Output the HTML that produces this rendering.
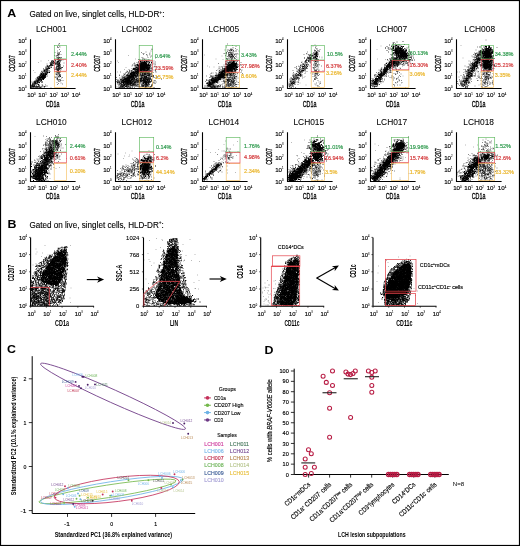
<!DOCTYPE html><html><head><meta charset="utf-8"><style>html,body{margin:0;padding:0;background:#fff;overflow:hidden;width:520px;height:546px;}svg{display:block;will-change:transform;}</style></head><body><svg width="520" height="546" viewBox="0 0 520 546" font-family="Liberation Sans, sans-serif">
<rect x="0" y="0" width="520" height="546" fill="#fff"/>
<text transform="translate(7.2 16.9) scale(1.15 1)" x="0" y="0" font-size="10.8" font-weight="bold">A</text>
<text x="29.40" y="16.80" font-size="8.6" fill="#000" textLength="135.0" lengthAdjust="spacingAndGlyphs" stroke="#000" stroke-width="0.12">Gated on live, singlet cells, HLD-DR<tspan font-size="5" dy="-3.2">+</tspan><tspan dy="3.2">:</tspan></text>
<path transform="scale(0.5)" d="M97 121h0m-15 1h0m33 0h0m-38 3h0m-10 16h0m26 2h0m-23 2h0m39 9h0m-30 5h0m0 7h0m5 3h0m7 0h0m3 3h0m8 3h0" stroke="#000" stroke-width="1.20" stroke-linecap="square" fill="none" stroke-opacity="0.45"/>
<path transform="scale(0.5)" d="M119 87h0m-1 1h0m-1 2h0m2 2h0m-4 1h0m5 1h0m-5 1h0m2 0h0m2 4h0m-4 3h0m6 1h0m-11 2h0m6 0h0m3 0h0m-3 1h0m-1 1h0m3 0h0m0 0h0m1 1h0m-3 1h0m1 0h0m1 0h0m4 0h0m-7 1h0m2 0h0m1 0h0m-9 1h0m5 0h0m1 0h0m-3 1h0m1 0h0m4 0h0m-1 2h0m-2 1h0m3 0h0m2 0h0m0 0h0m1 0h0m3 0h0m-9 1h0m1 0h0m1 0h0m1 0h0m4 0h0m1 0h0m-5 1h0m0 0h0m0 1h0m1 0h0m2 0h0m-5 1h0m0 0h0m1 0h0m1 0h0m1 0h0m0 0h0m-4 1h0m4 0h0m1 0h0m3 0h0m0 0h0m4 0h0m-22 1h0m2 0h0m5 0h0m0 0h0m6 0h0m1 0h0m0 0h0m1 0h0m2 0h0m1 0h0m-19 1h0m2 0h0m0 0h0m2 0h0m13 0h0m-17 1h0m3 0h0m1 0h0m0 0h0m0 0h0m0 0h0m5 0h0m3 0h0m0 0h0m1 0h0m0 0h0m1 0h0m0 0h0m0 0h0m2 0h0m2 0h0m-18 1h0m0 0h0m0 0h0m2 0h0m2 0h0m4 0h0m3 0h0m1 0h0m1 0h0m0 0h0m0 0h0m0 0h0m0 0h0m1 0h0m-12 1h0m0 0h0m4 0h0m0 0h0m0 0h0m3 0h0m2 0h0m1 0h0m4 0h0m1 0h0m-20 1h0m1 0h0m1 0h0m0 0h0m0 0h0m0 0h0m2 0h0m3 0h0m0 0h0m0 0h0m1 0h0m1 0h0m3 0h0m2 0h0m2 0h0m0 0h0m3 0h0m0 0h0m0 0h0m9 0h0m-25 1h0m2 0h0m1 0h0m2 0h0m3 0h0m0 0h0m1 0h0m1 0h0m1 0h0m2 0h0m0 0h0m1 0h0m1 0h0m1 0h0m0 0h0m0 0h0m0 0h0m-25 1h0m7 0h0m1 0h0m0 0h0m2 0h0m11 0h0m1 0h0m3 0h0m1 0h0m-19 1h0m0 0h0m1 0h0m1 0h0m0 0h0m1 0h0m0 0h0m0 0h0m7 0h0m1 0h0m2 0h0m1 0h0m1 0h0m1 0h0m2 0h0m1 0h0m-19 1h0m1 0h0m1 0h0m0 0h0m4 0h0m7 0h0m0 0h0m2 0h0m1 0h0m0 0h0m0 0h0m0 0h0m1 0h0m1 0h0m1 0h0m1 0h0m-26 1h0m0 0h0m4 0h0m1 0h0m1 0h0m0 0h0m2 0h0m1 0h0m0 0h0m1 0h0m0 0h0m1 0h0m10 0h0m1 0h0m2 0h0m0 0h0m1 0h0m-27 1h0m5 0h0m0 0h0m1 0h0m1 0h0m0 0h0m14 0h0m2 0h0m2 0h0m1 0h0m0 0h0m8 0h0m-35 1h0m3 0h0m0 0h0m0 0h0m1 0h0m1 0h0m1 0h0m16 0h0m0 0h0m1 0h0m1 0h0m1 0h0m1 0h0m0 0h0m0 0h0m3 0h0m-23 1h0m4 0h0m1 0h0m10 0h0m0 0h0m3 0h0m0 0h0m2 0h0m3 0h0m-30 1h0m2 0h0m3 0h0m0 0h0m1 0h0m1 0h0m4 0h0m1 0h0m10 0h0m5 0h0m1 0h0m3 0h0m1 0h0m1 0h0m1 0h0m0 0h0m-31 1h0m3 0h0m1 0h0m0 0h0m2 0h0m8 0h0m3 0h0m2 0h0m3 0h0m0 0h0m1 0h0m1 0h0m0 0h0m1 0h0m1 0h0m0 0h0m-33 1h0m5 0h0m2 0h0m1 0h0m0 0h0m1 0h0m1 0h0m0 0h0m1 0h0m1 0h0m15 0h0m3 0h0m0 0h0m1 0h0m2 0h0m0 0h0m1 0h0m1 0h0m-31 1h0m1 0h0m1 0h0m0 0h0m3 0h0m1 0h0m15 0h0m1 0h0m1 0h0m0 0h0m0 0h0m1 0h0m3 0h0m2 0h0m1 0h0m2 0h0m-31 1h0m0 0h0m1 0h0m0 0h0m2 0h0m0 0h0m0 0h0m14 0h0m2 0h0m3 0h0m2 0h0m0 0h0m0 0h0m2 0h0m0 0h0m1 0h0m-32 1h0m1 0h0m0 0h0m1 0h0m0 0h0m3 0h0m0 0h0m21 0h0m2 0h0m1 0h0m0 0h0m1 0h0m-25 1h0m1 0h0m1 0h0m1 0h0m0 0h0m3 0h0m18 0h0m0 0h0m0 0h0m1 0h0m-33 1h0m4 0h0m1 0h0m2 0h0m0 0h0m0 0h0m25 0h0m0 0h0m1 0h0m3 0h0m1 0h0m-38 1h0m6 0h0m5 0h0m6 0h0m13 0h0m4 0h0m-33 1h0m1 0h0m7 0h0m1 0h0m17 0h0m5 0h0m0 0h0m2 0h0m0 0h0m2 0h0m1 0h0m-38 1h0m3 0h0m7 0h0m0 0h0m4 0h0m18 0h0m0 0h0m4 0h0m2 0h0m-35 1h0m3 0h0m27 0h0m2 0h0m0 0h0m2 0h0m-37 1h0m1 0h0m0 0h0m2 0h0m2 0h0m0 0h0m1 0h0m24 0h0m2 0h0m3 0h0m2 0h0m-38 1h0m3 0h0m3 0h0m-4 1h0m1 0h0m0 0h0m0 0h0m2 0h0m1 0h0m3 0h0m22 0h0m1 0h0m1 0h0m2 0h0m2 0h0m3 0h0m-42 1h0m2 0h0m0 0h0m0 0h0m1 0h0m1 0h0m1 0h0m0 0h0m2 0h0m1 0h0m2 0h0m25 0h0m5 0h0m0 0h0m0 0h0m1 0h0m-40 1h0m1 0h0m0 0h0m1 0h0m2 0h0m1 0h0m1 0h0m0 0h0m0 0h0m2 0h0m32 0h0m0 0h0m-40 1h0m1 0h0m1 0h0m1 0h0m1 0h0m1 0h0m2 0h0m1 0h0m27 0h0m3 0h0m0 0h0m1 0h0m2 0h0m-44 1h0m1 0h0m1 0h0m0 0h0m4 0h0m0 0h0m6 0h0m23 0h0m5 0h0m4 0h0m0 0h0m0 0h0m-46 1h0m3 0h0m2 0h0m2 0h0m2 0h0m7 0h0m18 0h0m8 0h0m2 0h0m-45 1h0m1 0h0m1 0h0m2 0h0m0 0h0m1 0h0m1 0h0m0 0h0m1 0h0m0 0h0m2 0h0m2 0h0m26 0h0m3 0h0m11 0h0m-50 1h0m1 0h0m2 0h0m1 0h0m0 0h0m1 0h0m1 0h0m3 0h0m1 0h0m2 0h0m27 0h0m1 0h0m8 0h0m-51 1h0m4 0h0m1 0h0m0 0h0m1 0h0m1 0h0m2 0h0m34 0h0m0 0h0m-41 1h0m2 0h0m2 0h0m1 0h0m0 0h0m0 0h0m1 0h0m0 0h0m33 0h0m-37 1h0m0 0h0m1 0h0m0 0h0m3 0h0m2 0h0m33 0h0m1 0h0m3 0h0m-47 1h0m0 0h0m1 0h0m0 0h0m2 0h0m1 0h0m2 0h0m0 0h0m38 0h0m0 0h0m2 0h0m2 0h0m1 0h0m0 0h0m-47 1h0m2 0h0m0 0h0m0 0h0m1 0h0m3 0h0m42 0h0m4 0h0m-57 1h0m2 0h0m1 0h0m0 0h0m2 0h0m0 0h0m1 0h0m1 0h0m1 0h0m1 0h0m39 0h0m-49 1h0m1 0h0m2 0h0m1 0h0m1 0h0m2 0h0m1 0h0m0 0h0m1 0h0m41 0h0m2 0h0m-56 1h0m4 0h0m1 0h0m0 0h0m1 0h0m1 0h0m0 0h0m2 0h0m2 0h0m4 0h0m-12 1h0m2 0h0m1 0h0m0 0h0m1 0h0m0 0h0m1 0h0m2 0h0m1 0h0m39 0h0m-49 1h0m4 0h0m1 0h0m0 0h0m1 0h0m1 0h0m3 0h0m0 0h0m0 0h0m0 0h0m1 0h0m46 0h0m-56 1h0m2 0h0m1 0h0m1 0h0m1 0h0m0 0h0m1 0h0m0 0h0m1 0h0m44 0h0m-52 1h0m0 0h0m2 0h0m0 0h0m1 0h0m1 0h0m2 0h0m1 0h0m1 0h0m52 0h0m-61 1h0m1 0h0m1 0h0m2 0h0m2 0h0m5 0h0m40 0h0m-49 1h0m0 0h0m3 0h0m0 0h0m1 0h0m9 0h0m6 0h0m-22 1h0m1 0h0m1 0h0m0 0h0m1 0h0m1 0h0m2 0h0m4 0h0m4 0h0m2 0h0m-16 1h0m1 0h0m1 0h0m1 0h0m2 0h0m1 0h0m0 0h0m1 0h0m7 0h0m7 0h0m1 0h0m1 0h0m5 0h0m3 0h0m-30 1h0m0 0h0m0 0h0m1 0h0m1 0h0m1 0h0m0 0h0m0 0h0m1 0h0m2 0h0m0 0h0m3 0h0m1 0h0m0 0h0m0 0h0m1 0h0m2 0h0m1 0h0m0 0h0m10 0h0m1 0h0m0 0h0m1 0h0m-27 1h0m2 0h0m2 0h0m1 0h0m0 0h0m1 0h0m1 0h0m1 0h0m1 0h0m1 0h0m2 0h0m2 0h0m2 0h0m0 0h0m1 0h0m1 0h0m2 0h0m0 0h0m-20 1h0m1 0h0m2 0h0m6 0h0m0 0h0m2 0h0m1 0h0m3 0h0m2 0h0m1 0h0m0 0h0m8 0h0m-25 1h0m3 0h0m9 0h0m6 0h0m4 0h0" stroke="#000" stroke-width="1.40" stroke-linecap="square" fill="none" stroke-opacity="0.65"/>
<path transform="scale(0.5)" d="M99 137h0m-10 4h0m9 1h0m-10 1h0m6 0h0m-4 1h0m4 0h0m1 1h0m3 0h0m1 0h0m-13 1h0m4 0h0m2 0h0m3 0h0m-5 1h0m2 0h0m-10 1h0m1 0h0m0 0h0m4 0h0m0 0h0m4 0h0m0 0h0m2 0h0m1 0h0m-10 1h0m6 0h0m1 0h0m2 0h0m-6 1h0m1 0h0m2 0h0m1 0h0m-6 1h0m2 0h0m0 0h0m0 0h0m1 0h0m1 0h0m1 0h0m0 0h0m0 0h0m-5 1h0m3 0h0m2 0h0m0 0h0m4 0h0m-14 1h0m3 0h0m1 0h0m1 0h0m1 0h0m0 0h0m0 0h0m0 0h0m2 0h0m0 0h0m-6 1h0m1 0h0m1 0h0m0 0h0m1 0h0m1 0h0m2 0h0m1 0h0m1 0h0m1 0h0m0 0h0m-12 1h0m2 0h0m2 0h0m1 0h0m0 0h0m0 0h0m1 0h0m0 0h0m0 0h0m1 0h0m0 0h0m1 0h0m1 0h0m0 0h0m0 0h0m0 0h0m1 0h0m-8 1h0m0 0h0m3 0h0m1 0h0m1 0h0m1 0h0m0 0h0m2 0h0m-13 1h0m8 0h0m1 0h0m2 0h0m1 0h0m-4 1h0m2 0h0m1 0h0m-10 1h0m3 0h0m0 0h0m2 0h0m2 0h0m3 0h0m-4 1h0m-5 1h0m5 0h0m-8 1h0m5 0h0m1 0h0m-6 1h0m9 0h0m-8 2h0m2 0h0m1 0h0m5 0h0m-7 4h0" stroke="#000" stroke-width="2.00" stroke-linecap="square" fill="none" stroke-opacity="1.0"/>
<text x="51.30" y="32.00" font-size="8.4" fill="#000" text-anchor="middle" stroke="#000" stroke-width="0.05">LCH001</text>
<path d="M30.50 39.20V88.50H75.60" stroke="#000" stroke-width="1.1" fill="none"/>
<text x="22.40" y="90.70" font-size="6.2" text-anchor="middle" fill="#000" stroke="#000" stroke-width="0.15">10<tspan font-size="2.79" dy="-2.23" stroke-width="0.05">0</tspan></text>
<text x="22.40" y="78.65" font-size="6.2" text-anchor="middle" fill="#000" stroke="#000" stroke-width="0.15">10<tspan font-size="2.79" dy="-2.23" stroke-width="0.05">1</tspan></text>
<text x="22.40" y="66.60" font-size="6.2" text-anchor="middle" fill="#000" stroke="#000" stroke-width="0.15">10<tspan font-size="2.79" dy="-2.23" stroke-width="0.05">2</tspan></text>
<text x="22.40" y="54.55" font-size="6.2" text-anchor="middle" fill="#000" stroke="#000" stroke-width="0.15">10<tspan font-size="2.79" dy="-2.23" stroke-width="0.05">3</tspan></text>
<text x="22.40" y="42.50" font-size="6.2" text-anchor="middle" fill="#000" stroke="#000" stroke-width="0.15">10<tspan font-size="2.79" dy="-2.23" stroke-width="0.05">4</tspan></text>
<text x="31.40" y="96.80" font-size="6.2" text-anchor="middle" fill="#000" stroke="#000" stroke-width="0.15">10<tspan font-size="2.79" dy="-2.23" stroke-width="0.05">0</tspan></text>
<text x="42.55" y="96.80" font-size="6.2" text-anchor="middle" fill="#000" stroke="#000" stroke-width="0.15">10<tspan font-size="2.79" dy="-2.23" stroke-width="0.05">1</tspan></text>
<text x="53.70" y="96.80" font-size="6.2" text-anchor="middle" fill="#000" stroke="#000" stroke-width="0.15">10<tspan font-size="2.79" dy="-2.23" stroke-width="0.05">2</tspan></text>
<text x="64.85" y="96.80" font-size="6.2" text-anchor="middle" fill="#000" stroke="#000" stroke-width="0.15">10<tspan font-size="2.79" dy="-2.23" stroke-width="0.05">3</tspan></text>
<text x="76.00" y="96.80" font-size="6.2" text-anchor="middle" fill="#000" stroke="#000" stroke-width="0.15">10<tspan font-size="2.79" dy="-2.23" stroke-width="0.05">4</tspan></text>
<text x="14.80" y="63.50" font-size="8.6" fill="#000" text-anchor="middle" textLength="16.5" lengthAdjust="spacingAndGlyphs" transform="rotate(-90 14.80 63.50)" stroke="#000" stroke-width="0.3">CD207</text>
<text x="52.60" y="107.00" font-size="8.6" fill="#000" text-anchor="middle" textLength="13.7" lengthAdjust="spacingAndGlyphs" stroke="#000" stroke-width="0.3">CD1a</text>
<rect x="54.30" y="45.50" width="12.30" height="13.40" fill="none" stroke="#5fb95f" stroke-width="0.65"/>
<rect x="54.30" y="71.80" width="12.30" height="15.70" fill="none" stroke="#f6c160" stroke-width="0.65"/>
<rect x="54.30" y="59.40" width="12.30" height="11.80" fill="none" stroke="#e4444c" stroke-width="0.65"/>
<text x="71.00" y="55.90" font-size="5.5" fill="#2f9a4e" stroke="#2f9a4e" stroke-width="0.18">2.44%</text>
<text x="71.00" y="67.30" font-size="5.5" fill="#d3383a" stroke="#d3383a" stroke-width="0.18">2.40%</text>
<text x="71.00" y="76.80" font-size="5.5" fill="#eab52a" stroke="#eab52a" stroke-width="0.18">2.44%</text>
<path transform="scale(0.5)" d="M257 111h0m14 7h0m-36 4h0m2 3h0m15 10h0m16 0h0m-19 4h0m-14 5h0m16 1h0m-5 8h0m9 0h0m0 1h0m13 4h0m2 5h0m-35 2h0m3 0h0m19 0h0m11 0h0m-30 6h0m42 4h0" stroke="#000" stroke-width="1.20" stroke-linecap="square" fill="none" stroke-opacity="0.45"/>
<path transform="scale(0.5)" d="M304 98h0m0 1h0m-2 3h0m-10 2h0m-9 1h0m17 1h0m-14 1h0m2 0h0m11 1h0m-12 1h0m6 0h0m1 1h0m6 0h0m-5 2h0m8 0h0m-2 2h0m-17 1h0m12 0h0m-10 1h0m25 0h0m-26 2h0m7 0h0m-15 1h0m2 0h0m10 0h0m7 0h0m2 0h0m-17 1h0m4 0h0m7 0h0m-11 1h0m3 0h0m4 0h0m6 0h0m4 0h0m-15 1h0m8 0h0m2 0h0m11 0h0m4 0h0m-27 1h0m7 0h0m7 0h0m2 0h0m2 0h0m3 0h0m-24 1h0m7 0h0m3 0h0m0 0h0m5 0h0m18 0h0m-37 1h0m7 0h0m1 0h0m0 0h0m2 0h0m0 0h0m1 0h0m3 0h0m0 0h0m4 0h0m3 0h0m2 0h0m-28 1h0m15 0h0m4 0h0m0 0h0m1 0h0m0 0h0m1 0h0m9 0h0m9 0h0m-40 1h0m11 0h0m0 0h0m3 0h0m0 0h0m1 0h0m5 0h0m1 0h0m1 0h0m0 0h0m1 0h0m1 0h0m2 0h0m3 0h0m0 0h0m6 0h0m-33 1h0m5 0h0m2 0h0m3 0h0m5 0h0m2 0h0m1 0h0m1 0h0m3 0h0m1 0h0m5 0h0m2 0h0m8 0h0m3 0h0m-41 1h0m3 0h0m1 0h0m10 0h0m0 0h0m0 0h0m2 0h0m3 0h0m1 0h0m0 0h0m1 0h0m0 0h0m1 0h0m3 0h0m6 0h0m0 0h0m3 0h0m-39 1h0m1 0h0m11 0h0m2 0h0m0 0h0m1 0h0m1 0h0m0 0h0m1 0h0m2 0h0m2 0h0m1 0h0m0 0h0m0 0h0m1 0h0m1 0h0m1 0h0m1 0h0m2 0h0m0 0h0m6 0h0m11 0h0m-38 1h0m2 0h0m1 0h0m2 0h0m0 0h0m7 0h0m0 0h0m0 0h0m3 0h0m1 0h0m1 0h0m1 0h0m1 0h0m2 0h0m0 0h0m1 0h0m1 0h0m1 0h0m3 0h0m1 0h0m2 0h0m-38 1h0m7 0h0m3 0h0m0 0h0m1 0h0m5 0h0m1 0h0m1 0h0m1 0h0m4 0h0m0 0h0m0 0h0m0 0h0m1 0h0m0 0h0m1 0h0m0 0h0m0 0h0m2 0h0m0 0h0m0 0h0m2 0h0m0 0h0m1 0h0m2 0h0m3 0h0m1 0h0m1 0h0m1 0h0m-32 1h0m2 0h0m5 0h0m0 0h0m1 0h0m4 0h0m0 0h0m0 0h0m2 0h0m1 0h0m0 0h0m0 0h0m2 0h0m1 0h0m2 0h0m0 0h0m1 0h0m0 0h0m1 0h0m0 0h0m0 0h0m1 0h0m0 0h0m4 0h0m3 0h0m0 0h0m9 0h0m-30 1h0m2 0h0m1 0h0m0 0h0m7 0h0m0 0h0m1 0h0m0 0h0m3 0h0m1 0h0m1 0h0m1 0h0m12 0h0m4 0h0m1 0h0m-38 1h0m3 0h0m1 0h0m0 0h0m5 0h0m2 0h0m1 0h0m0 0h0m1 0h0m0 0h0m2 0h0m2 0h0m1 0h0m0 0h0m1 0h0m1 0h0m0 0h0m1 0h0m1 0h0m0 0h0m3 0h0m4 0h0m-34 1h0m1 0h0m4 0h0m1 0h0m1 0h0m2 0h0m0 0h0m2 0h0m0 0h0m1 0h0m0 0h0m1 0h0m2 0h0m0 0h0m1 0h0m0 0h0m0 0h0m1 0h0m1 0h0m0 0h0m1 0h0m0 0h0m2 0h0m0 0h0m0 0h0m0 0h0m0 0h0m1 0h0m2 0h0m0 0h0m1 0h0m2 0h0m1 0h0m0 0h0m5 0h0m-39 1h0m3 0h0m2 0h0m0 0h0m0 0h0m4 0h0m2 0h0m2 0h0m0 0h0m3 0h0m6 0h0m0 0h0m3 0h0m3 0h0m1 0h0m2 0h0m1 0h0m2 0h0m1 0h0m1 0h0m2 0h0m-35 1h0m0 0h0m0 0h0m0 0h0m1 0h0m0 0h0m2 0h0m4 0h0m0 0h0m5 0h0m3 0h0m3 0h0m0 0h0m0 0h0m2 0h0m0 0h0m1 0h0m1 0h0m0 0h0m3 0h0m1 0h0m3 0h0m2 0h0m1 0h0m4 0h0m1 0h0m1 0h0m14 0h0m-61 1h0m7 0h0m5 0h0m0 0h0m4 0h0m1 0h0m2 0h0m0 0h0m1 0h0m1 0h0m1 0h0m2 0h0m2 0h0m4 0h0m1 0h0m1 0h0m1 0h0m0 0h0m3 0h0m0 0h0m3 0h0m1 0h0m0 0h0m-30 1h0m4 0h0m3 0h0m2 0h0m2 0h0m1 0h0m0 0h0m1 0h0m0 0h0m1 0h0m5 0h0m0 0h0m1 0h0m1 0h0m1 0h0m2 0h0m0 0h0m1 0h0m0 0h0m1 0h0m1 0h0m2 0h0m2 0h0m0 0h0m2 0h0m7 0h0m-44 1h0m0 0h0m13 0h0m1 0h0m4 0h0m2 0h0m2 0h0m3 0h0m3 0h0m1 0h0m2 0h0m0 0h0m3 0h0m2 0h0m3 0h0m8 0h0m-57 1h0m5 0h0m2 0h0m11 0h0m0 0h0m3 0h0m4 0h0m3 0h0m1 0h0m1 0h0m0 0h0m3 0h0m3 0h0m3 0h0m0 0h0m0 0h0m1 0h0m3 0h0m1 0h0m2 0h0m1 0h0m1 0h0m9 0h0m-56 1h0m10 0h0m9 0h0m2 0h0m2 0h0m2 0h0m2 0h0m3 0h0m2 0h0m2 0h0m5 0h0m7 0h0m-60 1h0m13 0h0m2 0h0m7 0h0m1 0h0m2 0h0m1 0h0m2 0h0m1 0h0m1 0h0m1 0h0m3 0h0m7 0h0m5 0h0m1 0h0m2 0h0m0 0h0m3 0h0m10 0h0m-50 1h0m9 0h0m0 0h0m1 0h0m1 0h0m6 0h0m1 0h0m7 0h0m3 0h0m2 0h0m1 0h0m4 0h0m0 0h0m3 0h0m4 0h0m0 0h0m3 0h0m1 0h0m-35 1h0m2 0h0m1 0h0m1 0h0m4 0h0m0 0h0m2 0h0m1 0h0m9 0h0m2 0h0m2 0h0m8 0h0m7 0h0m-52 1h0m6 0h0m1 0h0m3 0h0m2 0h0m4 0h0m0 0h0m1 0h0m1 0h0m0 0h0m8 0h0m1 0h0m12 0h0m1 0h0m7 0h0m-50 1h0m0 0h0m7 0h0m3 0h0m0 0h0m5 0h0m0 0h0m1 0h0m3 0h0m5 0h0m2 0h0m6 0h0m8 0h0m2 0h0m-41 1h0m1 0h0m6 0h0m0 0h0m5 0h0m5 0h0m0 0h0m1 0h0m6 0h0m9 0h0m4 0h0m3 0h0m2 0h0m4 0h0m-56 1h0m14 0h0m1 0h0m9 0h0m1 0h0m2 0h0m3 0h0m1 0h0m1 0h0m1 0h0m4 0h0m1 0h0m1 0h0m4 0h0m1 0h0m2 0h0m4 0h0m1 0h0m2 0h0m-53 1h0m8 0h0m7 0h0m0 0h0m0 0h0m2 0h0m1 0h0m4 0h0m1 0h0m2 0h0m0 0h0m2 0h0m3 0h0m1 0h0m0 0h0m2 0h0m6 0h0m2 0h0m1 0h0m-37 1h0m5 0h0m2 0h0m2 0h0m0 0h0m0 0h0m4 0h0m0 0h0m1 0h0m0 0h0m4 0h0m3 0h0m1 0h0m4 0h0m0 0h0m1 0h0m1 0h0m0 0h0m2 0h0m0 0h0m8 0h0m2 0h0m0 0h0m3 0h0m-38 1h0m2 0h0m5 0h0m2 0h0m0 0h0m0 0h0m1 0h0m1 0h0m4 0h0m0 0h0m2 0h0m0 0h0m1 0h0m7 0h0m6 0h0m0 0h0m4 0h0m5 0h0m2 0h0m-47 1h0m1 0h0m2 0h0m7 0h0m3 0h0m2 0h0m3 0h0m0 0h0m0 0h0m2 0h0m1 0h0m0 0h0m2 0h0m0 0h0m5 0h0m4 0h0m1 0h0m9 0h0m2 0h0m1 0h0m-56 1h0m12 0h0m2 0h0m1 0h0m1 0h0m7 0h0m0 0h0m0 0h0m1 0h0m2 0h0m3 0h0m1 0h0m4 0h0m3 0h0m24 0h0m-55 1h0m3 0h0m5 0h0m6 0h0m1 0h0m1 0h0m2 0h0m1 0h0m2 0h0m0 0h0m4 0h0m1 0h0m0 0h0m1 0h0m0 0h0m0 0h0m3 0h0m1 0h0m1 0h0m2 0h0m1 0h0m6 0h0m2 0h0m1 0h0m16 0h0m-55 1h0m1 0h0m4 0h0m1 0h0m0 0h0m3 0h0m1 0h0m0 0h0m1 0h0m4 0h0m1 0h0m2 0h0m2 0h0m1 0h0m3 0h0m0 0h0m5 0h0m2 0h0m1 0h0m3 0h0m3 0h0m0 0h0m-40 1h0m3 0h0m4 0h0m2 0h0m0 0h0m0 0h0m0 0h0m1 0h0m1 0h0m2 0h0m2 0h0m1 0h0m4 0h0m3 0h0m1 0h0m1 0h0m0 0h0m2 0h0m9 0h0m0 0h0m1 0h0m2 0h0m3 0h0m6 0h0m-57 1h0m8 0h0m2 0h0m3 0h0m0 0h0m1 0h0m0 0h0m6 0h0m2 0h0m0 0h0m1 0h0m0 0h0m3 0h0m0 0h0m4 0h0m2 0h0m0 0h0m0 0h0m1 0h0m2 0h0m2 0h0m0 0h0m3 0h0m0 0h0m3 0h0m5 0h0m1 0h0m5 0h0m1 0h0m-53 1h0m1 0h0m2 0h0m3 0h0m1 0h0m4 0h0m4 0h0m1 0h0m5 0h0m0 0h0m1 0h0m2 0h0m1 0h0m2 0h0m0 0h0m2 0h0m1 0h0m2 0h0m2 0h0m0 0h0m1 0h0m1 0h0m0 0h0m1 0h0m0 0h0m2 0h0m10 0h0m7 0h0m-55 1h0m0 0h0m4 0h0m5 0h0m0 0h0m0 0h0m0 0h0m1 0h0m3 0h0m2 0h0m6 0h0m4 0h0m1 0h0m1 0h0m0 0h0m1 0h0m2 0h0m1 0h0m1 0h0m4 0h0m1 0h0m1 0h0m1 0h0m6 0h0m4 0h0m1 0h0m-45 1h0m2 0h0m2 0h0m1 0h0m1 0h0m2 0h0m2 0h0m1 0h0m2 0h0m1 0h0m1 0h0m1 0h0m0 0h0m1 0h0m1 0h0m1 0h0m3 0h0m2 0h0m2 0h0m2 0h0m5 0h0m1 0h0m2 0h0m1 0h0m4 0h0m17 0h0m-66 1h0m5 0h0m0 0h0m2 0h0m2 0h0m9 0h0m5 0h0m2 0h0m1 0h0m1 0h0m0 0h0m1 0h0m0 0h0m1 0h0m0 0h0m2 0h0m1 0h0m0 0h0m1 0h0m1 0h0m1 0h0m1 0h0m2 0h0m1 0h0m0 0h0m0 0h0m2 0h0m2 0h0m2 0h0m9 0h0m-53 1h0m1 0h0m0 0h0m0 0h0m1 0h0m1 0h0m1 0h0m1 0h0m4 0h0m0 0h0m1 0h0m1 0h0m0 0h0m1 0h0m0 0h0m0 0h0m1 0h0m2 0h0m7 0h0m0 0h0m1 0h0m0 0h0m1 0h0m0 0h0m0 0h0m2 0h0m1 0h0m0 0h0m0 0h0m0 0h0m1 0h0m0 0h0m0 0h0m2 0h0m1 0h0m1 0h0m0 0h0m2 0h0m2 0h0m1 0h0m1 0h0m2 0h0m6 0h0m12 0h0m-57 1h0m3 0h0m1 0h0m3 0h0m0 0h0m1 0h0m1 0h0m3 0h0m0 0h0m2 0h0m1 0h0m1 0h0m1 0h0m0 0h0m2 0h0m0 0h0m1 0h0m0 0h0m1 0h0m0 0h0m0 0h0m1 0h0m1 0h0m1 0h0m1 0h0m3 0h0m0 0h0m1 0h0m0 0h0m1 0h0m4 0h0m0 0h0m2 0h0m0 0h0m0 0h0m5 0h0m3 0h0m7 0h0m4 0h0m-55 1h0m2 0h0m2 0h0m1 0h0m12 0h0m0 0h0m3 0h0m0 0h0m0 0h0m1 0h0m0 0h0m1 0h0m1 0h0m1 0h0m1 0h0m2 0h0m4 0h0m1 0h0m1 0h0m1 0h0m0 0h0m4 0h0m2 0h0m1 0h0m3 0h0m2 0h0m-41 1h0m1 0h0m1 0h0m0 0h0m2 0h0m3 0h0m1 0h0m5 0h0m1 0h0m1 0h0m1 0h0m2 0h0m2 0h0m0 0h0m1 0h0m0 0h0m1 0h0m0 0h0m0 0h0m1 0h0m0 0h0m1 0h0m1 0h0m1 0h0m0 0h0m1 0h0m1 0h0m2 0h0m0 0h0m2 0h0m15 0h0m-52 1h0m3 0h0m1 0h0m3 0h0m0 0h0m1 0h0m1 0h0m4 0h0m3 0h0m1 0h0m1 0h0m1 0h0m0 0h0m0 0h0m1 0h0m2 0h0m1 0h0m2 0h0m0 0h0m0 0h0m1 0h0m0 0h0m0 0h0m1 0h0m0 0h0m0 0h0m1 0h0m1 0h0m2 0h0m1 0h0m3 0h0m0 0h0m6 0h0m4 0h0m5 0h0m2 0h0m-49 1h0m2 0h0m2 0h0m1 0h0m1 0h0m0 0h0m0 0h0m1 0h0m2 0h0m1 0h0m0 0h0m1 0h0m1 0h0m0 0h0m3 0h0m0 0h0m1 0h0m1 0h0m0 0h0m2 0h0m0 0h0m0 0h0m1 0h0m1 0h0m2 0h0m4 0h0m1 0h0m0 0h0m1 0h0m1 0h0m0 0h0m0 0h0m2 0h0m1 0h0m1 0h0m2 0h0m1 0h0m1 0h0m-38 1h0m8 0h0m2 0h0m4 0h0m3 0h0m1 0h0m1 0h0m3 0h0m0 0h0m1 0h0m3 0h0m1 0h0m0 0h0m2 0h0m1 0h0m1 0h0m1 0h0m2 0h0m5 0h0m2 0h0m-38 1h0m0 0h0m2 0h0m0 0h0m1 0h0m1 0h0m2 0h0m0 0h0m0 0h0m1 0h0m1 0h0m0 0h0m0 0h0m4 0h0m1 0h0m0 0h0m2 0h0m2 0h0m3 0h0m1 0h0m1 0h0m0 0h0m1 0h0m1 0h0m1 0h0m1 0h0m2 0h0m3 0h0m1 0h0m3 0h0m3 0h0m6 0h0m-47 1h0m6 0h0m0 0h0m1 0h0m2 0h0m1 0h0m2 0h0m2 0h0m0 0h0m0 0h0m1 0h0m0 0h0m2 0h0m1 0h0m4 0h0m10 0h0m3 0h0m-32 1h0m1 0h0m0 0h0m1 0h0m2 0h0m0 0h0m0 0h0m0 0h0m2 0h0m1 0h0m3 0h0m3 0h0m3 0h0m0 0h0m3 0h0m8 0h0m6 0h0m3 0h0m-43 1h0m4 0h0m2 0h0m1 0h0m1 0h0m1 0h0m3 0h0m1 0h0m3 0h0m3 0h0m2 0h0m1 0h0m0 0h0m3 0h0m2 0h0m3 0h0m0 0h0m1 0h0m0 0h0m-27 1h0m1 0h0m3 0h0m0 0h0m0 0h0m3 0h0m3 0h0m0 0h0m1 0h0m6 0h0m3 0h0m3 0h0m8 0h0m-31 1h0m7 0h0m0 0h0m3 0h0m5 0h0m6 0h0m2 0h0" stroke="#000" stroke-width="1.40" stroke-linecap="square" fill="none" stroke-opacity="0.65"/>
<path transform="scale(0.5)" d="M286 128h0m2 9h0m1 0h0m-6 1h0m14 1h0m-20 1h0m18 0h0m-9 1h0m6 0h0m-9 1h0m4 0h0m2 0h0m2 0h0m6 0h0m-13 1h0m3 0h0m5 0h0m0 0h0m7 0h0m-18 1h0m3 0h0m2 0h0m5 0h0m13 0h0m8 0h0m-31 1h0m3 0h0m0 0h0m7 0h0m2 0h0m5 0h0m8 0h0m-21 1h0m1 0h0m1 0h0m2 0h0m1 0h0m7 0h0m-13 1h0m1 0h0m4 0h0m3 0h0m2 0h0m0 0h0m1 0h0m2 0h0m2 0h0m-18 1h0m7 0h0m2 0h0m1 0h0m9 0h0m1 0h0m1 0h0m1 0h0m-27 1h0m9 0h0m1 0h0m3 0h0m3 0h0m0 0h0m4 0h0m2 0h0m1 0h0m-21 1h0m4 0h0m4 0h0m6 0h0m5 0h0m1 0h0m0 0h0m2 0h0m5 0h0m-30 1h0m4 0h0m5 0h0m0 0h0m1 0h0m1 0h0m1 0h0m7 0h0m1 0h0m1 0h0m1 0h0m2 0h0m8 0h0m-24 1h0m3 0h0m3 0h0m0 0h0m1 0h0m2 0h0m2 0h0m3 0h0m2 0h0m1 0h0m2 0h0m2 0h0m0 0h0m1 0h0m-15 1h0m2 0h0m0 0h0m1 0h0m0 0h0m10 0h0m2 0h0m2 0h0m-30 1h0m6 0h0m1 0h0m4 0h0m2 0h0m3 0h0m0 0h0m0 0h0m1 0h0m3 0h0m2 0h0m2 0h0m12 0h0m2 0h0m-30 1h0m4 0h0m1 0h0m0 0h0m2 0h0m1 0h0m2 0h0m2 0h0m11 0h0m-28 1h0m2 0h0m1 0h0m0 0h0m2 0h0m2 0h0m0 0h0m2 0h0m2 0h0m0 0h0m1 0h0m7 0h0m2 0h0m11 0h0m-36 1h0m3 0h0m3 0h0m0 0h0m2 0h0m3 0h0m1 0h0m2 0h0m0 0h0m2 0h0m0 0h0m1 0h0m2 0h0m1 0h0m2 0h0m3 0h0m-27 1h0m7 0h0m1 0h0m1 0h0m1 0h0m3 0h0m2 0h0m2 0h0m6 0h0m0 0h0m1 0h0m0 0h0m0 0h0m1 0h0m3 0h0m21 0h0m-50 1h0m3 0h0m8 0h0m3 0h0m1 0h0m1 0h0m2 0h0m2 0h0m0 0h0m2 0h0m0 0h0m0 0h0m0 0h0m0 0h0m1 0h0m2 0h0m2 0h0m2 0h0m-36 1h0m11 0h0m2 0h0m0 0h0m2 0h0m2 0h0m5 0h0m2 0h0m2 0h0m1 0h0m5 0h0m2 0h0m3 0h0m-29 1h0m4 0h0m0 0h0m1 0h0m2 0h0m2 0h0m2 0h0m1 0h0m1 0h0m0 0h0m1 0h0m0 0h0m2 0h0m0 0h0m1 0h0m4 0h0m0 0h0m1 0h0m0 0h0m0 0h0m3 0h0m4 0h0m7 0h0m-35 1h0m2 0h0m4 0h0m0 0h0m1 0h0m0 0h0m0 0h0m2 0h0m1 0h0m2 0h0m2 0h0m0 0h0m0 0h0m3 0h0m1 0h0m1 0h0m4 0h0m1 0h0m9 0h0m-30 1h0m2 0h0m3 0h0m4 0h0m2 0h0m1 0h0m1 0h0m1 0h0m2 0h0m0 0h0m3 0h0m0 0h0m2 0h0m2 0h0m2 0h0m-29 1h0m2 0h0m1 0h0m8 0h0m3 0h0m1 0h0m0 0h0m1 0h0m1 0h0m1 0h0m0 0h0m0 0h0m1 0h0m0 0h0m0 0h0m1 0h0m1 0h0m0 0h0m3 0h0m1 0h0m2 0h0m0 0h0m11 0h0m-43 1h0m5 0h0m8 0h0m7 0h0m2 0h0m0 0h0m1 0h0m3 0h0m2 0h0m0 0h0m2 0h0m9 0h0m-30 1h0m1 0h0m7 0h0m1 0h0m0 0h0m0 0h0m0 0h0m0 0h0m2 0h0m1 0h0m0 0h0m2 0h0m0 0h0m1 0h0m1 0h0m2 0h0m1 0h0m9 0h0m-22 1h0m8 0h0m0 0h0m0 0h0m0 0h0m2 0h0m3 0h0m1 0h0m12 0h0m-24 1h0m5 0h0m0 0h0m1 0h0m1 0h0m1 0h0m3 0h0m8 0h0m-27 1h0m6 0h0m4 0h0m3 0h0m2 0h0m0 0h0m0 0h0m3 0h0m0 0h0m3 0h0m5 0h0m-21 1h0m1 0h0m5 0h0m0 0h0m1 0h0m4 0h0m1 0h0m1 0h0m8 0h0m1 0h0m0 0h0m0 0h0m-20 1h0m2 0h0m0 0h0m4 0h0m1 0h0m2 0h0m0 0h0m9 0h0m-32 1h0m4 0h0m8 0h0m11 0h0m0 0h0m3 0h0m1 0h0m-19 1h0m0 0h0m3 0h0m3 0h0m1 0h0m1 0h0m5 0h0m0 0h0m9 0h0m2 0h0m-25 1h0m1 0h0m10 0h0m1 0h0m1 0h0m0 0h0m0 0h0m3 0h0m0 0h0m4 0h0m-7 1h0m1 0h0m9 0h0m7 0h0m-9 1h0" stroke="#000" stroke-width="1.60" stroke-linecap="square" fill="none" stroke-opacity="0.85"/>
<path transform="scale(0.5)" d="M288 118h0m-3 4h0m7 0h0m-11 1h0m1 0h0m7 0h0m4 0h0m3 0h0m-19 1h0m11 0h0m4 0h0m-8 1h0m2 0h0m2 0h0m0 0h0m1 0h0m2 0h0m1 0h0m7 0h0m4 0h0m-21 1h0m2 0h0m3 0h0m0 0h0m0 0h0m2 0h0m-7 1h0m1 0h0m3 0h0m2 0h0m0 0h0m0 0h0m2 0h0m0 0h0m1 0h0m0 0h0m0 0h0m2 0h0m-14 1h0m2 0h0m1 0h0m2 0h0m1 0h0m1 0h0m0 0h0m0 0h0m2 0h0m1 0h0m1 0h0m1 0h0m-16 1h0m7 0h0m1 0h0m3 0h0m0 0h0m0 0h0m1 0h0m0 0h0m1 0h0m2 0h0m1 0h0m1 0h0m0 0h0m0 0h0m0 0h0m5 0h0m0 0h0m-19 1h0m1 0h0m0 0h0m1 0h0m2 0h0m1 0h0m1 0h0m1 0h0m1 0h0m0 0h0m1 0h0m1 0h0m1 0h0m0 0h0m0 0h0m1 0h0m0 0h0m2 0h0m1 0h0m0 0h0m0 0h0m1 0h0m1 0h0m1 0h0m2 0h0m-28 1h0m6 0h0m0 0h0m3 0h0m1 0h0m1 0h0m1 0h0m1 0h0m1 0h0m0 0h0m0 0h0m1 0h0m0 0h0m1 0h0m0 0h0m1 0h0m1 0h0m0 0h0m2 0h0m1 0h0m0 0h0m0 0h0m0 0h0m1 0h0m0 0h0m1 0h0m2 0h0m2 0h0m2 0h0m-22 1h0m3 0h0m2 0h0m1 0h0m1 0h0m0 0h0m1 0h0m0 0h0m1 0h0m0 0h0m0 0h0m1 0h0m0 0h0m0 0h0m1 0h0m0 0h0m0 0h0m1 0h0m1 0h0m1 0h0m1 0h0m0 0h0m1 0h0m2 0h0m3 0h0m-19 1h0m1 0h0m2 0h0m0 0h0m1 0h0m0 0h0m0 0h0m1 0h0m1 0h0m1 0h0m0 0h0m1 0h0m0 0h0m1 0h0m0 0h0m0 0h0m1 0h0m1 0h0m0 0h0m0 0h0m1 0h0m0 0h0m1 0h0m1 0h0m1 0h0m2 0h0m-22 1h0m5 0h0m0 0h0m0 0h0m1 0h0m1 0h0m1 0h0m1 0h0m0 0h0m0 0h0m2 0h0m0 0h0m2 0h0m0 0h0m0 0h0m0 0h0m1 0h0m0 0h0m3 0h0m1 0h0m0 0h0m0 0h0m2 0h0m2 0h0m3 0h0m-26 1h0m5 0h0m0 0h0m1 0h0m1 0h0m2 0h0m2 0h0m0 0h0m1 0h0m0 0h0m0 0h0m0 0h0m2 0h0m2 0h0m1 0h0m1 0h0m0 0h0m2 0h0m1 0h0m1 0h0m4 0h0m-28 1h0m4 0h0m5 0h0m0 0h0m1 0h0m0 0h0m0 0h0m1 0h0m0 0h0m2 0h0m0 0h0m0 0h0m0 0h0m0 0h0m1 0h0m2 0h0m0 0h0m0 0h0m3 0h0m1 0h0m3 0h0m1 0h0m1 0h0m0 0h0m4 0h0m-30 1h0m7 0h0m2 0h0m1 0h0m0 0h0m0 0h0m2 0h0m2 0h0m0 0h0m1 0h0m0 0h0m1 0h0m1 0h0m0 0h0m1 0h0m0 0h0m1 0h0m4 0h0m0 0h0m0 0h0m3 0h0m1 0h0m-30 1h0m0 0h0m5 0h0m3 0h0m3 0h0m1 0h0m0 0h0m3 0h0m1 0h0m2 0h0m1 0h0m0 0h0m1 0h0m0 0h0m1 0h0m1 0h0m0 0h0m1 0h0m6 0h0m1 0h0m-27 1h0m2 0h0m1 0h0m1 0h0m1 0h0m0 0h0m2 0h0m3 0h0m0 0h0m1 0h0m1 0h0m2 0h0m0 0h0m2 0h0m0 0h0m1 0h0m1 0h0m7 0h0m1 0h0m-27 1h0m6 0h0m2 0h0m0 0h0m0 0h0m2 0h0m0 0h0m4 0h0m0 0h0m0 0h0m6 0h0m6 0h0m-23 1h0m3 0h0m0 0h0m1 0h0m1 0h0m1 0h0m3 0h0m0 0h0m7 0h0m4 0h0m-33 1h0m4 0h0m8 0h0m1 0h0m2 0h0m2 0h0m0 0h0m1 0h0m5 0h0m3 0h0m5 0h0m-22 1h0m5 0h0m1 0h0m0 0h0m1 0h0m2 0h0m2 0h0m0 0h0m4 0h0m3 0h0m-19 1h0m4 0h0m0 0h0m3 0h0m2 0h0m1 0h0m2 0h0m2 0h0m2 0h0m9 0h0m3 0h0m2 0h0m-39 1h0m7 0h0m2 0h0m0 0h0m2 0h0m5 0h0m1 0h0m1 0h0m0 0h0m2 0h0m0 0h0m2 0h0m1 0h0m1 0h0m-19 1h0m1 0h0m5 0h0m3 0h0m1 0h0m3 0h0m2 0h0m-17 1h0m5 0h0m2 0h0m0 0h0m2 0h0m3 0h0m1 0h0m2 0h0m4 0h0m-19 1h0m2 0h0m0 0h0m1 0h0m0 0h0m1 0h0m2 0h0m0 0h0m1 0h0m1 0h0m0 0h0m2 0h0m3 0h0m-14 1h0m1 0h0m1 0h0m4 0h0m1 0h0m0 0h0m1 0h0m7 0h0m5 0h0m-25 1h0m7 0h0m1 0h0m0 0h0m3 0h0m1 0h0m1 0h0m2 0h0m0 0h0m-14 1h0m3 0h0m4 0h0m1 0h0m2 0h0m1 0h0m0 0h0m2 0h0m2 0h0m3 0h0m-16 1h0m1 0h0m2 0h0m1 0h0m2 0h0m0 0h0m1 0h0m0 0h0m0 0h0m3 0h0m6 0h0m2 0h0m-17 1h0m2 0h0m0 0h0m0 0h0m0 0h0m1 0h0m0 0h0m1 0h0m0 0h0m1 0h0m1 0h0m0 0h0m2 0h0m5 0h0m-17 1h0m2 0h0m3 0h0m1 0h0m0 0h0m1 0h0m7 0h0m2 0h0m2 0h0m-23 1h0m6 0h0m0 0h0m1 0h0m0 0h0m0 0h0m1 0h0m1 0h0m0 0h0m1 0h0m1 0h0m3 0h0m0 0h0m3 0h0m-17 1h0m3 0h0m1 0h0m2 0h0m2 0h0m1 0h0m0 0h0m3 0h0m0 0h0m-14 1h0m3 0h0m2 0h0m0 0h0m0 0h0m2 0h0m1 0h0m1 0h0m1 0h0m0 0h0m0 0h0m6 0h0m4 0h0m1 0h0m-17 1h0m0 0h0m1 0h0m1 0h0m4 0h0m1 0h0m2 0h0m-19 1h0m7 0h0m0 0h0m1 0h0m1 0h0m1 0h0m0 0h0m3 0h0m1 0h0m1 0h0m2 0h0m4 0h0m1 0h0m1 0h0m0 0h0m-21 1h0m3 0h0m4 0h0m2 0h0m1 0h0m1 0h0m0 0h0m0 0h0m1 0h0m2 0h0m0 0h0m10 0h0m-21 1h0m7 0h0m2 0h0m0 0h0m0 0h0m3 0h0m1 0h0m0 0h0m-17 1h0m4 0h0m2 0h0m2 0h0m0 0h0m2 0h0m0 0h0m0 0h0m1 0h0m1 0h0m3 0h0m1 0h0m3 0h0m-14 1h0m1 0h0m2 0h0m1 0h0m0 0h0m2 0h0m1 0h0m0 0h0m0 0h0m1 0h0m4 0h0m1 0h0m-17 1h0m2 0h0m2 0h0m1 0h0m4 0h0m2 0h0m0 0h0m2 0h0m-11 1h0m1 0h0m0 0h0m7 0h0m6 0h0m2 0h0m-15 1h0m3 0h0m1 0h0m1 0h0m1 0h0m2 0h0m0 0h0m1 0h0m2 0h0m-11 1h0m11 0h0m-8 1h0m0 0h0m-1 1h0m1 1h0m2 3h0m0 0h0" stroke="#000" stroke-width="2.00" stroke-linecap="square" fill="none" stroke-opacity="1.0"/>
<text x="136.80" y="32.00" font-size="8.4" fill="#000" text-anchor="middle" stroke="#000" stroke-width="0.05">LCH002</text>
<path d="M115.50 39.20V88.50H160.60" stroke="#000" stroke-width="1.1" fill="none"/>
<text x="107.40" y="90.70" font-size="6.2" text-anchor="middle" fill="#000" stroke="#000" stroke-width="0.15">10<tspan font-size="2.79" dy="-2.23" stroke-width="0.05">0</tspan></text>
<text x="107.40" y="78.65" font-size="6.2" text-anchor="middle" fill="#000" stroke="#000" stroke-width="0.15">10<tspan font-size="2.79" dy="-2.23" stroke-width="0.05">1</tspan></text>
<text x="107.40" y="66.60" font-size="6.2" text-anchor="middle" fill="#000" stroke="#000" stroke-width="0.15">10<tspan font-size="2.79" dy="-2.23" stroke-width="0.05">2</tspan></text>
<text x="107.40" y="54.55" font-size="6.2" text-anchor="middle" fill="#000" stroke="#000" stroke-width="0.15">10<tspan font-size="2.79" dy="-2.23" stroke-width="0.05">3</tspan></text>
<text x="107.40" y="42.50" font-size="6.2" text-anchor="middle" fill="#000" stroke="#000" stroke-width="0.15">10<tspan font-size="2.79" dy="-2.23" stroke-width="0.05">4</tspan></text>
<text x="116.40" y="96.80" font-size="6.2" text-anchor="middle" fill="#000" stroke="#000" stroke-width="0.15">10<tspan font-size="2.79" dy="-2.23" stroke-width="0.05">0</tspan></text>
<text x="127.55" y="96.80" font-size="6.2" text-anchor="middle" fill="#000" stroke="#000" stroke-width="0.15">10<tspan font-size="2.79" dy="-2.23" stroke-width="0.05">1</tspan></text>
<text x="138.70" y="96.80" font-size="6.2" text-anchor="middle" fill="#000" stroke="#000" stroke-width="0.15">10<tspan font-size="2.79" dy="-2.23" stroke-width="0.05">2</tspan></text>
<text x="149.85" y="96.80" font-size="6.2" text-anchor="middle" fill="#000" stroke="#000" stroke-width="0.15">10<tspan font-size="2.79" dy="-2.23" stroke-width="0.05">3</tspan></text>
<text x="161.00" y="96.80" font-size="6.2" text-anchor="middle" fill="#000" stroke="#000" stroke-width="0.15">10<tspan font-size="2.79" dy="-2.23" stroke-width="0.05">4</tspan></text>
<text x="99.80" y="63.50" font-size="8.6" fill="#000" text-anchor="middle" textLength="16.5" lengthAdjust="spacingAndGlyphs" transform="rotate(-90 99.80 63.50)" stroke="#000" stroke-width="0.3">CD207</text>
<text x="137.60" y="107.00" font-size="8.6" fill="#000" text-anchor="middle" textLength="13.7" lengthAdjust="spacingAndGlyphs" stroke="#000" stroke-width="0.3">CD1a</text>
<rect x="139.20" y="45.40" width="13.30" height="14.60" fill="none" stroke="#5fb95f" stroke-width="0.65"/>
<rect x="139.20" y="72.10" width="13.30" height="15.40" fill="none" stroke="#f6c160" stroke-width="0.65"/>
<rect x="139.20" y="60.50" width="13.30" height="11.00" fill="none" stroke="#e4444c" stroke-width="0.65"/>
<text x="154.70" y="58.20" font-size="5.5" fill="#2f9a4e" stroke="#2f9a4e" stroke-width="0.18">0.64%</text>
<text x="154.70" y="69.75" font-size="5.5" fill="#d3383a" stroke="#d3383a" stroke-width="0.18">23.59%</text>
<text x="154.70" y="78.80" font-size="5.5" fill="#eab52a" stroke="#eab52a" stroke-width="0.18">15.75%</text>
<path transform="scale(0.5)" d="M409 110h0m35 2h0m32 4h0m-44 2h0m14 1h0m30 2h0m-6 4h0m-16 6h0m-39 1h0m4 2h0m9 0h0m27 9h0m-35 6h0m20 4h0m33 6h0m-14 4h0m12 6h0m-9 2h0m-7 3h0m14 1h0" stroke="#000" stroke-width="1.20" stroke-linecap="square" fill="none" stroke-opacity="0.45"/>
<path transform="scale(0.5)" d="M455 88h0m10 3h0m7 2h0m-19 1h0m13 1h0m-4 2h0m9 0h0m-5 1h0m-10 1h0m5 0h0m1 0h0m1 0h0m2 0h0m9 0h0m-24 1h0m10 0h0m3 0h0m-7 1h0m3 0h0m1 0h0m2 0h0m1 0h0m0 0h0m3 0h0m1 0h0m0 1h0m4 0h0m2 0h0m5 0h0m-23 1h0m5 0h0m8 0h0m-6 1h0m3 0h0m-12 1h0m4 0h0m2 0h0m1 0h0m1 0h0m3 0h0m-11 1h0m0 0h0m4 0h0m1 0h0m4 0h0m1 0h0m4 0h0m-19 1h0m2 0h0m12 0h0m12 0h0m-21 1h0m4 0h0m1 0h0m3 0h0m1 0h0m2 0h0m0 0h0m1 0h0m3 0h0m3 0h0m1 0h0m4 0h0m-18 1h0m1 0h0m4 0h0m0 0h0m0 0h0m1 0h0m1 0h0m4 0h0m-11 1h0m0 0h0m1 0h0m1 0h0m1 0h0m1 0h0m0 0h0m6 0h0m1 0h0m4 0h0m-22 1h0m6 0h0m1 0h0m6 0h0m1 0h0m0 0h0m1 0h0m-14 1h0m7 0h0m4 0h0m2 0h0m-10 1h0m3 0h0m2 0h0m0 0h0m2 0h0m0 0h0m1 0h0m3 0h0m0 0h0m0 0h0m1 0h0m0 0h0m4 0h0m-14 1h0m4 0h0m2 0h0m0 0h0m2 0h0m2 0h0m6 0h0m-13 1h0m1 0h0m4 0h0m4 0h0m-4 1h0m3 0h0m1 0h0m-16 1h0m0 0h0m2 0h0m3 0h0m5 0h0m2 0h0m4 0h0m2 0h0m-13 1h0m-4 1h0m1 0h0m8 0h0m10 0h0m-13 1h0m2 0h0m1 0h0m1 0h0m0 0h0m2 0h0m-8 1h0m5 0h0m1 0h0m3 0h0m1 0h0m-13 1h0m5 0h0m3 0h0m3 0h0m1 0h0m0 0h0m1 0h0m2 0h0m1 0h0m3 0h0m-23 1h0m2 0h0m11 0h0m2 0h0m1 0h0m1 0h0m0 0h0m1 0h0m6 0h0m-19 1h0m4 0h0m2 0h0m1 0h0m3 0h0m2 0h0m0 0h0m5 0h0m-17 1h0m2 0h0m1 0h0m6 0h0m1 0h0m1 0h0m0 0h0m1 0h0m14 0h0m-27 1h0m3 0h0m1 0h0m5 0h0m1 0h0m1 0h0m1 0h0m0 0h0m1 0h0m1 0h0m3 0h0m1 0h0m-36 1h0m20 0h0m2 0h0m5 0h0m1 0h0m3 0h0m2 0h0m1 0h0m2 0h0m-22 1h0m1 0h0m0 0h0m0 0h0m1 0h0m3 0h0m5 0h0m3 0h0m1 0h0m1 0h0m2 0h0m2 0h0m1 0h0m1 0h0m0 0h0m1 0h0m-21 1h0m1 0h0m6 0h0m0 0h0m0 0h0m0 0h0m2 0h0m1 0h0m0 0h0m2 0h0m4 0h0m2 0h0m1 0h0m3 0h0m2 0h0m5 0h0m-33 1h0m7 0h0m0 0h0m5 0h0m2 0h0m0 0h0m1 0h0m0 0h0m2 0h0m4 0h0m7 0h0m-19 1h0m4 0h0m1 0h0m2 0h0m2 0h0m2 0h0m0 0h0m0 0h0m1 0h0m1 0h0m1 0h0m0 0h0m3 0h0m5 0h0m3 0h0m-29 1h0m3 0h0m1 0h0m2 0h0m2 0h0m0 0h0m1 0h0m0 0h0m1 0h0m2 0h0m1 0h0m0 0h0m1 0h0m0 0h0m5 0h0m0 0h0m1 0h0m0 0h0m1 0h0m0 0h0m-30 1h0m4 0h0m4 0h0m1 0h0m0 0h0m0 0h0m2 0h0m0 0h0m7 0h0m0 0h0m1 0h0m0 0h0m2 0h0m1 0h0m0 0h0m1 0h0m1 0h0m1 0h0m1 0h0m0 0h0m1 0h0m1 0h0m0 0h0m5 0h0m-39 1h0m2 0h0m4 0h0m7 0h0m2 0h0m4 0h0m4 0h0m1 0h0m1 0h0m0 0h0m0 0h0m6 0h0m0 0h0m3 0h0m2 0h0m1 0h0m0 0h0m-30 1h0m8 0h0m1 0h0m0 0h0m3 0h0m2 0h0m0 0h0m2 0h0m1 0h0m0 0h0m1 0h0m0 0h0m0 0h0m1 0h0m0 0h0m2 0h0m0 0h0m1 0h0m2 0h0m2 0h0m0 0h0m1 0h0m1 0h0m-21 1h0m1 0h0m0 0h0m2 0h0m1 0h0m1 0h0m0 0h0m1 0h0m0 0h0m1 0h0m0 0h0m1 0h0m2 0h0m0 0h0m1 0h0m0 0h0m1 0h0m1 0h0m1 0h0m0 0h0m2 0h0m2 0h0m3 0h0m-35 1h0m7 0h0m1 0h0m1 0h0m2 0h0m0 0h0m0 0h0m7 0h0m2 0h0m1 0h0m0 0h0m1 0h0m0 0h0m1 0h0m0 0h0m1 0h0m0 0h0m2 0h0m0 0h0m1 0h0m0 0h0m-25 1h0m5 0h0m4 0h0m1 0h0m3 0h0m2 0h0m2 0h0m1 0h0m0 0h0m1 0h0m3 0h0m0 0h0m2 0h0m0 0h0m3 0h0m1 0h0m1 0h0m2 0h0m1 0h0m0 0h0m0 0h0m8 0h0m-31 1h0m0 0h0m0 0h0m2 0h0m0 0h0m2 0h0m0 0h0m1 0h0m2 0h0m1 0h0m1 0h0m2 0h0m0 0h0m1 0h0m3 0h0m0 0h0m10 0h0m1 0h0m5 0h0m0 0h0m-44 1h0m5 0h0m2 0h0m1 0h0m1 0h0m0 0h0m2 0h0m3 0h0m1 0h0m4 0h0m0 0h0m7 0h0m2 0h0m1 0h0m0 0h0m4 0h0m1 0h0m2 0h0m1 0h0m11 0h0m-51 1h0m6 0h0m0 0h0m5 0h0m1 0h0m1 0h0m1 0h0m4 0h0m0 0h0m0 0h0m4 0h0m4 0h0m3 0h0m2 0h0m1 0h0m1 0h0m3 0h0m1 0h0m0 0h0m9 0h0m-33 1h0m1 0h0m1 0h0m2 0h0m4 0h0m3 0h0m1 0h0m0 0h0m1 0h0m2 0h0m2 0h0m3 0h0m2 0h0m15 0h0m-42 1h0m4 0h0m2 0h0m2 0h0m0 0h0m5 0h0m1 0h0m0 0h0m1 0h0m5 0h0m2 0h0m2 0h0m1 0h0m3 0h0m1 0h0m0 0h0m-32 1h0m0 0h0m1 0h0m1 0h0m0 0h0m1 0h0m2 0h0m1 0h0m3 0h0m0 0h0m0 0h0m4 0h0m0 0h0m1 0h0m1 0h0m0 0h0m1 0h0m1 0h0m2 0h0m1 0h0m3 0h0m5 0h0m1 0h0m4 0h0m0 0h0m1 0h0m-40 1h0m9 0h0m2 0h0m0 0h0m1 0h0m1 0h0m0 0h0m3 0h0m2 0h0m3 0h0m5 0h0m0 0h0m24 0h0m-59 1h0m3 0h0m12 0h0m4 0h0m1 0h0m3 0h0m6 0h0m5 0h0m1 0h0m0 0h0m1 0h0m1 0h0m3 0h0m1 0h0m2 0h0m1 0h0m3 0h0m1 0h0m-49 1h0m15 0h0m3 0h0m6 0h0m2 0h0m0 0h0m3 0h0m4 0h0m3 0h0m0 0h0m1 0h0m1 0h0m2 0h0m0 0h0m0 0h0m1 0h0m12 0h0m10 0h0m-53 1h0m1 0h0m1 0h0m4 0h0m4 0h0m0 0h0m1 0h0m0 0h0m1 0h0m3 0h0m0 0h0m4 0h0m1 0h0m2 0h0m0 0h0m1 0h0m3 0h0m1 0h0m1 0h0m1 0h0m4 0h0m2 0h0m1 0h0m0 0h0m6 0h0m-34 1h0m2 0h0m0 0h0m1 0h0m4 0h0m0 0h0m7 0h0m1 0h0m1 0h0m4 0h0m1 0h0m0 0h0m0 0h0m1 0h0m9 0h0m-39 1h0m4 0h0m0 0h0m0 0h0m1 0h0m1 0h0m1 0h0m3 0h0m3 0h0m1 0h0m0 0h0m4 0h0m1 0h0m2 0h0m0 0h0m1 0h0m0 0h0m1 0h0m1 0h0m1 0h0m2 0h0m2 0h0m1 0h0m1 0h0m1 0h0m0 0h0m3 0h0m3 0h0m-48 1h0m2 0h0m4 0h0m14 0h0m3 0h0m0 0h0m2 0h0m5 0h0m1 0h0m1 0h0m1 0h0m4 0h0m3 0h0m0 0h0m2 0h0m0 0h0m4 0h0m1 0h0m-56 1h0m8 0h0m13 0h0m0 0h0m2 0h0m1 0h0m3 0h0m2 0h0m3 0h0m5 0h0m0 0h0m3 0h0m5 0h0m2 0h0m1 0h0m0 0h0m4 0h0m3 0h0m0 0h0m6 0h0m-51 1h0m2 0h0m1 0h0m7 0h0m1 0h0m9 0h0m1 0h0m0 0h0m1 0h0m2 0h0m8 0h0m9 0h0m4 0h0m0 0h0m4 0h0m0 0h0m0 0h0m1 0h0m-52 1h0m1 0h0m1 0h0m14 0h0m0 0h0m3 0h0m3 0h0m0 0h0m5 0h0m1 0h0m5 0h0m0 0h0m6 0h0m2 0h0m8 0h0m-51 1h0m6 0h0m5 0h0m3 0h0m1 0h0m0 0h0m5 0h0m2 0h0m4 0h0m0 0h0m1 0h0m1 0h0m1 0h0m0 0h0m2 0h0m2 0h0m3 0h0m1 0h0m3 0h0m1 0h0m0 0h0m2 0h0m4 0h0m0 0h0m3 0h0m0 0h0m0 0h0m3 0h0m-47 1h0m13 0h0m4 0h0m1 0h0m2 0h0m1 0h0m2 0h0m0 0h0m1 0h0m8 0h0m0 0h0m0 0h0m3 0h0m3 0h0m1 0h0m1 0h0m0 0h0m4 0h0m7 0h0m-48 1h0m6 0h0m1 0h0m1 0h0m1 0h0m0 0h0m1 0h0m1 0h0m0 0h0m1 0h0m7 0h0m1 0h0m14 0h0m3 0h0m2 0h0m2 0h0m0 0h0m1 0h0m2 0h0m-49 1h0m3 0h0m6 0h0m8 0h0m5 0h0m6 0h0m2 0h0m1 0h0m2 0h0m3 0h0m0 0h0m7 0h0m2 0h0m3 0h0m-58 1h0m9 0h0m6 0h0m1 0h0m2 0h0m5 0h0m3 0h0m1 0h0m12 0h0m2 0h0m0 0h0m1 0h0m1 0h0m1 0h0m1 0h0m2 0h0m1 0h0m0 0h0m1 0h0m2 0h0m2 0h0m-50 1h0m4 0h0m7 0h0m3 0h0m1 0h0m0 0h0m9 0h0m7 0h0m2 0h0m5 0h0m1 0h0m0 0h0m1 0h0m1 0h0m1 0h0m0 0h0m0 0h0m2 0h0m5 0h0m2 0h0m0 0h0m0 0h0m1 0h0m-55 1h0m1 0h0m3 0h0m3 0h0m6 0h0m2 0h0m1 0h0m0 0h0m1 0h0m1 0h0m0 0h0m0 0h0m1 0h0m2 0h0m2 0h0m1 0h0m0 0h0m11 0h0m4 0h0m3 0h0m0 0h0m0 0h0m1 0h0m1 0h0m1 0h0m2 0h0m3 0h0m1 0h0m5 0h0m1 0h0m-46 1h0m2 0h0m2 0h0m5 0h0m1 0h0m13 0h0m8 0h0m4 0h0m1 0h0m3 0h0m0 0h0m0 0h0m0 0h0m2 0h0m2 0h0m2 0h0m4 0h0m-62 1h0m8 0h0m4 0h0m7 0h0m2 0h0m0 0h0m4 0h0m8 0h0m4 0h0m0 0h0m1 0h0m2 0h0m0 0h0m1 0h0m2 0h0m0 0h0m3 0h0m1 0h0m0 0h0m0 0h0m3 0h0m1 0h0m2 0h0m1 0h0m2 0h0m1 0h0m0 0h0m-47 1h0m3 0h0m1 0h0m5 0h0m8 0h0m10 0h0m6 0h0m3 0h0m7 0h0m2 0h0m1 0h0m0 0h0m7 0h0m-59 1h0m7 0h0m5 0h0m8 0h0m15 0h0m0 0h0m6 0h0m1 0h0m4 0h0m2 0h0m2 0h0m1 0h0m1 0h0m1 0h0m3 0h0m6 0h0m-64 1h0m2 0h0m1 0h0m1 0h0m1 0h0m3 0h0m0 0h0m5 0h0m2 0h0m0 0h0m7 0h0m1 0h0m13 0h0m1 0h0m4 0h0m0 0h0m2 0h0m0 0h0m0 0h0m1 0h0m0 0h0m4 0h0m2 0h0m1 0h0m1 0h0m0 0h0m1 0h0m3 0h0m-56 1h0m1 0h0m1 0h0m0 0h0m0 0h0m3 0h0m3 0h0m1 0h0m0 0h0m0 0h0m3 0h0m1 0h0m2 0h0m18 0h0m12 0h0m1 0h0m2 0h0m1 0h0m5 0h0m1 0h0m-54 1h0m2 0h0m0 0h0m1 0h0m0 0h0m2 0h0m1 0h0m1 0h0m3 0h0m3 0h0m2 0h0m2 0h0m19 0h0m4 0h0m1 0h0m6 0h0m3 0h0m3 0h0m2 0h0m1 0h0m1 0h0m-54 1h0m0 0h0m1 0h0m0 0h0m4 0h0m0 0h0m3 0h0m0 0h0m2 0h0m13 0h0m4 0h0m8 0h0m2 0h0m0 0h0m3 0h0m1 0h0m0 0h0m2 0h0m0 0h0m1 0h0m2 0h0m1 0h0m3 0h0m4 0h0m2 0h0m0 0h0m3 0h0m-61 1h0m2 0h0m1 0h0m1 0h0m3 0h0m6 0h0m5 0h0m20 0h0m0 0h0m4 0h0m5 0h0m4 0h0m-51 1h0m1 0h0m1 0h0m0 0h0m2 0h0m1 0h0m0 0h0m5 0h0m2 0h0m1 0h0m2 0h0m7 0h0m0 0h0m4 0h0m9 0h0m4 0h0m1 0h0m2 0h0m2 0h0m2 0h0m0 0h0m3 0h0m5 0h0m-60 1h0m2 0h0m2 0h0m2 0h0m1 0h0m0 0h0m1 0h0m0 0h0m2 0h0m0 0h0m0 0h0m1 0h0m0 0h0m6 0h0m1 0h0m0 0h0m1 0h0m2 0h0m2 0h0m0 0h0m3 0h0m0 0h0m1 0h0m3 0h0m2 0h0m0 0h0m4 0h0m5 0h0m2 0h0m1 0h0m4 0h0m0 0h0m1 0h0m1 0h0m3 0h0m2 0h0m2 0h0m0 0h0m2 0h0m3 0h0m-54 1h0m3 0h0m1 0h0m0 0h0m1 0h0m1 0h0m2 0h0m1 0h0m1 0h0m2 0h0m1 0h0m2 0h0m2 0h0m1 0h0m1 0h0m1 0h0m2 0h0m13 0h0m0 0h0m4 0h0m3 0h0m5 0h0m2 0h0m7 0h0m-58 1h0m3 0h0m0 0h0m3 0h0m3 0h0m0 0h0m1 0h0m0 0h0m2 0h0m2 0h0m0 0h0m0 0h0m1 0h0m1 0h0m10 0h0m4 0h0m1 0h0m0 0h0m4 0h0m0 0h0m0 0h0m17 0h0m5 0h0m-64 1h0m2 0h0m4 0h0m9 0h0m1 0h0m0 0h0m2 0h0m1 0h0m2 0h0m2 0h0m1 0h0m2 0h0m2 0h0m13 0h0m2 0h0m7 0h0m0 0h0m3 0h0m1 0h0m1 0h0m1 0h0m2 0h0m-54 1h0m8 0h0m1 0h0m2 0h0m0 0h0m2 0h0m1 0h0m6 0h0m3 0h0m1 0h0m3 0h0m7 0h0m15 0h0m18 0h0" stroke="#000" stroke-width="1.40" stroke-linecap="square" fill="none" stroke-opacity="0.65"/>
<path transform="scale(0.5)" d="M462 116h0m5 7h0m-7 1h0m0 0h0m2 1h0m3 0h0m0 0h0m2 0h0m1 0h0m-16 1h0m5 0h0m16 0h0m-10 1h0m2 0h0m3 0h0m0 0h0m0 0h0m0 0h0m4 0h0m-15 1h0m4 0h0m1 0h0m1 0h0m1 0h0m1 0h0m0 0h0m1 0h0m0 0h0m0 0h0m2 0h0m0 0h0m1 0h0m0 0h0m1 0h0m1 0h0m1 0h0m1 0h0m1 0h0m-18 1h0m3 0h0m1 0h0m0 0h0m2 0h0m2 0h0m1 0h0m1 0h0m1 0h0m1 0h0m0 0h0m1 0h0m1 0h0m-14 1h0m3 0h0m2 0h0m1 0h0m4 0h0m0 0h0m1 0h0m1 0h0m0 0h0m0 0h0m0 0h0m1 0h0m1 0h0m0 0h0m0 0h0m1 0h0m0 0h0m0 0h0m-14 1h0m2 0h0m4 0h0m1 0h0m0 0h0m1 0h0m3 0h0m0 0h0m1 0h0m1 0h0m-14 1h0m0 0h0m1 0h0m2 0h0m2 0h0m0 0h0m1 0h0m1 0h0m0 0h0m4 0h0m2 0h0m0 0h0m0 0h0m3 0h0m-17 1h0m4 0h0m2 0h0m1 0h0m2 0h0m0 0h0m1 0h0m1 0h0m1 0h0m0 0h0m1 0h0m4 0h0m1 0h0m-23 1h0m2 0h0m1 0h0m1 0h0m1 0h0m1 0h0m0 0h0m1 0h0m2 0h0m0 0h0m0 0h0m1 0h0m2 0h0m0 0h0m0 0h0m1 0h0m0 0h0m1 0h0m0 0h0m1 0h0m2 0h0m1 0h0m6 0h0m-21 1h0m2 0h0m3 0h0m0 0h0m1 0h0m1 0h0m0 0h0m1 0h0m1 0h0m0 0h0m1 0h0m0 0h0m1 0h0m1 0h0m8 0h0m2 0h0m-15 1h0m1 0h0m1 0h0m0 0h0m0 0h0m1 0h0m0 0h0m1 0h0m0 0h0m3 0h0m3 0h0m1 0h0m2 0h0m-22 1h0m0 0h0m0 0h0m1 0h0m1 0h0m0 0h0m1 0h0m1 0h0m4 0h0m1 0h0m0 0h0m1 0h0m2 0h0m4 0h0m2 0h0m-18 1h0m0 0h0m2 0h0m2 0h0m1 0h0m0 0h0m0 0h0m0 0h0m1 0h0m0 0h0m0 0h0m1 0h0m0 0h0m0 0h0m0 0h0m1 0h0m1 0h0m2 0h0m5 0h0m-15 1h0m2 0h0m0 0h0m2 0h0m1 0h0m0 0h0m0 0h0m2 0h0m0 0h0m1 0h0m1 0h0m3 0h0m2 0h0m3 0h0m3 0h0m2 0h0m-26 1h0m0 0h0m3 0h0m1 0h0m3 0h0m1 0h0m2 0h0m5 0h0m1 0h0m-16 1h0m1 0h0m1 0h0m3 0h0m5 0h0m2 0h0m0 0h0m2 0h0m0 0h0m1 0h0m8 0h0m-23 1h0m2 0h0m1 0h0m1 0h0m0 0h0m2 0h0m1 0h0m1 0h0m0 0h0m1 0h0m1 0h0m1 0h0m5 0h0m0 0h0m-19 1h0m0 0h0m0 0h0m2 0h0m3 0h0m0 0h0m1 0h0m1 0h0m1 0h0m0 0h0m1 0h0m1 0h0m0 0h0m2 0h0m5 0h0m2 0h0m-21 1h0m0 0h0m6 0h0m0 0h0m2 0h0m0 0h0m0 0h0m2 0h0m4 0h0m-18 1h0m3 0h0m2 0h0m1 0h0m5 0h0m1 0h0m7 0h0m0 0h0m6 0h0m-20 1h0m1 0h0m0 0h0m1 0h0m4 0h0m2 0h0m3 0h0m-15 1h0m3 0h0m0 0h0m2 0h0m0 0h0m1 0h0m0 0h0m1 0h0m1 0h0m19 0h0m1 0h0m-27 1h0m1 0h0m1 0h0m0 0h0m2 0h0m0 0h0m4 0h0m1 0h0m1 0h0m11 0h0m4 0h0m-27 1h0m1 0h0m1 0h0m2 0h0m0 0h0m2 0h0m3 0h0m0 0h0m1 0h0m0 0h0m0 0h0m0 0h0m1 0h0m1 0h0m2 0h0m-16 1h0m0 0h0m1 0h0m2 0h0m2 0h0m0 0h0m0 0h0m0 0h0m3 0h0m2 0h0m3 0h0m1 0h0m3 0h0m-22 1h0m0 0h0m4 0h0m2 0h0m1 0h0m2 0h0m2 0h0m2 0h0m0 0h0m3 0h0m2 0h0m-19 1h0m3 0h0m2 0h0m2 0h0m1 0h0m0 0h0m2 0h0m1 0h0m1 0h0m3 0h0m0 0h0m1 0h0m0 0h0m1 0h0m2 0h0m-14 1h0m2 0h0m1 0h0m0 0h0m0 0h0m0 0h0m1 0h0m1 0h0m5 0h0m0 0h0m-18 1h0m9 0h0m0 0h0m0 0h0m1 0h0m0 0h0m1 0h0m1 0h0m1 0h0m1 0h0m1 0h0m0 0h0m1 0h0m1 0h0m1 0h0m0 0h0m-16 1h0m1 0h0m1 0h0m3 0h0m2 0h0m1 0h0m0 0h0m1 0h0m1 0h0m0 0h0m1 0h0m1 0h0m0 0h0m7 0h0m2 0h0m-26 1h0m2 0h0m5 0h0m2 0h0m3 0h0m1 0h0m2 0h0m1 0h0m-16 1h0m3 0h0m2 0h0m2 0h0m6 0h0m0 0h0m-15 1h0m4 0h0m0 0h0m3 0h0m1 0h0m2 0h0m1 0h0m0 0h0m1 0h0m0 0h0m4 0h0m2 0h0m1 0h0m-19 1h0m3 0h0m5 0h0m0 0h0m1 0h0m0 0h0m5 0h0m0 0h0m2 0h0m1 0h0m-21 1h0m2 0h0m2 0h0m2 0h0m0 0h0m4 0h0m0 0h0m0 0h0m0 0h0m1 0h0m1 0h0m1 0h0m1 0h0m1 0h0m0 0h0m-11 1h0m1 0h0m2 0h0m1 0h0m1 0h0m2 0h0m1 0h0m3 0h0m1 0h0m-12 1h0m2 0h0m1 0h0m0 0h0m0 0h0m1 0h0m0 0h0m2 0h0m0 0h0m2 0h0m3 0h0m0 0h0m1 0h0m-16 1h0m7 0h0m1 0h0m0 0h0m2 0h0m1 0h0m1 0h0m0 0h0m1 0h0m0 0h0m-15 1h0m4 0h0m4 0h0m1 0h0m1 0h0m0 0h0m2 0h0m0 0h0m0 0h0m3 0h0m1 0h0m0 0h0m-14 1h0m3 0h0m3 0h0m1 0h0m2 0h0m2 0h0m4 0h0m-15 1h0m1 0h0m1 0h0m1 0h0m1 0h0m2 0h0m0 0h0m1 0h0m0 0h0m-7 1h0m0 0h0m0 0h0m1 0h0m-1 1h0m0 0h0m0 0h0m0 0h0m1 0h0m1 0h0m1 0h0m0 0h0m0 0h0m-3 1h0m2 0h0m2 0h0m0 0h0m-4 1h0m3 0h0m2 0h0m2 0h0m-7 1h0m0 0h0m0 0h0m1 0h0m2 1h0m0 2h0m7 0h0" stroke="#000" stroke-width="2.00" stroke-linecap="square" fill="none" stroke-opacity="1.0"/>
<text x="223.80" y="32.00" font-size="8.4" fill="#000" text-anchor="middle" stroke="#000" stroke-width="0.05">LCH005</text>
<path d="M202.50 39.20V88.50H247.60" stroke="#000" stroke-width="1.1" fill="none"/>
<text x="194.40" y="90.70" font-size="6.2" text-anchor="middle" fill="#000" stroke="#000" stroke-width="0.15">10<tspan font-size="2.79" dy="-2.23" stroke-width="0.05">0</tspan></text>
<text x="194.40" y="78.65" font-size="6.2" text-anchor="middle" fill="#000" stroke="#000" stroke-width="0.15">10<tspan font-size="2.79" dy="-2.23" stroke-width="0.05">1</tspan></text>
<text x="194.40" y="66.60" font-size="6.2" text-anchor="middle" fill="#000" stroke="#000" stroke-width="0.15">10<tspan font-size="2.79" dy="-2.23" stroke-width="0.05">2</tspan></text>
<text x="194.40" y="54.55" font-size="6.2" text-anchor="middle" fill="#000" stroke="#000" stroke-width="0.15">10<tspan font-size="2.79" dy="-2.23" stroke-width="0.05">3</tspan></text>
<text x="194.40" y="42.50" font-size="6.2" text-anchor="middle" fill="#000" stroke="#000" stroke-width="0.15">10<tspan font-size="2.79" dy="-2.23" stroke-width="0.05">4</tspan></text>
<text x="203.40" y="96.80" font-size="6.2" text-anchor="middle" fill="#000" stroke="#000" stroke-width="0.15">10<tspan font-size="2.79" dy="-2.23" stroke-width="0.05">0</tspan></text>
<text x="214.55" y="96.80" font-size="6.2" text-anchor="middle" fill="#000" stroke="#000" stroke-width="0.15">10<tspan font-size="2.79" dy="-2.23" stroke-width="0.05">1</tspan></text>
<text x="225.70" y="96.80" font-size="6.2" text-anchor="middle" fill="#000" stroke="#000" stroke-width="0.15">10<tspan font-size="2.79" dy="-2.23" stroke-width="0.05">2</tspan></text>
<text x="236.85" y="96.80" font-size="6.2" text-anchor="middle" fill="#000" stroke="#000" stroke-width="0.15">10<tspan font-size="2.79" dy="-2.23" stroke-width="0.05">3</tspan></text>
<text x="248.00" y="96.80" font-size="6.2" text-anchor="middle" fill="#000" stroke="#000" stroke-width="0.15">10<tspan font-size="2.79" dy="-2.23" stroke-width="0.05">4</tspan></text>
<text x="186.80" y="63.50" font-size="8.6" fill="#000" text-anchor="middle" textLength="16.5" lengthAdjust="spacingAndGlyphs" transform="rotate(-90 186.80 63.50)" stroke="#000" stroke-width="0.3">CD207</text>
<text x="224.60" y="107.00" font-size="8.6" fill="#000" text-anchor="middle" textLength="13.7" lengthAdjust="spacingAndGlyphs" stroke="#000" stroke-width="0.3">CD1a</text>
<rect x="225.90" y="45.40" width="13.60" height="14.60" fill="none" stroke="#5fb95f" stroke-width="0.65"/>
<rect x="225.90" y="72.80" width="13.60" height="14.70" fill="none" stroke="#f6c160" stroke-width="0.65"/>
<rect x="225.90" y="60.50" width="13.60" height="11.70" fill="none" stroke="#e4444c" stroke-width="0.65"/>
<text x="241.00" y="56.60" font-size="5.5" fill="#2f9a4e" stroke="#2f9a4e" stroke-width="0.18">3.43%</text>
<text x="241.00" y="67.90" font-size="5.5" fill="#d3383a" stroke="#d3383a" stroke-width="0.18">27.98%</text>
<text x="241.00" y="77.60" font-size="5.5" fill="#eab52a" stroke="#eab52a" stroke-width="0.18">8.60%</text>
<path transform="scale(0.5)" d="M644 114h0m0 2h0m-31 5h0m2 7h0m8 1h0m-26 3h0m-8 3h0m16 5h0m41 1h0m-15 2h0m-10 3h0m-30 3h0m-4 4h0m23 0h0m-2 2h0m-22 7h0m14 4h0m-22 2h0m0 1h0m34 1h0" stroke="#000" stroke-width="1.20" stroke-linecap="square" fill="none" stroke-opacity="0.45"/>
<path transform="scale(0.5)" d="M630 90h0m-4 2h0m6 1h0m-1 2h0m1 2h0m2 0h0m0 2h0m6 0h0m-11 1h0m1 1h0m1 0h0m4 0h0m3 0h0m-9 1h0m1 0h0m7 0h0m-5 1h0m1 0h0m1 0h0m5 0h0m-24 1h0m18 0h0m3 0h0m-9 1h0m3 1h0m4 0h0m0 0h0m0 0h0m-21 1h0m15 0h0m3 0h0m1 0h0m0 0h0m1 0h0m0 0h0m0 0h0m1 0h0m-20 1h0m9 0h0m2 0h0m2 0h0m3 0h0m0 0h0m1 0h0m0 0h0m2 0h0m-25 1h0m9 0h0m3 0h0m1 0h0m7 0h0m2 0h0m2 0h0m1 0h0m1 0h0m1 0h0m-17 1h0m4 0h0m9 0h0m2 0h0m0 0h0m3 0h0m-17 1h0m1 0h0m2 0h0m0 0h0m2 0h0m0 0h0m1 0h0m1 0h0m2 0h0m5 0h0m0 0h0m0 0h0m1 0h0m0 0h0m-16 1h0m3 0h0m2 0h0m1 0h0m1 0h0m1 0h0m2 0h0m4 0h0m-13 1h0m4 0h0m8 0h0m1 0h0m2 0h0m-19 1h0m5 0h0m4 0h0m3 0h0m1 0h0m4 0h0m7 0h0m-30 1h0m7 0h0m1 0h0m2 0h0m2 0h0m1 0h0m0 0h0m0 0h0m5 0h0m2 0h0m0 0h0m2 0h0m3 0h0m-19 1h0m0 0h0m1 0h0m1 0h0m1 0h0m1 0h0m1 0h0m0 0h0m1 0h0m0 0h0m1 0h0m5 0h0m0 0h0m1 0h0m0 0h0m3 0h0m1 0h0m-23 1h0m7 0h0m1 0h0m1 0h0m0 0h0m2 0h0m1 0h0m1 0h0m1 0h0m1 0h0m2 0h0m2 0h0m4 0h0m2 0h0m0 0h0m-21 1h0m7 0h0m1 0h0m0 0h0m2 0h0m0 0h0m3 0h0m3 0h0m1 0h0m2 0h0m-19 1h0m1 0h0m4 0h0m3 0h0m1 0h0m9 0h0m1 0h0m1 0h0m1 0h0m0 0h0m2 0h0m1 0h0m-24 1h0m1 0h0m4 0h0m0 0h0m1 0h0m1 0h0m2 0h0m11 0h0m2 0h0m-24 1h0m1 0h0m1 0h0m3 0h0m0 0h0m1 0h0m5 0h0m3 0h0m4 0h0m-18 1h0m1 0h0m5 0h0m0 0h0m2 0h0m2 0h0m10 0h0m3 0h0m3 0h0m-26 1h0m0 0h0m6 0h0m0 0h0m11 0h0m5 0h0m3 0h0m-32 1h0m5 0h0m1 0h0m2 0h0m0 0h0m1 0h0m7 0h0m0 0h0m0 0h0m9 0h0m5 0h0m1 0h0m-32 1h0m9 0h0m2 0h0m-3 1h0m2 0h0m2 0h0m6 0h0m8 0h0m2 0h0m2 0h0m4 0h0m-6 1h0m2 0h0m-27 1h0m1 0h0m2 0h0m2 0h0m17 0h0m2 0h0m3 0h0m-31 1h0m4 0h0m1 0h0m6 0h0m0 0h0m3 0h0m0 0h0m15 0h0m4 0h0m3 0h0m-29 1h0m0 0h0m2 0h0m2 0h0m0 0h0m4 0h0m10 0h0m1 0h0m4 0h0m4 0h0m2 0h0m-37 1h0m0 0h0m3 0h0m5 0h0m0 0h0m4 0h0m17 0h0m1 0h0m4 0h0m-33 1h0m3 0h0m3 0h0m1 0h0m1 0h0m3 0h0m1 0h0m1 0h0m5 0h0m12 0h0m2 0h0m9 0h0m-50 1h0m5 0h0m6 0h0m1 0h0m1 0h0m1 0h0m0 0h0m0 0h0m3 0h0m0 0h0m5 0h0m0 0h0m19 0h0m0 0h0m-34 1h0m1 0h0m4 0h0m0 0h0m3 0h0m3 0h0m1 0h0m2 0h0m15 0h0m1 0h0m7 0h0m-45 1h0m9 0h0m4 0h0m3 0h0m1 0h0m4 0h0m13 0h0m1 0h0m4 0h0m-32 1h0m10 0h0m2 0h0m1 0h0m16 0h0m6 0h0m-41 1h0m6 0h0m5 0h0m1 0h0m0 0h0m2 0h0m1 0h0m2 0h0m2 0h0m3 0h0m13 0h0m-34 1h0m5 0h0m2 0h0m1 0h0m2 0h0m3 0h0m3 0h0m0 0h0m18 0h0m8 0h0m-36 1h0m4 0h0m4 0h0m2 0h0m0 0h0m20 0h0m4 0h0m-38 1h0m1 0h0m0 0h0m2 0h0m1 0h0m6 0h0m23 0h0m4 0h0m5 0h0m-52 1h0m13 0h0m3 0h0m2 0h0m1 0h0m0 0h0m5 0h0m0 0h0m20 0h0m0 0h0m1 0h0m1 0h0m1 0h0m-39 1h0m4 0h0m1 0h0m0 0h0m0 0h0m4 0h0m1 0h0m1 0h0m2 0h0m1 0h0m29 0h0m1 0h0m-44 1h0m2 0h0m4 0h0m0 0h0m3 0h0m11 0h0m16 0h0m3 0h0m0 0h0m2 0h0m-40 1h0m6 0h0m10 0h0m17 0h0m3 0h0m5 0h0m1 0h0m-50 1h0m10 0h0m1 0h0m0 0h0m2 0h0m3 0h0m2 0h0m21 0h0m8 0h0m1 0h0m-35 1h0m1 0h0m31 0h0m3 0h0m-42 1h0m0 0h0m5 0h0m4 0h0m8 0h0m20 0h0m1 0h0m1 0h0m1 0h0m3 0h0m-50 1h0m2 0h0m3 0h0m2 0h0m3 0h0m5 0h0m24 0h0m3 0h0m3 0h0m2 0h0m2 0h0m0 0h0m-47 1h0m3 0h0m5 0h0m1 0h0m7 0h0m26 0h0m4 0h0m5 0h0m-46 1h0m2 0h0m5 0h0m0 0h0m0 0h0m2 0h0m1 0h0m-18 1h0m2 0h0m3 0h0m2 0h0m0 0h0m0 0h0m2 0h0m0 0h0m2 0h0m1 0h0m1 0h0m0 0h0m2 0h0m1 0h0m1 0h0m28 0h0m1 0h0m5 0h0m1 0h0m-50 1h0m0 0h0m3 0h0m0 0h0m4 0h0m4 0h0m3 0h0m0 0h0m28 0h0m5 0h0m-48 1h0m3 0h0m2 0h0m2 0h0m8 0h0m25 0h0m4 0h0m-34 1h0m36 0h0m-45 1h0m1 0h0m0 0h0m3 0h0m4 0h0m0 0h0m1 0h0m35 0h0m2 0h0m-51 1h0m0 0h0m1 0h0m4 0h0m1 0h0m1 0h0m2 0h0m1 0h0m7 0h0m6 0h0m-19 1h0m8 0h0m0 0h0m0 0h0m2 0h0m3 0h0m30 0h0m5 0h0m0 0h0m-54 1h0m3 0h0m2 0h0m0 0h0m0 0h0m3 0h0m1 0h0m1 0h0m0 0h0m3 0h0m1 0h0m36 0h0m0 0h0m1 0h0m-46 1h0m1 0h0m1 0h0m0 0h0m1 0h0m5 0h0m4 0h0m32 0h0m1 0h0m-50 1h0m2 0h0m4 0h0m3 0h0m1 0h0m1 0h0m7 0h0m-16 1h0m54 0h0m-54 1h0m2 0h0m4 0h0m1 0h0m2 0h0m6 0h0m30 0h0m-47 1h0m1 0h0m3 0h0m3 0h0m0 0h0m0 0h0m-6 1h0m1 0h0m3 0h0m1 0h0m2 0h0m1 0h0m5 0h0m2 0h0m42 0h0m3 0h0m-58 1h0m2 0h0m1 0h0m3 0h0m1 0h0m7 0h0m-19 1h0m6 0h0m0 0h0m1 0h0m3 0h0m1 0h0m44 0h0m-52 1h0m2 0h0m0 0h0m1 0h0m0 0h0m3 0h0m0 0h0m2 0h0m52 0h0m-62 1h0m1 0h0m8 0h0m2 0h0m40 0h0m9 0h0m-58 1h0m3 0h0m6 0h0m6 0h0m-18 1h0m2 0h0m2 0h0m0 0h0m1 0h0m2 0h0m1 0h0m46 0h0m-51 1h0m55 0h0m-58 1h0m1 0h0m0 0h0m2 0h0m3 0h0m1 0h0m2 0h0m48 0h0m-56 1h0m7 0h0m52 0h0m-58 1h0m3 0h0m-3 1h0m3 0h0m8 0h0m-4 1h0m41 0h0" stroke="#000" stroke-width="1.40" stroke-linecap="square" fill="none" stroke-opacity="0.65"/>
<path transform="scale(0.5)" d="M633 105h0m0 0h0m1 0h0m-4 1h0m2 0h0m1 1h0m0 0h0m3 1h0m-7 1h0m3 0h0m0 1h0m1 1h0m-2 1h0m2 0h0m-3 1h0m5 0h0m-4 2h0m0 0h0m2 2h0m-2 6h0m-25 5h0m1 5h0m6 3h0m-6 1h0m-3 4h0m3 0h0m-3 2h0m-3 1h0m-2 3h0m0 0h0m-3 2h0m5 0h0m-3 1h0m6 2h0m-10 2h0m0 1h0m3 1h0m-7 1h0m-4 3h0m-4 4h0m8 0h0m-4 1h0m-3 2h0m4 0h0m-2 1h0" stroke="#000" stroke-width="2.00" stroke-linecap="square" fill="none" stroke-opacity="1.0"/>
<text x="308.80" y="32.00" font-size="8.4" fill="#000" text-anchor="middle" stroke="#000" stroke-width="0.05">LCH006</text>
<path d="M287.50 39.20V88.50H332.60" stroke="#000" stroke-width="1.1" fill="none"/>
<text x="279.40" y="90.70" font-size="6.2" text-anchor="middle" fill="#000" stroke="#000" stroke-width="0.15">10<tspan font-size="2.79" dy="-2.23" stroke-width="0.05">0</tspan></text>
<text x="279.40" y="78.65" font-size="6.2" text-anchor="middle" fill="#000" stroke="#000" stroke-width="0.15">10<tspan font-size="2.79" dy="-2.23" stroke-width="0.05">1</tspan></text>
<text x="279.40" y="66.60" font-size="6.2" text-anchor="middle" fill="#000" stroke="#000" stroke-width="0.15">10<tspan font-size="2.79" dy="-2.23" stroke-width="0.05">2</tspan></text>
<text x="279.40" y="54.55" font-size="6.2" text-anchor="middle" fill="#000" stroke="#000" stroke-width="0.15">10<tspan font-size="2.79" dy="-2.23" stroke-width="0.05">3</tspan></text>
<text x="279.40" y="42.50" font-size="6.2" text-anchor="middle" fill="#000" stroke="#000" stroke-width="0.15">10<tspan font-size="2.79" dy="-2.23" stroke-width="0.05">4</tspan></text>
<text x="288.40" y="96.80" font-size="6.2" text-anchor="middle" fill="#000" stroke="#000" stroke-width="0.15">10<tspan font-size="2.79" dy="-2.23" stroke-width="0.05">0</tspan></text>
<text x="299.55" y="96.80" font-size="6.2" text-anchor="middle" fill="#000" stroke="#000" stroke-width="0.15">10<tspan font-size="2.79" dy="-2.23" stroke-width="0.05">1</tspan></text>
<text x="310.70" y="96.80" font-size="6.2" text-anchor="middle" fill="#000" stroke="#000" stroke-width="0.15">10<tspan font-size="2.79" dy="-2.23" stroke-width="0.05">2</tspan></text>
<text x="321.85" y="96.80" font-size="6.2" text-anchor="middle" fill="#000" stroke="#000" stroke-width="0.15">10<tspan font-size="2.79" dy="-2.23" stroke-width="0.05">3</tspan></text>
<text x="333.00" y="96.80" font-size="6.2" text-anchor="middle" fill="#000" stroke="#000" stroke-width="0.15">10<tspan font-size="2.79" dy="-2.23" stroke-width="0.05">4</tspan></text>
<text x="271.80" y="63.50" font-size="8.6" fill="#000" text-anchor="middle" textLength="16.5" lengthAdjust="spacingAndGlyphs" transform="rotate(-90 271.80 63.50)" stroke="#000" stroke-width="0.3">CD207</text>
<text x="309.60" y="107.00" font-size="8.6" fill="#000" text-anchor="middle" textLength="13.7" lengthAdjust="spacingAndGlyphs" stroke="#000" stroke-width="0.3">CD1a</text>
<rect x="311.20" y="45.40" width="13.30" height="14.60" fill="none" stroke="#5fb95f" stroke-width="0.65"/>
<rect x="311.20" y="72.30" width="13.30" height="15.20" fill="none" stroke="#f6c160" stroke-width="0.65"/>
<rect x="311.20" y="60.50" width="13.30" height="11.20" fill="none" stroke="#e4444c" stroke-width="0.65"/>
<text x="327.00" y="55.90" font-size="5.5" fill="#2f9a4e" stroke="#2f9a4e" stroke-width="0.18">10.5%</text>
<text x="326.00" y="67.90" font-size="5.5" fill="#d3383a" stroke="#d3383a" stroke-width="0.18">6.37%</text>
<text x="326.00" y="75.10" font-size="5.5" fill="#eab52a" stroke="#eab52a" stroke-width="0.18">3.26%</text>
<path transform="scale(0.5)" d="M762 92h0m-8 7h0m49 3h0m3 9h0m-19 4h0m6 1h0m-38 2h0m16 1h0m39 7h0m-37 1h0m33 0h0m-49 25h0m49 0h0m-54 1h0m-5 5h0m8 1h0m48 7h0m-57 3h0m-3 2h0m68 4h0" stroke="#000" stroke-width="1.20" stroke-linecap="square" fill="none" stroke-opacity="0.45"/>
<path transform="scale(0.5)" d="M784 111h0m2 2h0m-1 1h0m-1 1h0m11 0h0m-11 1h0m0 0h0m1 0h0m1 0h0m1 0h0m1 0h0m5 0h0m-13 1h0m2 0h0m2 0h0m1 0h0m1 0h0m4 0h0m1 0h0m1 0h0m-13 1h0m7 0h0m2 0h0m0 0h0m0 0h0m1 0h0m1 0h0m3 0h0m0 0h0m0 0h0m-12 1h0m1 0h0m2 0h0m3 0h0m1 0h0m1 0h0m1 0h0m1 0h0m0 0h0m2 0h0m0 0h0m-11 1h0m3 0h0m1 0h0m1 0h0m0 0h0m1 0h0m1 0h0m1 0h0m0 0h0m1 0h0m1 0h0m1 0h0m2 0h0m1 0h0m0 0h0m-20 1h0m5 0h0m0 0h0m3 0h0m1 0h0m0 0h0m2 0h0m1 0h0m0 0h0m0 0h0m2 0h0m0 0h0m2 0h0m1 0h0m0 0h0m1 0h0m2 0h0m1 0h0m1 0h0m1 0h0m1 0h0m-20 1h0m2 0h0m0 0h0m0 0h0m2 0h0m0 0h0m1 0h0m3 0h0m0 0h0m1 0h0m0 0h0m1 0h0m0 0h0m0 0h0m2 0h0m1 0h0m0 0h0m0 0h0m0 0h0m1 0h0m0 0h0m1 0h0m2 0h0m4 0h0m-19 1h0m1 0h0m0 0h0m0 0h0m1 0h0m2 0h0m1 0h0m0 0h0m0 0h0m1 0h0m1 0h0m0 0h0m3 0h0m3 0h0m1 0h0m0 0h0m1 0h0m0 0h0m8 0h0m-27 1h0m3 0h0m3 0h0m1 0h0m1 0h0m0 0h0m1 0h0m1 0h0m0 0h0m0 0h0m0 0h0m0 0h0m1 0h0m2 0h0m1 0h0m2 0h0m1 0h0m7 0h0m0 0h0m1 0h0m0 0h0m-29 1h0m7 0h0m1 0h0m1 0h0m3 0h0m0 0h0m1 0h0m0 0h0m2 0h0m1 0h0m2 0h0m0 0h0m0 0h0m2 0h0m1 0h0m2 0h0m0 0h0m0 0h0m1 0h0m0 0h0m0 0h0m1 0h0m4 0h0m-26 1h0m2 0h0m1 0h0m3 0h0m0 0h0m1 0h0m1 0h0m1 0h0m1 0h0m1 0h0m0 0h0m0 0h0m0 0h0m1 0h0m1 0h0m0 0h0m1 0h0m0 0h0m1 0h0m1 0h0m0 0h0m0 0h0m1 0h0m1 0h0m1 0h0m1 0h0m1 0h0m2 0h0m-28 1h0m6 0h0m0 0h0m1 0h0m0 0h0m3 0h0m2 0h0m1 0h0m0 0h0m0 0h0m0 0h0m1 0h0m1 0h0m0 0h0m2 0h0m0 0h0m1 0h0m2 0h0m1 0h0m0 0h0m1 0h0m1 0h0m3 0h0m0 0h0m3 0h0m-25 1h0m1 0h0m2 0h0m4 0h0m0 0h0m0 0h0m0 0h0m1 0h0m3 0h0m2 0h0m1 0h0m1 0h0m0 0h0m2 0h0m1 0h0m1 0h0m2 0h0m1 0h0m12 0h0m-41 1h0m2 0h0m5 0h0m0 0h0m1 0h0m1 0h0m1 0h0m0 0h0m1 0h0m2 0h0m0 0h0m2 0h0m0 0h0m3 0h0m0 0h0m2 0h0m4 0h0m1 0h0m1 0h0m0 0h0m3 0h0m-24 1h0m1 0h0m1 0h0m1 0h0m3 0h0m0 0h0m0 0h0m4 0h0m0 0h0m1 0h0m1 0h0m3 0h0m2 0h0m1 0h0m0 0h0m1 0h0m1 0h0m2 0h0m0 0h0m0 0h0m0 0h0m0 0h0m2 0h0m11 0h0m-35 1h0m0 0h0m4 0h0m1 0h0m0 0h0m2 0h0m1 0h0m0 0h0m2 0h0m2 0h0m0 0h0m2 0h0m1 0h0m0 0h0m2 0h0m2 0h0m2 0h0m0 0h0m-26 1h0m0 0h0m10 0h0m1 0h0m1 0h0m1 0h0m1 0h0m3 0h0m2 0h0m0 0h0m1 0h0m1 0h0m1 0h0m14 0h0m-31 1h0m0 0h0m2 0h0m0 0h0m2 0h0m2 0h0m0 0h0m3 0h0m5 0h0m4 0h0m3 0h0m0 0h0m0 0h0m-24 1h0m3 0h0m1 0h0m2 0h0m1 0h0m1 0h0m1 0h0m0 0h0m1 0h0m0 0h0m3 0h0m1 0h0m1 0h0m1 0h0m5 0h0m-23 1h0m0 0h0m3 0h0m0 0h0m8 0h0m7 0h0m3 0h0m-27 1h0m1 0h0m6 0h0m1 0h0m0 0h0m1 0h0m1 0h0m2 0h0m0 0h0m6 0h0m0 0h0m1 0h0m8 0h0m10 0h0m-31 1h0m6 0h0m1 0h0m0 0h0m3 0h0m0 0h0m5 0h0m8 0h0m9 0h0m-39 1h0m1 0h0m8 0h0m1 0h0m1 0h0m2 0h0m0 0h0m4 0h0m1 0h0m1 0h0m5 0h0m6 0h0m-30 1h0m1 0h0m1 0h0m4 0h0m4 0h0m1 0h0m0 0h0m1 0h0m2 0h0m0 0h0m4 0h0m13 0h0m5 0h0m-40 1h0m9 0h0m1 0h0m1 0h0m2 0h0m0 0h0m5 0h0m-15 1h0m8 0h0m1 0h0m0 0h0m1 0h0m2 0h0m7 0h0m2 0h0m-22 1h0m2 0h0m0 0h0m0 0h0m0 0h0m3 0h0m3 0h0m1 0h0m5 0h0m6 0h0m0 0h0m1 0h0m12 0h0m4 0h0m-35 1h0m1 0h0m3 0h0m5 0h0m2 0h0m0 0h0m0 0h0m0 0h0m0 0h0m3 0h0m17 0h0m2 0h0m-34 1h0m2 0h0m5 0h0m0 0h0m0 0h0m0 0h0m2 0h0m1 0h0m2 0h0m2 0h0m7 0h0m13 0h0m0 0h0m-42 1h0m4 0h0m1 0h0m9 0h0m2 0h0m1 0h0m5 0h0m4 0h0m2 0h0m1 0h0m17 0h0m-41 1h0m3 0h0m2 0h0m2 0h0m0 0h0m1 0h0m0 0h0m0 0h0m2 0h0m0 0h0m2 0h0m0 0h0m1 0h0m6 0h0m-21 1h0m7 0h0m0 0h0m2 0h0m3 0h0m2 0h0m1 0h0m1 0h0m16 0h0m7 0h0m-37 1h0m0 0h0m2 0h0m1 0h0m1 0h0m0 0h0m1 0h0m0 0h0m2 0h0m2 0h0m1 0h0m4 0h0m1 0h0m0 0h0m18 0h0m1 0h0m10 0h0m-50 1h0m11 0h0m2 0h0m2 0h0m0 0h0m24 0h0m-42 1h0m1 0h0m1 0h0m5 0h0m5 0h0m1 0h0m5 0h0m-18 1h0m5 0h0m5 0h0m2 0h0m2 0h0m1 0h0m0 0h0m0 0h0m2 0h0m6 0h0m12 0h0m15 0h0m-44 1h0m1 0h0m1 0h0m5 0h0m1 0h0m0 0h0m6 0h0m1 0h0m2 0h0m5 0h0m-25 1h0m1 0h0m2 0h0m6 0h0m0 0h0m1 0h0m0 0h0m3 0h0m1 0h0m7 0h0m13 0h0m15 0h0m-52 1h0m8 0h0m0 0h0m4 0h0m1 0h0m21 0h0m14 0h0m-45 1h0m5 0h0m3 0h0m3 0h0m17 0h0m-27 1h0m0 0h0m5 0h0m1 0h0m1 0h0m1 0h0m0 0h0m3 0h0m20 0h0m3 0h0m2 0h0m7 0h0m-52 1h0m7 0h0m3 0h0m1 0h0m1 0h0m2 0h0m1 0h0m4 0h0m2 0h0m28 0h0m1 0h0m-48 1h0m5 0h0m1 0h0m0 0h0m5 0h0m4 0h0m0 0h0m1 0h0m2 0h0m5 0h0m-19 1h0m0 0h0m4 0h0m5 0h0m1 0h0m1 0h0m1 0h0m0 0h0m31 0h0m5 0h0m-53 1h0m1 0h0m2 0h0m2 0h0m1 0h0m0 0h0m1 0h0m1 0h0m2 0h0m0 0h0m1 0h0m0 0h0m1 0h0m1 0h0m3 0h0m0 0h0m4 0h0m4 0h0m18 0h0m-44 1h0m3 0h0m4 0h0m1 0h0m1 0h0m5 0h0m1 0h0m41 0h0m4 0h0m-60 1h0m10 0h0m2 0h0m1 0h0m2 0h0m40 0h0m-53 1h0m1 0h0m7 0h0m0 0h0m1 0h0m0 0h0m1 0h0m0 0h0m1 0h0m3 0h0m2 0h0m0 0h0m1 0h0m1 0h0m3 0h0m-22 1h0m4 0h0m4 0h0m1 0h0m4 0h0m1 0h0m3 0h0m5 0h0m29 0h0m0 0h0m-53 1h0m4 0h0m1 0h0m2 0h0m2 0h0m1 0h0m2 0h0m0 0h0m2 0h0m35 0h0m13 0h0m-60 1h0m1 0h0m2 0h0m1 0h0m3 0h0m0 0h0m0 0h0m0 0h0m1 0h0m1 0h0m0 0h0m1 0h0m8 0h0m30 0h0m-48 1h0m0 0h0m4 0h0m1 0h0m2 0h0m1 0h0m1 0h0m2 0h0m-12 1h0m0 0h0m2 0h0m0 0h0m1 0h0m0 0h0m3 0h0m3 0h0m3 0h0m2 0h0m-9 1h0m1 0h0m2 0h0m0 0h0m1 0h0m1 0h0m1 0h0m1 0h0m4 0h0m0 0h0m28 0h0m-40 1h0m3 0h0m39 0h0m6 0h0m5 0h0m-57 1h0m3 0h0m9 0h0m-10 1h0m0 0h0m2 0h0m6 0h0m1 0h0m1 0h0m34 0h0m-43 1h0m3 0h0m0 0h0m1 0h0m0 0h0m0 0h0m2 0h0m1 0h0m-7 1h0m3 1h0" stroke="#000" stroke-width="1.40" stroke-linecap="square" fill="none" stroke-opacity="0.65"/>
<path transform="scale(0.5)" d="M806 83h0m-12 1h0m-6 1h0m-2 1h0m5 2h0m7 1h0m11 0h0m-30 1h0m19 0h0m-7 1h0m-7 1h0m0 0h0m8 0h0m8 0h0m2 0h0m-28 1h0m9 0h0m4 0h0m0 0h0m1 0h0m7 0h0m-4 1h0m14 0h0m12 0h0m-32 1h0m10 0h0m2 0h0m4 0h0m4 0h0m-29 1h0m1 0h0m3 0h0m14 0h0m3 0h0m2 0h0m15 0h0m-23 1h0m0 0h0m1 0h0m2 0h0m1 0h0m3 0h0m1 0h0m10 0h0m-25 1h0m2 0h0m7 0h0m1 0h0m0 0h0m1 0h0m6 0h0m1 0h0m2 0h0m7 0h0m-33 1h0m8 0h0m5 0h0m2 0h0m1 0h0m0 0h0m0 0h0m4 0h0m-12 1h0m4 0h0m0 0h0m1 0h0m6 0h0m5 0h0m1 0h0m3 0h0m7 0h0m6 0h0m-45 1h0m11 0h0m2 0h0m0 0h0m3 0h0m2 0h0m3 0h0m5 0h0m2 0h0m2 0h0m2 0h0m5 0h0m-27 1h0m5 0h0m3 0h0m0 0h0m1 0h0m7 0h0m3 0h0m3 0h0m1 0h0m1 0h0m1 0h0m-14 1h0m0 0h0m10 0h0m7 0h0m0 0h0m6 0h0m-41 1h0m13 0h0m1 0h0m1 0h0m2 0h0m1 0h0m0 0h0m1 0h0m1 0h0m2 0h0m2 0h0m0 0h0m1 0h0m2 0h0m0 0h0m5 0h0m2 0h0m0 0h0m8 0h0m-32 1h0m2 0h0m3 0h0m1 0h0m1 0h0m3 0h0m2 0h0m2 0h0m0 0h0m13 0h0m-29 1h0m3 0h0m2 0h0m1 0h0m0 0h0m1 0h0m4 0h0m0 0h0m1 0h0m0 0h0m5 0h0m2 0h0m1 0h0m1 0h0m1 0h0m3 0h0m0 0h0m1 0h0m-25 1h0m1 0h0m4 0h0m3 0h0m0 0h0m1 0h0m0 0h0m0 0h0m0 0h0m2 0h0m0 0h0m0 0h0m3 0h0m1 0h0m1 0h0m2 0h0m0 0h0m1 0h0m0 0h0m1 0h0m2 0h0m0 0h0m1 0h0m1 0h0m0 0h0m1 0h0m0 0h0m1 0h0m5 0h0m-32 1h0m3 0h0m3 0h0m2 0h0m3 0h0m0 0h0m3 0h0m1 0h0m2 0h0m2 0h0m0 0h0m1 0h0m1 0h0m1 0h0m5 0h0m1 0h0m1 0h0m3 0h0m3 0h0m-38 1h0m3 0h0m7 0h0m5 0h0m6 0h0m3 0h0m6 0h0m1 0h0m0 0h0m3 0h0m-32 1h0m4 0h0m1 0h0m4 0h0m1 0h0m0 0h0m1 0h0m1 0h0m3 0h0m3 0h0m2 0h0m0 0h0m2 0h0m0 0h0m0 0h0m1 0h0m0 0h0m1 0h0m1 0h0m1 0h0m1 0h0m0 0h0m2 0h0m5 0h0m-26 1h0m0 0h0m7 0h0m1 0h0m10 0h0m0 0h0m3 0h0m4 0h0m-24 1h0m3 0h0m2 0h0m4 0h0m0 0h0m0 0h0m3 0h0m0 0h0m2 0h0m1 0h0m4 0h0m4 0h0m4 0h0m3 0h0m3 0h0m-32 1h0m4 0h0m3 0h0m1 0h0m0 0h0m3 0h0m2 0h0m1 0h0m1 0h0m-23 1h0m7 0h0m6 0h0m0 0h0m1 0h0m2 0h0m2 0h0m2 0h0m2 0h0m0 0h0m0 0h0m1 0h0m0 0h0m4 0h0m1 0h0m8 0h0m-38 1h0m6 0h0m5 0h0m1 0h0m2 0h0m0 0h0m6 0h0m2 0h0m5 0h0m0 0h0m1 0h0m6 0h0m4 0h0m-32 1h0m0 0h0m3 0h0m1 0h0m2 0h0m4 0h0m1 0h0m3 0h0m3 0h0m2 0h0m4 0h0m1 0h0m9 0h0m4 0h0m-37 1h0m2 0h0m6 0h0m1 0h0m0 0h0m0 0h0m1 0h0m4 0h0m0 0h0m1 0h0m1 0h0m2 0h0m1 0h0m3 0h0m2 0h0m2 0h0m-25 1h0m2 0h0m0 0h0m2 0h0m1 0h0m4 0h0m0 0h0m4 0h0m0 0h0m4 0h0m2 0h0m13 0h0m-48 1h0m18 0h0m4 0h0m2 0h0m0 0h0m10 0h0m0 0h0m7 0h0m2 0h0m0 0h0m0 0h0m1 0h0m2 0h0m-31 1h0m1 0h0m4 0h0m1 0h0m3 0h0m1 0h0m1 0h0m2 0h0m18 0h0m4 0h0m4 0h0m-39 1h0m9 0h0m2 0h0m1 0h0m6 0h0m1 0h0m2 0h0m3 0h0m2 0h0m2 0h0m6 0h0m-14 1h0m9 0h0m-21 1h0m2 0h0m5 0h0m1 0h0m1 0h0m1 0h0m5 0h0m-7 1h0m2 0h0m3 0h0m9 0h0m-4 1h0m-14 1h0m11 0h0m2 0h0m-19 1h0m11 0h0m5 0h0m13 0h0m-33 1h0m6 0h0m17 0h0m-13 1h0m3 0h0m-9 1h0m11 0h0m10 0h0m-28 1h0m27 0h0" stroke="#000" stroke-width="1.60" stroke-linecap="square" fill="none" stroke-opacity="0.85"/>
<path transform="scale(0.5)" d="M787 88h0m7 2h0m-1 1h0m-6 1h0m3 0h0m6 0h0m1 1h0m6 0h0m1 0h0m3 0h0m-15 1h0m-5 1h0m5 0h0m4 0h0m1 0h0m3 0h0m-29 1h0m19 0h0m8 0h0m6 0h0m-19 1h0m2 0h0m7 0h0m4 0h0m2 0h0m1 0h0m2 0h0m-21 1h0m11 0h0m4 0h0m0 0h0m3 0h0m3 0h0m1 0h0m1 0h0m-21 1h0m10 0h0m4 0h0m2 0h0m1 0h0m6 0h0m-17 1h0m0 0h0m1 0h0m1 0h0m2 0h0m0 0h0m6 0h0m3 0h0m4 0h0m3 0h0m3 0h0m-25 1h0m4 0h0m2 0h0m2 0h0m2 0h0m1 0h0m2 0h0m1 0h0m2 0h0m1 0h0m8 0h0m-20 1h0m1 0h0m2 0h0m1 0h0m2 0h0m0 0h0m0 0h0m1 0h0m2 0h0m0 0h0m2 0h0m1 0h0m2 0h0m4 0h0m-20 1h0m2 0h0m1 0h0m1 0h0m1 0h0m3 0h0m1 0h0m3 0h0m3 0h0m2 0h0m-15 1h0m4 0h0m1 0h0m1 0h0m1 0h0m4 0h0m1 0h0m3 0h0m2 0h0m0 0h0m1 0h0m-20 1h0m3 0h0m0 0h0m3 0h0m0 0h0m5 0h0m2 0h0m1 0h0m0 0h0m2 0h0m0 0h0m1 0h0m0 0h0m1 0h0m0 0h0m0 0h0m-16 1h0m6 0h0m1 0h0m2 0h0m1 0h0m1 0h0m2 0h0m0 0h0m3 0h0m6 0h0m6 0h0m-27 1h0m2 0h0m1 0h0m5 0h0m0 0h0m2 0h0m1 0h0m0 0h0m2 0h0m2 0h0m4 0h0m-20 1h0m0 0h0m1 0h0m4 0h0m3 0h0m1 0h0m0 0h0m1 0h0m2 0h0m2 0h0m1 0h0m1 0h0m2 0h0m0 0h0m1 0h0m-15 1h0m4 0h0m2 0h0m0 0h0m1 0h0m0 0h0m0 0h0m1 0h0m1 0h0m0 0h0m2 0h0m1 0h0m0 0h0m-13 1h0m1 0h0m4 0h0m0 0h0m0 0h0m3 0h0m1 0h0m5 0h0m0 0h0m3 0h0m-16 1h0m1 0h0m5 0h0m0 0h0m1 0h0m0 0h0m2 0h0m2 0h0m2 0h0m1 0h0m4 0h0m3 0h0m-25 1h0m3 0h0m5 0h0m5 0h0m2 0h0m3 0h0m2 0h0m1 0h0m-17 1h0m0 0h0m0 0h0m3 0h0m2 0h0m2 0h0m0 0h0m0 0h0m1 0h0m2 0h0m2 0h0m2 0h0m1 0h0m1 0h0m-19 1h0m6 0h0m10 0h0m3 0h0m0 0h0m0 0h0m3 0h0m-16 1h0m3 0h0m4 0h0m13 0h0m-26 1h0m7 0h0m5 0h0m4 1h0m0 0h0m-23 2h0m14 0h0m1 0h0m4 0h0m4 0h0m-24 1h0m1 0h0m21 0h0m10 0h0m-34 1h0m1 0h0m-3 1h0m5 0h0m1 0h0m2 0h0m-5 1h0m4 0h0m0 0h0m1 0h0m-11 1h0m4 0h0m2 0h0m0 0h0m4 0h0m-10 1h0m2 0h0m4 0h0m0 0h0m0 0h0m-5 1h0m2 0h0m1 0h0m1 0h0m1 0h0m1 0h0m0 0h0m1 0h0m-14 1h0m5 0h0m6 0h0m3 0h0m2 0h0m-10 1h0m-2 1h0m0 0h0m1 0h0m5 0h0m4 0h0m-11 1h0m0 0h0m3 0h0m1 0h0m0 0h0m0 0h0m-8 1h0m4 0h0m0 0h0m5 0h0m-6 1h0m0 0h0m2 0h0m2 0h0m5 0h0m0 0h0m-11 1h0m2 0h0m1 0h0m1 0h0m1 0h0m-3 1h0m0 0h0m1 0h0m1 0h0m2 0h0m1 0h0m-4 1h0m5 0h0m-12 1h0m4 0h0m0 0h0m0 0h0m6 0h0m-9 1h0m4 0h0m1 0h0m-7 1h0m2 0h0m2 0h0m1 0h0m1 0h0m-6 1h0m2 0h0m1 0h0m2 0h0m2 0h0m1 0h0m-8 1h0m1 0h0m5 0h0m-6 1h0m2 0h0m1 0h0m1 0h0m2 0h0m-6 1h0m1 0h0m0 0h0m0 0h0m4 0h0m-5 1h0m2 0h0m0 0h0m1 0h0m-4 1h0m6 0h0m-10 1h0m6 0h0m1 0h0m0 0h0m-6 1h0m-1 1h0m5 0h0m0 0h0m-7 1h0m1 0h0m0 0h0m5 0h0m-10 1h0m2 0h0m1 0h0m2 0h0m1 0h0m4 0h0m2 0h0m-8 1h0m2 0h0m1 0h0m1 0h0m1 0h0m-7 1h0m2 0h0m2 0h0m2 0h0m1 0h0m-6 1h0m3 0h0m-8 1h0m3 0h0m-1 1h0m1 0h0m3 0h0m2 0h0m-6 1h0m1 0h0m0 0h0m1 0h0m1 0h0m2 0h0m-3 1h0m1 0h0m-9 1h0m2 0h0m0 0h0m2 0h0m3 0h0m-7 1h0m1 0h0m2 0h0m1 0h0m0 0h0m1 0h0m2 0h0m3 0h0m-10 1h0m4 0h0m-3 1h0m0 0h0m1 0h0m0 0h0m2 0h0m5 0h0m-13 1h0m4 0h0m2 0h0m1 0h0m-8 1h0m0 0h0m5 0h0m1 0h0m8 0h0m-11 1h0m2 0h0m-2 2h0m3 0h0m-4 1h0m1 0h0m3 0h0m1 0h0m0 0h0m-5 1h0m0 1h0m3 0h0m1 0h0m1 0h0m2 0h0m-5 2h0" stroke="#000" stroke-width="2.00" stroke-linecap="square" fill="none" stroke-opacity="1.0"/>
<text x="391.80" y="32.00" font-size="8.4" fill="#000" text-anchor="middle" stroke="#000" stroke-width="0.05">LCH007</text>
<path d="M370.50 39.20V88.50H415.60" stroke="#000" stroke-width="1.1" fill="none"/>
<text x="362.40" y="90.70" font-size="6.2" text-anchor="middle" fill="#000" stroke="#000" stroke-width="0.15">10<tspan font-size="2.79" dy="-2.23" stroke-width="0.05">0</tspan></text>
<text x="362.40" y="78.65" font-size="6.2" text-anchor="middle" fill="#000" stroke="#000" stroke-width="0.15">10<tspan font-size="2.79" dy="-2.23" stroke-width="0.05">1</tspan></text>
<text x="362.40" y="66.60" font-size="6.2" text-anchor="middle" fill="#000" stroke="#000" stroke-width="0.15">10<tspan font-size="2.79" dy="-2.23" stroke-width="0.05">2</tspan></text>
<text x="362.40" y="54.55" font-size="6.2" text-anchor="middle" fill="#000" stroke="#000" stroke-width="0.15">10<tspan font-size="2.79" dy="-2.23" stroke-width="0.05">3</tspan></text>
<text x="362.40" y="42.50" font-size="6.2" text-anchor="middle" fill="#000" stroke="#000" stroke-width="0.15">10<tspan font-size="2.79" dy="-2.23" stroke-width="0.05">4</tspan></text>
<text x="371.40" y="96.80" font-size="6.2" text-anchor="middle" fill="#000" stroke="#000" stroke-width="0.15">10<tspan font-size="2.79" dy="-2.23" stroke-width="0.05">0</tspan></text>
<text x="382.55" y="96.80" font-size="6.2" text-anchor="middle" fill="#000" stroke="#000" stroke-width="0.15">10<tspan font-size="2.79" dy="-2.23" stroke-width="0.05">1</tspan></text>
<text x="393.70" y="96.80" font-size="6.2" text-anchor="middle" fill="#000" stroke="#000" stroke-width="0.15">10<tspan font-size="2.79" dy="-2.23" stroke-width="0.05">2</tspan></text>
<text x="404.85" y="96.80" font-size="6.2" text-anchor="middle" fill="#000" stroke="#000" stroke-width="0.15">10<tspan font-size="2.79" dy="-2.23" stroke-width="0.05">3</tspan></text>
<text x="416.00" y="96.80" font-size="6.2" text-anchor="middle" fill="#000" stroke="#000" stroke-width="0.15">10<tspan font-size="2.79" dy="-2.23" stroke-width="0.05">4</tspan></text>
<text x="354.80" y="63.50" font-size="8.6" fill="#000" text-anchor="middle" textLength="16.5" lengthAdjust="spacingAndGlyphs" transform="rotate(-90 354.80 63.50)" stroke="#000" stroke-width="0.3">CD207</text>
<text x="392.60" y="107.00" font-size="8.6" fill="#000" text-anchor="middle" textLength="13.7" lengthAdjust="spacingAndGlyphs" stroke="#000" stroke-width="0.3">CD1a</text>
<rect x="392.20" y="44.40" width="16.70" height="15.60" fill="none" stroke="#5fb95f" stroke-width="0.65"/>
<rect x="392.20" y="70.40" width="16.70" height="17.10" fill="none" stroke="#f6c160" stroke-width="0.65"/>
<rect x="392.20" y="60.50" width="16.70" height="9.30" fill="none" stroke="#e4444c" stroke-width="0.65"/>
<text x="409.60" y="55.10" font-size="5.5" fill="#2f9a4e" stroke="#2f9a4e" stroke-width="0.18">30.13%</text>
<text x="409.60" y="66.60" font-size="5.5" fill="#d3383a" stroke="#d3383a" stroke-width="0.18">16.30%</text>
<text x="409.60" y="75.70" font-size="5.5" fill="#eab52a" stroke="#eab52a" stroke-width="0.18">3.06%</text>
<path transform="scale(0.5)" d="M922 91h0m58 4h0m-10 15h0m-12 1h0m25 3h0m-57 2h0m30 6h0m-25 17h0m-16 5h0m4 0h0m14 0h0m-6 1h0m17 4h0m12 2h0m-31 2h0m4 1h0m-6 10h0m35 6h0m-30 4h0m37 1h0" stroke="#000" stroke-width="1.20" stroke-linecap="square" fill="none" stroke-opacity="0.45"/>
<path transform="scale(0.5)" d="M972 80h0m-1 12h0m-16 2h0m16 0h0m2 0h0m21 1h0m-25 1h0m10 0h0m-9 1h0m9 2h0m2 0h0m-29 1h0m31 0h0m-9 1h0m7 0h0m-23 1h0m2 0h0m1 0h0m6 0h0m2 0h0m5 0h0m-16 1h0m2 0h0m0 0h0m2 0h0m0 0h0m7 0h0m9 0h0m1 0h0m-20 1h0m3 0h0m3 0h0m7 0h0m2 0h0m0 0h0m8 0h0m-26 1h0m3 0h0m2 0h0m0 0h0m1 0h0m0 0h0m16 0h0m4 0h0m2 0h0m2 0h0m-37 1h0m4 0h0m4 0h0m2 0h0m1 0h0m2 0h0m3 0h0m6 0h0m0 0h0m1 0h0m0 0h0m3 0h0m3 0h0m0 0h0m-27 1h0m1 0h0m2 0h0m5 0h0m2 0h0m2 0h0m6 0h0m4 0h0m3 0h0m0 0h0m-25 1h0m1 0h0m3 0h0m2 0h0m0 0h0m2 0h0m1 0h0m0 0h0m2 0h0m0 0h0m1 0h0m2 0h0m1 0h0m2 0h0m0 0h0m3 0h0m3 0h0m8 0h0m-35 1h0m3 0h0m5 0h0m1 0h0m2 0h0m0 0h0m1 0h0m2 0h0m0 0h0m1 0h0m10 0h0m4 0h0m1 0h0m0 0h0m0 0h0m1 0h0m1 0h0m-28 1h0m0 0h0m4 0h0m0 0h0m1 0h0m0 0h0m1 0h0m1 0h0m4 0h0m2 0h0m1 0h0m0 0h0m3 0h0m0 0h0m2 0h0m6 0h0m0 0h0m0 0h0m0 0h0m4 0h0m-26 1h0m3 0h0m0 0h0m2 0h0m2 0h0m0 0h0m6 0h0m1 0h0m5 0h0m14 0h0m-43 1h0m5 0h0m3 0h0m0 0h0m2 0h0m0 0h0m0 0h0m1 0h0m1 0h0m1 0h0m5 0h0m2 0h0m0 0h0m1 0h0m2 0h0m0 0h0m2 0h0m4 0h0m2 0h0m1 0h0m2 0h0m0 0h0m7 0h0m2 0h0m-34 1h0m1 0h0m2 0h0m7 0h0m10 0h0m6 0h0m-33 1h0m2 0h0m5 0h0m3 0h0m2 0h0m1 0h0m2 0h0m0 0h0m4 0h0m1 0h0m1 0h0m3 0h0m2 0h0m1 0h0m9 0h0m-33 1h0m2 0h0m1 0h0m1 0h0m3 0h0m1 0h0m0 0h0m5 0h0m1 0h0m1 0h0m0 0h0m2 0h0m5 0h0m-19 1h0m2 0h0m2 0h0m0 0h0m3 0h0m8 0h0m1 0h0m1 0h0m4 0h0m0 0h0m0 0h0m1 0h0m3 0h0m0 0h0m0 0h0m1 0h0m0 0h0m1 0h0m0 0h0m5 0h0m-31 1h0m0 0h0m2 0h0m1 0h0m2 0h0m0 0h0m0 0h0m2 0h0m1 0h0m8 0h0m2 0h0m5 0h0m1 0h0m1 0h0m0 0h0m-29 1h0m4 0h0m1 0h0m1 0h0m2 0h0m0 0h0m0 0h0m1 0h0m3 0h0m4 0h0m2 0h0m5 0h0m2 0h0m1 0h0m1 0h0m1 0h0m1 0h0m1 0h0m2 0h0m-34 1h0m1 0h0m2 0h0m1 0h0m0 0h0m1 0h0m0 0h0m5 0h0m1 0h0m2 0h0m5 0h0m7 0h0m1 0h0m1 0h0m-28 1h0m6 0h0m1 0h0m2 0h0m1 0h0m6 0h0m14 0h0m2 0h0m4 0h0m-33 1h0m1 0h0m4 0h0m1 0h0m3 0h0m6 0h0m5 0h0m1 0h0m0 0h0m2 0h0m1 0h0m9 0h0m4 0h0m-48 1h0m10 0h0m3 0h0m1 0h0m2 0h0m1 0h0m3 0h0m2 0h0m3 0h0m1 0h0m0 0h0m4 0h0m0 0h0m0 0h0m4 0h0m0 0h0m-19 1h0m0 0h0m0 0h0m1 0h0m2 0h0m0 0h0m1 0h0m9 0h0m1 0h0m3 0h0m1 0h0m1 0h0m3 0h0m2 0h0m0 0h0m0 0h0m0 0h0m6 0h0m2 0h0m-44 1h0m5 0h0m3 0h0m1 0h0m1 0h0m1 0h0m0 0h0m7 0h0m2 0h0m6 0h0m3 0h0m-25 1h0m1 0h0m3 0h0m1 0h0m6 0h0m3 0h0m3 0h0m0 0h0m5 0h0m1 0h0m5 0h0m2 0h0m0 0h0m1 0h0m0 0h0m0 0h0m1 0h0m1 0h0m0 0h0m9 0h0m-38 1h0m0 0h0m1 0h0m0 0h0m1 0h0m0 0h0m1 0h0m0 0h0m1 0h0m0 0h0m5 0h0m7 0h0m4 0h0m4 0h0m2 0h0m0 0h0m6 0h0m-39 1h0m1 0h0m2 0h0m0 0h0m2 0h0m0 0h0m1 0h0m1 0h0m0 0h0m5 0h0m3 0h0m10 0h0m4 0h0m0 0h0m1 0h0m2 0h0m4 0h0m5 0h0m-45 1h0m4 0h0m2 0h0m3 0h0m0 0h0m1 0h0m5 0h0m17 0h0m2 0h0m1 0h0m1 0h0m0 0h0m0 0h0m3 0h0m5 0h0m6 0h0m-44 1h0m3 0h0m2 0h0m0 0h0m0 0h0m0 0h0m3 0h0m8 0h0m2 0h0m8 0h0m1 0h0m-32 1h0m1 0h0m1 0h0m6 0h0m2 0h0m4 0h0m2 0h0m2 0h0m2 0h0m2 0h0m5 0h0m2 0h0m10 0h0m2 0h0m3 0h0m1 0h0m3 0h0m2 0h0m-48 1h0m2 0h0m2 0h0m0 0h0m1 0h0m0 0h0m1 0h0m0 0h0m0 0h0m2 0h0m2 0h0m2 0h0m2 0h0m9 0h0m0 0h0m0 0h0m4 0h0m0 0h0m1 0h0m4 0h0m5 0h0m0 0h0m-48 1h0m12 0h0m4 0h0m3 0h0m0 0h0m1 0h0m1 0h0m3 0h0m30 0h0m-41 1h0m1 0h0m3 0h0m2 0h0m2 0h0m0 0h0m3 0h0m0 0h0m0 0h0m7 0h0m8 0h0m10 0h0m-45 1h0m2 0h0m1 0h0m1 0h0m0 0h0m3 0h0m3 0h0m1 0h0m30 0h0m5 0h0m6 0h0m-44 1h0m2 0h0m1 0h0m0 0h0m1 0h0m0 0h0m1 0h0m4 0h0m3 0h0m1 0h0m1 0h0m19 0h0m0 0h0m1 0h0m1 0h0m-36 1h0m2 0h0m5 0h0m0 0h0m1 0h0m7 0h0m17 0h0m1 0h0m6 0h0m4 0h0m-43 1h0m0 0h0m0 0h0m1 0h0m1 0h0m1 0h0m1 0h0m1 0h0m2 0h0m2 0h0m3 0h0m0 0h0m3 0h0m21 0h0m4 0h0m5 0h0m2 0h0m-51 1h0m1 0h0m1 0h0m0 0h0m5 0h0m4 0h0m2 0h0m3 0h0m0 0h0m10 0h0m9 0h0m2 0h0m4 0h0m0 0h0m1 0h0m2 0h0m4 0h0m-57 1h0m8 0h0m0 0h0m2 0h0m4 0h0m3 0h0m1 0h0m0 0h0m3 0h0m18 0h0m9 0h0m-45 1h0m4 0h0m1 0h0m3 0h0m2 0h0m6 0h0m1 0h0m1 0h0m2 0h0m18 0h0m3 0h0m-35 1h0m0 0h0m1 0h0m0 0h0m0 0h0m4 0h0m1 0h0m0 0h0m2 0h0m21 0h0m1 0h0m3 0h0m6 0h0m-44 1h0m0 0h0m3 0h0m1 0h0m0 0h0m1 0h0m5 0h0m2 0h0m1 0h0m4 0h0m1 0h0m4 0h0m13 0h0m1 0h0m0 0h0m5 0h0m3 0h0m2 0h0m-46 1h0m1 0h0m6 0h0m3 0h0m1 0h0m5 0h0m9 0h0m13 0h0m5 0h0m1 0h0m-46 1h0m5 0h0m1 0h0m1 0h0m1 0h0m2 0h0m1 0h0m1 0h0m1 0h0m2 0h0m1 0h0m10 0h0m6 0h0m15 0h0m1 0h0m-41 1h0m3 0h0m26 0h0m3 0h0m3 0h0m2 0h0m7 0h0m-49 1h0m4 0h0m0 0h0m1 0h0m0 0h0m2 0h0m1 0h0m0 0h0m2 0h0m4 0h0m5 0h0m17 0h0m4 0h0m0 0h0m2 0h0m7 0h0m-49 1h0m2 0h0m2 0h0m2 0h0m3 0h0m1 0h0m3 0h0m5 0h0m16 0h0m3 0h0m4 0h0m1 0h0m0 0h0m12 0h0m6 0h0m-57 1h0m4 0h0m2 0h0m2 0h0m2 0h0m13 0h0m9 0h0m0 0h0m1 0h0m5 0h0m0 0h0m0 0h0m1 0h0m-47 1h0m6 0h0m12 0h0m19 0h0m3 0h0m5 0h0m3 0h0m1 0h0m1 0h0m0 0h0m1 0h0m2 0h0m-52 1h0m8 0h0m1 0h0m4 0h0m2 0h0m0 0h0m8 0h0m0 0h0m14 0h0m4 0h0m1 0h0m7 0h0m2 0h0m0 0h0m8 0h0m-65 1h0m11 0h0m0 0h0m1 0h0m3 0h0m1 0h0m1 0h0m2 0h0m1 0h0m3 0h0m1 0h0m3 0h0m21 0h0m4 0h0m-46 1h0m0 0h0m5 0h0m3 0h0m1 0h0m3 0h0m1 0h0m2 0h0m1 0h0m4 0h0m10 0h0m16 0h0m3 0h0m1 0h0m1 0h0m3 0h0m-52 1h0m4 0h0m4 0h0m0 0h0m1 0h0m1 0h0m10 0h0m6 0h0m7 0h0m5 0h0m0 0h0m3 0h0m1 0h0m1 0h0m0 0h0m1 0h0m1 0h0m1 0h0m-58 1h0m11 0h0m4 0h0m0 0h0m5 0h0m3 0h0m0 0h0m18 0h0m4 0h0m8 0h0m6 0h0m7 0h0m1 0h0m-55 1h0m7 0h0m1 0h0m1 0h0m1 0h0m17 0h0m6 0h0m8 0h0m1 0h0m2 0h0m0 0h0m2 0h0m5 0h0m0 0h0m-55 1h0m0 0h0m0 0h0m6 0h0m1 0h0m1 0h0m4 0h0m2 0h0m0 0h0m19 0h0m11 0h0m0 0h0m0 0h0m2 0h0m2 0h0m2 0h0m2 0h0m1 0h0m3 0h0m0 0h0m-53 1h0m1 0h0m1 0h0m1 0h0m0 0h0m0 0h0m0 0h0m1 0h0m0 0h0m2 0h0m0 0h0m0 0h0m2 0h0m0 0h0m1 0h0m2 0h0m14 0h0m7 0h0m12 0h0m1 0h0m3 0h0m0 0h0m5 0h0m-55 1h0m1 0h0m1 0h0m4 0h0m3 0h0m6 0h0m1 0h0m26 0h0m3 0h0m3 0h0m2 0h0m0 0h0m-58 1h0m12 0h0m2 0h0m0 0h0m1 0h0m2 0h0m4 0h0m28 0h0m3 0h0m1 0h0m1 0h0m4 0h0m-53 1h0m4 0h0m4 0h0m1 0h0m0 0h0m0 0h0m3 0h0m1 0h0m0 0h0m30 0h0m3 0h0m1 0h0m2 0h0m-51 1h0m5 0h0m1 0h0m1 0h0m3 0h0m2 0h0m0 0h0m2 0h0m4 0h0m15 0h0m1 0h0m6 0h0m4 0h0m8 0h0m-55 1h0m6 0h0m2 0h0m3 0h0m3 0h0m1 0h0m34 0h0m3 0h0m6 0h0m8 0h0m1 0h0m-71 1h0m7 0h0m3 0h0m1 0h0m5 0h0m5 0h0m2 0h0m5 0h0m22 0h0m6 0h0m-50 1h0m2 0h0m3 0h0m3 0h0m0 0h0m3 0h0m4 0h0m2 0h0m0 0h0m30 0h0m3 0h0m4 0h0m0 0h0m4 0h0m-57 1h0m9 0h0m4 0h0m2 0h0m1 0h0m1 0h0m27 0h0m2 0h0m2 0h0m0 0h0m3 0h0m12 0h0m-63 1h0m3 0h0m1 0h0m5 0h0m2 0h0m0 0h0m0 0h0m4 0h0m1 0h0m2 0h0m28 0h0m0 0h0m2 0h0m6 0h0m5 0h0m1 0h0m3 0h0m-70 1h0m6 0h0m1 0h0m2 0h0m0 0h0m4 0h0m1 0h0m2 0h0m6 0h0m32 0h0m6 0h0m-58 1h0m5 0h0m1 0h0m5 0h0m5 0h0m1 0h0m28 0h0m3 0h0m5 0h0m0 0h0m1 0h0m3 0h0m1 0h0m4 0h0m6 0h0m-63 1h0m2 0h0m0 0h0m2 0h0m0 0h0m2 0h0m0 0h0m2 0h0m0 0h0m2 0h0m2 0h0m32 0h0m14 0h0m7 0h0m-65 1h0m3 0h0m2 0h0m1 0h0m1 0h0m5 0h0m-15 1h0m5 0h0m0 0h0m1 0h0m3 0h0m1 0h0m0 0h0m2 0h0m6 0h0m29 0h0m2 0h0m8 0h0m-53 1h0m3 0h0m8 0h0m1 0h0m15 0h0m25 0h0m-50 1h0m2 0h0m0 0h0m5 0h0m3 0h0m28 0h0m8 0h0m2 0h0m-42 1h0m0 0h0m1 0h0m0 0h0m32 0h0m1 0h0m4 0h0m-38 1h0m4 0h0m-1 1h0m37 0h0" stroke="#000" stroke-width="1.40" stroke-linecap="square" fill="none" stroke-opacity="0.65"/>
<path transform="scale(0.5)" d="M978 91h0m0 0h0m0 1h0m-7 1h0m2 0h0m0 0h0m0 0h0m6 0h0m-19 1h0m8 0h0m9 0h0m1 1h0m1 0h0m-7 1h0m1 0h0m0 0h0m4 0h0m4 0h0m2 0h0m-11 1h0m3 0h0m0 0h0m2 0h0m4 0h0m0 0h0m-16 1h0m5 0h0m2 0h0m1 0h0m2 0h0m4 0h0m2 0h0m-9 1h0m1 0h0m1 0h0m3 0h0m1 0h0m4 0h0m2 0h0m-18 1h0m1 0h0m0 0h0m3 0h0m0 0h0m1 0h0m1 0h0m1 0h0m2 0h0m2 0h0m2 0h0m0 0h0m0 0h0m1 0h0m1 0h0m0 0h0m3 0h0m-22 1h0m11 0h0m2 0h0m1 0h0m0 0h0m8 0h0m-23 1h0m5 0h0m5 0h0m1 0h0m1 0h0m2 0h0m1 0h0m1 0h0m1 0h0m0 0h0m2 0h0m0 0h0m6 0h0m-22 1h0m2 0h0m2 0h0m1 0h0m1 0h0m0 0h0m2 0h0m1 0h0m2 0h0m0 0h0m0 0h0m2 0h0m3 0h0m4 0h0m2 0h0m-24 1h0m4 0h0m5 0h0m0 0h0m0 0h0m3 0h0m1 0h0m0 0h0m0 0h0m1 0h0m1 0h0m0 0h0m1 0h0m0 0h0m1 0h0m3 0h0m2 0h0m1 0h0m-21 1h0m1 0h0m3 0h0m0 0h0m1 0h0m0 0h0m2 0h0m0 0h0m1 0h0m1 0h0m1 0h0m0 0h0m1 0h0m1 0h0m0 0h0m1 0h0m0 0h0m0 0h0m1 0h0m0 0h0m1 0h0m0 0h0m3 0h0m1 0h0m0 0h0m1 0h0m1 0h0m-16 1h0m1 0h0m1 0h0m1 0h0m1 0h0m1 0h0m0 0h0m0 0h0m0 0h0m1 0h0m0 0h0m1 0h0m0 0h0m1 0h0m0 0h0m1 0h0m0 0h0m0 0h0m1 0h0m1 0h0m2 0h0m2 0h0m1 0h0m-20 1h0m1 0h0m1 0h0m0 0h0m2 0h0m0 0h0m1 0h0m0 0h0m3 0h0m2 0h0m1 0h0m1 0h0m1 0h0m1 0h0m0 0h0m1 0h0m1 0h0m1 0h0m2 0h0m-18 1h0m3 0h0m1 0h0m0 0h0m1 0h0m1 0h0m0 0h0m3 0h0m2 0h0m1 0h0m0 0h0m1 0h0m0 0h0m1 0h0m0 0h0m0 0h0m1 0h0m0 0h0m0 0h0m1 0h0m-14 1h0m0 0h0m3 0h0m2 0h0m0 0h0m2 0h0m0 0h0m3 0h0m0 0h0m0 0h0m2 0h0m0 0h0m0 0h0m1 0h0m1 0h0m-24 1h0m12 0h0m2 0h0m0 0h0m0 0h0m1 0h0m1 0h0m0 0h0m0 0h0m1 0h0m1 0h0m0 0h0m2 0h0m0 0h0m2 0h0m0 0h0m2 0h0m-15 1h0m2 0h0m3 0h0m1 0h0m0 0h0m0 0h0m1 0h0m0 0h0m0 0h0m0 0h0m1 0h0m1 0h0m0 0h0m1 0h0m2 0h0m0 0h0m1 0h0m0 0h0m0 0h0m7 0h0m-24 1h0m7 0h0m1 0h0m0 0h0m0 0h0m0 0h0m1 0h0m0 0h0m0 0h0m3 0h0m1 0h0m1 0h0m0 0h0m1 0h0m0 0h0m1 0h0m3 0h0m1 0h0m1 0h0m3 0h0m-20 1h0m3 0h0m1 0h0m1 0h0m0 0h0m1 0h0m0 0h0m0 0h0m1 0h0m0 0h0m2 0h0m0 0h0m1 0h0m0 0h0m2 0h0m1 0h0m2 0h0m0 0h0m0 0h0m1 0h0m-17 1h0m6 0h0m1 0h0m0 0h0m1 0h0m1 0h0m0 0h0m2 0h0m3 0h0m0 0h0m0 0h0m1 0h0m0 0h0m3 0h0m-15 1h0m1 0h0m1 0h0m2 0h0m1 0h0m0 0h0m0 0h0m2 0h0m0 0h0m1 0h0m4 0h0m1 0h0m-22 1h0m4 0h0m2 0h0m4 0h0m1 0h0m1 0h0m1 0h0m1 0h0m1 0h0m1 0h0m0 0h0m0 0h0m2 0h0m2 0h0m1 0h0m1 0h0m3 0h0m-27 1h0m8 0h0m3 0h0m0 0h0m0 0h0m1 0h0m2 0h0m0 0h0m1 0h0m1 0h0m0 0h0m2 0h0m0 0h0m0 0h0m1 0h0m1 0h0m2 0h0m6 0h0m2 0h0m-34 1h0m2 0h0m3 0h0m11 0h0m3 0h0m2 0h0m1 0h0m0 0h0m1 0h0m1 0h0m0 0h0m5 0h0m-27 1h0m1 0h0m1 0h0m2 0h0m3 0h0m11 0h0m1 0h0m0 0h0m0 0h0m1 0h0m1 0h0m0 0h0m-22 1h0m1 0h0m2 0h0m3 0h0m2 0h0m2 0h0m2 0h0m0 0h0m1 0h0m3 0h0m3 0h0m3 0h0m1 0h0m0 0h0m0 0h0m4 0h0m-26 1h0m3 0h0m8 0h0m2 0h0m1 0h0m0 0h0m1 0h0m1 0h0m2 0h0m0 0h0m0 0h0m0 0h0m0 0h0m1 0h0m0 0h0m2 0h0m4 0h0m0 0h0m0 0h0m1 0h0m2 0h0m0 0h0m-19 1h0m3 0h0m1 0h0m0 0h0m2 0h0m1 0h0m1 0h0m0 0h0m2 0h0m0 0h0m0 0h0m2 0h0m5 0h0m-30 1h0m3 0h0m11 0h0m6 0h0m0 0h0m2 0h0m1 0h0m1 0h0m2 0h0m1 0h0m2 0h0m-23 1h0m8 0h0m2 0h0m0 0h0m3 0h0m0 0h0m1 0h0m4 0h0m0 0h0m1 0h0m2 0h0m0 0h0m3 0h0m1 0h0m3 0h0m-35 1h0m2 0h0m1 0h0m0 0h0m1 0h0m3 0h0m1 0h0m9 0h0m1 0h0m1 0h0m4 0h0m0 0h0m1 0h0m1 0h0m1 0h0m0 0h0m0 0h0m1 0h0m0 0h0m1 0h0m-25 1h0m0 0h0m5 0h0m11 0h0m1 0h0m0 0h0m0 0h0m0 0h0m2 0h0m0 0h0m3 0h0m0 0h0m0 0h0m3 0h0m1 0h0m1 0h0m2 0h0m1 0h0m0 0h0m-35 1h0m5 0h0m0 0h0m1 0h0m13 0h0m1 0h0m2 0h0m0 0h0m2 0h0m1 0h0m1 0h0m3 0h0m-28 1h0m13 0h0m1 0h0m1 0h0m2 0h0m2 0h0m2 0h0m0 0h0m1 0h0m0 0h0m0 0h0m0 0h0m4 0h0m2 0h0m2 0h0m1 0h0m-36 1h0m7 0h0m2 0h0m13 0h0m2 0h0m3 0h0m0 0h0m1 0h0m0 0h0m0 0h0m1 0h0m1 0h0m0 0h0m1 0h0m1 0h0m2 0h0m0 0h0m2 0h0m3 0h0m-33 1h0m2 0h0m0 0h0m9 0h0m6 0h0m0 0h0m0 0h0m2 0h0m0 0h0m1 0h0m1 0h0m1 0h0m1 0h0m1 0h0m0 0h0m2 0h0m1 0h0m1 0h0m1 0h0m1 0h0m0 0h0m0 0h0m1 0h0m4 0h0m2 0h0m-40 1h0m1 0h0m0 0h0m4 0h0m0 0h0m9 0h0m1 0h0m5 0h0m1 0h0m1 0h0m0 0h0m1 0h0m0 0h0m1 0h0m1 0h0m1 0h0m0 0h0m0 0h0m0 0h0m0 0h0m1 0h0m1 0h0m3 0h0m4 0h0m-35 1h0m2 0h0m1 0h0m4 0h0m11 0h0m1 0h0m5 0h0m0 0h0m0 0h0m3 0h0m2 0h0m1 0h0m1 0h0m4 0h0m6 0h0m-43 1h0m2 0h0m0 0h0m2 0h0m3 0h0m15 0h0m1 0h0m1 0h0m1 0h0m1 0h0m0 0h0m0 0h0m1 0h0m0 0h0m0 0h0m1 0h0m0 0h0m0 0h0m2 0h0m1 0h0m0 0h0m1 0h0m0 0h0m2 0h0m1 0h0m0 0h0m1 0h0m-18 1h0m2 0h0m1 0h0m1 0h0m2 0h0m1 0h0m0 0h0m0 0h0m0 0h0m1 0h0m0 0h0m2 0h0m0 0h0m0 0h0m0 0h0m2 0h0m4 0h0m0 0h0m1 0h0m-33 1h0m1 0h0m20 0h0m1 0h0m1 0h0m1 0h0m0 0h0m1 0h0m1 0h0m1 0h0m0 0h0m0 0h0m1 0h0m0 0h0m1 0h0m1 0h0m2 0h0m1 0h0m1 0h0m-40 1h0m3 0h0m0 0h0m21 0h0m3 0h0m0 0h0m0 0h0m2 0h0m2 0h0m0 0h0m1 0h0m0 0h0m0 0h0m5 0h0m1 0h0m1 0h0m2 0h0m-39 1h0m4 0h0m0 0h0m23 0h0m0 0h0m1 0h0m2 0h0m-25 1h0m19 0h0m2 0h0m6 0h0m1 0h0m2 0h0m0 0h0m2 0h0m-37 1h0m1 0h0m0 0h0m27 0h0m8 0h0m2 0h0m-4 1h0m2 0h0m3 0h0m-40 1h0m4 0h0m1 0h0m26 0h0m-36 1h0m3 0h0m2 0h0m1 0h0m1 0h0m33 0h0m-34 1h0m31 0h0m1 0h0m-30 1h0m28 0h0m4 0h0m-40 1h0m1 0h0m1 0h0m-4 1h0m6 1h0m1 0h0m0 0h0m-5 1h0m2 0h0m-4 1h0m2 0h0m0 0h0m4 1h0m1 0h0m-8 1h0m1 0h0m6 0h0m1 0h0m0 0h0m-1 1h0m0 0h0m-5 1h0m1 0h0m1 0h0m0 0h0m5 0h0m-9 1h0m2 0h0m-3 2h0m0 1h0m1 0h0m29 0h0m-30 2h0m-2 1h0m1 1h0m2 0h0m-8 1h0m3 0h0m1 0h0m0 0h0m3 0h0m-6 1h0m5 1h0m-4 1h0m1 0h0m3 1h0" stroke="#000" stroke-width="2.00" stroke-linecap="square" fill="none" stroke-opacity="1.0"/>
<text x="479.70" y="32.00" font-size="8.4" fill="#000" text-anchor="middle" stroke="#000" stroke-width="0.05">LCH008</text>
<path d="M456.50 39.20V88.50H501.60" stroke="#000" stroke-width="1.1" fill="none"/>
<text x="448.40" y="90.70" font-size="6.2" text-anchor="middle" fill="#000" stroke="#000" stroke-width="0.15">10<tspan font-size="2.79" dy="-2.23" stroke-width="0.05">0</tspan></text>
<text x="448.40" y="78.65" font-size="6.2" text-anchor="middle" fill="#000" stroke="#000" stroke-width="0.15">10<tspan font-size="2.79" dy="-2.23" stroke-width="0.05">1</tspan></text>
<text x="448.40" y="66.60" font-size="6.2" text-anchor="middle" fill="#000" stroke="#000" stroke-width="0.15">10<tspan font-size="2.79" dy="-2.23" stroke-width="0.05">2</tspan></text>
<text x="448.40" y="54.55" font-size="6.2" text-anchor="middle" fill="#000" stroke="#000" stroke-width="0.15">10<tspan font-size="2.79" dy="-2.23" stroke-width="0.05">3</tspan></text>
<text x="448.40" y="42.50" font-size="6.2" text-anchor="middle" fill="#000" stroke="#000" stroke-width="0.15">10<tspan font-size="2.79" dy="-2.23" stroke-width="0.05">4</tspan></text>
<text x="457.40" y="96.80" font-size="6.2" text-anchor="middle" fill="#000" stroke="#000" stroke-width="0.15">10<tspan font-size="2.79" dy="-2.23" stroke-width="0.05">0</tspan></text>
<text x="468.55" y="96.80" font-size="6.2" text-anchor="middle" fill="#000" stroke="#000" stroke-width="0.15">10<tspan font-size="2.79" dy="-2.23" stroke-width="0.05">1</tspan></text>
<text x="479.70" y="96.80" font-size="6.2" text-anchor="middle" fill="#000" stroke="#000" stroke-width="0.15">10<tspan font-size="2.79" dy="-2.23" stroke-width="0.05">2</tspan></text>
<text x="490.85" y="96.80" font-size="6.2" text-anchor="middle" fill="#000" stroke="#000" stroke-width="0.15">10<tspan font-size="2.79" dy="-2.23" stroke-width="0.05">3</tspan></text>
<text x="502.00" y="96.80" font-size="6.2" text-anchor="middle" fill="#000" stroke="#000" stroke-width="0.15">10<tspan font-size="2.79" dy="-2.23" stroke-width="0.05">4</tspan></text>
<text x="440.80" y="63.50" font-size="8.6" fill="#000" text-anchor="middle" textLength="16.5" lengthAdjust="spacingAndGlyphs" transform="rotate(-90 440.80 63.50)" stroke="#000" stroke-width="0.3">CD207</text>
<text x="478.60" y="107.00" font-size="8.6" fill="#000" text-anchor="middle" textLength="13.7" lengthAdjust="spacingAndGlyphs" stroke="#000" stroke-width="0.3">CD1a</text>
<rect x="481.20" y="45.40" width="12.30" height="13.50" fill="none" stroke="#5fb95f" stroke-width="0.65"/>
<rect x="481.20" y="71.40" width="12.30" height="16.10" fill="none" stroke="#f6c160" stroke-width="0.65"/>
<rect x="481.20" y="59.40" width="12.30" height="11.40" fill="none" stroke="#e4444c" stroke-width="0.65"/>
<text x="494.80" y="55.70" font-size="5.5" fill="#2f9a4e" stroke="#2f9a4e" stroke-width="0.18">34.38%</text>
<text x="494.80" y="66.90" font-size="5.5" fill="#d3383a" stroke="#d3383a" stroke-width="0.18">25.21%</text>
<text x="494.80" y="76.60" font-size="5.5" fill="#eab52a" stroke="#eab52a" stroke-width="0.18">3.35%</text>
<path transform="scale(0.5)" d="M70 273h0m28 4h0m23 1h0m-30 1h0m0 14h0m20 2h0m-2 1h0m8 0h0m-12 8h0m-17 6h0m31 2h0m14 5h0m-24 4h0m-30 5h0m20 6h0m-29 2h0m49 1h0m-7 2h0m-49 8h0m20 1h0m-19 2h0m33 0h0m-12 3h0m-4 1h0m19 5h0" stroke="#000" stroke-width="1.20" stroke-linecap="square" fill="none" stroke-opacity="0.45"/>
<path transform="scale(0.5)" d="M117 269h0m-6 2h0m-24 1h0m24 0h0m5 0h0m-23 1h0m19 0h0m2 0h0m2 1h0m1 0h0m-18 1h0m4 0h0m8 0h0m2 0h0m1 0h0m1 0h0m1 0h0m-17 1h0m17 0h0m1 0h0m-17 1h0m9 0h0m6 0h0m6 0h0m-27 1h0m2 0h0m1 0h0m16 0h0m6 0h0m-19 1h0m14 0h0m-14 1h0m0 0h0m1 0h0m0 0h0m7 0h0m0 0h0m6 0h0m-20 1h0m1 0h0m7 0h0m3 0h0m1 0h0m0 0h0m0 0h0m4 0h0m0 0h0m1 0h0m1 0h0m1 0h0m1 0h0m0 0h0m5 0h0m1 0h0m0 0h0m3 0h0m-24 1h0m1 0h0m3 0h0m1 0h0m4 0h0m0 0h0m0 0h0m3 0h0m1 0h0m3 0h0m-18 1h0m5 0h0m3 0h0m1 0h0m1 0h0m1 0h0m2 0h0m0 0h0m1 0h0m2 0h0m1 0h0m0 0h0m2 0h0m4 0h0m1 0h0m0 0h0m-30 1h0m2 0h0m2 0h0m4 0h0m0 0h0m1 0h0m1 0h0m2 0h0m1 0h0m2 0h0m1 0h0m1 0h0m0 0h0m1 0h0m1 0h0m0 0h0m2 0h0m0 0h0m1 0h0m0 0h0m0 0h0m0 0h0m1 0h0m0 0h0m0 0h0m-22 1h0m13 0h0m5 0h0m1 0h0m0 0h0m0 0h0m1 0h0m3 0h0m1 0h0m2 0h0m0 0h0m-27 1h0m8 0h0m0 0h0m2 0h0m0 0h0m4 0h0m2 0h0m1 0h0m0 0h0m1 0h0m1 0h0m0 0h0m1 0h0m1 0h0m1 0h0m1 0h0m6 0h0m-29 1h0m5 0h0m3 0h0m1 0h0m4 0h0m1 0h0m3 0h0m0 0h0m0 0h0m3 0h0m1 0h0m1 0h0m1 0h0m0 0h0m0 0h0m1 0h0m0 0h0m0 0h0m2 0h0m0 0h0m-25 1h0m1 0h0m2 0h0m5 0h0m1 0h0m3 0h0m4 0h0m0 0h0m2 0h0m3 0h0m1 0h0m1 0h0m1 0h0m0 0h0m0 0h0m3 0h0m4 0h0m-35 1h0m3 0h0m1 0h0m5 0h0m1 0h0m2 0h0m2 0h0m0 0h0m2 0h0m0 0h0m3 0h0m2 0h0m2 0h0m1 0h0m1 0h0m0 0h0m4 0h0m0 0h0m1 0h0m1 0h0m12 0h0m-40 1h0m5 0h0m4 0h0m0 0h0m1 0h0m2 0h0m3 0h0m2 0h0m2 0h0m0 0h0m1 0h0m2 0h0m0 0h0m0 0h0m1 0h0m1 0h0m1 0h0m0 0h0m1 0h0m0 0h0m5 0h0m-35 1h0m4 0h0m2 0h0m1 0h0m2 0h0m2 0h0m0 0h0m5 0h0m0 0h0m1 0h0m2 0h0m1 0h0m1 0h0m4 0h0m3 0h0m0 0h0m1 0h0m1 0h0m0 0h0m-18 1h0m2 0h0m0 0h0m6 0h0m1 0h0m2 0h0m0 0h0m1 0h0m4 0h0m2 0h0m1 0h0m1 0h0m3 0h0m-24 1h0m2 0h0m4 0h0m4 0h0m3 0h0m3 0h0m1 0h0m0 0h0m3 0h0m0 0h0m-24 1h0m3 0h0m2 0h0m2 0h0m0 0h0m0 0h0m0 0h0m1 0h0m0 0h0m1 0h0m0 0h0m1 0h0m1 0h0m2 0h0m2 0h0m1 0h0m1 0h0m5 0h0m-24 1h0m2 0h0m4 0h0m2 0h0m0 0h0m2 0h0m0 0h0m1 0h0m0 0h0m0 0h0m3 0h0m1 0h0m0 0h0m3 0h0m4 0h0m0 0h0m2 0h0m1 0h0m1 0h0m-21 1h0m0 0h0m2 0h0m2 0h0m0 0h0m1 0h0m1 0h0m3 0h0m0 0h0m1 0h0m3 0h0m0 0h0m3 0h0m1 0h0m0 0h0m8 0h0m4 0h0m-40 1h0m7 0h0m0 0h0m3 0h0m2 0h0m1 0h0m1 0h0m1 0h0m2 0h0m1 0h0m1 0h0m11 0h0m0 0h0m-31 1h0m4 0h0m2 0h0m0 0h0m1 0h0m7 0h0m1 0h0m0 0h0m3 0h0m1 0h0m1 0h0m2 0h0m0 0h0m1 0h0m1 0h0m0 0h0m1 0h0m3 0h0m1 0h0m-21 1h0m2 0h0m1 0h0m4 0h0m0 0h0m2 0h0m1 0h0m1 0h0m2 0h0m1 0h0m0 0h0m1 0h0m4 0h0m2 0h0m1 0h0m0 0h0m-21 1h0m0 0h0m8 0h0m1 0h0m4 0h0m0 0h0m1 0h0m4 0h0m4 0h0m5 0h0m-27 1h0m6 0h0m2 0h0m1 0h0m8 0h0m4 0h0m0 0h0m6 0h0m-34 1h0m3 0h0m2 0h0m2 0h0m0 0h0m5 0h0m1 0h0m1 0h0m3 0h0m2 0h0m1 0h0m2 0h0m4 0h0m-32 1h0m14 0h0m1 0h0m5 0h0m-13 1h0m4 0h0m2 0h0m3 0h0m0 0h0m1 0h0m0 0h0m2 0h0m2 0h0m3 0h0m-17 1h0m3 0h0m0 0h0m1 0h0m2 0h0m1 0h0m1 0h0m0 0h0m1 0h0m2 0h0m0 0h0m6 0h0m1 0h0m14 0h0m-29 1h0m10 0h0m4 0h0m3 0h0m0 0h0m5 0h0m4 0h0m-29 1h0m1 0h0m0 0h0m2 0h0m3 0h0m2 0h0m1 0h0m0 0h0m4 0h0m1 0h0m0 0h0m1 0h0m1 0h0m2 0h0m-19 1h0m7 0h0m3 0h0m1 0h0m3 0h0m3 0h0m2 0h0m2 0h0m4 0h0m0 0h0m4 0h0m7 0h0m-38 1h0m1 0h0m9 0h0m0 0h0m5 0h0m1 0h0m2 0h0m3 0h0m4 0h0m4 0h0m-26 1h0m7 0h0m1 0h0m0 0h0m2 0h0m0 0h0m3 0h0m4 0h0m1 0h0m1 0h0m2 0h0m5 0h0m2 0h0m-33 1h0m4 0h0m0 0h0m2 0h0m1 0h0m2 0h0m2 0h0m4 0h0m15 0h0m0 0h0m-34 1h0m3 0h0m4 0h0m3 0h0m0 0h0m3 0h0m7 0h0m1 0h0m7 0h0m1 0h0m2 0h0m3 0h0m7 0h0m-43 1h0m4 0h0m6 0h0m6 0h0m3 0h0m4 0h0m0 0h0m1 0h0m2 0h0m1 0h0m2 0h0m0 0h0m1 0h0m1 0h0m0 0h0m3 0h0m3 0h0m1 0h0m-32 1h0m4 0h0m2 0h0m6 0h0m5 0h0m12 0h0m5 0h0m2 0h0m-38 1h0m2 0h0m1 0h0m1 0h0m1 0h0m3 0h0m0 0h0m2 0h0m1 0h0m0 0h0m1 0h0m0 0h0m3 0h0m0 0h0m1 0h0m4 0h0m1 0h0m1 0h0m1 0h0m0 0h0m3 0h0m7 0h0m1 0h0m-35 1h0m0 0h0m3 0h0m0 0h0m2 0h0m5 0h0m2 0h0m0 0h0m1 0h0m0 0h0m1 0h0m0 0h0m3 0h0m3 0h0m1 0h0m5 0h0m2 0h0m-24 1h0m1 0h0m0 0h0m0 0h0m5 0h0m3 0h0m2 0h0m1 0h0m2 0h0m3 0h0m0 0h0m1 0h0m0 0h0m0 0h0m8 0h0m5 0h0m-41 1h0m4 0h0m3 0h0m9 0h0m1 0h0m1 0h0m3 0h0m5 0h0m3 0h0m3 0h0m7 0h0m5 0h0m-31 1h0m2 0h0m0 0h0m2 0h0m1 0h0m2 0h0m2 0h0m0 0h0m1 0h0m1 0h0m4 0h0m4 0h0m5 0h0m9 0h0m-51 1h0m6 0h0m3 0h0m11 0h0m0 0h0m2 0h0m0 0h0m0 0h0m2 0h0m1 0h0m5 0h0m0 0h0m1 0h0m9 0h0m-39 1h0m13 0h0m3 0h0m1 0h0m3 0h0m0 0h0m1 0h0m1 0h0m10 0h0m-25 1h0m9 0h0m2 0h0m4 0h0m0 0h0m1 0h0m1 0h0m3 0h0m1 0h0m3 0h0m3 0h0m-27 1h0m7 0h0m5 0h0m5 0h0m1 0h0m0 0h0m1 0h0m4 0h0m2 0h0m2 0h0m2 0h0m11 0h0m-45 1h0m6 0h0m4 0h0m3 0h0m2 0h0m2 0h0m6 0h0m1 0h0m2 0h0m4 0h0m-27 1h0m9 0h0m0 0h0m1 0h0m7 0h0m4 0h0m1 0h0m3 0h0m0 0h0m1 0h0m2 0h0m2 0h0m-31 1h0m7 0h0m1 0h0m2 0h0m4 0h0m1 0h0m0 0h0m0 0h0m5 0h0m1 0h0m0 0h0m0 0h0m4 0h0m6 0h0m9 0h0m-40 1h0m1 0h0m0 0h0m5 0h0m2 0h0m0 0h0m2 0h0m3 0h0m0 0h0m1 0h0m2 0h0m1 0h0m0 0h0m4 0h0m3 0h0m0 0h0m6 0h0m-26 1h0m5 0h0m5 0h0m1 0h0m0 0h0m1 0h0m4 0h0m0 0h0m9 0h0m-29 1h0m5 0h0m0 0h0m1 0h0m2 0h0m6 0h0m1 0h0m7 0h0m5 0h0m-30 1h0m6 0h0m6 0h0m0 0h0m1 0h0m0 0h0m1 0h0m1 0h0m2 0h0m1 0h0m3 0h0m1 0h0m1 0h0m6 0h0m-29 1h0m1 0h0m1 0h0m4 0h0m1 0h0m1 0h0m5 0h0m3 0h0m1 0h0m1 0h0m1 0h0m1 0h0m1 0h0m2 0h0m3 0h0m2 0h0m-27 1h0m2 0h0m6 0h0m3 0h0m0 0h0m1 0h0m1 0h0m0 0h0m1 0h0m0 0h0m3 0h0m0 0h0m0 0h0m3 0h0m-22 1h0m9 0h0m6 0h0m4 0h0m1 0h0m8 0h0m2 0h0m-26 1h0m3 0h0m1 0h0m3 0h0m5 0h0m1 0h0m0 0h0m2 0h0m10 0h0m4 0h0m-34 1h0m3 0h0m1 0h0m1 0h0m2 0h0m1 0h0m2 0h0m1 0h0m1 0h0m9 0h0m1 0h0m4 0h0m13 0h0m-36 1h0m2 0h0m2 0h0m1 0h0m2 0h0m1 0h0m0 0h0m1 0h0m0 0h0m1 0h0m2 0h0m3 0h0m3 0h0m3 0h0m2 0h0m2 0h0m-25 1h0m5 0h0m1 0h0m3 0h0m2 0h0m2 0h0m3 0h0m9 0h0m0 0h0m-25 1h0m1 0h0m2 0h0m2 0h0m2 0h0m1 0h0m1 0h0m3 0h0m2 0h0m0 0h0m0 0h0m1 0h0m2 0h0m3 0h0m0 0h0m-24 1h0m5 0h0m2 0h0m6 0h0m2 0h0m3 0h0m3 0h0m-18 1h0m0 0h0m4 0h0m3 0h0m1 0h0m2 0h0m4 0h0m12 0h0m-35 1h0m17 0h0m4 0h0m0 0h0m2 0h0m1 0h0m0 0h0m0 0h0m1 0h0m2 0h0m1 0h0m1 0h0m-24 1h0m2 0h0m2 0h0m1 0h0m6 0h0m12 0h0m1 0h0m1 0h0m6 0h0m-26 1h0m11 0h0m0 0h0m-18 1h0m6 0h0m3 0h0m3 0h0m0 0h0m2 0h0m3 0h0m1 0h0m6 0h0m2 0h0m0 0h0m-21 1h0m5 0h0m0 0h0m2 0h0m1 0h0m1 0h0m5 0h0m2 0h0m-19 1h0m5 0h0m2 0h0m0 0h0m2 0h0m2 0h0m1 0h0m0 0h0m4 0h0m1 0h0m0 0h0m2 0h0m4 0h0m-24 1h0m6 0h0m0 0h0m4 0h0m1 0h0m1 0h0m0 0h0m3 0h0m1 0h0m6 0h0m8 0h0m-28 1h0m0 0h0m2 0h0m1 0h0m0 0h0m4 0h0m1 0h0m2 0h0m2 0h0m1 0h0m5 0h0m14 0h0m-33 1h0m5 0h0m0 0h0m2 0h0m5 0h0m2 0h0m3 0h0m5 0h0m2 0h0m-22 1h0m0 0h0m1 0h0m3 0h0m5 0h0m2 0h0m1 0h0m1 0h0m8 0h0m-26 1h0m3 0h0m2 0h0m2 0h0m2 0h0m1 0h0m2 0h0m1 0h0m4 0h0m1 0h0m2 0h0m2 0h0m0 0h0m4 0h0m0 0h0m1 0h0m-27 1h0m4 0h0m2 0h0m2 0h0m4 0h0m3 0h0m1 0h0m2 0h0m2 0h0m2 0h0m5 0h0m-25 1h0m1 0h0m0 0h0m1 0h0m3 0h0m0 0h0m3 0h0m0 0h0m2 0h0m1 0h0m1 0h0m3 0h0m10 0h0m-26 1h0m4 0h0m1 0h0m2 0h0m1 0h0m5 0h0m0 0h0m3 0h0m2 0h0m2 0h0m0 0h0m-21 1h0m6 0h0m2 0h0m1 0h0m1 0h0m10 0h0m0 0h0m9 0h0m-29 1h0m3 0h0m1 0h0m2 0h0m3 0h0m4 0h0m3 0h0m4 0h0m3 0h0m-20 1h0m0 0h0m3 0h0m1 0h0m0 0h0m2 0h0m1 0h0m4 0h0m8 0h0m-17 1h0m5 0h0m0 0h0m4 0h0m2 0h0m0 0h0m10 0h0m-19 1h0m3 0h0m6 0h0m2 0h0m-1 1h0m5 0h0m2 0h0m-12 1h0m0 0h0m0 0h0m7 0h0m1 1h0" stroke="#000" stroke-width="1.40" stroke-linecap="square" fill="none" stroke-opacity="0.65"/>
<path transform="scale(0.5)" d="M92 299h0m6 0h0m1 0h0m4 0h0m-4 1h0m4 0h0m1 0h0m-11 1h0m7 0h0m0 0h0m1 0h0m0 0h0m2 0h0m1 0h0m-7 1h0m1 0h0m3 0h0m2 0h0m1 0h0m2 0h0m-9 1h0m0 0h0m2 0h0m0 0h0m3 0h0m2 0h0m1 0h0m1 0h0m0 0h0m2 0h0m1 0h0m-17 1h0m1 0h0m3 0h0m3 0h0m1 0h0m9 0h0m-19 1h0m4 0h0m5 0h0m0 0h0m2 0h0m3 0h0m4 0h0m5 0h0m-19 1h0m2 0h0m1 0h0m1 0h0m2 0h0m3 0h0m0 0h0m2 0h0m3 0h0m3 0h0m-14 1h0m7 0h0m2 0h0m-13 1h0m0 0h0m2 0h0m2 0h0m2 0h0m0 0h0m1 0h0m1 0h0m1 0h0m7 0h0m-17 1h0m5 0h0m1 0h0m8 0h0m-18 1h0m7 0h0m3 0h0m3 0h0m3 0h0m-16 1h0m4 0h0m1 0h0m0 0h0m3 0h0m1 0h0m1 0h0m1 0h0m1 0h0m0 0h0m2 0h0m5 0h0m8 0h0m-31 1h0m5 0h0m6 0h0m1 0h0m3 0h0m4 0h0m1 0h0m2 0h0m-22 1h0m5 0h0m5 0h0m0 0h0m2 0h0m4 0h0m0 0h0m4 0h0m1 0h0m1 0h0m-15 1h0m2 0h0m6 0h0m1 0h0m3 0h0m1 0h0m2 0h0m-10 1h0m5 0h0m-12 1h0m1 0h0m0 0h0m0 0h0m1 0h0m0 0h0m2 0h0m0 0h0m2 0h0m1 0h0m0 0h0m1 0h0m4 0h0m-18 1h0m7 0h0m4 0h0m1 0h0m8 0h0m1 0h0m-15 1h0m3 0h0m0 0h0m0 0h0m1 0h0m1 0h0m1 0h0m8 0h0m-17 1h0m2 0h0m2 0h0m1 0h0m1 0h0m2 0h0m1 0h0m4 0h0m1 0h0m0 0h0m-12 1h0m4 0h0m4 0h0m1 0h0m-13 1h0m6 0h0m3 0h0m1 0h0m0 0h0m8 0h0m-11 1h0m1 0h0m0 0h0m2 0h0m3 0h0m1 0h0m1 0h0m-18 1h0m5 0h0m0 0h0m8 0h0m2 0h0m7 0h0m-39 1h0m25 0h0m2 0h0m2 0h0m1 0h0m0 0h0m4 0h0m6 0h0m-34 1h0m16 0h0m2 0h0m2 0h0m0 0h0m1 0h0m-9 1h0m4 0h0m4 0h0m0 0h0m3 0h0m7 0h0m-22 1h0m10 0h0m6 0h0m-31 1h0m10 0h0m3 0h0m10 0h0m0 0h0m8 0h0m3 0h0m10 0h0m-17 1h0m2 0h0m0 0h0m1 0h0m1 0h0m1 0h0m-27 1h0m6 0h0m3 0h0m9 0h0m1 0h0m3 0h0m0 0h0m2 0h0m1 0h0m0 0h0m3 0h0m-21 1h0m4 0h0m3 0h0m1 0h0m1 0h0m0 0h0m2 0h0m0 0h0m14 0h0m2 0h0m-30 1h0m1 0h0m10 0h0m0 0h0m2 0h0m1 0h0m1 0h0m4 0h0m-28 1h0m15 0h0m4 0h0m0 0h0m2 0h0m1 0h0m4 0h0m1 0h0m1 0h0m0 0h0m1 0h0m0 0h0m-23 1h0m1 0h0m3 0h0m9 0h0m0 0h0m1 0h0m1 0h0m2 0h0m3 0h0m1 0h0m0 0h0m3 0h0m5 0h0m-28 1h0m4 0h0m3 0h0m1 0h0m2 0h0m4 0h0m0 0h0m1 0h0m3 0h0m5 0h0m-22 1h0m3 0h0m3 0h0m1 0h0m2 0h0m3 0h0m1 0h0m2 0h0m1 0h0m3 0h0m0 0h0m1 0h0m0 0h0m-21 1h0m7 0h0m2 0h0m1 0h0m1 0h0m1 0h0m2 0h0m1 0h0m0 0h0m3 0h0m2 0h0m1 0h0m2 0h0m1 0h0m-25 1h0m3 0h0m5 0h0m2 0h0m3 0h0m1 0h0m1 0h0m5 0h0m0 0h0m1 0h0m1 0h0m2 0h0m1 0h0m1 0h0m0 0h0m7 0h0m-35 1h0m6 0h0m3 0h0m0 0h0m2 0h0m4 0h0m0 0h0m1 0h0m0 0h0m3 0h0m0 0h0m-21 1h0m2 0h0m3 0h0m2 0h0m1 0h0m3 0h0m1 0h0m0 0h0m3 0h0m1 0h0m0 0h0m2 0h0m1 0h0m0 0h0m1 0h0m2 0h0m3 0h0m-19 1h0m2 0h0m1 0h0m4 0h0m1 0h0m2 0h0m2 0h0m1 0h0m0 0h0m0 0h0m1 0h0m2 0h0m2 0h0m4 0h0m-22 1h0m4 0h0m0 0h0m3 0h0m0 0h0m5 0h0m2 0h0m0 0h0m5 0h0m3 0h0m-23 1h0m3 0h0m0 0h0m3 0h0m3 0h0m1 0h0m0 0h0m4 0h0m5 0h0m3 0h0m1 0h0m-30 1h0m4 0h0m2 0h0m3 0h0m3 0h0m2 0h0m0 0h0m4 0h0m1 0h0m0 0h0m1 0h0m1 0h0m0 0h0m0 0h0m1 0h0m2 0h0m1 0h0m6 0h0m-23 1h0m0 0h0m3 0h0m1 0h0m0 0h0m1 0h0m0 0h0m4 0h0m1 0h0m1 0h0m0 0h0m0 0h0m1 0h0m1 0h0m1 0h0m2 0h0m2 0h0m2 0h0m2 0h0m1 0h0m-26 1h0m3 0h0m1 0h0m2 0h0m4 0h0m0 0h0m1 0h0m2 0h0m0 0h0m2 0h0m0 0h0m0 0h0m0 0h0m1 0h0m7 0h0m7 0h0m-33 1h0m8 0h0m0 0h0m2 0h0m1 0h0m1 0h0m0 0h0m0 0h0m1 0h0m1 0h0m0 0h0m1 0h0m1 0h0m2 0h0m2 0h0m4 0h0m3 0h0m3 0h0m-25 1h0m1 0h0m1 0h0m5 0h0m0 0h0m1 0h0m0 0h0m0 0h0m1 0h0m1 0h0m0 0h0m0 0h0m0 0h0m2 0h0m0 0h0m2 0h0m0 0h0m1 0h0m4 0h0m-23 1h0m4 0h0m1 0h0m4 0h0m1 0h0m0 0h0m1 0h0m0 0h0m1 0h0m0 0h0m1 0h0m0 0h0m1 0h0m0 0h0m1 0h0m1 0h0m2 0h0m3 0h0m1 0h0m0 0h0m-17 1h0m2 0h0m1 0h0m1 0h0m1 0h0m3 0h0m0 0h0m0 0h0m1 0h0m0 0h0m1 0h0m0 0h0m1 0h0m-15 1h0m8 0h0m1 0h0m1 0h0m1 0h0m2 0h0m0 0h0m0 0h0m0 0h0m0 0h0m1 0h0m4 0h0m-16 1h0m0 0h0m1 0h0m1 0h0m2 0h0m1 0h0m0 0h0m0 0h0m1 0h0m1 0h0m0 0h0m1 0h0m0 0h0m1 0h0m0 0h0m1 0h0m3 0h0m2 0h0m3 0h0m4 0h0m1 0h0m-29 1h0m3 0h0m1 0h0m0 0h0m1 0h0m4 0h0m1 0h0m5 0h0m2 0h0m2 0h0m0 0h0m13 0h0m-31 1h0m7 0h0m1 0h0m1 0h0m0 0h0m1 0h0m1 0h0m4 0h0m1 0h0m5 0h0m0 0h0m-13 1h0m1 0h0m1 0h0m4 0h0m0 0h0m1 0h0m3 0h0m4 0h0m-20 1h0m0 0h0m2 0h0m0 0h0m4 0h0m4 0h0m1 0h0m1 0h0m0 0h0m3 0h0m1 0h0m1 0h0m4 0h0m5 0h0m3 0h0m-26 1h0m1 0h0m1 0h0m3 0h0m1 0h0m0 0h0m1 0h0m0 0h0m1 0h0m0 0h0m1 0h0m0 0h0m2 0h0m2 0h0m1 0h0m0 0h0m1 0h0m1 0h0m2 0h0m-16 1h0m0 0h0m1 0h0m1 0h0m1 0h0m2 0h0m2 0h0m1 0h0m0 0h0m12 0h0m-19 1h0m2 0h0m1 0h0m1 0h0m0 0h0m3 0h0m0 0h0m2 0h0m0 0h0m1 0h0m4 0h0m1 0h0m-14 1h0m1 0h0m3 0h0m2 0h0m0 0h0m3 0h0m2 0h0m4 0h0m4 0h0m-25 1h0m11 0h0m2 0h0m3 0h0m3 0h0m3 0h0m-7 1h0m3 0h0m11 0h0" stroke="#000" stroke-width="2.00" stroke-linecap="square" fill="none" stroke-opacity="1.0"/>
<text x="51.35" y="125.00" font-size="8.4" fill="#000" text-anchor="middle" stroke="#000" stroke-width="0.05">LCH010</text>
<path d="M30.50 132.20V181.50H75.60" stroke="#000" stroke-width="1.1" fill="none"/>
<text x="22.40" y="183.70" font-size="6.2" text-anchor="middle" fill="#000" stroke="#000" stroke-width="0.15">10<tspan font-size="2.79" dy="-2.23" stroke-width="0.05">0</tspan></text>
<text x="22.40" y="171.65" font-size="6.2" text-anchor="middle" fill="#000" stroke="#000" stroke-width="0.15">10<tspan font-size="2.79" dy="-2.23" stroke-width="0.05">1</tspan></text>
<text x="22.40" y="159.60" font-size="6.2" text-anchor="middle" fill="#000" stroke="#000" stroke-width="0.15">10<tspan font-size="2.79" dy="-2.23" stroke-width="0.05">2</tspan></text>
<text x="22.40" y="147.55" font-size="6.2" text-anchor="middle" fill="#000" stroke="#000" stroke-width="0.15">10<tspan font-size="2.79" dy="-2.23" stroke-width="0.05">3</tspan></text>
<text x="22.40" y="135.50" font-size="6.2" text-anchor="middle" fill="#000" stroke="#000" stroke-width="0.15">10<tspan font-size="2.79" dy="-2.23" stroke-width="0.05">4</tspan></text>
<text x="31.40" y="189.80" font-size="6.2" text-anchor="middle" fill="#000" stroke="#000" stroke-width="0.15">10<tspan font-size="2.79" dy="-2.23" stroke-width="0.05">0</tspan></text>
<text x="42.55" y="189.80" font-size="6.2" text-anchor="middle" fill="#000" stroke="#000" stroke-width="0.15">10<tspan font-size="2.79" dy="-2.23" stroke-width="0.05">1</tspan></text>
<text x="53.70" y="189.80" font-size="6.2" text-anchor="middle" fill="#000" stroke="#000" stroke-width="0.15">10<tspan font-size="2.79" dy="-2.23" stroke-width="0.05">2</tspan></text>
<text x="64.85" y="189.80" font-size="6.2" text-anchor="middle" fill="#000" stroke="#000" stroke-width="0.15">10<tspan font-size="2.79" dy="-2.23" stroke-width="0.05">3</tspan></text>
<text x="76.00" y="189.80" font-size="6.2" text-anchor="middle" fill="#000" stroke="#000" stroke-width="0.15">10<tspan font-size="2.79" dy="-2.23" stroke-width="0.05">4</tspan></text>
<text x="14.80" y="156.50" font-size="8.6" fill="#000" text-anchor="middle" textLength="16.5" lengthAdjust="spacingAndGlyphs" transform="rotate(-90 14.80 156.50)" stroke="#000" stroke-width="0.3">CD207</text>
<text x="52.60" y="199.20" font-size="8.6" fill="#000" text-anchor="middle" textLength="13.7" lengthAdjust="spacingAndGlyphs" stroke="#000" stroke-width="0.3">CD1a</text>
<rect x="54.20" y="137.50" width="12.40" height="14.50" fill="none" stroke="#5fb95f" stroke-width="0.65"/>
<rect x="54.20" y="163.40" width="12.40" height="17.10" fill="none" stroke="#f6c160" stroke-width="0.65"/>
<rect x="54.20" y="152.50" width="12.40" height="10.30" fill="none" stroke="#e4444c" stroke-width="0.65"/>
<text x="69.80" y="148.00" font-size="5.5" fill="#2f9a4e" stroke="#2f9a4e" stroke-width="0.18">2.44%</text>
<text x="69.80" y="159.60" font-size="5.5" fill="#d3383a" stroke="#d3383a" stroke-width="0.18">0.61%</text>
<text x="69.80" y="173.00" font-size="5.5" fill="#eab52a" stroke="#eab52a" stroke-width="0.18">0.20%</text>
<path transform="scale(0.5)" d="M298 301h0m-34 1h0m-13 4h0m-15 2h0m23 2h0m-10 2h0m9 1h0m-11 4h0m22 4h0m17 2h0m3 18h0m-25 2h0m13 0h0m-16 3h0m35 1h0m-29 1h0m-21 2h0m1 1h0m55 1h0m-65 8h0" stroke="#000" stroke-width="1.20" stroke-linecap="square" fill="none" stroke-opacity="0.45"/>
<path transform="scale(0.5)" d="M294 308h0m0 1h0m5 0h0m10 0h0m-19 1h0m7 0h0m-9 1h0m12 0h0m-12 1h0m11 0h0m-12 1h0m0 0h0m10 0h0m0 0h0m3 0h0m0 0h0m3 0h0m-13 1h0m4 0h0m1 0h0m1 0h0m4 0h0m0 0h0m1 0h0m13 0h0m-44 1h0m16 0h0m3 0h0m1 0h0m7 0h0m0 0h0m1 0h0m0 0h0m0 0h0m3 0h0m1 0h0m2 0h0m-9 1h0m2 0h0m2 0h0m0 0h0m2 0h0m0 0h0m2 0h0m1 0h0m4 0h0m0 0h0m-35 1h0m1 0h0m12 0h0m3 0h0m1 0h0m2 0h0m1 0h0m1 0h0m0 0h0m3 0h0m1 0h0m3 0h0m0 0h0m1 0h0m-37 1h0m26 0h0m1 0h0m2 0h0m0 0h0m2 0h0m1 0h0m0 0h0m3 0h0m3 0h0m-28 1h0m10 0h0m1 0h0m5 0h0m1 0h0m4 0h0m0 0h0m0 0h0m1 0h0m5 0h0m2 0h0m2 0h0m0 0h0m2 0h0m-41 1h0m4 0h0m2 0h0m2 0h0m2 0h0m5 0h0m0 0h0m5 0h0m2 0h0m4 0h0m4 0h0m2 0h0m1 0h0m2 0h0m3 0h0m2 0h0m-26 1h0m5 0h0m0 0h0m5 0h0m1 0h0m1 0h0m0 0h0m1 0h0m1 0h0m4 0h0m0 0h0m2 0h0m2 0h0m5 0h0m-33 1h0m2 0h0m1 0h0m0 0h0m8 0h0m1 0h0m1 0h0m5 0h0m1 0h0m0 0h0m1 0h0m2 0h0m2 0h0m3 0h0m4 0h0m-36 1h0m1 0h0m6 0h0m10 0h0m1 0h0m2 0h0m2 0h0m3 0h0m3 0h0m2 0h0m-26 1h0m1 0h0m10 0h0m5 0h0m1 0h0m2 0h0m6 0h0m0 0h0m2 0h0m2 0h0m-36 1h0m0 0h0m6 0h0m3 0h0m2 0h0m2 0h0m1 0h0m0 0h0m8 0h0m2 0h0m3 0h0m1 0h0m0 0h0m2 0h0m4 0h0m0 0h0m-30 1h0m3 0h0m1 0h0m2 0h0m1 0h0m2 0h0m1 0h0m4 0h0m1 0h0m4 0h0m3 0h0m0 0h0m1 0h0m-32 1h0m4 0h0m12 0h0m3 0h0m8 0h0m7 0h0m3 0h0m-35 1h0m6 0h0m6 0h0m7 0h0m4 0h0m1 0h0m5 0h0m3 0h0m8 0h0m-37 1h0m2 0h0m6 0h0m1 0h0m6 0h0m2 0h0m0 0h0m4 0h0m2 0h0m0 0h0m1 0h0m1 0h0m1 0h0m2 0h0m-43 1h0m16 0h0m3 0h0m4 0h0m7 0h0m1 0h0m1 0h0m1 0h0m6 0h0m4 0h0m0 0h0m-39 1h0m7 0h0m4 0h0m0 0h0m1 0h0m1 0h0m13 0h0m4 0h0m1 0h0m3 0h0m1 0h0m1 0h0m5 0h0m5 0h0m-56 1h0m0 0h0m19 0h0m1 0h0m3 0h0m6 0h0m0 0h0m1 0h0m6 0h0m0 0h0m2 0h0m3 0h0m1 0h0m1 0h0m3 0h0m0 0h0m1 0h0m-45 1h0m5 0h0m5 0h0m5 0h0m7 0h0m2 0h0m3 0h0m4 0h0m3 0h0m5 0h0m3 0h0m0 0h0m1 0h0m5 0h0m0 0h0m3 0h0m3 0h0m-57 1h0m5 0h0m12 0h0m4 0h0m2 0h0m8 0h0m0 0h0m1 0h0m3 0h0m1 0h0m2 0h0m5 0h0m5 0h0m1 0h0m0 0h0m0 0h0m1 0h0m1 0h0m7 0h0m-52 1h0m4 0h0m9 0h0m5 0h0m0 0h0m12 0h0m7 0h0m0 0h0m1 0h0m5 0h0m0 0h0m1 0h0m4 0h0m0 0h0m-55 1h0m1 0h0m1 0h0m9 0h0m1 0h0m1 0h0m8 0h0m1 0h0m9 0h0m11 0h0m2 0h0m2 0h0m3 0h0m7 0h0m2 0h0m-61 1h0m5 0h0m1 0h0m13 0h0m6 0h0m2 0h0m12 0h0m0 0h0m1 0h0m1 0h0m5 0h0m1 0h0m2 0h0m1 0h0m0 0h0m1 0h0m1 0h0m1 0h0m2 0h0m0 0h0m2 0h0m4 0h0m3 0h0m1 0h0m-53 1h0m5 0h0m2 0h0m0 0h0m4 0h0m5 0h0m4 0h0m2 0h0m2 0h0m1 0h0m6 0h0m0 0h0m1 0h0m0 0h0m1 0h0m1 0h0m0 0h0m7 0h0m3 0h0m6 0h0m-59 1h0m3 0h0m2 0h0m2 0h0m5 0h0m4 0h0m2 0h0m3 0h0m1 0h0m3 0h0m1 0h0m6 0h0m9 0h0m1 0h0m2 0h0m1 0h0m0 0h0m3 0h0m2 0h0m0 0h0m4 0h0m-46 1h0m2 0h0m1 0h0m1 0h0m2 0h0m1 0h0m2 0h0m3 0h0m1 0h0m3 0h0m2 0h0m4 0h0m6 0h0m4 0h0m0 0h0m2 0h0m7 0h0m3 0h0m3 0h0m7 0h0m-71 1h0m9 0h0m5 0h0m4 0h0m4 0h0m0 0h0m5 0h0m1 0h0m5 0h0m1 0h0m13 0h0m6 0h0m2 0h0m2 0h0m2 0h0m1 0h0m1 0h0m7 0h0m-49 1h0m2 0h0m1 0h0m1 0h0m1 0h0m1 0h0m2 0h0m3 0h0m17 0h0m4 0h0m1 0h0m0 0h0m2 0h0m1 0h0m2 0h0m2 0h0m2 0h0m2 0h0m-49 1h0m1 0h0m0 0h0m6 0h0m0 0h0m0 0h0m1 0h0m2 0h0m3 0h0m1 0h0m6 0h0m5 0h0m3 0h0m1 0h0m0 0h0m6 0h0m4 0h0m14 0h0m0 0h0m2 0h0m-64 1h0m2 0h0m7 0h0m15 0h0m1 0h0m12 0h0m1 0h0m6 0h0m5 0h0m6 0h0m2 0h0m-53 1h0m16 0h0m3 0h0m6 0h0m0 0h0m8 0h0m3 0h0m1 0h0m1 0h0m2 0h0m2 0h0m0 0h0m4 0h0m2 0h0m0 0h0m0 0h0m0 0h0m2 0h0m8 0h0m-56 1h0m0 0h0m7 0h0m3 0h0m2 0h0m5 0h0m4 0h0m12 0h0m2 0h0m3 0h0m1 0h0m1 0h0m3 0h0m0 0h0m1 0h0m1 0h0m6 0h0m2 0h0m-64 1h0m3 0h0m0 0h0m3 0h0m2 0h0m4 0h0m1 0h0m1 0h0m18 0h0m2 0h0m11 0h0m1 0h0m3 0h0m4 0h0m5 0h0m0 0h0m-58 1h0m5 0h0m2 0h0m1 0h0m7 0h0m1 0h0m2 0h0m3 0h0m3 0h0m6 0h0m1 0h0m1 0h0m8 0h0m1 0h0m10 0h0m1 0h0m3 0h0m6 0h0m1 0h0m5 0h0m-66 1h0m1 0h0m2 0h0m2 0h0m5 0h0m1 0h0m0 0h0m7 0h0m1 0h0m3 0h0m1 0h0m8 0h0m1 0h0m9 0h0m6 0h0m4 0h0m2 0h0m3 0h0m1 0h0m4 0h0m0 0h0m2 0h0m2 0h0m-65 1h0m5 0h0m0 0h0m10 0h0m19 0h0m6 0h0m0 0h0m9 0h0m9 0h0m4 0h0m-63 1h0m1 0h0m6 0h0m1 0h0m2 0h0m4 0h0m3 0h0m2 0h0m1 0h0m0 0h0m7 0h0m1 0h0m0 0h0m1 0h0m3 0h0m2 0h0m12 0h0m1 0h0m5 0h0m4 0h0m1 0h0m8 0h0m-67 1h0m1 0h0m1 0h0m12 0h0m7 0h0m0 0h0m12 0h0m16 0h0m1 0h0m8 0h0m0 0h0m6 0h0m-58 1h0m0 0h0m2 0h0m4 0h0m6 0h0m2 0h0m5 0h0m8 0h0m5 0h0m11 0h0m2 0h0m3 0h0m1 0h0m2 0h0m6 0h0m2 0h0m1 0h0m0 0h0m-64 1h0m8 0h0m20 0h0m19 0h0m1 0h0m5 0h0m2 0h0m3 0h0m10 0h0m-67 1h0m1 0h0m10 0h0m3 0h0m0 0h0m2 0h0m33 0h0m1 0h0m0 0h0m3 0h0m0 0h0m-56 1h0m2 0h0m1 0h0m4 0h0m0 0h0m8 0h0m1 0h0m6 0h0m6 0h0m1 0h0m20 0h0m1 0h0m2 0h0m4 0h0m5 0h0m14 0h0m-66 1h0m0 0h0m16 0h0m21 0h0m1 0h0m5 0h0m1 0h0m1 0h0m3 0h0m2 0h0m5 0h0m1 0h0m-61 1h0m2 0h0m8 0h0m1 0h0m36 0h0m1 0h0m-48 1h0m0 0h0m6 0h0m1 0h0m3 0h0m1 0h0m55 0h0m-23 1h0m14 0h0m-48 1h0m7 0h0m37 0h0m7 0h0m-57 1h0m1 0h0" stroke="#000" stroke-width="1.40" stroke-linecap="square" fill="none" stroke-opacity="0.65"/>
<path transform="scale(0.5)" d="M289 315h0m1 2h0m1 0h0m4 0h0m2 0h0m-14 2h0m12 0h0m-5 1h0m10 0h0m-17 1h0m2 0h0m2 0h0m2 0h0m3 0h0m1 0h0m7 0h0m-14 1h0m0 0h0m2 0h0m5 0h0m1 0h0m0 0h0m2 0h0m-3 1h0m7 0h0m1 0h0m-19 1h0m5 0h0m1 0h0m0 0h0m1 0h0m5 0h0m1 0h0m0 0h0m8 0h0m0 0h0m-20 1h0m3 0h0m3 0h0m3 0h0m2 0h0m1 0h0m1 0h0m-9 1h0m0 0h0m3 0h0m2 0h0m3 0h0m0 0h0m2 0h0m-12 1h0m4 0h0m1 0h0m1 0h0m6 0h0m-10 1h0m1 0h0m3 0h0m0 0h0m2 0h0m1 0h0m2 0h0m3 0h0m2 0h0m-16 1h0m0 0h0m4 0h0m0 0h0m1 0h0m0 0h0m2 0h0m0 0h0m1 0h0m2 0h0m0 0h0m1 0h0m2 0h0m1 0h0m-11 1h0m2 0h0m1 0h0m0 0h0m0 0h0m1 0h0m0 0h0m1 0h0m2 0h0m2 0h0m1 0h0m1 0h0m-18 1h0m3 0h0m4 0h0m0 0h0m4 0h0m2 0h0m0 0h0m1 0h0m3 0h0m-17 1h0m0 0h0m2 0h0m0 0h0m1 0h0m1 0h0m3 0h0m1 0h0m3 0h0m0 0h0m2 0h0m2 0h0m0 0h0m0 0h0m4 0h0m11 0h0m-29 1h0m4 0h0m2 0h0m0 0h0m2 0h0m1 0h0m1 0h0m2 0h0m0 0h0m1 0h0m0 0h0m1 0h0m0 0h0m2 0h0m5 0h0m-20 1h0m3 0h0m0 0h0m1 0h0m3 0h0m1 0h0m1 0h0m1 0h0m2 0h0m1 0h0m1 0h0m5 0h0m-18 1h0m2 0h0m1 0h0m1 0h0m1 0h0m3 0h0m0 0h0m1 0h0m1 0h0m2 0h0m5 0h0m1 0h0m-22 1h0m1 0h0m0 0h0m6 0h0m0 0h0m1 0h0m1 0h0m2 0h0m1 0h0m0 0h0m0 0h0m0 0h0m0 0h0m0 0h0m1 0h0m1 0h0m0 0h0m1 0h0m1 0h0m0 0h0m1 0h0m0 0h0m2 0h0m0 0h0m5 0h0m-32 1h0m9 0h0m3 0h0m1 0h0m1 0h0m0 0h0m1 0h0m1 0h0m2 0h0m2 0h0m0 0h0m1 0h0m0 0h0m3 0h0m-18 1h0m3 0h0m1 0h0m4 0h0m1 0h0m0 0h0m1 0h0m1 0h0m1 0h0m0 0h0m0 0h0m1 0h0m0 0h0m2 0h0m0 0h0m2 0h0m2 0h0m5 0h0m0 0h0m-21 1h0m4 0h0m2 0h0m0 0h0m1 0h0m1 0h0m0 0h0m1 0h0m0 0h0m1 0h0m2 0h0m0 0h0m1 0h0m1 0h0m3 0h0m4 0h0m-17 1h0m1 0h0m2 0h0m0 0h0m2 0h0m5 0h0m-9 1h0m2 0h0m1 0h0m1 0h0m1 0h0m0 0h0m3 0h0m0 0h0m2 0h0m-10 1h0m0 0h0m3 0h0m0 0h0m1 0h0m1 0h0m2 0h0m1 0h0m2 0h0m1 0h0m8 0h0m-21 1h0m2 0h0m4 0h0m1 0h0m0 0h0m0 0h0m4 0h0m3 0h0m2 0h0m-20 1h0m5 0h0m0 0h0m10 0h0m2 0h0m2 0h0m1 0h0m-18 1h0m0 0h0m6 0h0m1 0h0m2 0h0m4 0h0m4 0h0m-14 1h0m3 0h0m0 0h0m0 0h0m4 0h0m2 0h0m0 0h0m4 0h0m1 0h0m-11 1h0m-3 1h0m3 0h0m2 0h0m7 0h0m-9 1h0m1 0h0m6 0h0m-8 1h0m2 0h0m1 0h0m7 1h0m-6 2h0m7 2h0" stroke="#000" stroke-width="2.00" stroke-linecap="square" fill="none" stroke-opacity="1.0"/>
<text x="136.80" y="125.00" font-size="8.4" fill="#000" text-anchor="middle" stroke="#000" stroke-width="0.05">LCH012</text>
<path d="M115.50 132.20V181.50H160.60" stroke="#000" stroke-width="1.1" fill="none"/>
<text x="107.40" y="183.70" font-size="6.2" text-anchor="middle" fill="#000" stroke="#000" stroke-width="0.15">10<tspan font-size="2.79" dy="-2.23" stroke-width="0.05">0</tspan></text>
<text x="107.40" y="171.65" font-size="6.2" text-anchor="middle" fill="#000" stroke="#000" stroke-width="0.15">10<tspan font-size="2.79" dy="-2.23" stroke-width="0.05">1</tspan></text>
<text x="107.40" y="159.60" font-size="6.2" text-anchor="middle" fill="#000" stroke="#000" stroke-width="0.15">10<tspan font-size="2.79" dy="-2.23" stroke-width="0.05">2</tspan></text>
<text x="107.40" y="147.55" font-size="6.2" text-anchor="middle" fill="#000" stroke="#000" stroke-width="0.15">10<tspan font-size="2.79" dy="-2.23" stroke-width="0.05">3</tspan></text>
<text x="107.40" y="135.50" font-size="6.2" text-anchor="middle" fill="#000" stroke="#000" stroke-width="0.15">10<tspan font-size="2.79" dy="-2.23" stroke-width="0.05">4</tspan></text>
<text x="116.40" y="189.80" font-size="6.2" text-anchor="middle" fill="#000" stroke="#000" stroke-width="0.15">10<tspan font-size="2.79" dy="-2.23" stroke-width="0.05">0</tspan></text>
<text x="127.55" y="189.80" font-size="6.2" text-anchor="middle" fill="#000" stroke="#000" stroke-width="0.15">10<tspan font-size="2.79" dy="-2.23" stroke-width="0.05">1</tspan></text>
<text x="138.70" y="189.80" font-size="6.2" text-anchor="middle" fill="#000" stroke="#000" stroke-width="0.15">10<tspan font-size="2.79" dy="-2.23" stroke-width="0.05">2</tspan></text>
<text x="149.85" y="189.80" font-size="6.2" text-anchor="middle" fill="#000" stroke="#000" stroke-width="0.15">10<tspan font-size="2.79" dy="-2.23" stroke-width="0.05">3</tspan></text>
<text x="161.00" y="189.80" font-size="6.2" text-anchor="middle" fill="#000" stroke="#000" stroke-width="0.15">10<tspan font-size="2.79" dy="-2.23" stroke-width="0.05">4</tspan></text>
<text x="99.80" y="156.50" font-size="8.6" fill="#000" text-anchor="middle" textLength="16.5" lengthAdjust="spacingAndGlyphs" transform="rotate(-90 99.80 156.50)" stroke="#000" stroke-width="0.3">CD207</text>
<text x="137.60" y="199.20" font-size="8.6" fill="#000" text-anchor="middle" textLength="13.7" lengthAdjust="spacingAndGlyphs" stroke="#000" stroke-width="0.3">CD1a</text>
<rect x="139.50" y="137.50" width="14.20" height="14.20" fill="none" stroke="#5fb95f" stroke-width="0.65"/>
<rect x="139.50" y="162.80" width="14.20" height="17.70" fill="none" stroke="#f6c160" stroke-width="0.65"/>
<rect x="139.50" y="152.20" width="14.20" height="10.00" fill="none" stroke="#e4444c" stroke-width="0.65"/>
<text x="155.90" y="148.80" font-size="5.5" fill="#2f9a4e" stroke="#2f9a4e" stroke-width="0.18">0.14%</text>
<text x="155.90" y="159.80" font-size="5.5" fill="#d3383a" stroke="#d3383a" stroke-width="0.18">6.2%</text>
<text x="155.90" y="173.75" font-size="5.5" fill="#eab52a" stroke="#eab52a" stroke-width="0.18">44.14%</text>
<path transform="scale(0.5)" d="M451 282h0m24 1h0m-27 6h0m19 1h0m-55 9h0m25 0h0m7 3h0m32 1h0m-55 2h0m10 0h0m39 0h0m3 6h0m-17 6h0m1 0h0m-10 3h0m-14 6h0m5 3h0m-15 4h0m48 12h0m-16 1h0" stroke="#000" stroke-width="1.20" stroke-linecap="square" fill="none" stroke-opacity="0.45"/>
<path transform="scale(0.5)" d="M454 296h0m-1 2h0m2 0h0m3 0h0m3 0h0m-8 3h0m-5 1h0m10 0h0m-7 2h0m1 0h0m7 0h0m1 0h0m-6 1h0m1 0h0m5 0h0m-2 1h0m6 0h0m-3 1h0m-10 1h0m4 0h0m8 0h0m-28 1h0m15 0h0m11 0h0m-13 1h0m6 0h0m-6 1h0m4 0h0m6 0h0m1 0h0m1 0h0m2 0h0m-11 1h0m1 0h0m3 0h0m0 0h0m5 0h0m-10 1h0m16 0h0m-20 1h0m2 0h0m4 0h0m3 0h0m4 0h0m3 0h0m-5 1h0m0 0h0m1 0h0m2 0h0m3 0h0m-21 1h0m9 0h0m3 0h0m3 0h0m8 0h0m1 0h0m-22 1h0m14 0h0m0 0h0m-13 1h0m5 0h0m8 0h0m-17 1h0m17 0h0m-4 1h0m6 0h0m-22 1h0m-10 2h0m16 1h0m7 0h0m1 0h0m4 0h0m-18 1h0m2 0h0m7 0h0m8 0h0m-24 1h0m2 0h0m3 0h0m2 0h0m9 0h0m-17 1h0m7 0h0m3 0h0m2 0h0m0 0h0m17 0h0m-24 1h0m1 0h0m5 0h0m1 0h0m1 0h0m-13 1h0m3 0h0m1 0h0m1 0h0m1 0h0m1 0h0m0 0h0m1 0h0m4 0h0m0 0h0m1 0h0m-16 1h0m5 0h0m2 0h0m0 0h0m2 0h0m0 0h0m0 0h0m3 0h0m1 0h0m3 0h0m-20 1h0m10 0h0m0 0h0m0 0h0m2 0h0m1 0h0m1 0h0m0 0h0m2 0h0m1 0h0m-12 1h0m0 0h0m2 0h0m2 0h0m0 0h0m2 0h0m1 0h0m1 0h0m0 0h0m1 0h0m1 0h0m4 0h0m12 0h0m-25 1h0m0 0h0m3 0h0m1 0h0m1 0h0m1 0h0m2 0h0m8 0h0m-18 1h0m1 0h0m2 0h0m2 0h0m2 0h0m0 0h0m1 0h0m4 0h0m2 0h0m4 0h0m-25 1h0m5 0h0m1 0h0m5 0h0m1 0h0m0 0h0m1 0h0m0 0h0m1 0h0m1 0h0m3 0h0m-7 1h0m1 0h0m1 0h0m0 0h0m3 0h0m2 0h0m-15 1h0m8 0h0m0 0h0m0 0h0m2 0h0m0 0h0m-9 1h0m5 0h0m1 0h0m1 0h0m0 0h0m1 0h0m0 0h0m1 0h0m0 0h0m0 0h0m1 0h0m1 0h0m7 0h0m-19 1h0m2 0h0m1 0h0m0 0h0m1 0h0m0 0h0m1 0h0m0 0h0m0 0h0m1 0h0m0 0h0m1 0h0m1 0h0m-7 1h0m2 0h0m1 0h0m1 0h0m1 0h0m1 0h0m0 0h0m3 0h0m0 0h0m21 0h0m-30 1h0m1 0h0m5 0h0m2 0h0m0 0h0m9 0h0m0 0h0m-30 1h0m9 0h0m1 0h0m0 0h0m2 0h0m1 0h0m1 0h0m0 0h0m1 0h0m2 0h0m2 0h0m9 0h0m1 0h0m-20 1h0m2 0h0m1 0h0m0 0h0m1 0h0m3 0h0m1 0h0m0 0h0m1 0h0m7 0h0m-25 1h0m10 0h0m3 0h0m1 0h0m0 0h0m1 0h0m18 0h0m-20 1h0m2 0h0m0 0h0m1 0h0m10 0h0m-20 1h0m1 0h0m1 0h0m1 0h0m1 0h0m1 0h0m0 0h0m0 0h0m2 0h0m-12 1h0m2 0h0m3 0h0m1 0h0m1 0h0m1 0h0m0 0h0m0 0h0m1 0h0m2 0h0m-8 1h0m1 0h0m3 0h0m2 0h0m1 0h0m0 0h0m5 0h0m-15 1h0m2 0h0m3 0h0m1 0h0m0 0h0m6 0h0m0 0h0m-12 1h0m1 0h0m5 0h0m1 0h0m8 0h0m-12 1h0m4 0h0m8 0h0m-15 1h0m0 0h0m0 0h0m2 0h0m1 0h0m0 0h0m0 0h0m2 0h0m-11 1h0m4 0h0m2 0h0m0 0h0m1 0h0m1 0h0m0 0h0m1 0h0m1 0h0m5 0h0m-12 2h0m0 0h0m2 0h0m0 0h0m10 0h0m3 0h0m-16 1h0m1 0h0m3 0h0m4 0h0m6 0h0m2 1h0m-17 1h0m5 0h0m-5 1h0m4 0h0m3 0h0m10 0h0m-16 1h0m1 0h0m0 0h0m5 0h0m-6 1h0" stroke="#000" stroke-width="1.40" stroke-linecap="square" fill="none" stroke-opacity="0.65"/>
<path transform="scale(0.5)" d="M435 330h0m3 0h0m0 1h0m-6 1h0m2 1h0m2 0h0m-5 2h0m2 0h0m-5 2h0m-2 1h0m3 0h0m2 1h0m-5 1h0m-2 2h0m0 0h0m0 0h0m0 0h0m0 0h0m-2 1h0m-2 1h0m2 0h0m-2 1h0m1 1h0m4 0h0m-6 1h0m0 0h0m1 0h0m0 0h0m-5 1h0m2 0h0m2 1h0m-4 1h0m0 1h0m0 0h0m4 0h0m-5 1h0m0 0h0m-3 1h0m1 0h0m3 0h0m-2 2h0m-4 1h0m2 0h0m-4 1h0m2 0h0m0 0h0m3 0h0m-3 1h0m0 0h0m1 0h0" stroke="#000" stroke-width="2.00" stroke-linecap="square" fill="none" stroke-opacity="1.0"/>
<text x="223.80" y="125.00" font-size="8.4" fill="#000" text-anchor="middle" stroke="#000" stroke-width="0.05">LCH014</text>
<path d="M202.50 132.20V181.50H247.60" stroke="#000" stroke-width="1.1" fill="none"/>
<text x="194.40" y="183.70" font-size="6.2" text-anchor="middle" fill="#000" stroke="#000" stroke-width="0.15">10<tspan font-size="2.79" dy="-2.23" stroke-width="0.05">0</tspan></text>
<text x="194.40" y="171.65" font-size="6.2" text-anchor="middle" fill="#000" stroke="#000" stroke-width="0.15">10<tspan font-size="2.79" dy="-2.23" stroke-width="0.05">1</tspan></text>
<text x="194.40" y="159.60" font-size="6.2" text-anchor="middle" fill="#000" stroke="#000" stroke-width="0.15">10<tspan font-size="2.79" dy="-2.23" stroke-width="0.05">2</tspan></text>
<text x="194.40" y="147.55" font-size="6.2" text-anchor="middle" fill="#000" stroke="#000" stroke-width="0.15">10<tspan font-size="2.79" dy="-2.23" stroke-width="0.05">3</tspan></text>
<text x="194.40" y="135.50" font-size="6.2" text-anchor="middle" fill="#000" stroke="#000" stroke-width="0.15">10<tspan font-size="2.79" dy="-2.23" stroke-width="0.05">4</tspan></text>
<text x="203.40" y="189.80" font-size="6.2" text-anchor="middle" fill="#000" stroke="#000" stroke-width="0.15">10<tspan font-size="2.79" dy="-2.23" stroke-width="0.05">0</tspan></text>
<text x="214.55" y="189.80" font-size="6.2" text-anchor="middle" fill="#000" stroke="#000" stroke-width="0.15">10<tspan font-size="2.79" dy="-2.23" stroke-width="0.05">1</tspan></text>
<text x="225.70" y="189.80" font-size="6.2" text-anchor="middle" fill="#000" stroke="#000" stroke-width="0.15">10<tspan font-size="2.79" dy="-2.23" stroke-width="0.05">2</tspan></text>
<text x="236.85" y="189.80" font-size="6.2" text-anchor="middle" fill="#000" stroke="#000" stroke-width="0.15">10<tspan font-size="2.79" dy="-2.23" stroke-width="0.05">3</tspan></text>
<text x="248.00" y="189.80" font-size="6.2" text-anchor="middle" fill="#000" stroke="#000" stroke-width="0.15">10<tspan font-size="2.79" dy="-2.23" stroke-width="0.05">4</tspan></text>
<text x="186.80" y="156.50" font-size="8.6" fill="#000" text-anchor="middle" textLength="16.5" lengthAdjust="spacingAndGlyphs" transform="rotate(-90 186.80 156.50)" stroke="#000" stroke-width="0.3">CD207</text>
<text x="224.60" y="199.20" font-size="8.6" fill="#000" text-anchor="middle" textLength="13.7" lengthAdjust="spacingAndGlyphs" stroke="#000" stroke-width="0.3">CD1a</text>
<rect x="226.20" y="137.50" width="13.80" height="14.50" fill="none" stroke="#5fb95f" stroke-width="0.65"/>
<rect x="226.20" y="163.60" width="13.80" height="16.90" fill="none" stroke="#f6c160" stroke-width="0.65"/>
<rect x="226.20" y="152.50" width="13.80" height="10.50" fill="none" stroke="#e4444c" stroke-width="0.65"/>
<text x="244.10" y="147.90" font-size="5.5" fill="#2f9a4e" stroke="#2f9a4e" stroke-width="0.18">1.76%</text>
<text x="244.10" y="159.20" font-size="5.5" fill="#d3383a" stroke="#d3383a" stroke-width="0.18">4.98%</text>
<text x="244.10" y="173.00" font-size="5.5" fill="#eab52a" stroke="#eab52a" stroke-width="0.18">2.34%</text>
<path transform="scale(0.5)" d="M609 280h0m-26 5h0m46 13h0m16 5h0m-42 2h0m-8 7h0m26 6h0m23 0h0m-62 13h0m24 4h0m31 0h0m1 2h0m-49 1h0m53 1h0m-27 2h0m20 5h0m10 1h0m-38 10h0m18 1h0m7 2h0" stroke="#000" stroke-width="1.20" stroke-linecap="square" fill="none" stroke-opacity="0.45"/>
<path transform="scale(0.5)" d="M608 307h0m-14 4h0m18 0h0m4 1h0m-9 1h0m6 1h0m0 0h0m0 0h0m-4 1h0m7 0h0m1 0h0m-8 1h0m-11 1h0m14 0h0m1 0h0m4 0h0m-1 1h0m8 0h0m7 1h0m-36 1h0m18 0h0m4 0h0m1 0h0m2 0h0m16 0h0m-18 1h0m0 0h0m0 0h0m1 0h0m2 0h0m4 0h0m15 0h0m-34 1h0m8 0h0m3 0h0m8 0h0m-28 1h0m11 0h0m1 0h0m2 0h0m2 0h0m0 0h0m2 0h0m1 0h0m4 0h0m0 0h0m1 0h0m3 0h0m-15 1h0m14 0h0m8 0h0m7 0h0m-35 1h0m1 0h0m10 0h0m1 0h0m0 0h0m1 0h0m0 0h0m3 0h0m1 0h0m7 0h0m0 0h0m-29 1h0m6 0h0m2 0h0m9 0h0m4 0h0m5 0h0m1 0h0m3 0h0m2 0h0m4 0h0m-30 1h0m5 0h0m4 0h0m2 0h0m2 0h0m3 0h0m0 0h0m0 0h0m2 0h0m2 0h0m0 0h0m0 0h0m2 0h0m5 0h0m2 0h0m2 0h0m-34 1h0m5 0h0m4 0h0m0 0h0m0 0h0m2 0h0m4 0h0m1 0h0m7 0h0m2 0h0m0 0h0m-22 1h0m4 0h0m8 0h0m0 0h0m2 0h0m12 0h0m6 0h0m4 0h0m-49 1h0m4 0h0m3 0h0m7 0h0m1 0h0m6 0h0m6 0h0m0 0h0m7 0h0m3 0h0m6 0h0m2 0h0m2 0h0m-53 1h0m20 0h0m10 0h0m0 0h0m7 0h0m4 0h0m0 0h0m2 0h0m9 0h0m3 0h0m-54 1h0m5 0h0m11 0h0m1 0h0m2 0h0m4 0h0m0 0h0m2 0h0m2 0h0m4 0h0m7 0h0m1 0h0m1 0h0m5 0h0m0 0h0m-34 1h0m0 0h0m5 0h0m1 0h0m1 0h0m7 0h0m3 0h0m1 0h0m2 0h0m4 0h0m10 0h0m3 0h0m2 0h0m3 0h0m-53 1h0m12 0h0m16 0h0m7 0h0m3 0h0m6 0h0m3 0h0m1 0h0m7 0h0m0 0h0m2 0h0m-62 1h0m10 0h0m0 0h0m0 0h0m5 0h0m9 0h0m1 0h0m8 0h0m6 0h0m4 0h0m7 0h0m1 0h0m1 0h0m1 0h0m0 0h0m5 0h0m-53 1h0m9 0h0m2 0h0m12 0h0m2 0h0m0 0h0m4 0h0m0 0h0m5 0h0m3 0h0m7 0h0m2 0h0m1 0h0m4 0h0m8 0h0m-62 1h0m3 0h0m4 0h0m19 0h0m2 0h0m9 0h0m1 0h0m2 0h0m3 0h0m1 0h0m1 0h0m2 0h0m4 0h0m3 0h0m1 0h0m2 0h0m-54 1h0m3 0h0m5 0h0m0 0h0m1 0h0m5 0h0m2 0h0m0 0h0m3 0h0m1 0h0m1 0h0m2 0h0m14 0h0m2 0h0m1 0h0m7 0h0m4 0h0m-59 1h0m11 0h0m3 0h0m1 0h0m9 0h0m0 0h0m13 0h0m14 0h0m4 0h0m3 0h0m3 0h0m-58 1h0m3 0h0m1 0h0m0 0h0m13 0h0m0 0h0m2 0h0m7 0h0m5 0h0m5 0h0m4 0h0m4 0h0m3 0h0m3 0h0m4 0h0m5 0h0m7 0h0m-56 1h0m9 0h0m12 0h0m2 0h0m13 0h0m3 0h0m6 0h0m2 0h0m3 0h0m-58 1h0m8 0h0m1 0h0m9 0h0m3 0h0m1 0h0m2 0h0m0 0h0m17 0h0m2 0h0m5 0h0m1 0h0m1 0h0m4 0h0m1 0h0m1 0h0m1 0h0m-57 1h0m2 0h0m4 0h0m0 0h0m0 0h0m5 0h0m2 0h0m20 0h0m6 0h0m8 0h0m2 0h0m0 0h0m2 0h0m2 0h0m5 0h0m-64 1h0m2 0h0m19 0h0m0 0h0m0 0h0m1 0h0m8 0h0m1 0h0m16 0h0m3 0h0m2 0h0m4 0h0m1 0h0m1 0h0m2 0h0m3 0h0m1 0h0m-60 1h0m10 0h0m11 0h0m0 0h0m7 0h0m5 0h0m9 0h0m7 0h0m1 0h0m2 0h0m5 0h0m-52 1h0m8 0h0m9 0h0m4 0h0m2 0h0m4 0h0m0 0h0m11 0h0m4 0h0m0 0h0m2 0h0m1 0h0m1 0h0m2 0h0m-43 1h0m3 0h0m3 0h0m0 0h0m2 0h0m0 0h0m4 0h0m3 0h0m4 0h0m13 0h0m4 0h0m3 0h0m0 0h0m5 0h0m-56 1h0m3 0h0m2 0h0m2 0h0m21 0h0m26 0h0m0 0h0m4 0h0m3 0h0m1 0h0m8 0h0m-54 1h0m2 0h0m5 0h0m0 0h0m4 0h0m4 0h0m4 0h0m3 0h0m0 0h0m9 0h0m4 0h0m4 0h0m0 0h0m4 0h0m-50 1h0m10 0h0m3 0h0m18 0h0m7 0h0m2 0h0m2 0h0m2 0h0m1 0h0m1 0h0m0 0h0m2 0h0m1 0h0m-58 1h0m0 0h0m4 0h0m0 0h0m0 0h0m2 0h0m8 0h0m6 0h0m29 0h0m2 0h0m4 0h0m1 0h0m-55 1h0m5 0h0m10 0h0m3 0h0m1 0h0m2 0h0m3 0h0m23 0h0m2 0h0m2 0h0m4 0h0m14 0h0m0 0h0m-71 1h0m4 0h0m0 0h0m1 0h0m0 0h0m3 0h0m0 0h0m9 0h0m3 0h0m0 0h0m0 0h0m1 0h0m9 0h0m29 0h0m-58 1h0m0 0h0m10 0h0m0 0h0m2 0h0m1 0h0m8 0h0m14 0h0m6 0h0m10 0h0m5 0h0m-56 1h0m15 0h0m2 0h0m5 0h0m1 0h0m25 0h0m-50 1h0m3 0h0m1 0h0m12 0h0m3 0h0m4 0h0m21 0h0m3 0h0m5 0h0m2 0h0m-49 1h0m43 0h0m0 0h0m-44 1h0m2 0h0m2 0h0m0 0h0m3 0h0m2 0h0m2 0h0m0 0h0m0 0h0m1 0h0m-14 1h0m2 0h0m4 0h0m8 0h0m41 0h0m-52 1h0m3 0h0m5 0h0m2 0h0m3 0h0m6 0h0m35 0h0m8 0h0m-59 1h0m16 0h0m29 0h0m5 0h0m0 0h0m-50 1h0" stroke="#000" stroke-width="1.40" stroke-linecap="square" fill="none" stroke-opacity="0.65"/>
<path transform="scale(0.5)" d="M635 272h0m-1 3h0m-6 3h0m13 0h0m-7 1h0m-14 1h0m12 0h0m1 0h0m1 0h0m1 0h0m1 0h0m10 0h0m-1 1h0m-19 1h0m2 0h0m1 0h0m0 0h0m0 0h0m0 0h0m13 0h0m2 0h0m4 0h0m-21 1h0m2 0h0m4 0h0m8 0h0m2 0h0m-22 1h0m7 0h0m15 0h0m-25 1h0m8 0h0m15 0h0m-15 1h0m3 0h0m1 0h0m6 0h0m1 0h0m-10 1h0m5 0h0m1 0h0m4 0h0m-14 1h0m9 0h0m2 0h0m1 0h0m0 0h0m1 0h0m1 0h0m-15 1h0m2 0h0m1 0h0m1 0h0m1 0h0m3 0h0m2 0h0m5 0h0m5 0h0m-17 1h0m1 0h0m2 0h0m2 0h0m0 0h0m4 0h0m2 0h0m3 0h0m-23 1h0m2 0h0m13 0h0m0 0h0m3 0h0m1 0h0m3 0h0m2 0h0m5 0h0m-21 1h0m0 0h0m1 0h0m1 0h0m1 0h0m2 0h0m1 0h0m0 0h0m3 0h0m4 0h0m0 0h0m1 0h0m3 0h0m-14 1h0m1 0h0m1 0h0m4 0h0m4 0h0m2 0h0m2 0h0m-26 1h0m3 0h0m7 0h0m4 0h0m3 0h0m2 0h0m-15 1h0m7 0h0m4 0h0m1 0h0m0 0h0m2 0h0m1 0h0m1 0h0m0 0h0m3 0h0m3 0h0m3 0h0m3 0h0m-26 1h0m2 0h0m12 0h0m1 0h0m4 0h0m3 0h0m10 0h0m-39 1h0m2 0h0m3 0h0m9 0h0m1 0h0m1 0h0m0 0h0m2 0h0m1 0h0m3 0h0m1 0h0m2 0h0m1 0h0m1 0h0m2 0h0m3 0h0m-22 1h0m8 0h0m0 0h0m2 0h0m3 0h0m0 0h0m1 0h0m5 0h0m-22 1h0m2 0h0m3 0h0m3 0h0m1 0h0m2 0h0m1 0h0m7 0h0m1 0h0m1 0h0m14 0h0m-29 1h0m1 0h0m0 0h0m2 0h0m6 0h0m0 0h0m1 0h0m5 0h0m-18 1h0m3 0h0m0 0h0m7 0h0m2 0h0m3 0h0m1 0h0m0 0h0m2 0h0m0 0h0m1 0h0m5 0h0m3 0h0m3 0h0m-23 1h0m2 0h0m4 0h0m1 0h0m6 0h0m-23 1h0m6 0h0m2 0h0m0 0h0m5 0h0m3 0h0m3 0h0m3 0h0m4 0h0m1 0h0m-25 1h0m5 0h0m7 0h0m2 0h0m5 0h0m4 0h0m-24 1h0m0 0h0m6 0h0m1 0h0m4 0h0m0 0h0m7 0h0m-17 1h0m2 0h0m4 0h0m7 0h0m0 0h0m4 0h0m0 0h0m0 0h0m5 0h0m-25 1h0m2 0h0m1 0h0m0 0h0m8 0h0m3 0h0m4 0h0m0 0h0m1 0h0m0 0h0m1 0h0m-18 1h0m4 0h0m4 0h0m0 0h0m4 0h0m6 0h0m1 0h0m15 0h0m-30 1h0m9 0h0m2 0h0m1 0h0m1 0h0m4 0h0m-9 1h0m2 0h0m10 0h0m-25 1h0m9 0h0m1 0h0m5 0h0m0 0h0m3 0h0m2 0h0m6 0h0m-20 1h0m1 0h0m0 0h0m3 0h0m0 0h0m1 0h0m2 0h0m1 0h0m3 0h0m0 0h0m7 0h0m10 0h0m-31 1h0m7 0h0m0 0h0m2 0h0m9 0h0m-22 1h0m12 0h0m1 0h0m1 0h0m9 0h0m-29 1h0m14 1h0m3 0h0m8 0h0m2 0h0m2 0h0m-2 2h0m9 0h0m-15 1h0m0 0h0m10 0h0m-4 1h0m2 0h0m2 1h0m8 1h0m-14 1h0m3 0h0m-5 1h0m-12 1h0m14 0h0m-4 1h0m-7 1h0m7 2h0m0 0h0m11 0h0m-20 1h0m6 1h0" stroke="#000" stroke-width="1.60" stroke-linecap="square" fill="none" stroke-opacity="0.85"/>
<path transform="scale(0.5)" d="M631 283h0m-8 1h0m5 0h0m1 0h0m-3 1h0m1 0h0m11 0h0m2 0h0m1 0h0m6 1h0m-17 1h0m1 0h0m3 0h0m3 0h0m1 0h0m1 0h0m-14 1h0m6 0h0m5 0h0m1 0h0m2 0h0m-11 1h0m3 0h0m0 0h0m1 0h0m1 0h0m2 0h0m0 0h0m3 0h0m5 0h0m-17 1h0m3 0h0m10 0h0m-13 1h0m1 0h0m0 0h0m2 0h0m2 0h0m4 0h0m0 0h0m1 0h0m1 0h0m2 0h0m3 0h0m-16 1h0m5 0h0m1 0h0m3 0h0m0 0h0m0 0h0m-7 1h0m3 0h0m1 0h0m7 0h0m2 0h0m0 0h0m11 0h0m-34 1h0m14 0h0m5 0h0m1 0h0m1 0h0m1 0h0m1 0h0m4 0h0m0 0h0m2 0h0m-15 1h0m7 0h0m1 0h0m2 0h0m0 0h0m6 0h0m-22 1h0m1 0h0m2 0h0m5 0h0m3 0h0m5 0h0m2 0h0m1 0h0m-23 1h0m13 0h0m0 0h0m2 0h0m1 0h0m0 0h0m2 0h0m4 0h0m0 0h0m-14 1h0m5 0h0m0 0h0m4 0h0m1 0h0m1 0h0m-11 1h0m1 0h0m5 0h0m0 0h0m1 0h0m2 0h0m3 0h0m4 0h0m0 0h0m2 0h0m-17 1h0m5 0h0m6 0h0m-7 1h0m4 0h0m1 0h0m2 0h0m-16 1h0m8 0h0m1 0h0m1 0h0m2 0h0m7 0h0m1 0h0m4 0h0m-23 1h0m9 0h0m1 0h0m2 0h0m-6 1h0m5 0h0m13 0h0m-21 1h0m4 0h0m-5 1h0m5 0h0m4 0h0m1 0h0m2 0h0m1 0h0m11 0h0m-31 1h0m3 0h0m5 0h0m1 0h0m2 0h0m2 0h0m2 0h0m2 0h0m0 0h0m1 0h0m0 0h0m-14 1h0m1 0h0m1 0h0m4 0h0m1 0h0m6 0h0m4 0h0m1 0h0m7 0h0m-27 1h0m3 0h0m2 0h0m2 0h0m1 0h0m3 0h0m0 0h0m1 0h0m0 0h0m2 0h0m1 0h0m0 0h0m2 0h0m-14 1h0m3 0h0m1 0h0m0 0h0m2 0h0m1 0h0m1 0h0m0 0h0m0 0h0m1 0h0m-11 1h0m0 0h0m0 0h0m2 0h0m3 0h0m1 0h0m1 0h0m3 0h0m2 0h0m0 0h0m4 0h0m0 0h0m2 0h0m-16 1h0m1 0h0m2 0h0m0 0h0m1 0h0m3 0h0m0 0h0m3 0h0m2 0h0m1 0h0m1 0h0m1 0h0m1 0h0m-23 1h0m0 0h0m1 0h0m2 0h0m4 0h0m1 0h0m1 0h0m1 0h0m2 0h0m3 0h0m2 0h0m5 0h0m2 0h0m-17 1h0m1 0h0m2 0h0m1 0h0m1 0h0m0 0h0m0 0h0m2 0h0m5 0h0m0 0h0m0 0h0m1 0h0m2 0h0m1 0h0m6 0h0m-21 1h0m1 0h0m0 0h0m1 0h0m0 0h0m1 0h0m1 0h0m0 0h0m0 0h0m1 0h0m0 0h0m1 0h0m0 0h0m0 0h0m1 0h0m1 0h0m0 0h0m0 0h0m1 0h0m1 0h0m0 0h0m1 0h0m0 0h0m4 0h0m-31 1h0m8 0h0m7 0h0m3 0h0m0 0h0m1 0h0m2 0h0m0 0h0m0 0h0m0 0h0m1 0h0m2 0h0m-20 1h0m1 0h0m3 0h0m7 0h0m0 0h0m3 0h0m1 0h0m3 0h0m1 0h0m0 0h0m1 0h0m1 0h0m0 0h0m7 0h0m1 0h0m5 0h0m-29 1h0m0 0h0m0 0h0m1 0h0m0 0h0m0 0h0m3 0h0m1 0h0m3 0h0m1 0h0m1 0h0m3 0h0m1 0h0m1 0h0m2 0h0m3 0h0m-30 1h0m6 0h0m1 0h0m1 0h0m2 0h0m9 0h0m1 0h0m0 0h0m1 0h0m1 0h0m0 0h0m0 0h0m6 0h0m0 0h0m1 0h0m2 0h0m8 0h0m-41 1h0m1 0h0m2 0h0m1 0h0m4 0h0m1 0h0m0 0h0m1 0h0m1 0h0m2 0h0m1 0h0m8 0h0m0 0h0m0 0h0m1 0h0m3 0h0m1 0h0m2 0h0m4 0h0m-31 1h0m5 0h0m3 0h0m4 0h0m0 0h0m2 0h0m0 0h0m2 0h0m6 0h0m2 0h0m2 0h0m-28 1h0m4 0h0m0 0h0m1 0h0m1 0h0m2 0h0m1 0h0m0 0h0m3 0h0m2 0h0m0 0h0m0 0h0m0 0h0m3 0h0m9 0h0m0 0h0m1 0h0m10 0h0m-39 1h0m5 0h0m1 0h0m1 0h0m1 0h0m2 0h0m1 0h0m0 0h0m2 0h0m3 0h0m1 0h0m-15 1h0m1 0h0m0 0h0m5 0h0m2 0h0m2 0h0m0 0h0m0 0h0m1 0h0m1 0h0m2 0h0m1 0h0m2 0h0m2 0h0m11 0h0m-28 1h0m2 0h0m0 0h0m2 0h0m0 0h0m1 0h0m1 0h0m2 0h0m1 0h0m3 0h0m0 0h0m0 0h0m6 0h0m0 0h0m-24 1h0m5 0h0m12 0h0m0 0h0m5 0h0m0 0h0m1 0h0m10 0h0m-32 1h0m4 0h0m2 0h0m2 0h0m2 0h0m2 0h0m0 0h0m1 0h0m1 0h0m0 0h0m1 0h0m1 0h0m1 0h0m0 0h0m0 0h0m4 0h0m14 0h0m-37 1h0m0 0h0m2 0h0m1 0h0m2 0h0m3 0h0m3 0h0m2 0h0m1 0h0m2 0h0m0 0h0m1 0h0m2 0h0m1 0h0m-32 1h0m13 0h0m1 0h0m2 0h0m1 0h0m1 0h0m1 0h0m1 0h0m0 0h0m0 0h0m2 0h0m1 0h0m0 0h0m1 0h0m0 0h0m2 0h0m-15 1h0m2 0h0m3 0h0m1 0h0m1 0h0m0 0h0m1 0h0m1 0h0m2 0h0m0 0h0m0 0h0m3 0h0m0 0h0m1 0h0m0 0h0m1 0h0m5 0h0m5 0h0m-27 1h0m1 0h0m2 0h0m7 0h0m2 0h0m1 0h0m0 0h0m2 0h0m1 0h0m7 0h0m-28 1h0m10 0h0m0 0h0m2 0h0m0 0h0m1 0h0m0 0h0m3 0h0m1 0h0m1 0h0m1 0h0m2 0h0m7 0h0m-25 1h0m1 0h0m4 0h0m0 0h0m0 0h0m1 0h0m1 0h0m0 0h0m0 0h0m2 0h0m3 0h0m1 0h0m0 0h0m1 0h0m1 0h0m6 0h0m-22 1h0m1 0h0m7 0h0m2 0h0m1 0h0m3 0h0m0 0h0m2 0h0m3 0h0m-18 1h0m0 0h0m1 0h0m2 0h0m1 0h0m3 0h0m2 0h0m0 0h0m1 0h0m5 0h0m1 0h0m-15 1h0m0 0h0m2 0h0m0 0h0m0 0h0m2 0h0m3 0h0m0 0h0m1 0h0m0 0h0m1 0h0m2 0h0m1 0h0m-25 1h0m7 0h0m4 0h0m2 0h0m1 0h0m0 0h0m1 0h0m0 0h0m2 0h0m1 0h0m4 0h0m10 0h0m-33 1h0m2 0h0m3 0h0m4 0h0m1 0h0m0 0h0m0 0h0m0 0h0m1 0h0m1 0h0m1 0h0m1 0h0m1 0h0m3 0h0m1 0h0m2 0h0m1 0h0m3 0h0m0 0h0m-18 1h0m2 0h0m0 0h0m3 0h0m0 0h0m1 0h0m0 0h0m1 0h0m3 0h0m0 0h0m1 0h0m5 0h0m-17 1h0m3 0h0m0 0h0m2 0h0m0 0h0m1 0h0m0 0h0m1 0h0m1 0h0m2 0h0m0 0h0m3 0h0m1 0h0m5 0h0m0 0h0m1 0h0m6 0h0m-30 1h0m1 0h0m4 0h0m2 0h0m2 0h0m1 0h0m1 0h0m1 0h0m0 0h0m0 0h0m0 0h0m1 0h0m0 0h0m2 0h0m0 0h0m0 0h0m0 0h0m1 0h0m4 0h0m1 0h0m-30 1h0m7 0h0m1 0h0m2 0h0m8 0h0m1 0h0m0 0h0m1 0h0m0 0h0m1 0h0m1 0h0m1 0h0m2 0h0m1 0h0m3 0h0m1 0h0m2 0h0m-26 1h0m1 0h0m2 0h0m1 0h0m2 0h0m1 0h0m0 0h0m1 0h0m0 0h0m0 0h0m1 0h0m0 0h0m1 0h0m1 0h0m1 0h0m0 0h0m1 0h0m1 0h0m2 0h0m0 0h0m0 0h0m0 0h0m1 0h0m0 0h0m1 0h0m5 0h0m3 0h0m-31 1h0m9 0h0m1 0h0m2 0h0m1 0h0m2 0h0m0 0h0m2 0h0m0 0h0m4 0h0m2 0h0m0 0h0m7 0h0m-26 1h0m5 0h0m4 0h0m1 0h0m1 0h0m1 0h0m0 0h0m1 0h0m2 0h0m0 0h0m1 0h0m0 0h0m0 0h0m0 0h0m1 0h0m1 0h0m4 0h0m-27 1h0m1 0h0m3 0h0m2 0h0m0 0h0m1 0h0m1 0h0m3 0h0m1 0h0m0 0h0m1 0h0m1 0h0m0 0h0m1 0h0m0 0h0m1 0h0m1 0h0m0 0h0m0 0h0m1 0h0m0 0h0m1 0h0m0 0h0m0 0h0m0 0h0m1 0h0m0 0h0m0 0h0m2 0h0m0 0h0m3 0h0m-25 1h0m3 0h0m2 0h0m0 0h0m5 0h0m2 0h0m0 0h0m1 0h0m0 0h0m1 0h0m1 0h0m1 0h0m2 0h0m-13 1h0m1 0h0m0 0h0m0 0h0m1 0h0m1 0h0m1 0h0m0 0h0m0 0h0m1 0h0m1 0h0m0 0h0m2 0h0m0 0h0m2 0h0m1 0h0m0 0h0m3 0h0m1 0h0m1 0h0m-22 1h0m3 0h0m2 0h0m2 0h0m1 0h0m0 0h0m0 0h0m2 0h0m2 0h0m0 0h0m1 0h0m2 0h0m1 0h0m9 0h0m2 0h0m-26 1h0m2 0h0m1 0h0m1 0h0m1 0h0m0 0h0m0 0h0m1 0h0m2 0h0m2 0h0m0 0h0m1 0h0m0 0h0m2 0h0m0 0h0m1 0h0m1 0h0m1 0h0m3 0h0m1 0h0m0 0h0m0 0h0m5 0h0m-27 1h0m2 0h0m0 0h0m1 0h0m1 0h0m2 0h0m1 0h0m1 0h0m0 0h0m0 0h0m1 0h0m0 0h0m3 0h0m0 0h0m2 0h0m0 0h0m1 0h0m0 0h0m2 0h0m0 0h0m1 0h0m0 0h0m1 0h0m3 0h0m1 0h0m3 0h0m-25 1h0m1 0h0m1 0h0m1 0h0m0 0h0m1 0h0m1 0h0m0 0h0m0 0h0m1 0h0m0 0h0m0 0h0m0 0h0m0 0h0m0 0h0m0 0h0m3 0h0m0 0h0m0 0h0m1 0h0m0 0h0m3 0h0m0 0h0m0 0h0m1 0h0m0 0h0m2 0h0m1 0h0m2 0h0m0 0h0m4 0h0m2 0h0m-23 1h0m0 0h0m1 0h0m1 0h0m1 0h0m3 0h0m0 0h0m1 0h0m0 0h0m1 0h0m1 0h0m1 0h0m0 0h0m1 0h0m1 0h0m1 0h0m0 0h0m3 0h0m0 0h0m1 0h0m-20 1h0m1 0h0m0 0h0m0 0h0m2 0h0m1 0h0m1 0h0m0 0h0m2 0h0m1 0h0m2 0h0m0 0h0m1 0h0m0 0h0m1 0h0m0 0h0m2 0h0m0 0h0m1 0h0m0 0h0m1 0h0m0 0h0m1 0h0m1 0h0m0 0h0m6 0h0m-25 1h0m3 0h0m3 0h0m1 0h0m0 0h0m1 0h0m0 0h0m1 0h0m2 0h0m1 0h0m0 0h0m1 0h0m1 0h0m4 0h0m1 0h0m3 0h0m2 0h0m1 0h0m-24 1h0m1 0h0m1 0h0m1 0h0m1 0h0m0 0h0m0 0h0m1 0h0m0 0h0m0 0h0m0 0h0m1 0h0m0 0h0m1 0h0m0 0h0m0 0h0m0 0h0m0 0h0m0 0h0m1 0h0m1 0h0m0 0h0m0 0h0m1 0h0m1 0h0m0 0h0m0 0h0m2 0h0m0 0h0m1 0h0m1 0h0m1 0h0m3 0h0m-16 1h0m1 0h0m1 0h0m0 0h0m0 0h0m1 0h0m2 0h0m0 0h0m0 0h0m0 0h0m1 0h0m1 0h0m0 0h0m0 0h0m1 0h0m1 0h0m1 0h0m0 0h0m1 0h0m0 0h0m0 0h0m2 0h0m-16 1h0m1 0h0m1 0h0m4 0h0m0 0h0m1 0h0m0 0h0m1 0h0m3 0h0m2 0h0m1 0h0m10 0h0m-24 1h0m4 0h0m2 0h0m1 0h0m1 0h0m3 0h0m0 0h0m1 0h0m1 0h0m0 0h0m2 0h0m0 0h0m4 0h0m2 0h0m-23 1h0m2 0h0m3 0h0m0 0h0m1 0h0m0 0h0m2 0h0m1 0h0m0 0h0m1 0h0m0 0h0m4 0h0m-11 1h0m2 0h0m2 0h0m0 0h0m0 0h0m1 0h0m3 0h0m3 0h0m-8 1h0m2 0h0m1 0h0m0 0h0m1 0h0m2 0h0" stroke="#000" stroke-width="2.00" stroke-linecap="square" fill="none" stroke-opacity="1.0"/>
<text x="308.80" y="125.00" font-size="8.4" fill="#000" text-anchor="middle" stroke="#000" stroke-width="0.05">LCH015</text>
<path d="M287.50 132.20V181.50H332.60" stroke="#000" stroke-width="1.1" fill="none"/>
<text x="279.40" y="183.70" font-size="6.2" text-anchor="middle" fill="#000" stroke="#000" stroke-width="0.15">10<tspan font-size="2.79" dy="-2.23" stroke-width="0.05">0</tspan></text>
<text x="279.40" y="171.65" font-size="6.2" text-anchor="middle" fill="#000" stroke="#000" stroke-width="0.15">10<tspan font-size="2.79" dy="-2.23" stroke-width="0.05">1</tspan></text>
<text x="279.40" y="159.60" font-size="6.2" text-anchor="middle" fill="#000" stroke="#000" stroke-width="0.15">10<tspan font-size="2.79" dy="-2.23" stroke-width="0.05">2</tspan></text>
<text x="279.40" y="147.55" font-size="6.2" text-anchor="middle" fill="#000" stroke="#000" stroke-width="0.15">10<tspan font-size="2.79" dy="-2.23" stroke-width="0.05">3</tspan></text>
<text x="279.40" y="135.50" font-size="6.2" text-anchor="middle" fill="#000" stroke="#000" stroke-width="0.15">10<tspan font-size="2.79" dy="-2.23" stroke-width="0.05">4</tspan></text>
<text x="288.40" y="189.80" font-size="6.2" text-anchor="middle" fill="#000" stroke="#000" stroke-width="0.15">10<tspan font-size="2.79" dy="-2.23" stroke-width="0.05">0</tspan></text>
<text x="299.55" y="189.80" font-size="6.2" text-anchor="middle" fill="#000" stroke="#000" stroke-width="0.15">10<tspan font-size="2.79" dy="-2.23" stroke-width="0.05">1</tspan></text>
<text x="310.70" y="189.80" font-size="6.2" text-anchor="middle" fill="#000" stroke="#000" stroke-width="0.15">10<tspan font-size="2.79" dy="-2.23" stroke-width="0.05">2</tspan></text>
<text x="321.85" y="189.80" font-size="6.2" text-anchor="middle" fill="#000" stroke="#000" stroke-width="0.15">10<tspan font-size="2.79" dy="-2.23" stroke-width="0.05">3</tspan></text>
<text x="333.00" y="189.80" font-size="6.2" text-anchor="middle" fill="#000" stroke="#000" stroke-width="0.15">10<tspan font-size="2.79" dy="-2.23" stroke-width="0.05">4</tspan></text>
<text x="271.80" y="156.50" font-size="8.6" fill="#000" text-anchor="middle" textLength="16.5" lengthAdjust="spacingAndGlyphs" transform="rotate(-90 271.80 156.50)" stroke="#000" stroke-width="0.3">CD207</text>
<text x="309.60" y="199.20" font-size="8.6" fill="#000" text-anchor="middle" textLength="13.7" lengthAdjust="spacingAndGlyphs" stroke="#000" stroke-width="0.3">CD1a</text>
<rect x="311.20" y="137.50" width="13.30" height="14.20" fill="none" stroke="#5fb95f" stroke-width="0.65"/>
<rect x="311.20" y="163.20" width="13.30" height="17.30" fill="none" stroke="#f6c160" stroke-width="0.65"/>
<rect x="311.20" y="152.20" width="13.30" height="10.40" fill="none" stroke="#e4444c" stroke-width="0.65"/>
<text x="324.90" y="148.80" font-size="5.5" fill="#2f9a4e" stroke="#2f9a4e" stroke-width="0.18">11.01%</text>
<text x="324.90" y="160.00" font-size="5.5" fill="#d3383a" stroke="#d3383a" stroke-width="0.18">16.94%</text>
<text x="324.90" y="174.30" font-size="5.5" fill="#eab52a" stroke="#eab52a" stroke-width="0.18">3.5%</text>
<path transform="scale(0.5)" d="M750 288h0m67 0h0m-1 1h0m-28 1h0m-31 1h0m23 6h0m7 1h0m-36 3h0m46 0h0m-7 6h0m-7 3h0m7 3h0m21 2h0m-20 7h0m-37 5h0m25 7h0m-20 2h0m10 2h0m-26 2h0m19 4h0m20 3h0m36 0h0m-44 5h0m26 4h0m0 3h0" stroke="#000" stroke-width="1.20" stroke-linecap="square" fill="none" stroke-opacity="0.45"/>
<path transform="scale(0.5)" d="M790 279h0m4 0h0m-6 1h0m7 0h0m0 0h0m7 0h0m-13 1h0m8 0h0m1 0h0m3 0h0m1 0h0m-10 1h0m11 0h0m2 0h0m0 0h0m1 0h0m-17 1h0m16 0h0m2 0h0m-13 1h0m1 0h0m8 0h0m-6 1h0m6 0h0m3 0h0m1 0h0m-15 1h0m6 0h0m4 0h0m2 0h0m2 0h0m2 0h0m0 0h0m1 0h0m0 0h0m-11 1h0m3 0h0m2 0h0m4 0h0m4 0h0m-20 1h0m2 0h0m1 0h0m6 0h0m1 0h0m7 0h0m-16 1h0m9 0h0m7 0h0m1 0h0m-16 1h0m5 0h0m1 0h0m1 0h0m8 0h0m4 0h0m-22 1h0m2 0h0m2 0h0m1 0h0m6 0h0m3 0h0m3 0h0m2 0h0m-18 1h0m7 0h0m4 0h0m3 0h0m1 0h0m1 0h0m-28 1h0m1 0h0m19 0h0m3 0h0m1 0h0m3 0h0m1 0h0m-28 1h0m4 0h0m7 0h0m2 0h0m8 0h0m1 0h0m4 0h0m7 0h0m1 0h0m-39 1h0m9 0h0m4 0h0m9 0h0m1 0h0m3 0h0m1 0h0m1 0h0m2 0h0m11 0h0m-22 1h0m0 0h0m1 0h0m5 0h0m6 0h0m4 0h0m10 0h0m-38 1h0m8 0h0m2 0h0m11 0h0m1 0h0m6 0h0m5 0h0m-27 1h0m6 0h0m3 0h0m-12 1h0m6 0h0m0 0h0m0 0h0m1 0h0m8 0h0m0 0h0m2 0h0m-21 1h0m4 0h0m4 0h0m4 0h0m3 0h0m3 0h0m2 0h0m2 0h0m1 0h0m0 0h0m2 0h0m-20 1h0m5 0h0m4 0h0m7 0h0m4 0h0m1 0h0m0 0h0m8 0h0m-42 1h0m9 0h0m2 0h0m8 0h0m8 0h0m7 0h0m-35 1h0m14 0h0m6 0h0m1 0h0m7 0h0m1 0h0m4 0h0m5 0h0m2 0h0m-34 1h0m3 0h0m8 0h0m8 0h0m3 0h0m3 0h0m3 0h0m-21 1h0m5 0h0m4 0h0m6 0h0m1 0h0m7 0h0m1 0h0m-33 1h0m2 0h0m8 0h0m1 0h0m2 0h0m2 0h0m3 0h0m0 0h0m2 0h0m2 0h0m1 0h0m2 0h0m2 0h0m0 0h0m1 0h0m0 0h0m11 0h0m-36 1h0m2 0h0m1 0h0m2 0h0m3 0h0m1 0h0m2 0h0m5 0h0m1 0h0m2 0h0m1 0h0m0 0h0m-27 1h0m4 0h0m1 0h0m3 0h0m1 0h0m6 0h0m1 0h0m1 0h0m1 0h0m0 0h0m2 0h0m1 0h0m7 0h0m-29 1h0m6 0h0m0 0h0m7 0h0m2 0h0m1 0h0m0 0h0m2 0h0m3 0h0m1 0h0m4 0h0m3 0h0m4 0h0m2 0h0m-36 1h0m4 0h0m9 0h0m1 0h0m2 0h0m1 0h0m2 0h0m6 0h0m-23 1h0m9 0h0m0 0h0m1 0h0m1 0h0m0 0h0m1 0h0m0 0h0m1 0h0m1 0h0m0 0h0m0 0h0m0 0h0m1 0h0m0 0h0m2 0h0m6 0h0m3 0h0m3 0h0m1 0h0m-22 1h0m4 0h0m1 0h0m2 0h0m1 0h0m0 0h0m1 0h0m1 0h0m0 0h0m0 0h0m3 0h0m1 0h0m1 0h0m1 0h0m1 0h0m-22 1h0m3 0h0m6 0h0m1 0h0m2 0h0m0 0h0m1 0h0m0 0h0m2 0h0m0 0h0m1 0h0m2 0h0m1 0h0m0 0h0m0 0h0m2 0h0m2 0h0m5 0h0m-35 1h0m13 0h0m3 0h0m2 0h0m0 0h0m2 0h0m1 0h0m0 0h0m0 0h0m0 0h0m0 0h0m2 0h0m0 0h0m0 0h0m2 0h0m1 0h0m1 0h0m1 0h0m1 0h0m2 0h0m8 0h0m-29 1h0m0 0h0m2 0h0m3 0h0m1 0h0m0 0h0m1 0h0m1 0h0m2 0h0m0 0h0m2 0h0m1 0h0m0 0h0m2 0h0m1 0h0m1 0h0m1 0h0m1 0h0m1 0h0m0 0h0m1 0h0m2 0h0m-24 1h0m4 0h0m0 0h0m1 0h0m1 0h0m1 0h0m0 0h0m0 0h0m1 0h0m1 0h0m2 0h0m1 0h0m3 0h0m1 0h0m1 0h0m2 0h0m0 0h0m2 0h0m2 0h0m4 0h0m-43 1h0m7 0h0m5 0h0m7 0h0m1 0h0m4 0h0m1 0h0m3 0h0m2 0h0m1 0h0m2 0h0m1 0h0m1 0h0m1 0h0m5 0h0m1 0h0m-22 1h0m3 0h0m1 0h0m1 0h0m0 0h0m1 0h0m0 0h0m2 0h0m0 0h0m2 0h0m2 0h0m1 0h0m13 0h0m-50 1h0m14 0h0m2 0h0m6 0h0m9 0h0m2 0h0m0 0h0m0 0h0m9 0h0m-41 1h0m9 0h0m1 0h0m3 0h0m6 0h0m2 0h0m0 0h0m2 0h0m3 0h0m6 0h0m0 0h0m4 0h0m2 0h0m-39 1h0m7 0h0m8 0h0m2 0h0m10 0h0m1 0h0m1 0h0m0 0h0m2 0h0m3 0h0m1 0h0m1 0h0m1 0h0m1 0h0m7 0h0m3 0h0m-40 1h0m4 0h0m7 0h0m2 0h0m2 0h0m4 0h0m8 0h0m4 0h0m0 0h0m4 0h0m-35 1h0m3 0h0m2 0h0m15 0h0m1 0h0m2 0h0m1 0h0m-38 1h0m16 0h0m8 0h0m1 0h0m9 0h0m0 0h0m0 0h0m2 0h0m2 0h0m5 0h0m1 0h0m-42 1h0m12 0h0m0 0h0m2 0h0m3 0h0m8 0h0m14 0h0m-41 1h0m10 0h0m1 0h0m5 0h0m1 0h0m9 0h0m10 0h0m0 0h0m1 0h0m-29 1h0m9 0h0m1 0h0m7 0h0m8 0h0m-24 1h0m3 0h0m3 0h0m2 0h0m19 0h0m4 0h0m-40 1h0m13 0h0m4 0h0m2 0h0m1 0h0m6 0h0m1 0h0m1 0h0m3 0h0m4 0h0m1 0h0m-27 1h0m8 0h0m7 0h0m0 0h0m-18 1h0m11 0h0m1 0h0m5 0h0m2 0h0m-27 1h0m7 0h0m6 0h0m2 0h0m1 0h0m2 0h0m2 0h0m0 0h0m7 0h0m1 0h0m5 0h0m1 0h0m3 0h0m-36 1h0m0 0h0m7 0h0m3 0h0m9 0h0m9 0h0m7 0h0m-25 1h0m4 0h0m0 0h0m1 0h0m2 0h0m2 0h0m1 0h0m16 0h0m-42 1h0m12 0h0m2 0h0m3 0h0m2 0h0m0 0h0m1 0h0m3 0h0m18 0h0m-40 1h0m17 0h0m2 0h0m5 0h0m5 0h0m1 0h0m6 0h0m3 0h0m-25 1h0m2 0h0m6 0h0m11 0h0m2 0h0m2 0h0m-31 1h0m5 0h0m3 0h0m5 0h0m3 0h0m2 0h0m9 0h0m3 0h0m-30 1h0m12 0h0m14 0h0m-27 1h0m11 0h0m2 0h0m0 0h0m0 0h0m3 0h0m9 0h0m7 0h0m-37 1h0m0 0h0m11 0h0m5 0h0m0 0h0m10 0h0m4 0h0m11 0h0m-42 1h0m3 0h0m7 0h0m2 0h0m3 0h0m5 0h0m6 0h0m1 0h0m19 0h0m-41 1h0m3 0h0m4 0h0m9 0h0m2 0h0m12 0h0m0 0h0m-30 1h0m8 0h0m5 0h0m1 0h0m10 0h0m-23 1h0m3 0h0m4 0h0m2 0h0m13 0h0m-24 1h0m3 0h0m6 0h0m1 0h0m1 0h0m0 0h0m1 0h0m2 0h0m1 0h0m3 0h0m4 0h0m3 0h0m3 0h0m-30 1h0m12 0h0m3 0h0m0 0h0m0 0h0m10 0h0m-21 1h0m2 0h0m2 0h0m5 0h0m0 0h0m10 0h0m7 0h0m-14 1h0m5 0h0m1 0h0m1 0h0m-15 1h0m1 0h0m1 0h0m4 0h0m1 0h0m0 0h0m4 0h0m2 0h0m-24 1h0m1 0h0m0 0h0m18 0h0m-17 1h0m1 0h0m4 0h0m0 0h0m3 0h0m4 0h0m1 0h0m0 0h0m4 0h0m5 0h0m-22 1h0m0 0h0m1 0h0m7 0h0m4 0h0m17 0h0m0 0h0m-30 1h0m6 0h0m13 0h0m6 0h0m-8 1h0m-11 1h0m3 0h0m3 0h0m7 0h0m0 0h0m-16 1h0m8 0h0m-9 1h0m0 0h0m1 0h0m2 0h0m7 0h0m-9 1h0m0 0h0m9 0h0m6 0h0m4 0h0m-17 1h0m3 0h0m0 0h0m6 0h0m-10 1h0m2 0h0m5 0h0" stroke="#000" stroke-width="1.40" stroke-linecap="square" fill="none" stroke-opacity="0.65"/>
<path transform="scale(0.5)" d="M817 274h0m-11 4h0m-8 1h0m9 1h0m-5 1h0m1 0h0m-1 1h0m5 0h0m-12 1h0m9 1h0m-11 1h0m10 0h0m1 0h0m10 0h0m-22 1h0m1 0h0m2 0h0m3 0h0m3 0h0m5 0h0m-19 1h0m5 0h0m1 0h0m2 0h0m1 0h0m2 0h0m3 0h0m4 0h0m1 0h0m-16 1h0m3 0h0m2 0h0m1 0h0m0 0h0m0 0h0m1 0h0m0 0h0m3 0h0m4 0h0m1 0h0m-19 1h0m2 0h0m3 0h0m2 0h0m0 0h0m3 0h0m0 0h0m1 0h0m0 0h0m1 0h0m2 0h0m0 0h0m1 0h0m5 0h0m1 0h0m1 0h0m-17 1h0m3 0h0m0 0h0m1 0h0m1 0h0m0 0h0m2 0h0m0 0h0m1 0h0m0 0h0m1 0h0m2 0h0m2 0h0m-19 1h0m3 0h0m4 0h0m3 0h0m0 0h0m4 0h0m0 0h0m1 0h0m2 0h0m0 0h0m1 0h0m2 0h0m1 0h0m0 0h0m7 0h0m-26 1h0m7 0h0m0 0h0m1 0h0m1 0h0m1 0h0m1 0h0m1 0h0m1 0h0m0 0h0m0 0h0m1 0h0m6 0h0m1 0h0m-23 1h0m2 0h0m2 0h0m1 0h0m3 0h0m1 0h0m1 0h0m3 0h0m1 0h0m2 0h0m1 0h0m1 0h0m0 0h0m4 0h0m1 0h0m-22 1h0m6 0h0m4 0h0m0 0h0m1 0h0m1 0h0m4 0h0m0 0h0m5 0h0m2 0h0m-19 1h0m3 0h0m1 0h0m0 0h0m2 0h0m4 0h0m3 0h0m0 0h0m3 0h0m1 0h0m0 0h0m-15 1h0m-3 1h0m3 0h0m1 0h0m3 0h0m2 0h0m1 0h0m0 0h0m0 0h0m2 0h0m1 0h0m1 0h0m1 0h0m1 0h0m-17 1h0m3 0h0m3 0h0m0 0h0m3 0h0m1 0h0m0 0h0m0 0h0m8 0h0m-15 1h0m1 0h0m2 0h0m5 0h0m-5 1h0m3 0h0m1 0h0m0 0h0m0 0h0m2 0h0m1 0h0m1 0h0m-11 1h0m4 0h0m0 0h0m5 0h0m3 0h0m1 0h0m-14 1h0m7 0h0m3 0h0m0 0h0m-12 1h0m6 0h0m3 0h0m1 0h0m-6 1h0m2 0h0m2 0h0m0 0h0m2 0h0m4 0h0m3 0h0m-16 1h0m10 0h0m4 0h0m-12 1h0m5 0h0m-5 2h0m-2 1h0m2 1h0m0 0h0m8 1h0" stroke="#000" stroke-width="1.60" stroke-linecap="square" fill="none" stroke-opacity="0.85"/>
<path transform="scale(0.5)" d="M794 283h0m8 0h0m-1 2h0m-2 1h0m0 0h0m1 0h0m3 0h0m2 0h0m-8 1h0m4 0h0m0 0h0m1 0h0m0 0h0m2 0h0m0 0h0m1 0h0m0 0h0m2 0h0m-10 1h0m2 0h0m2 0h0m3 0h0m0 0h0m1 0h0m2 0h0m0 0h0m-20 1h0m7 0h0m6 0h0m1 0h0m1 0h0m1 0h0m0 0h0m2 0h0m2 0h0m1 0h0m-13 1h0m4 0h0m2 0h0m1 0h0m5 0h0m-20 1h0m4 0h0m6 0h0m2 0h0m1 0h0m0 0h0m0 0h0m1 0h0m1 0h0m2 0h0m2 0h0m2 0h0m1 0h0m-14 1h0m1 0h0m3 0h0m0 0h0m1 0h0m1 0h0m5 0h0m0 0h0m0 0h0m2 0h0m3 0h0m-15 1h0m3 0h0m4 0h0m1 0h0m2 0h0m0 0h0m1 0h0m0 0h0m-14 1h0m0 0h0m0 0h0m1 0h0m1 0h0m3 0h0m1 0h0m1 0h0m1 0h0m0 0h0m1 0h0m0 0h0m2 0h0m0 0h0m1 0h0m1 0h0m2 0h0m-12 1h0m1 0h0m1 0h0m1 0h0m2 0h0m2 0h0m-14 1h0m4 0h0m1 0h0m2 0h0m1 0h0m0 0h0m0 0h0m0 0h0m2 0h0m0 0h0m4 0h0m2 0h0m-11 1h0m0 0h0m0 0h0m1 0h0m1 0h0m0 0h0m0 0h0m1 0h0m0 0h0m1 0h0m0 0h0m3 0h0m0 0h0m1 0h0m2 0h0m2 0h0m-15 1h0m1 0h0m2 0h0m1 0h0m0 0h0m4 0h0m5 0h0m8 0h0m-25 1h0m2 0h0m3 0h0m0 0h0m1 0h0m2 0h0m2 0h0m1 0h0m0 0h0m6 0h0m3 0h0m3 0h0m-24 1h0m2 0h0m2 0h0m0 0h0m2 0h0m1 0h0m0 0h0m1 0h0m1 0h0m1 0h0m6 0h0m-14 1h0m1 0h0m3 0h0m0 0h0m0 0h0m1 0h0m2 0h0m0 0h0m1 0h0m1 0h0m0 0h0m3 0h0m3 0h0m1 0h0m-17 1h0m2 0h0m7 0h0m3 0h0m1 0h0m5 0h0m-17 1h0m0 0h0m1 0h0m1 0h0m2 0h0m0 0h0m0 0h0m2 0h0m6 0h0m0 0h0m2 0h0m-15 1h0m2 0h0m0 0h0m0 0h0m2 0h0m2 0h0m3 0h0m1 0h0m-10 1h0m1 0h0m1 0h0m4 0h0m1 0h0m2 0h0m-11 1h0m1 0h0m0 0h0m0 0h0m2 0h0m0 0h0m1 0h0m0 0h0m1 0h0m3 0h0m0 0h0m3 0h0m-14 1h0m1 0h0m1 0h0m3 0h0m2 0h0m1 0h0m1 0h0m0 0h0m2 0h0m1 0h0m3 0h0m-15 1h0m3 0h0m1 0h0m2 0h0m1 0h0m0 0h0m1 0h0m1 0h0m2 0h0m1 0h0m2 0h0m-13 1h0m1 0h0m0 0h0m1 0h0m2 0h0m1 0h0m0 0h0m0 0h0m3 0h0m8 0h0m-17 1h0m3 0h0m1 0h0m0 0h0m5 0h0m2 0h0m1 0h0m-12 1h0m0 0h0m0 0h0m4 0h0m0 0h0m0 0h0m1 0h0m0 0h0m2 0h0m0 0h0m2 0h0m5 0h0m0 0h0m-18 1h0m0 0h0m4 0h0m0 0h0m5 0h0m1 0h0m-11 1h0m1 0h0m2 0h0m4 0h0m2 0h0m0 0h0m0 0h0m2 0h0m0 0h0m0 0h0m2 0h0m0 0h0m1 0h0m0 0h0m1 0h0m-16 1h0m2 0h0m2 0h0m1 0h0m1 0h0m1 0h0m1 0h0m0 0h0m1 0h0m1 0h0m1 0h0m-12 1h0m6 0h0m2 0h0m1 0h0m0 0h0m1 0h0m0 0h0m0 0h0m2 0h0m0 0h0m-11 1h0m1 0h0m0 0h0m0 0h0m1 0h0m0 0h0m1 0h0m3 0h0m2 0h0m1 0h0m0 0h0m2 0h0m9 0h0m-20 1h0m1 0h0m0 0h0m3 0h0m1 0h0m1 0h0m2 0h0m2 0h0m0 0h0m0 0h0m0 0h0m-17 1h0m5 0h0m0 0h0m6 0h0m0 0h0m2 0h0m0 0h0m0 0h0m0 0h0m3 0h0m0 0h0m1 0h0m5 0h0m-17 1h0m0 0h0m1 0h0m4 0h0m0 0h0m2 0h0m0 0h0m1 0h0m1 0h0m2 0h0m1 0h0m0 0h0m-11 1h0m1 0h0m1 0h0m2 0h0m2 0h0m1 0h0m0 0h0m1 0h0m0 0h0m2 0h0m3 0h0m-18 1h0m3 0h0m0 0h0m1 0h0m0 0h0m2 0h0m1 0h0m0 0h0m1 0h0m2 0h0m5 0h0m1 0h0m-19 1h0m7 0h0m4 0h0m2 0h0m0 0h0m4 0h0m-12 1h0m0 0h0m1 0h0m2 0h0m0 0h0m1 0h0m0 0h0m0 0h0m1 0h0m1 0h0m1 0h0m2 0h0m1 0h0m3 0h0m-19 1h0m5 0h0m2 0h0m6 0h0m3 0h0m8 0h0m-23 1h0m2 0h0m1 0h0m1 0h0m3 0h0m0 0h0m3 0h0m1 0h0m1 0h0m0 0h0m1 0h0m1 0h0m0 0h0m1 0h0m5 0h0m-19 1h0m1 0h0m3 0h0m0 0h0m1 0h0m0 0h0m2 0h0m0 0h0m0 0h0m2 0h0m0 0h0m2 0h0m0 0h0m4 0h0m1 0h0m-13 1h0m2 0h0m1 0h0m1 0h0m1 0h0m1 0h0m2 0h0m-15 1h0m4 0h0m1 0h0m1 0h0m0 0h0m0 0h0m0 0h0m0 0h0m2 0h0m0 0h0m0 0h0m3 0h0m1 0h0m1 0h0m3 0h0m3 0h0m-22 1h0m5 0h0m1 0h0m1 0h0m2 0h0m0 0h0m1 0h0m0 0h0m1 0h0m1 0h0m1 0h0m0 0h0m2 0h0m2 0h0m3 0h0m1 0h0m-16 1h0m1 0h0m2 0h0m1 0h0m2 0h0m0 0h0m2 0h0m0 0h0m1 0h0m0 0h0m0 0h0m0 0h0m3 0h0m1 0h0m-19 1h0m1 0h0m4 0h0m2 0h0m2 0h0m2 0h0m0 0h0m1 0h0m0 0h0m1 0h0m0 0h0m0 0h0m0 0h0m2 0h0m1 0h0m-16 1h0m0 0h0m4 0h0m3 0h0m0 0h0m0 0h0m0 0h0m1 0h0m1 0h0m1 0h0m0 0h0m3 0h0m2 0h0m1 0h0m2 0h0m0 0h0m3 0h0m0 0h0m-19 1h0m4 0h0m1 0h0m3 0h0m0 0h0m0 0h0m1 0h0m0 0h0m0 0h0m1 0h0m2 0h0m2 0h0m1 0h0m2 0h0m0 0h0m-16 1h0m2 0h0m2 0h0m2 0h0m1 0h0m1 0h0m2 0h0m8 0h0m-23 1h0m3 0h0m1 0h0m7 0h0m3 0h0m3 0h0m-16 1h0m3 0h0m1 0h0m2 0h0m0 0h0m2 0h0m0 0h0m2 0h0m2 0h0m1 0h0m4 0h0m-15 1h0m2 0h0m0 0h0m4 0h0m1 0h0m0 0h0m0 0h0m1 0h0m0 0h0m1 0h0m1 0h0m-18 1h0m3 0h0m8 0h0m1 0h0m0 0h0m1 0h0m2 0h0m5 0h0m1 0h0m2 0h0m-17 1h0m2 0h0m0 0h0m0 0h0m1 0h0m2 0h0m0 0h0m1 0h0m4 0h0m2 0h0m-20 1h0m5 0h0m0 0h0m2 0h0m1 0h0m1 0h0m2 0h0m4 0h0m2 0h0m-12 1h0m1 0h0m2 0h0m0 0h0m2 0h0m1 0h0m0 0h0m1 0h0m0 0h0m1 0h0m1 0h0m0 0h0m0 0h0m4 0h0m-12 1h0m1 0h0m2 0h0m1 0h0m0 0h0m0 0h0m2 0h0m2 0h0m0 0h0m0 0h0m3 0h0m1 0h0m-14 1h0m0 0h0m6 0h0m3 0h0m1 0h0m0 0h0m2 0h0m-16 1h0m3 0h0m4 0h0m0 0h0m1 0h0m0 0h0m2 0h0m1 0h0m0 0h0m0 0h0m4 0h0m3 0h0m-15 1h0m0 0h0m2 0h0m1 0h0m0 0h0m2 0h0m1 0h0m0 0h0m0 0h0m0 0h0m1 0h0m1 0h0m0 0h0m2 0h0m3 0h0m5 0h0m-21 1h0m0 0h0m2 0h0m2 0h0m0 0h0m3 0h0m0 0h0m0 0h0m1 0h0m0 0h0m0 0h0m1 0h0m2 0h0m0 0h0m3 0h0m0 0h0m3 0h0m2 0h0m-22 1h0m4 0h0m5 0h0m0 0h0m1 0h0m0 0h0m1 0h0m1 0h0m1 0h0m0 0h0m1 0h0m2 0h0m-15 1h0m3 0h0m0 0h0m2 0h0m0 0h0m1 0h0m0 0h0m0 0h0m1 0h0m0 0h0m1 0h0m1 0h0m0 0h0m1 0h0m0 0h0m1 0h0m0 0h0m0 0h0m0 0h0m1 0h0m1 0h0m1 0h0m2 0h0m1 0h0m-16 1h0m1 0h0m1 0h0m2 0h0m1 0h0m0 0h0m3 0h0m1 0h0m0 0h0m9 0h0m-22 1h0m7 0h0m0 0h0m1 0h0m0 0h0m0 0h0m2 0h0m3 0h0m0 0h0m0 0h0m4 0h0m1 0h0m-12 1h0m0 0h0m2 0h0m1 0h0m1 0h0m1 0h0m0 0h0m0 0h0m1 0h0m3 0h0m0 0h0m4 0h0m-18 1h0m1 0h0m1 0h0m3 0h0m1 0h0m1 0h0m0 0h0m2 0h0m1 0h0m1 0h0m1 0h0m4 0h0m2 0h0m-19 1h0m3 0h0m2 0h0m0 0h0m1 0h0m2 0h0m1 0h0m4 0h0m-14 1h0m1 0h0m3 0h0m0 0h0m0 0h0m3 0h0m0 0h0m1 0h0m2 0h0m0 0h0m2 0h0m0 0h0m1 0h0m3 0h0m-19 1h0m2 0h0m3 0h0m0 0h0m1 0h0m1 0h0m0 0h0m3 0h0m3 0h0m1 0h0m0 0h0m5 0h0m0 0h0m-13 1h0m2 0h0m1 0h0m0 0h0m0 0h0m0 0h0m1 0h0m0 0h0m1 0h0m-9 1h0m0 0h0m1 0h0m2 0h0m0 0h0m2 0h0m0 0h0m1 0h0m1 0h0m2 0h0m0 0h0m1 0h0m0 0h0m0 0h0m2 0h0m-10 1h0m4 0h0m2 0h0m2 0h0m5 0h0m-10 1h0m1 0h0m4 0h0m-6 1h0m0 0h0m3 0h0m1 0h0m1 0h0m3 0h0m-7 1h0m2 0h0m7 0h0" stroke="#000" stroke-width="2.00" stroke-linecap="square" fill="none" stroke-opacity="1.0"/>
<text x="391.80" y="125.00" font-size="8.4" fill="#000" text-anchor="middle" stroke="#000" stroke-width="0.05">LCH017</text>
<path d="M370.50 132.20V181.50H415.60" stroke="#000" stroke-width="1.1" fill="none"/>
<text x="362.40" y="183.70" font-size="6.2" text-anchor="middle" fill="#000" stroke="#000" stroke-width="0.15">10<tspan font-size="2.79" dy="-2.23" stroke-width="0.05">0</tspan></text>
<text x="362.40" y="171.65" font-size="6.2" text-anchor="middle" fill="#000" stroke="#000" stroke-width="0.15">10<tspan font-size="2.79" dy="-2.23" stroke-width="0.05">1</tspan></text>
<text x="362.40" y="159.60" font-size="6.2" text-anchor="middle" fill="#000" stroke="#000" stroke-width="0.15">10<tspan font-size="2.79" dy="-2.23" stroke-width="0.05">2</tspan></text>
<text x="362.40" y="147.55" font-size="6.2" text-anchor="middle" fill="#000" stroke="#000" stroke-width="0.15">10<tspan font-size="2.79" dy="-2.23" stroke-width="0.05">3</tspan></text>
<text x="362.40" y="135.50" font-size="6.2" text-anchor="middle" fill="#000" stroke="#000" stroke-width="0.15">10<tspan font-size="2.79" dy="-2.23" stroke-width="0.05">4</tspan></text>
<text x="371.40" y="189.80" font-size="6.2" text-anchor="middle" fill="#000" stroke="#000" stroke-width="0.15">10<tspan font-size="2.79" dy="-2.23" stroke-width="0.05">0</tspan></text>
<text x="382.55" y="189.80" font-size="6.2" text-anchor="middle" fill="#000" stroke="#000" stroke-width="0.15">10<tspan font-size="2.79" dy="-2.23" stroke-width="0.05">1</tspan></text>
<text x="393.70" y="189.80" font-size="6.2" text-anchor="middle" fill="#000" stroke="#000" stroke-width="0.15">10<tspan font-size="2.79" dy="-2.23" stroke-width="0.05">2</tspan></text>
<text x="404.85" y="189.80" font-size="6.2" text-anchor="middle" fill="#000" stroke="#000" stroke-width="0.15">10<tspan font-size="2.79" dy="-2.23" stroke-width="0.05">3</tspan></text>
<text x="416.00" y="189.80" font-size="6.2" text-anchor="middle" fill="#000" stroke="#000" stroke-width="0.15">10<tspan font-size="2.79" dy="-2.23" stroke-width="0.05">4</tspan></text>
<text x="354.80" y="156.50" font-size="8.6" fill="#000" text-anchor="middle" textLength="16.5" lengthAdjust="spacingAndGlyphs" transform="rotate(-90 354.80 156.50)" stroke="#000" stroke-width="0.3">CD207</text>
<text x="392.60" y="199.20" font-size="8.6" fill="#000" text-anchor="middle" textLength="13.7" lengthAdjust="spacingAndGlyphs" stroke="#000" stroke-width="0.3">CD1a</text>
<rect x="391.60" y="137.50" width="17.10" height="14.20" fill="none" stroke="#5fb95f" stroke-width="0.65"/>
<rect x="391.60" y="163.20" width="17.10" height="17.30" fill="none" stroke="#f6c160" stroke-width="0.65"/>
<rect x="391.60" y="152.20" width="17.10" height="10.40" fill="none" stroke="#e4444c" stroke-width="0.65"/>
<text x="409.70" y="148.60" font-size="5.5" fill="#2f9a4e" stroke="#2f9a4e" stroke-width="0.18">19.96%</text>
<text x="409.70" y="160.00" font-size="5.5" fill="#d3383a" stroke="#d3383a" stroke-width="0.18">15.74%</text>
<text x="409.70" y="173.90" font-size="5.5" fill="#eab52a" stroke="#eab52a" stroke-width="0.18">1.79%</text>
<path transform="scale(0.5)" d="M983 286h0m-6 2h0m-46 2h0m24 0h0m-8 4h0m31 12h0m-24 5h0m27 0h0m-30 3h0m37 2h0m-2 2h0m-9 2h0m-33 13h0m21 1h0m25 0h0m-74 9h0m17 1h0m26 4h0m25 10h0m-50 1h0" stroke="#000" stroke-width="1.20" stroke-linecap="square" fill="none" stroke-opacity="0.45"/>
<path transform="scale(0.5)" d="M972 278h0m-6 2h0m10 1h0m7 1h0m-13 1h0m10 0h0m-9 1h0m-6 1h0m5 0h0m10 0h0m-8 1h0m2 0h0m6 0h0m-6 1h0m1 1h0m-6 1h0m3 0h0m-3 1h0m6 0h0m-4 1h0m3 0h0m1 0h0m-12 1h0m1 0h0m5 0h0m2 0h0m3 0h0m-10 1h0m3 0h0m5 0h0m2 0h0m3 0h0m4 1h0m-11 1h0m-4 1h0m1 0h0m19 0h0m-14 1h0m10 0h0m5 0h0m-28 1h0m7 0h0m1 0h0m10 0h0m9 0h0m-23 1h0m1 0h0m3 0h0m8 0h0m5 0h0m-14 1h0m3 0h0m12 0h0m-8 1h0m1 0h0m2 0h0m2 0h0m-5 1h0m9 0h0m-21 1h0m14 0h0m3 0h0m-4 1h0m3 0h0m1 0h0m-12 1h0m7 0h0m3 0h0m3 0h0m1 0h0m-24 1h0m21 0h0m11 0h0m-44 1h0m11 0h0m10 0h0m1 0h0m0 0h0m8 0h0m1 0h0m7 0h0m0 0h0m1 0h0m2 0h0m-29 1h0m5 0h0m3 0h0m0 0h0m1 0h0m3 0h0m1 0h0m1 0h0m5 0h0m13 0h0m2 0h0m-53 1h0m32 0h0m0 0h0m0 0h0m1 0h0m1 0h0m5 0h0m2 0h0m0 0h0m1 0h0m4 0h0m2 0h0m2 0h0m-41 1h0m2 0h0m1 0h0m11 0h0m0 0h0m1 0h0m1 0h0m1 0h0m0 0h0m3 0h0m1 0h0m2 0h0m0 0h0m1 0h0m0 0h0m0 0h0m2 0h0m0 0h0m1 0h0m1 0h0m1 0h0m0 0h0m0 0h0m1 0h0m1 0h0m0 0h0m1 0h0m1 0h0m11 0h0m5 0h0m-55 1h0m7 0h0m3 0h0m1 0h0m2 0h0m9 0h0m5 0h0m2 0h0m0 0h0m2 0h0m0 0h0m2 0h0m4 0h0m1 0h0m4 0h0m0 0h0m2 0h0m0 0h0m0 0h0m6 0h0m4 0h0m-48 1h0m3 0h0m8 0h0m7 0h0m2 0h0m3 0h0m3 0h0m1 0h0m1 0h0m0 0h0m0 0h0m0 0h0m0 0h0m1 0h0m1 0h0m1 0h0m2 0h0m5 0h0m3 0h0m3 0h0m-39 1h0m3 0h0m1 0h0m3 0h0m4 0h0m2 0h0m2 0h0m0 0h0m1 0h0m1 0h0m3 0h0m0 0h0m1 0h0m2 0h0m0 0h0m1 0h0m1 0h0m1 0h0m0 0h0m1 0h0m5 0h0m4 0h0m1 0h0m0 0h0m-35 1h0m9 0h0m0 0h0m1 0h0m0 0h0m4 0h0m1 0h0m1 0h0m1 0h0m0 0h0m1 0h0m1 0h0m0 0h0m2 0h0m0 0h0m0 0h0m1 0h0m0 0h0m3 0h0m5 0h0m1 0h0m5 0h0m-39 1h0m0 0h0m0 0h0m2 0h0m4 0h0m9 0h0m0 0h0m1 0h0m3 0h0m1 0h0m1 0h0m1 0h0m1 0h0m0 0h0m2 0h0m1 0h0m1 0h0m4 0h0m1 0h0m2 0h0m2 0h0m-50 1h0m15 0h0m2 0h0m1 0h0m0 0h0m0 0h0m1 0h0m0 0h0m2 0h0m1 0h0m0 0h0m1 0h0m0 0h0m3 0h0m1 0h0m2 0h0m4 0h0m0 0h0m0 0h0m1 0h0m0 0h0m1 0h0m1 0h0m1 0h0m0 0h0m0 0h0m1 0h0m2 0h0m0 0h0m1 0h0m1 0h0m1 0h0m1 0h0m1 0h0m1 0h0m1 0h0m-42 1h0m9 0h0m1 0h0m1 0h0m2 0h0m0 0h0m2 0h0m0 0h0m2 0h0m0 0h0m5 0h0m2 0h0m1 0h0m2 0h0m1 0h0m0 0h0m1 0h0m0 0h0m1 0h0m0 0h0m1 0h0m1 0h0m0 0h0m2 0h0m3 0h0m1 0h0m5 0h0m2 0h0m1 0h0m-37 1h0m4 0h0m0 0h0m0 0h0m2 0h0m0 0h0m1 0h0m3 0h0m3 0h0m3 0h0m4 0h0m2 0h0m1 0h0m1 0h0m2 0h0m3 0h0m0 0h0m1 0h0m0 0h0m3 0h0m-45 1h0m6 0h0m1 0h0m3 0h0m0 0h0m5 0h0m1 0h0m0 0h0m3 0h0m4 0h0m1 0h0m0 0h0m0 0h0m2 0h0m0 0h0m2 0h0m2 0h0m0 0h0m1 0h0m2 0h0m1 0h0m1 0h0m3 0h0m4 0h0m9 0h0m-43 1h0m2 0h0m5 0h0m2 0h0m0 0h0m1 0h0m6 0h0m3 0h0m4 0h0m0 0h0m2 0h0m0 0h0m2 0h0m4 0h0m1 0h0m0 0h0m-42 1h0m13 0h0m2 0h0m1 0h0m3 0h0m3 0h0m6 0h0m2 0h0m3 0h0m1 0h0m0 0h0m5 0h0m1 0h0m2 0h0m1 0h0m6 0h0m-35 1h0m2 0h0m5 0h0m4 0h0m2 0h0m3 0h0m0 0h0m4 0h0m1 0h0m5 0h0m2 0h0m0 0h0m-40 1h0m10 0h0m2 0h0m2 0h0m2 0h0m4 0h0m11 0h0m3 0h0m6 0h0m-38 1h0m4 0h0m8 0h0m1 0h0m1 0h0m2 0h0m0 0h0m1 0h0m2 0h0m12 0h0m4 0h0m1 0h0m7 0h0m-49 1h0m0 0h0m10 0h0m10 0h0m1 0h0m0 0h0m1 0h0m0 0h0m1 0h0m1 0h0m2 0h0m1 0h0m1 0h0m0 0h0m2 0h0m0 0h0m1 0h0m3 0h0m0 0h0m1 0h0m0 0h0m0 0h0m4 0h0m6 0h0m1 0h0m-48 1h0m6 0h0m3 0h0m1 0h0m6 0h0m0 0h0m3 0h0m0 0h0m0 0h0m3 0h0m3 0h0m0 0h0m1 0h0m2 0h0m7 0h0m0 0h0m18 0h0m-57 1h0m14 0h0m11 0h0m1 0h0m1 0h0m4 0h0m4 0h0m6 0h0m1 0h0m4 0h0m2 0h0m1 0h0m9 0h0m5 0h0m-53 1h0m5 0h0m7 0h0m15 0h0m5 0h0m3 0h0m3 0h0m-26 1h0m1 0h0m1 0h0m1 0h0m1 0h0m3 0h0m1 0h0m5 0h0m4 0h0m0 0h0m1 0h0m1 0h0m9 0h0m1 0h0m4 0h0m-56 1h0m10 0h0m5 0h0m3 0h0m2 0h0m1 0h0m1 0h0m2 0h0m14 0h0m3 0h0m7 0h0m0 0h0m0 0h0m3 0h0m5 0h0m2 0h0m-46 1h0m1 0h0m1 0h0m7 0h0m1 0h0m0 0h0m6 0h0m2 0h0m3 0h0m5 0h0m1 0h0m1 0h0m1 0h0m1 0h0m3 0h0m7 0h0m-54 1h0m2 0h0m2 0h0m3 0h0m4 0h0m6 0h0m2 0h0m3 0h0m1 0h0m1 0h0m12 0h0m1 0h0m0 0h0m5 0h0m1 0h0m1 0h0m0 0h0m3 0h0m0 0h0m2 0h0m7 0h0m2 0h0m7 0h0m-52 1h0m3 0h0m0 0h0m3 0h0m0 0h0m2 0h0m2 0h0m10 0h0m3 0h0m1 0h0m3 0h0m2 0h0m0 0h0m2 0h0m0 0h0m1 0h0m1 0h0m5 0h0m5 0h0m-46 1h0m3 0h0m0 0h0m3 0h0m4 0h0m3 0h0m1 0h0m1 0h0m14 0h0m0 0h0m0 0h0m3 0h0m3 0h0m2 0h0m3 0h0m0 0h0m0 0h0m1 0h0m2 0h0m0 0h0m3 0h0m-42 1h0m2 0h0m2 0h0m0 0h0m1 0h0m2 0h0m1 0h0m0 0h0m12 0h0m3 0h0m4 0h0m1 0h0m3 0h0m2 0h0m4 0h0m3 0h0m0 0h0m4 0h0m-55 1h0m1 0h0m11 0h0m4 0h0m2 0h0m0 0h0m4 0h0m2 0h0m0 0h0m4 0h0m3 0h0m0 0h0m3 0h0m5 0h0m2 0h0m1 0h0m1 0h0m0 0h0m0 0h0m3 0h0m4 0h0m7 0h0m9 0h0m-65 1h0m8 0h0m6 0h0m10 0h0m9 0h0m5 0h0m2 0h0m2 0h0m0 0h0m2 0h0m4 0h0m0 0h0m3 0h0m1 0h0m0 0h0m2 0h0m-59 1h0m6 0h0m5 0h0m2 0h0m4 0h0m2 0h0m2 0h0m0 0h0m11 0h0m0 0h0m6 0h0m0 0h0m5 0h0m1 0h0m3 0h0m0 0h0m3 0h0m1 0h0m3 0h0m2 0h0m-57 1h0m15 0h0m4 0h0m3 0h0m0 0h0m1 0h0m3 0h0m2 0h0m2 0h0m2 0h0m10 0h0m6 0h0m0 0h0m9 0h0m2 0h0m1 0h0m2 0h0m1 0h0m-66 1h0m11 0h0m4 0h0m2 0h0m4 0h0m0 0h0m0 0h0m2 0h0m2 0h0m12 0h0m1 0h0m1 0h0m1 0h0m0 0h0m1 0h0m2 0h0m1 0h0m1 0h0m0 0h0m1 0h0m1 0h0m3 0h0m4 0h0m1 0h0m1 0h0m0 0h0m2 0h0m0 0h0m0 0h0m1 0h0m3 0h0m2 0h0m-46 1h0m2 0h0m2 0h0m3 0h0m0 0h0m2 0h0m10 0h0m4 0h0m0 0h0m1 0h0m0 0h0m3 0h0m0 0h0m0 0h0m3 0h0m3 0h0m5 0h0m2 0h0m1 0h0m1 0h0m1 0h0m-63 1h0m1 0h0m15 0h0m5 0h0m1 0h0m7 0h0m2 0h0m5 0h0m2 0h0m11 0h0m2 0h0m2 0h0m0 0h0m3 0h0m2 0h0m0 0h0m5 0h0m1 0h0m4 0h0m9 0h0m-69 1h0m9 0h0m5 0h0m8 0h0m3 0h0m2 0h0m5 0h0m1 0h0m2 0h0m5 0h0m0 0h0m2 0h0m0 0h0m6 0h0m4 0h0m1 0h0m4 0h0m8 0h0m-74 1h0m13 0h0m3 0h0m7 0h0m1 0h0m1 0h0m13 0h0m1 0h0m3 0h0m2 0h0m0 0h0m3 0h0m4 0h0m1 0h0m1 0h0m11 0h0m6 0h0m-72 1h0m7 0h0m6 0h0m3 0h0m14 0h0m2 0h0m6 0h0m12 0h0m1 0h0m3 0h0m0 0h0m9 0h0m1 0h0m1 0h0m1 0h0m4 0h0m-61 1h0m5 0h0m2 0h0m6 0h0m0 0h0m1 0h0m1 0h0m3 0h0m5 0h0m2 0h0m0 0h0m7 0h0m6 0h0m2 0h0m1 0h0m1 0h0m2 0h0m0 0h0m3 0h0m0 0h0m4 0h0m4 0h0m4 0h0m-53 1h0m3 0h0m1 0h0m12 0h0m1 0h0m2 0h0m9 0h0m4 0h0m1 0h0m4 0h0m0 0h0m1 0h0m1 0h0m4 0h0m4 0h0m0 0h0m4 0h0m0 0h0m-66 1h0m16 0h0m5 0h0m7 0h0m2 0h0m1 0h0m1 0h0m0 0h0m4 0h0m14 0h0m4 0h0m1 0h0m1 0h0m3 0h0m1 0h0m4 0h0m3 0h0m-48 1h0m7 0h0m0 0h0m3 0h0m2 0h0m0 0h0m9 0h0m9 0h0m6 0h0m2 0h0m0 0h0m3 0h0m0 0h0m1 0h0m0 0h0m0 0h0m1 0h0m5 0h0m-55 1h0m3 0h0m4 0h0m0 0h0m4 0h0m1 0h0m6 0h0m1 0h0m9 0h0m8 0h0m0 0h0m6 0h0m2 0h0m0 0h0m5 0h0m1 0h0m9 0h0m2 0h0m1 0h0m-70 1h0m3 0h0m3 0h0m0 0h0m13 0h0m1 0h0m1 0h0m0 0h0m19 0h0m4 0h0m2 0h0m2 0h0m1 0h0m2 0h0m4 0h0m11 0h0m1 0h0m3 0h0m-73 1h0m5 0h0m2 0h0m1 0h0m3 0h0m5 0h0m0 0h0m4 0h0m16 0h0m8 0h0m5 0h0m4 0h0m9 0h0m3 0h0m7 0h0m-70 1h0m4 0h0m6 0h0m2 0h0m2 0h0m5 0h0m3 0h0m5 0h0m18 0h0m2 0h0m7 0h0m8 0h0m4 0h0m-62 1h0m5 0h0m4 0h0m2 0h0m3 0h0m1 0h0m1 0h0m2 0h0m1 0h0m7 0h0m12 0h0m8 0h0m0 0h0m2 0h0m3 0h0m5 0h0m2 0h0m6 0h0m-61 1h0m2 0h0m4 0h0m1 0h0m1 0h0m3 0h0m9 0h0m2 0h0m22 0h0m0 0h0m4 0h0m1 0h0m1 0h0m2 0h0m3 0h0m-57 1h0m4 0h0m1 0h0m4 0h0m25 0h0m7 0h0m0 0h0m5 0h0m1 0h0m-44 1h0m2 0h0m1 0h0m0 0h0m0 0h0m6 0h0m1 0h0m23 0h0m10 0h0m2 0h0m2 0h0m0 0h0m1 0h0m7 0h0m1 0h0m0 0h0m-61 1h0m1 0h0m4 0h0m1 0h0m9 0h0m32 0h0m6 0h0m6 0h0m-52 1h0m12 0h0m4 0h0m18 0h0m9 0h0m13 0h0m-54 1h0m3 0h0m2 0h0m29 0h0m6 0h0m0 0h0m4 0h0m4 0h0m2 0h0m-56 1h0m2 0h0m10 0h0m5 0h0m19 0h0m2 0h0m17 0h0m-55 1h0m1 0h0m0 0h0m2 0h0m39 0h0" stroke="#000" stroke-width="1.40" stroke-linecap="square" fill="none" stroke-opacity="0.65"/>
<path transform="scale(0.5)" d="M978 308h0m-10 1h0m8 0h0m0 1h0m10 0h0m-14 1h0m1 0h0m7 0h0m-12 1h0m3 0h0m1 0h0m0 0h0m4 0h0m0 0h0m0 0h0m0 0h0m-8 1h0m2 0h0m2 0h0m1 0h0m2 0h0m1 0h0m9 0h0m-18 1h0m4 0h0m1 0h0m1 0h0m1 0h0m1 0h0m-25 1h0m4 0h0m9 0h0m5 0h0m1 0h0m3 0h0m0 0h0m2 0h0m1 0h0m0 0h0m0 0h0m1 0h0m-28 1h0m3 0h0m4 0h0m8 0h0m1 0h0m6 0h0m1 0h0m1 0h0m4 0h0m-27 1h0m7 0h0m0 0h0m8 0h0m1 0h0m4 0h0m1 0h0m0 0h0m2 0h0m0 0h0m1 0h0m1 0h0m1 0h0m0 0h0m-31 1h0m3 0h0m4 0h0m2 0h0m3 0h0m9 0h0m5 0h0m3 0h0m-25 1h0m1 0h0m6 0h0m1 0h0m1 0h0m2 0h0m-11 1h0m1 0h0m3 0h0m1 0h0m0 0h0m0 0h0m3 0h0m1 0h0m1 0h0m-12 1h0m2 0h0m4 0h0m3 0h0m0 0h0m0 0h0m0 0h0m1 0h0m1 0h0m1 0h0m0 0h0m2 0h0m2 0h0m-21 1h0m9 0h0m7 0h0m-8 1h0m5 0h0m1 0h0m2 0h0m0 0h0m2 0h0m0 0h0m1 0h0m1 0h0m-17 1h0m3 0h0m7 0h0m0 0h0m1 0h0m2 0h0m4 0h0m1 0h0m-17 1h0m6 0h0m2 0h0m2 0h0m1 0h0m1 0h0m3 0h0m0 0h0m-21 1h0m7 0h0m1 0h0m2 0h0m0 0h0m4 0h0m1 0h0m0 0h0m1 0h0m2 0h0m-8 1h0m1 0h0m0 0h0m0 0h0m0 0h0m3 0h0m1 0h0m4 0h0m4 0h0m-16 1h0m1 0h0m4 0h0m1 0h0m0 0h0m2 0h0m0 0h0m0 0h0m3 0h0m0 0h0m2 0h0m6 0h0m-28 1h0m3 0h0m5 0h0m2 0h0m1 0h0m0 0h0m2 0h0m2 0h0m0 0h0m0 0h0m0 0h0m1 0h0m2 0h0m1 0h0m4 0h0m-17 1h0m0 0h0m0 0h0m2 0h0m3 0h0m3 0h0m2 0h0m1 0h0m0 0h0m4 0h0m3 0h0m-22 1h0m7 0h0m1 0h0m0 0h0m0 0h0m1 0h0m3 0h0m0 0h0m0 0h0m1 0h0m3 0h0m1 0h0m0 0h0m1 0h0m-16 1h0m0 0h0m2 0h0m5 0h0m1 0h0m2 0h0m0 0h0m0 0h0m2 0h0m3 0h0m6 0h0m-30 1h0m5 0h0m2 0h0m1 0h0m1 0h0m0 0h0m5 0h0m1 0h0m1 0h0m1 0h0m2 0h0m6 0h0m1 0h0m-23 1h0m6 0h0m2 0h0m0 0h0m1 0h0m0 0h0m2 0h0m2 0h0m4 0h0m0 0h0m1 0h0m1 0h0m0 0h0m-16 1h0m0 0h0m3 0h0m1 0h0m3 0h0m1 0h0m0 0h0m1 0h0m1 0h0m5 0h0m3 0h0m-20 1h0m4 0h0m3 0h0m0 0h0m3 0h0m1 0h0m4 0h0m6 0h0m-15 1h0m0 0h0m2 0h0m2 0h0m0 0h0m1 0h0m6 0h0m-11 1h0m11 0h0m-15 1h0m2 0h0m1 0h0m0 0h0m1 0h0m2 0h0m5 0h0m9 0h0m-23 1h0m4 0h0m1 0h0m1 0h0m1 0h0m1 0h0m2 0h0m7 0h0m4 0h0m-18 1h0m2 0h0m1 0h0m3 0h0m0 0h0m1 0h0m-13 1h0m4 0h0m1 0h0m1 0h0m2 0h0m1 0h0m2 0h0m5 0h0m2 0h0m-21 1h0m0 0h0m7 0h0m1 0h0m1 0h0m1 0h0m2 0h0m4 0h0m1 0h0m2 0h0m3 0h0m-17 1h0m4 0h0m2 0h0m1 0h0m1 0h0m2 0h0m0 0h0m4 0h0m-20 1h0m5 0h0m0 0h0m4 0h0m2 0h0m3 0h0m0 0h0m7 0h0m-29 1h0m18 0h0m2 0h0m1 0h0m0 0h0m3 0h0m0 0h0m8 0h0m-23 1h0m2 0h0m3 0h0m0 0h0m2 0h0m1 0h0m1 0h0m7 0h0m2 0h0m0 0h0m1 0h0m0 0h0m-10 1h0m1 0h0m2 0h0m-11 1h0m0 0h0m1 0h0m4 0h0m1 0h0m6 0h0m3 0h0m-7 1h0m1 0h0m4 0h0m1 0h0m-16 1h0m2 0h0m3 0h0m1 0h0m1 0h0m1 0h0m0 0h0m1 0h0m8 0h0m-23 1h0m3 0h0m5 0h0m5 0h0m1 0h0m0 0h0m2 0h0m0 0h0m1 0h0m1 0h0m0 0h0m2 0h0m1 0h0m4 0h0m-18 1h0m0 0h0m1 0h0m1 0h0m0 0h0m0 0h0m1 0h0m2 0h0m3 0h0m0 0h0m3 0h0m5 0h0m-24 1h0m3 0h0m4 0h0m1 0h0m6 0h0m1 0h0m3 0h0m-18 1h0m6 0h0m5 0h0m1 0h0m2 0h0m-13 1h0m5 0h0m0 0h0m1 0h0m1 0h0m2 0h0m0 0h0m2 0h0m2 0h0m6 0h0m-16 1h0m1 0h0m0 0h0m3 0h0m0 0h0m3 0h0m1 0h0m4 0h0m-15 1h0m3 0h0m2 0h0m4 0h0m1 0h0m3 0h0m1 0h0m-10 1h0m2 0h0m4 0h0m1 0h0m2 0h0m-11 1h0m1 0h0m1 0h0m1 0h0m3 0h0m0 0h0m7 0h0m-9 1h0m1 0h0m2 0h0m1 0h0m6 1h0" stroke="#000" stroke-width="2.00" stroke-linecap="square" fill="none" stroke-opacity="1.0"/>
<text x="478.60" y="125.00" font-size="8.4" fill="#000" text-anchor="middle" stroke="#000" stroke-width="0.05">LCH018</text>
<path d="M456.50 132.20V181.50H501.60" stroke="#000" stroke-width="1.1" fill="none"/>
<text x="448.40" y="183.70" font-size="6.2" text-anchor="middle" fill="#000" stroke="#000" stroke-width="0.15">10<tspan font-size="2.79" dy="-2.23" stroke-width="0.05">0</tspan></text>
<text x="448.40" y="171.65" font-size="6.2" text-anchor="middle" fill="#000" stroke="#000" stroke-width="0.15">10<tspan font-size="2.79" dy="-2.23" stroke-width="0.05">1</tspan></text>
<text x="448.40" y="159.60" font-size="6.2" text-anchor="middle" fill="#000" stroke="#000" stroke-width="0.15">10<tspan font-size="2.79" dy="-2.23" stroke-width="0.05">2</tspan></text>
<text x="448.40" y="147.55" font-size="6.2" text-anchor="middle" fill="#000" stroke="#000" stroke-width="0.15">10<tspan font-size="2.79" dy="-2.23" stroke-width="0.05">3</tspan></text>
<text x="448.40" y="135.50" font-size="6.2" text-anchor="middle" fill="#000" stroke="#000" stroke-width="0.15">10<tspan font-size="2.79" dy="-2.23" stroke-width="0.05">4</tspan></text>
<text x="457.40" y="189.80" font-size="6.2" text-anchor="middle" fill="#000" stroke="#000" stroke-width="0.15">10<tspan font-size="2.79" dy="-2.23" stroke-width="0.05">0</tspan></text>
<text x="468.55" y="189.80" font-size="6.2" text-anchor="middle" fill="#000" stroke="#000" stroke-width="0.15">10<tspan font-size="2.79" dy="-2.23" stroke-width="0.05">1</tspan></text>
<text x="479.70" y="189.80" font-size="6.2" text-anchor="middle" fill="#000" stroke="#000" stroke-width="0.15">10<tspan font-size="2.79" dy="-2.23" stroke-width="0.05">2</tspan></text>
<text x="490.85" y="189.80" font-size="6.2" text-anchor="middle" fill="#000" stroke="#000" stroke-width="0.15">10<tspan font-size="2.79" dy="-2.23" stroke-width="0.05">3</tspan></text>
<text x="502.00" y="189.80" font-size="6.2" text-anchor="middle" fill="#000" stroke="#000" stroke-width="0.15">10<tspan font-size="2.79" dy="-2.23" stroke-width="0.05">4</tspan></text>
<text x="440.80" y="156.50" font-size="8.6" fill="#000" text-anchor="middle" textLength="16.5" lengthAdjust="spacingAndGlyphs" transform="rotate(-90 440.80 156.50)" stroke="#000" stroke-width="0.3">CD207</text>
<text x="478.60" y="199.20" font-size="8.6" fill="#000" text-anchor="middle" textLength="13.7" lengthAdjust="spacingAndGlyphs" stroke="#000" stroke-width="0.3">CD1a</text>
<rect x="478.30" y="137.50" width="16.40" height="14.50" fill="none" stroke="#5fb95f" stroke-width="0.65"/>
<rect x="478.30" y="163.40" width="16.40" height="17.10" fill="none" stroke="#f6c160" stroke-width="0.65"/>
<rect x="478.30" y="152.50" width="16.40" height="10.30" fill="none" stroke="#e4444c" stroke-width="0.65"/>
<text x="495.30" y="148.30" font-size="5.5" fill="#2f9a4e" stroke="#2f9a4e" stroke-width="0.18">1.52%</text>
<text x="495.30" y="159.80" font-size="5.5" fill="#d3383a" stroke="#d3383a" stroke-width="0.18">12.6%</text>
<text x="495.30" y="173.75" font-size="5.5" fill="#eab52a" stroke="#eab52a" stroke-width="0.18">13.32%</text>
<text transform="translate(7.5 227.6) scale(1.15 1)" x="0" y="0" font-size="10.8" font-weight="bold">B</text>
<text x="29.40" y="227.60" font-size="8.6" fill="#000" textLength="134.4" lengthAdjust="spacingAndGlyphs" stroke="#000" stroke-width="0.12">Gated on live, singlet cells, HLD-DR<tspan font-size="5" dy="-3.2">+</tspan><tspan dy="3.2">:</tspan></text>
<path transform="scale(0.5)" d="M90 491h0m51 0h0m-25 5h0m-44 2h0m2 6h0m11 2h0m-13 2h0m24 2h0m-13 3h0m6 2h0m32 0h0m-1 3h0m-32 2h0m43 0h0m-59 7h0m48 2h0m-54 1h0m6 0h0m44 0h0m-32 1h0m15 9h0m10 0h0m-2 1h0m4 5h0m-12 2h0m-30 1h0m12 1h0m14 0h0m33 0h0m-62 1h0m49 0h0m-16 4h0m11 1h0m-37 5h0m15 0h0m-12 2h0m51 0h0m-23 1h0m22 0h0m-2 1h0m0 0h0m5 1h0m-49 1h0m-10 3h0m35 0h0m20 1h0m-25 1h0m42 4h0m-42 4h0m27 0h0m-34 5h0m-29 2h0m52 7h0m-33 1h0m57 1h0m-69 4h0m-1 4h0m71 1h0m-47 3h0" stroke="#000" stroke-width="1.20" stroke-linecap="square" fill="none" stroke-opacity="0.45"/>
<path transform="scale(0.5)" d="M130 493h0m3 0h0m-9 1h0m7 0h0m3 0h0m-12 1h0m2 0h0m4 0h0m1 0h0m0 0h0m2 0h0m1 0h0m2 0h0m-16 1h0m8 0h0m3 0h0m1 0h0m-13 1h0m3 0h0m10 0h0m-14 1h0m1 0h0m2 0h0m5 0h0m5 0h0m4 0h0m-10 1h0m3 0h0m3 0h0m0 0h0m0 0h0m1 0h0m3 0h0m-17 1h0m6 0h0m1 0h0m3 0h0m5 0h0m1 0h0m-17 1h0m1 0h0m5 0h0m0 0h0m2 0h0m1 0h0m0 0h0m4 0h0m1 0h0m4 0h0m-24 1h0m4 0h0m5 0h0m11 0h0m-14 1h0m1 0h0m1 0h0m8 0h0m0 0h0m8 0h0m-23 1h0m0 0h0m10 0h0m6 0h0m2 0h0m2 0h0m1 0h0m1 0h0m0 0h0m1 0h0m-24 1h0m4 0h0m3 0h0m2 0h0m11 0h0m2 0h0m3 0h0m0 0h0m-26 1h0m3 0h0m2 0h0m1 0h0m3 0h0m12 0h0m1 0h0m1 0h0m3 0h0m-26 1h0m1 0h0m1 0h0m1 0h0m5 0h0m1 0h0m1 0h0m2 0h0m1 0h0m4 0h0m9 0h0m-23 1h0m3 0h0m2 0h0m1 0h0m0 0h0m2 0h0m10 0h0m-20 1h0m6 0h0m3 0h0m1 0h0m2 0h0m3 0h0m0 0h0m1 0h0m1 0h0m0 0h0m2 0h0m4 0h0m2 0h0m-34 1h0m4 0h0m1 0h0m5 0h0m2 0h0m3 0h0m1 0h0m1 0h0m1 0h0m5 0h0m0 0h0m3 0h0m8 0h0m1 0h0m1 0h0m-37 1h0m2 0h0m9 0h0m6 0h0m4 0h0m13 0h0m-31 1h0m10 0h0m6 0h0m4 0h0m2 0h0m1 0h0m-27 1h0m1 0h0m1 0h0m2 0h0m1 0h0m3 0h0m4 0h0m1 0h0m2 0h0m10 0h0m-30 1h0m9 0h0m0 0h0m1 0h0m8 0h0m1 0h0m1 0h0m18 0h0m0 0h0m1 0h0m1 0h0m1 0h0m-41 1h0m6 0h0m1 0h0m13 0h0m2 0h0m1 0h0m3 0h0m9 0h0m1 0h0m1 0h0m-39 1h0m3 0h0m3 0h0m0 0h0m0 0h0m2 0h0m0 0h0m3 0h0m5 0h0m6 0h0m0 0h0m0 0h0m5 0h0m0 0h0m5 0h0m10 0h0m-42 1h0m3 0h0m4 0h0m8 0h0m3 0h0m4 0h0m2 0h0m8 0h0m1 0h0m-34 1h0m2 0h0m9 0h0m3 0h0m0 0h0m4 0h0m12 0h0m2 0h0m4 0h0m2 0h0m1 0h0m4 0h0m0 0h0m1 0h0m2 0h0m-49 1h0m3 0h0m4 0h0m7 0h0m3 0h0m0 0h0m3 0h0m5 0h0m3 0h0m4 0h0m0 0h0m1 0h0m1 0h0m1 0h0m1 0h0m7 0h0m0 0h0m3 0h0m0 0h0m-42 1h0m1 0h0m2 0h0m2 0h0m4 0h0m0 0h0m5 0h0m0 0h0m1 0h0m3 0h0m2 0h0m0 0h0m0 0h0m3 0h0m1 0h0m1 0h0m4 0h0m2 0h0m6 0h0m2 0h0m3 0h0m-46 1h0m4 0h0m0 0h0m4 0h0m0 0h0m1 0h0m4 0h0m1 0h0m1 0h0m3 0h0m6 0h0m2 0h0m0 0h0m8 0h0m3 0h0m7 0h0m2 0h0m1 0h0m-44 1h0m4 0h0m0 0h0m4 0h0m0 0h0m5 0h0m0 0h0m1 0h0m5 0h0m0 0h0m8 0h0m8 0h0m1 0h0m4 0h0m5 0h0m-49 1h0m1 0h0m1 0h0m6 0h0m4 0h0m2 0h0m2 0h0m2 0h0m1 0h0m4 0h0m2 0h0m4 0h0m1 0h0m4 0h0m1 0h0m2 0h0m7 0h0m-47 1h0m7 0h0m5 0h0m2 0h0m0 0h0m14 0h0m9 0h0m2 0h0m1 0h0m1 0h0m1 0h0m2 0h0m0 0h0m0 0h0m4 0h0m1 0h0m0 0h0m2 0h0m-54 1h0m1 0h0m1 0h0m5 0h0m6 0h0m2 0h0m1 0h0m8 0h0m1 0h0m2 0h0m2 0h0m19 0h0m2 0h0m0 0h0m6 0h0m-53 1h0m4 0h0m1 0h0m5 0h0m8 0h0m3 0h0m2 0h0m3 0h0m1 0h0m0 0h0m9 0h0m3 0h0m11 0h0m1 0h0m0 0h0m1 0h0m-57 1h0m5 0h0m7 0h0m5 0h0m0 0h0m2 0h0m1 0h0m1 0h0m6 0h0m0 0h0m2 0h0m3 0h0m8 0h0m2 0h0m1 0h0m1 0h0m13 0h0m-55 1h0m3 0h0m0 0h0m3 0h0m2 0h0m2 0h0m5 0h0m6 0h0m1 0h0m1 0h0m2 0h0m0 0h0m4 0h0m1 0h0m3 0h0m9 0h0m4 0h0m4 0h0m0 0h0m4 0h0m1 0h0m0 0h0m-46 1h0m11 0h0m0 0h0m8 0h0m0 0h0m4 0h0m1 0h0m3 0h0m2 0h0m1 0h0m2 0h0m2 0h0m0 0h0m3 0h0m6 0h0m-58 1h0m9 0h0m10 0h0m1 0h0m0 0h0m1 0h0m17 0h0m2 0h0m1 0h0m6 0h0m3 0h0m7 0h0m2 0h0m-59 1h0m3 0h0m2 0h0m3 0h0m3 0h0m2 0h0m5 0h0m7 0h0m2 0h0m0 0h0m1 0h0m0 0h0m5 0h0m2 0h0m2 0h0m0 0h0m2 0h0m1 0h0m0 0h0m6 0h0m3 0h0m0 0h0m11 0h0m0 0h0m1 0h0m0 0h0m1 0h0m-63 1h0m3 0h0m2 0h0m1 0h0m1 0h0m2 0h0m5 0h0m3 0h0m1 0h0m3 0h0m2 0h0m6 0h0m1 0h0m4 0h0m2 0h0m1 0h0m1 0h0m2 0h0m7 0h0m9 0h0m0 0h0m3 0h0m-60 1h0m0 0h0m0 0h0m6 0h0m1 0h0m2 0h0m7 0h0m1 0h0m3 0h0m2 0h0m4 0h0m8 0h0m2 0h0m1 0h0m0 0h0m12 0h0m10 0h0m3 0h0m1 0h0m-60 1h0m7 0h0m3 0h0m5 0h0m7 0h0m5 0h0m4 0h0m5 0h0m1 0h0m2 0h0m3 0h0m2 0h0m6 0h0m1 0h0m4 0h0m1 0h0m-47 1h0m1 0h0m2 0h0m1 0h0m5 0h0m0 0h0m7 0h0m2 0h0m2 0h0m7 0h0m0 0h0m7 0h0m2 0h0m0 0h0m3 0h0m0 0h0m0 0h0m3 0h0m-50 1h0m7 0h0m3 0h0m7 0h0m3 0h0m3 0h0m1 0h0m4 0h0m3 0h0m2 0h0m0 0h0m6 0h0m1 0h0m1 0h0m3 0h0m3 0h0m2 0h0m1 0h0m3 0h0m3 0h0m-59 1h0m8 0h0m2 0h0m0 0h0m0 0h0m11 0h0m0 0h0m8 0h0m3 0h0m1 0h0m2 0h0m4 0h0m8 0h0m2 0h0m6 0h0m0 0h0m-51 1h0m2 0h0m1 0h0m2 0h0m12 0h0m9 0h0m0 0h0m1 0h0m1 0h0m17 0h0m0 0h0m4 0h0m0 0h0m4 0h0m5 0h0m-63 1h0m11 0h0m1 0h0m6 0h0m3 0h0m7 0h0m1 0h0m1 0h0m1 0h0m1 0h0m1 0h0m1 0h0m3 0h0m2 0h0m1 0h0m1 0h0m5 0h0m0 0h0m2 0h0m0 0h0m0 0h0m2 0h0m2 0h0m4 0h0m1 0h0m5 0h0m1 0h0m-61 1h0m5 0h0m5 0h0m4 0h0m9 0h0m2 0h0m0 0h0m2 0h0m2 0h0m5 0h0m2 0h0m0 0h0m6 0h0m1 0h0m9 0h0m1 0h0m1 0h0m2 0h0m4 0h0m-59 1h0m1 0h0m1 0h0m1 0h0m13 0h0m7 0h0m2 0h0m19 0h0m6 0h0m5 0h0m1 0h0m-53 1h0m4 0h0m1 0h0m16 0h0m2 0h0m2 0h0m9 0h0m0 0h0m1 0h0m2 0h0m0 0h0m1 0h0m0 0h0m4 0h0m0 0h0m7 0h0m5 0h0m-62 1h0m3 0h0m3 0h0m1 0h0m0 0h0m4 0h0m1 0h0m4 0h0m8 0h0m1 0h0m3 0h0m1 0h0m2 0h0m6 0h0m1 0h0m5 0h0m3 0h0m7 0h0m3 0h0m3 0h0m2 0h0m0 0h0m-60 1h0m1 0h0m9 0h0m1 0h0m1 0h0m6 0h0m5 0h0m1 0h0m0 0h0m0 0h0m4 0h0m5 0h0m2 0h0m6 0h0m11 0h0m5 0h0m-56 1h0m7 0h0m2 0h0m13 0h0m3 0h0m1 0h0m3 0h0m0 0h0m3 0h0m2 0h0m3 0h0m4 0h0m4 0h0m2 0h0m4 0h0m-55 1h0m1 0h0m2 0h0m0 0h0m1 0h0m1 0h0m2 0h0m1 0h0m4 0h0m3 0h0m1 0h0m1 0h0m0 0h0m4 0h0m1 0h0m1 0h0m3 0h0m1 0h0m3 0h0m4 0h0m2 0h0m1 0h0m0 0h0m0 0h0m6 0h0m1 0h0m2 0h0m14 0h0m2 0h0m1 0h0m0 0h0m1 0h0m2 0h0m-63 1h0m2 0h0m8 0h0m3 0h0m9 0h0m1 0h0m0 0h0m7 0h0m1 0h0m2 0h0m7 0h0m2 0h0m5 0h0m4 0h0m2 0h0m3 0h0m5 0h0m-59 1h0m1 0h0m7 0h0m0 0h0m0 0h0m0 0h0m9 0h0m1 0h0m4 0h0m4 0h0m1 0h0m1 0h0m3 0h0m6 0h0m2 0h0m7 0h0m3 0h0m1 0h0m4 0h0m6 0h0m-63 1h0m3 0h0m1 0h0m7 0h0m9 0h0m0 0h0m8 0h0m1 0h0m5 0h0m1 0h0m0 0h0m6 0h0m1 0h0m9 0h0m0 0h0m0 0h0m0 0h0m2 0h0m1 0h0m0 0h0m5 0h0m4 0h0m-61 1h0m5 0h0m0 0h0m5 0h0m6 0h0m12 0h0m1 0h0m0 0h0m2 0h0m7 0h0m10 0h0m3 0h0m1 0h0m3 0h0m2 0h0m0 0h0m1 0h0m0 0h0m2 0h0m-66 1h0m5 0h0m2 0h0m3 0h0m4 0h0m0 0h0m0 0h0m3 0h0m0 0h0m0 0h0m1 0h0m0 0h0m2 0h0m2 0h0m6 0h0m1 0h0m4 0h0m6 0h0m8 0h0m4 0h0m2 0h0m7 0h0m0 0h0m-56 1h0m3 0h0m3 0h0m5 0h0m0 0h0m1 0h0m3 0h0m9 0h0m2 0h0m0 0h0m4 0h0m1 0h0m3 0h0m4 0h0m1 0h0m3 0h0m4 0h0m5 0h0m2 0h0m4 0h0m2 0h0m3 0h0m0 0h0m-60 1h0m3 0h0m1 0h0m13 0h0m0 0h0m8 0h0m7 0h0m6 0h0m8 0h0m4 0h0m2 0h0m7 0h0m1 0h0m-66 1h0m0 0h0m9 0h0m2 0h0m3 0h0m3 0h0m9 0h0m5 0h0m3 0h0m1 0h0m3 0h0m0 0h0m1 0h0m8 0h0m2 0h0m0 0h0m3 0h0m1 0h0m1 0h0m3 0h0m3 0h0m3 0h0m-62 1h0m0 0h0m4 0h0m4 0h0m1 0h0m2 0h0m2 0h0m2 0h0m5 0h0m2 0h0m3 0h0m2 0h0m3 0h0m4 0h0m0 0h0m5 0h0m1 0h0m3 0h0m1 0h0m1 0h0m2 0h0m2 0h0m0 0h0m4 0h0m9 0h0m1 0h0m2 0h0m-67 1h0m0 0h0m7 0h0m7 0h0m5 0h0m1 0h0m6 0h0m10 0h0m5 0h0m2 0h0m2 0h0m1 0h0m2 0h0m11 0h0m1 0h0m2 0h0m2 0h0m-64 1h0m0 0h0m1 0h0m1 0h0m2 0h0m3 0h0m2 0h0m1 0h0m0 0h0m5 0h0m2 0h0m1 0h0m3 0h0m5 0h0m0 0h0m3 0h0m7 0h0m3 0h0m3 0h0m1 0h0m2 0h0m5 0h0m3 0h0m2 0h0m2 0h0m7 0h0m-60 1h0m0 0h0m6 0h0m8 0h0m2 0h0m2 0h0m1 0h0m10 0h0m4 0h0m2 0h0m5 0h0m15 0h0m5 0h0m2 0h0m2 0h0m-64 1h0m0 0h0m1 0h0m5 0h0m1 0h0m1 0h0m1 0h0m1 0h0m0 0h0m1 0h0m1 0h0m6 0h0m1 0h0m11 0h0m3 0h0m1 0h0m1 0h0m0 0h0m7 0h0m10 0h0m1 0h0m2 0h0m0 0h0m8 0h0m0 0h0m-63 1h0m5 0h0m0 0h0m6 0h0m0 0h0m3 0h0m1 0h0m1 0h0m8 0h0m12 0h0m13 0h0m1 0h0m1 0h0m0 0h0m2 0h0m8 0h0m-67 1h0m8 0h0m6 0h0m1 0h0m9 0h0m5 0h0m13 0h0m12 0h0m0 0h0m5 0h0m3 0h0m6 0h0m-63 1h0m3 0h0m9 0h0m3 0h0m1 0h0m5 0h0m1 0h0m2 0h0m2 0h0m1 0h0m9 0h0m4 0h0m1 0h0m1 0h0m2 0h0m6 0h0m2 0h0m11 0h0m-68 1h0m3 0h0m0 0h0m5 0h0m1 0h0m5 0h0m16 0h0m9 0h0m1 0h0m5 0h0m2 0h0m2 0h0m1 0h0m12 0h0m5 0h0m1 0h0m0 0h0m-64 1h0m0 0h0m21 0h0m3 0h0m1 0h0m4 0h0m8 0h0m8 0h0m3 0h0m1 0h0m7 0h0m4 0h0m4 0h0m-68 1h0m1 0h0m0 0h0m1 0h0m6 0h0m1 0h0m2 0h0m2 0h0m1 0h0m5 0h0m1 0h0m3 0h0m4 0h0m1 0h0m0 0h0m3 0h0m6 0h0m4 0h0m2 0h0m4 0h0m5 0h0m2 0h0m2 0h0m9 0h0m2 0h0m2 0h0m-66 1h0m10 0h0m8 0h0m4 0h0m0 0h0m9 0h0m2 0h0m0 0h0m2 0h0m2 0h0m4 0h0m4 0h0m3 0h0m2 0h0m2 0h0m2 0h0m1 0h0m0 0h0m3 0h0m0 0h0m-58 1h0m1 0h0m0 0h0m5 0h0m5 0h0m5 0h0m0 0h0m3 0h0m4 0h0m0 0h0m7 0h0m1 0h0m0 0h0m6 0h0m8 0h0m4 0h0m2 0h0m11 0h0m1 0h0m3 0h0m0 0h0m-69 1h0m7 0h0m3 0h0m4 0h0m1 0h0m2 0h0m8 0h0m1 0h0m4 0h0m1 0h0m6 0h0m1 0h0m8 0h0m2 0h0m4 0h0m0 0h0m1 0h0m1 0h0m6 0h0m3 0h0m0 0h0m2 0h0m0 0h0m1 0h0m-64 1h0m1 0h0m7 0h0m3 0h0m4 0h0m4 0h0m1 0h0m2 0h0m2 0h0m1 0h0m3 0h0m3 0h0m2 0h0m7 0h0m4 0h0m14 0h0m4 0h0m2 0h0m3 0h0m-68 1h0m8 0h0m0 0h0m7 0h0m1 0h0m6 0h0m5 0h0m1 0h0m1 0h0m7 0h0m2 0h0m4 0h0m1 0h0m4 0h0m6 0h0m13 0h0m-67 1h0m2 0h0m0 0h0m1 0h0m2 0h0m6 0h0m4 0h0m1 0h0m2 0h0m2 0h0m8 0h0m5 0h0m7 0h0m1 0h0m2 0h0m5 0h0m2 0h0m4 0h0m3 0h0m1 0h0m3 0h0m2 0h0m3 0h0m-65 1h0m0 0h0m8 0h0m6 0h0m1 0h0m4 0h0m2 0h0m1 0h0m3 0h0m2 0h0m1 0h0m1 0h0m14 0h0m4 0h0m2 0h0m9 0h0m5 0h0m4 0h0m-68 1h0m2 0h0m16 0h0m9 0h0m2 0h0m3 0h0m4 0h0m1 0h0m6 0h0m0 0h0m11 0h0m0 0h0m2 0h0m5 0h0m3 0h0m1 0h0m-56 1h0m1 0h0m1 0h0m2 0h0m0 0h0m7 0h0m0 0h0m0 0h0m1 0h0m2 0h0m2 0h0m5 0h0m1 0h0m8 0h0m4 0h0m0 0h0m4 0h0m2 0h0m3 0h0m2 0h0m6 0h0m5 0h0m1 0h0m1 0h0m-65 1h0m2 0h0m1 0h0m1 0h0m0 0h0m2 0h0m0 0h0m2 0h0m2 0h0m2 0h0m5 0h0m4 0h0m4 0h0m5 0h0m1 0h0m1 0h0m0 0h0m0 0h0m1 0h0m4 0h0m3 0h0m11 0h0m6 0h0m8 0h0m-62 1h0m0 0h0m0 0h0m5 0h0m1 0h0m0 0h0m10 0h0m1 0h0m3 0h0m1 0h0m2 0h0m3 0h0m3 0h0m0 0h0m7 0h0m3 0h0m0 0h0m4 0h0m2 0h0m1 0h0m6 0h0m11 0h0m-68 1h0m1 0h0m0 0h0m1 0h0m3 0h0m2 0h0m1 0h0m1 0h0m2 0h0m1 0h0m1 0h0m6 0h0m1 0h0m0 0h0m1 0h0m1 0h0m0 0h0m1 0h0m0 0h0m2 0h0m0 0h0m0 0h0m1 0h0m1 0h0m0 0h0m2 0h0m4 0h0m13 0h0m2 0h0m1 0h0m0 0h0m3 0h0m1 0h0m1 0h0m1 0h0m2 0h0m4 0h0m1 0h0m1 0h0m-64 1h0m1 0h0m1 0h0m1 0h0m0 0h0m2 0h0m5 0h0m0 0h0m0 0h0m0 0h0m1 0h0m4 0h0m4 0h0m1 0h0m2 0h0m0 0h0m0 0h0m2 0h0m1 0h0m1 0h0m0 0h0m3 0h0m0 0h0m1 0h0m0 0h0m6 0h0m12 0h0m4 0h0m1 0h0m8 0h0m3 0h0m-63 1h0m2 0h0m1 0h0m1 0h0m1 0h0m4 0h0m1 0h0m13 0h0m2 0h0m1 0h0m6 0h0m0 0h0m2 0h0m1 0h0m1 0h0m1 0h0m1 0h0m7 0h0m3 0h0m0 0h0m15 0h0m0 0h0m2 0h0m-65 1h0m1 0h0m2 0h0m0 0h0m3 0h0m1 0h0m1 0h0m1 0h0m0 0h0m0 0h0m2 0h0m4 0h0m2 0h0m3 0h0m1 0h0m1 0h0m1 0h0m6 0h0m1 0h0m2 0h0m3 0h0m1 0h0m8 0h0m8 0h0m1 0h0m0 0h0m0 0h0m0 0h0m2 0h0m2 0h0m5 0h0m2 0h0m1 0h0m3 0h0m-68 1h0m0 0h0m1 0h0m8 0h0m2 0h0m0 0h0m3 0h0m1 0h0m1 0h0m5 0h0m1 0h0m1 0h0m1 0h0m9 0h0m0 0h0m1 0h0m0 0h0m4 0h0m6 0h0m1 0h0m1 0h0m5 0h0m1 0h0m5 0h0m3 0h0m2 0h0m2 0h0m1 0h0m1 0h0m-64 1h0m0 0h0m0 0h0m1 0h0m4 0h0m1 0h0m3 0h0m6 0h0m2 0h0m1 0h0m1 0h0m0 0h0m3 0h0m3 0h0m1 0h0m5 0h0m3 0h0m3 0h0m3 0h0m4 0h0m0 0h0m6 0h0m4 0h0m3 0h0m3 0h0m0 0h0m1 0h0m3 0h0m-63 1h0m4 0h0m4 0h0m2 0h0m6 0h0m5 0h0m2 0h0m0 0h0m0 0h0m1 0h0m2 0h0m2 0h0m3 0h0m3 0h0m4 0h0m3 0h0m11 0h0m0 0h0m8 0h0m1 0h0m1 0h0m1 0h0m-65 1h0m2 0h0m2 0h0m2 0h0m7 0h0m3 0h0m2 0h0m1 0h0m1 0h0m1 0h0m1 0h0m2 0h0m2 0h0m3 0h0m4 0h0m3 0h0m5 0h0m2 0h0m0 0h0m1 0h0m4 0h0m2 0h0m3 0h0m8 0h0m0 0h0m1 0h0m2 0h0m-64 1h0m5 0h0m0 0h0m7 0h0m0 0h0m3 0h0m1 0h0m1 0h0m2 0h0m1 0h0m1 0h0m2 0h0m3 0h0m1 0h0m2 0h0m1 0h0m1 0h0m1 0h0m8 0h0m2 0h0m4 0h0m4 0h0m5 0h0m2 0h0m2 0h0m2 0h0m3 0h0m-64 1h0m2 0h0m1 0h0m0 0h0m2 0h0m3 0h0m4 0h0m2 0h0m2 0h0m2 0h0m8 0h0m3 0h0m1 0h0m1 0h0m1 0h0m1 0h0m1 0h0m0 0h0m1 0h0m0 0h0m4 0h0m10 0h0m10 0h0m2 0h0m0 0h0m-59 1h0m4 0h0m1 0h0m3 0h0m0 0h0m2 0h0m1 0h0m0 0h0m3 0h0m1 0h0m1 0h0m1 0h0m2 0h0m0 0h0m2 0h0m0 0h0m1 0h0m2 0h0m1 0h0m1 0h0m4 0h0m3 0h0m1 0h0m4 0h0m3 0h0m0 0h0m10 0h0m0 0h0m-55 1h0m3 0h0m0 0h0m0 0h0m3 0h0m1 0h0m1 0h0m0 0h0m2 0h0m0 0h0m1 0h0m5 0h0m2 0h0m4 0h0m1 0h0m4 0h0m2 0h0m2 0h0m1 0h0m1 0h0m0 0h0m0 0h0m1 0h0m4 0h0m0 0h0m1 0h0m1 0h0m5 0h0m5 0h0m12 0h0m5 0h0m-65 1h0m0 0h0m6 0h0m0 0h0m2 0h0m1 0h0m8 0h0m1 0h0m7 0h0m0 0h0m4 0h0m0 0h0m1 0h0m3 0h0m3 0h0m5 0h0m5 0h0m11 0h0m-55 1h0m0 0h0m1 0h0m6 0h0m0 0h0m1 0h0m1 0h0m3 0h0m1 0h0m2 0h0m0 0h0m1 0h0m4 0h0m3 0h0m0 0h0m0 0h0m1 0h0m1 0h0m0 0h0m1 0h0m0 0h0m3 0h0m0 0h0m0 0h0m2 0h0m4 0h0m7 0h0m1 0h0m4 0h0m1 0h0m2 0h0m2 0h0m2 0h0m1 0h0m3 0h0m1 0h0m4 0h0m0 0h0m-65 1h0m3 0h0m1 0h0m0 0h0m1 0h0m5 0h0m2 0h0m1 0h0m4 0h0m0 0h0m5 0h0m1 0h0m0 0h0m4 0h0m8 0h0m2 0h0m4 0h0m4 0h0m7 0h0m2 0h0m4 0h0m-59 1h0m4 0h0m0 0h0m0 0h0m1 0h0m0 0h0m1 0h0m1 0h0m0 0h0m1 0h0m0 0h0m1 0h0m1 0h0m4 0h0m1 0h0m10 0h0m5 0h0m1 0h0m1 0h0m2 0h0m0 0h0m4 0h0m1 0h0m0 0h0m13 0h0m5 0h0m3 0h0m3 0h0m1 0h0m0 0h0m1 0h0m-63 1h0m2 0h0m1 0h0m5 0h0m2 0h0m0 0h0m0 0h0m0 0h0m1 0h0m1 0h0m3 0h0m2 0h0m2 0h0m7 0h0m1 0h0m1 0h0m7 0h0m0 0h0m0 0h0m3 0h0m6 0h0m5 0h0m2 0h0m0 0h0m2 0h0m1 0h0m2 0h0m6 0h0m-62 1h0m4 0h0m1 0h0m2 0h0m1 0h0m0 0h0m1 0h0m2 0h0m0 0h0m1 0h0m2 0h0m0 0h0m3 0h0m5 0h0m2 0h0m1 0h0m1 0h0m2 0h0m1 0h0m0 0h0m6 0h0m1 0h0m6 0h0m0 0h0m4 0h0m6 0h0m2 0h0m1 0h0m2 0h0m-59 1h0m2 0h0m1 0h0m1 0h0m1 0h0m0 0h0m1 0h0m1 0h0m0 0h0m2 0h0m5 0h0m3 0h0m1 0h0m0 0h0m4 0h0m1 0h0m2 0h0m0 0h0m1 0h0m3 0h0m2 0h0m2 0h0m2 0h0m1 0h0m4 0h0m2 0h0m1 0h0m8 0h0m0 0h0m2 0h0m2 0h0m1 0h0m1 0h0m0 0h0m3 0h0m3 0h0m1 0h0m-60 1h0m3 0h0m1 0h0m0 0h0m1 0h0m1 0h0m1 0h0m0 0h0m0 0h0m0 0h0m2 0h0m2 0h0m3 0h0m8 0h0m1 0h0m5 0h0m0 0h0m3 0h0m5 0h0m4 0h0m5 0h0m4 0h0m0 0h0m12 0h0m-65 1h0m1 0h0m1 0h0m3 0h0m1 0h0m4 0h0m1 0h0m1 0h0m1 0h0m2 0h0m2 0h0m1 0h0m1 0h0m1 0h0m0 0h0m5 0h0m4 0h0m1 0h0m2 0h0m0 0h0m1 0h0m2 0h0m6 0h0m10 0h0m1 0h0m8 0h0m1 0h0m4 0h0m-65 1h0m0 0h0m1 0h0m3 0h0m2 0h0m4 0h0m0 0h0m2 0h0m1 0h0m0 0h0m4 0h0m3 0h0m1 0h0m3 0h0m1 0h0m2 0h0m2 0h0m2 0h0m4 0h0m0 0h0m5 0h0m1 0h0m3 0h0m0 0h0m1 0h0m2 0h0m3 0h0m2 0h0m0 0h0m6 0h0m4 0h0m1 0h0m2 0h0m-65 1h0m4 0h0m4 0h0m1 0h0m1 0h0m0 0h0m0 0h0m4 0h0m4 0h0m2 0h0m2 0h0m2 0h0m1 0h0m3 0h0m1 0h0m1 0h0m6 0h0m3 0h0m1 0h0m3 0h0m1 0h0m2 0h0m4 0h0m1 0h0m2 0h0m2 0h0m5 0h0m-57 1h0m3 0h0m1 0h0m2 0h0m11 0h0m0 0h0m3 0h0m4 0h0m0 0h0m4 0h0m1 0h0m2 0h0m2 0h0m5 0h0m1 0h0m3 0h0m5 0h0m5 0h0m1 0h0m0 0h0m1 0h0m2 0h0m-59 1h0m1 0h0m0 0h0m4 0h0m0 0h0m1 0h0m5 0h0m1 0h0m2 0h0m0 0h0m1 0h0m2 0h0m1 0h0m1 0h0m5 0h0m3 0h0m2 0h0m0 0h0m0 0h0m2 0h0m3 0h0m1 0h0m2 0h0m4 0h0m0 0h0m5 0h0m3 0h0m2 0h0m0 0h0m6 0h0m1 0h0m0 0h0m3 0h0m1 0h0m-61 1h0m5 0h0m7 0h0m0 0h0m1 0h0m2 0h0m4 0h0m4 0h0m1 0h0m4 0h0m2 0h0m1 0h0m2 0h0m5 0h0m7 0h0m0 0h0m2 0h0m6 0h0m2 0h0m6 0h0m-62 1h0m3 0h0m2 0h0m1 0h0m1 0h0m2 0h0m1 0h0m3 0h0m1 0h0m0 0h0m2 0h0m3 0h0m0 0h0m4 0h0m0 0h0m3 0h0m1 0h0m3 0h0m2 0h0m0 0h0m2 0h0m4 0h0m3 0h0m1 0h0m7 0h0m5 0h0m2 0h0m1 0h0m4 0h0m1 0h0m-61 1h0m1 0h0m2 0h0m1 0h0m2 0h0m0 0h0m1 0h0m1 0h0m2 0h0m2 0h0m1 0h0m1 0h0m6 0h0m9 0h0m1 0h0m1 0h0m4 0h0m2 0h0m4 0h0m1 0h0m1 0h0m3 0h0m1 0h0m-44 1h0m1 0h0m5 0h0m1 0h0m1 0h0m2 0h0m1 0h0m2 0h0m1 0h0m2 0h0m0 0h0m2 0h0m1 0h0m1 0h0m0 0h0m2 0h0m8 0h0m0 0h0m1 0h0m8 0h0m1 0h0m1 0h0m2 0h0m0 0h0m0 0h0m2 0h0m4 0h0m1 0h0m1 0h0m2 0h0m1 0h0m-56 1h0m0 0h0m0 0h0m2 0h0m3 0h0m2 0h0m1 0h0m4 0h0m2 0h0m0 0h0m2 0h0m2 0h0m2 0h0m3 0h0m2 0h0m0 0h0m4 0h0m2 0h0m0 0h0m1 0h0m4 0h0m1 0h0m1 0h0m19 0h0m0 0h0m-57 1h0m3 0h0m0 0h0m2 0h0m3 0h0m2 0h0m11 0h0m1 0h0m1 0h0m1 0h0m1 0h0m2 0h0m2 0h0m3 0h0m1 0h0m0 0h0m0 0h0m1 0h0m2 0h0m1 0h0m4 0h0m3 0h0m4 0h0m-48 1h0m1 0h0m2 0h0m1 0h0m2 0h0m0 0h0m6 0h0m1 0h0m0 0h0m4 0h0m3 0h0m3 0h0m0 0h0m1 0h0m3 0h0m1 0h0m3 0h0m1 0h0m4 0h0m18 0h0m-54 1h0m5 0h0m0 0h0m6 0h0m1 0h0m4 0h0m5 0h0m3 0h0m1 0h0m2 0h0m3 0h0m12 0h0m7 0h0m-51 1h0m2 0h0m0 0h0m3 0h0m2 0h0m4 0h0m1 0h0m3 0h0m1 0h0m1 0h0m3 0h0m0 0h0m1 0h0m0 0h0m0 0h0m1 0h0m1 0h0m4 0h0m0 0h0m1 0h0m2 0h0m0 0h0m1 0h0m17 0h0m4 0h0m0 0h0m1 0h0m-54 1h0m3 0h0m0 0h0m1 0h0m2 0h0m3 0h0m4 0h0m6 0h0m1 0h0m6 0h0m1 0h0m0 0h0m3 0h0m0 0h0m1 0h0m2 0h0m1 0h0m0 0h0m1 0h0m2 0h0m2 0h0m4 0h0m3 0h0m7 0h0" stroke="#000" stroke-width="1.60" stroke-linecap="square" fill="none" stroke-opacity="0.85"/>
<path transform="scale(0.5)" d="M128 501h0m3 0h0m-4 1h0m2 0h0m-6 1h0m-6 1h0m0 0h0m1 0h0m3 0h0m1 0h0m5 0h0m0 0h0m0 0h0m1 0h0m2 0h0m0 0h0m-11 1h0m0 0h0m1 0h0m2 0h0m0 0h0m0 0h0m2 0h0m2 0h0m1 0h0m0 0h0m1 0h0m-14 1h0m2 0h0m2 0h0m0 0h0m3 0h0m1 0h0m1 0h0m1 0h0m6 0h0m-15 1h0m3 0h0m1 0h0m0 0h0m0 0h0m1 0h0m1 0h0m1 0h0m0 0h0m1 0h0m0 0h0m1 0h0m0 0h0m1 0h0m1 0h0m4 0h0m1 0h0m-17 1h0m2 0h0m2 0h0m4 0h0m2 0h0m1 0h0m0 0h0m5 0h0m-16 1h0m1 0h0m1 0h0m1 0h0m2 0h0m0 0h0m1 0h0m4 0h0m1 0h0m0 0h0m1 0h0m2 0h0m1 0h0m1 0h0m0 0h0m-16 1h0m3 0h0m1 0h0m0 0h0m1 0h0m0 0h0m1 0h0m0 0h0m1 0h0m0 0h0m4 0h0m2 0h0m0 0h0m0 0h0m4 0h0m-11 1h0m0 0h0m1 0h0m0 0h0m2 0h0m1 0h0m0 0h0m1 0h0m4 0h0m0 0h0m0 0h0m-19 1h0m1 0h0m4 0h0m1 0h0m3 0h0m0 0h0m0 0h0m0 0h0m2 0h0m2 0h0m0 0h0m0 0h0m1 0h0m0 0h0m1 0h0m0 0h0m1 0h0m1 0h0m0 0h0m0 0h0m1 0h0m0 0h0m2 0h0m-18 1h0m1 0h0m0 0h0m0 0h0m2 0h0m0 0h0m3 0h0m1 0h0m11 0h0m1 0h0m-23 1h0m1 0h0m2 0h0m3 0h0m1 0h0m0 0h0m1 0h0m1 0h0m0 0h0m3 0h0m0 0h0m1 0h0m1 0h0m0 0h0m1 0h0m2 0h0m0 0h0m2 0h0m3 0h0m-22 1h0m1 0h0m0 0h0m1 0h0m1 0h0m1 0h0m1 0h0m4 0h0m1 0h0m0 0h0m1 0h0m0 0h0m1 0h0m1 0h0m0 0h0m6 0h0m1 0h0m0 0h0m2 0h0m0 0h0m-22 1h0m2 0h0m1 0h0m0 0h0m1 0h0m2 0h0m1 0h0m1 0h0m1 0h0m1 0h0m1 0h0m5 0h0m0 0h0m1 0h0m2 0h0m1 0h0m1 0h0m2 0h0m-24 1h0m0 0h0m2 0h0m1 0h0m1 0h0m3 0h0m1 0h0m0 0h0m4 0h0m2 0h0m1 0h0m3 0h0m2 0h0m1 0h0m0 0h0m0 0h0m3 0h0m0 0h0m1 0h0m-27 1h0m2 0h0m3 0h0m1 0h0m2 0h0m3 0h0m1 0h0m1 0h0m5 0h0m2 0h0m4 0h0m1 0h0m1 0h0m0 0h0m0 0h0m1 0h0m-27 1h0m2 0h0m0 0h0m3 0h0m4 0h0m2 0h0m0 0h0m0 0h0m0 0h0m3 0h0m3 0h0m3 0h0m2 0h0m1 0h0m1 0h0m2 0h0m-28 1h0m2 0h0m1 0h0m1 0h0m0 0h0m1 0h0m0 0h0m1 0h0m2 0h0m1 0h0m0 0h0m1 0h0m3 0h0m3 0h0m5 0h0m1 0h0m0 0h0m2 0h0m1 0h0m-24 1h0m4 0h0m4 0h0m1 0h0m2 0h0m2 0h0m0 0h0m1 0h0m1 0h0m4 0h0m3 0h0m2 0h0m1 0h0m1 0h0m1 0h0m-26 1h0m0 0h0m1 0h0m3 0h0m2 0h0m2 0h0m0 0h0m1 0h0m2 0h0m0 0h0m3 0h0m3 0h0m2 0h0m1 0h0m0 0h0m2 0h0m2 0h0m0 0h0m0 0h0m1 0h0m1 0h0m-28 1h0m2 0h0m0 0h0m2 0h0m3 0h0m0 0h0m4 0h0m2 0h0m0 0h0m0 0h0m2 0h0m0 0h0m3 0h0m2 0h0m3 0h0m1 0h0m2 0h0m0 0h0m1 0h0m0 0h0m-29 1h0m1 0h0m0 0h0m1 0h0m0 0h0m3 0h0m1 0h0m1 0h0m1 0h0m4 0h0m3 0h0m1 0h0m1 0h0m4 0h0m1 0h0m0 0h0m2 0h0m0 0h0m2 0h0m1 0h0m-27 1h0m1 0h0m1 0h0m1 0h0m1 0h0m1 0h0m0 0h0m2 0h0m1 0h0m11 0h0m6 0h0m0 0h0m1 0h0m3 0h0m1 0h0m1 0h0m-31 1h0m1 0h0m1 0h0m2 0h0m1 0h0m2 0h0m0 0h0m2 0h0m1 0h0m1 0h0m1 0h0m0 0h0m2 0h0m1 0h0m4 0h0m1 0h0m0 0h0m3 0h0m1 0h0m2 0h0m0 0h0m2 0h0m1 0h0m1 0h0m0 0h0m-32 1h0m0 0h0m1 0h0m1 0h0m1 0h0m0 0h0m6 0h0m2 0h0m0 0h0m1 0h0m0 0h0m2 0h0m0 0h0m1 0h0m1 0h0m1 0h0m0 0h0m3 0h0m3 0h0m2 0h0m1 0h0m0 0h0m1 0h0m1 0h0m0 0h0m2 0h0m1 0h0m0 0h0m0 0h0m1 0h0m0 0h0m-33 1h0m0 0h0m1 0h0m0 0h0m1 0h0m1 0h0m4 0h0m1 0h0m1 0h0m0 0h0m2 0h0m0 0h0m0 0h0m1 0h0m2 0h0m3 0h0m1 0h0m2 0h0m1 0h0m2 0h0m0 0h0m5 0h0m0 0h0m0 0h0m3 0h0m0 0h0m0 0h0m1 0h0m1 0h0m0 0h0m-33 1h0m0 0h0m5 0h0m2 0h0m8 0h0m1 0h0m1 0h0m3 0h0m3 0h0m3 0h0m0 0h0m1 0h0m0 0h0m0 0h0m4 0h0m0 0h0m1 0h0m-33 1h0m2 0h0m0 0h0m0 0h0m0 0h0m1 0h0m2 0h0m1 0h0m0 0h0m1 0h0m2 0h0m0 0h0m1 0h0m0 0h0m3 0h0m0 0h0m2 0h0m0 0h0m1 0h0m1 0h0m3 0h0m0 0h0m1 0h0m1 0h0m0 0h0m0 0h0m0 0h0m2 0h0m3 0h0m2 0h0m0 0h0m2 0h0m1 0h0m-32 1h0m1 0h0m1 0h0m5 0h0m1 0h0m1 0h0m1 0h0m3 0h0m4 0h0m1 0h0m1 0h0m2 0h0m0 0h0m1 0h0m0 0h0m1 0h0m1 0h0m3 0h0m4 0h0m1 0h0m1 0h0m-34 1h0m1 0h0m0 0h0m0 0h0m1 0h0m1 0h0m0 0h0m2 0h0m1 0h0m2 0h0m5 0h0m0 0h0m1 0h0m1 0h0m2 0h0m3 0h0m0 0h0m1 0h0m3 0h0m3 0h0m2 0h0m4 0h0m1 0h0m0 0h0m-36 1h0m1 0h0m5 0h0m6 0h0m1 0h0m0 0h0m4 0h0m0 0h0m4 0h0m1 0h0m0 0h0m2 0h0m0 0h0m1 0h0m0 0h0m2 0h0m1 0h0m6 0h0m1 0h0m-32 1h0m0 0h0m2 0h0m1 0h0m0 0h0m2 0h0m4 0h0m6 0h0m0 0h0m1 0h0m1 0h0m2 0h0m0 0h0m1 0h0m2 0h0m0 0h0m6 0h0m0 0h0m0 0h0m4 0h0m-36 1h0m1 0h0m1 0h0m1 0h0m0 0h0m2 0h0m2 0h0m2 0h0m0 0h0m2 0h0m0 0h0m1 0h0m0 0h0m0 0h0m0 0h0m2 0h0m3 0h0m1 0h0m1 0h0m1 0h0m0 0h0m0 0h0m2 0h0m4 0h0m5 0h0m1 0h0m0 0h0m1 0h0m1 0h0m0 0h0m-35 1h0m0 0h0m2 0h0m1 0h0m2 0h0m1 0h0m0 0h0m2 0h0m0 0h0m1 0h0m1 0h0m0 0h0m3 0h0m1 0h0m0 0h0m1 0h0m0 0h0m1 0h0m0 0h0m2 0h0m2 0h0m2 0h0m4 0h0m1 0h0m1 0h0m0 0h0m3 0h0m0 0h0m3 0h0m1 0h0m-35 1h0m2 0h0m2 0h0m2 0h0m0 0h0m1 0h0m1 0h0m1 0h0m1 0h0m2 0h0m2 0h0m1 0h0m1 0h0m1 0h0m1 0h0m4 0h0m2 0h0m0 0h0m1 0h0m2 0h0m3 0h0m0 0h0m0 0h0m0 0h0m5 0h0m0 0h0m1 0h0m-36 1h0m2 0h0m1 0h0m2 0h0m2 0h0m1 0h0m1 0h0m1 0h0m2 0h0m0 0h0m2 0h0m3 0h0m1 0h0m4 0h0m3 0h0m1 0h0m3 0h0m2 0h0m1 0h0m0 0h0m1 0h0m1 0h0m2 0h0m0 0h0m0 0h0m-33 1h0m2 0h0m2 0h0m3 0h0m2 0h0m0 0h0m0 0h0m4 0h0m1 0h0m2 0h0m0 0h0m6 0h0m0 0h0m3 0h0m1 0h0m0 0h0m2 0h0m2 0h0m0 0h0m1 0h0m0 0h0m1 0h0m1 0h0m0 0h0m0 0h0m-38 1h0m5 0h0m3 0h0m0 0h0m1 0h0m0 0h0m0 0h0m1 0h0m2 0h0m1 0h0m1 0h0m1 0h0m2 0h0m3 0h0m6 0h0m2 0h0m2 0h0m1 0h0m4 0h0m0 0h0m0 0h0m1 0h0m0 0h0m2 0h0m-40 1h0m3 0h0m1 0h0m0 0h0m1 0h0m0 0h0m1 0h0m2 0h0m2 0h0m4 0h0m1 0h0m2 0h0m1 0h0m2 0h0m1 0h0m4 0h0m0 0h0m2 0h0m0 0h0m1 0h0m1 0h0m2 0h0m1 0h0m4 0h0m1 0h0m0 0h0m1 0h0m0 0h0m2 0h0m-41 1h0m2 0h0m2 0h0m5 0h0m0 0h0m0 0h0m2 0h0m1 0h0m3 0h0m1 0h0m2 0h0m1 0h0m2 0h0m5 0h0m2 0h0m0 0h0m0 0h0m3 0h0m2 0h0m0 0h0m1 0h0m0 0h0m1 0h0m3 0h0m1 0h0m0 0h0m-39 1h0m3 0h0m1 0h0m0 0h0m2 0h0m0 0h0m2 0h0m1 0h0m4 0h0m2 0h0m4 0h0m0 0h0m2 0h0m1 0h0m1 0h0m0 0h0m0 0h0m1 0h0m3 0h0m1 0h0m0 0h0m8 0h0m2 0h0m0 0h0m2 0h0m-40 1h0m0 0h0m0 0h0m3 0h0m0 0h0m1 0h0m5 0h0m0 0h0m0 0h0m0 0h0m2 0h0m1 0h0m0 0h0m1 0h0m2 0h0m1 0h0m0 0h0m1 0h0m2 0h0m2 0h0m1 0h0m0 0h0m1 0h0m0 0h0m4 0h0m1 0h0m1 0h0m0 0h0m2 0h0m0 0h0m2 0h0m1 0h0m1 0h0m0 0h0m1 0h0m3 0h0m-40 1h0m1 0h0m0 0h0m0 0h0m3 0h0m0 0h0m1 0h0m1 0h0m0 0h0m1 0h0m6 0h0m2 0h0m1 0h0m1 0h0m2 0h0m0 0h0m2 0h0m1 0h0m0 0h0m0 0h0m3 0h0m5 0h0m1 0h0m1 0h0m2 0h0m1 0h0m1 0h0m1 0h0m1 0h0m1 0h0m1 0h0m-38 1h0m1 0h0m2 0h0m2 0h0m0 0h0m3 0h0m5 0h0m0 0h0m2 0h0m1 0h0m2 0h0m1 0h0m2 0h0m0 0h0m3 0h0m4 0h0m3 0h0m1 0h0m0 0h0m2 0h0m-36 1h0m1 0h0m2 0h0m0 0h0m0 0h0m3 0h0m1 0h0m1 0h0m0 0h0m1 0h0m2 0h0m1 0h0m0 0h0m0 0h0m1 0h0m2 0h0m1 0h0m2 0h0m2 0h0m0 0h0m1 0h0m1 0h0m1 0h0m1 0h0m2 0h0m2 0h0m0 0h0m1 0h0m0 0h0m2 0h0m2 0h0m1 0h0m0 0h0m0 0h0m1 0h0m0 0h0m2 0h0m0 0h0m-38 1h0m2 0h0m1 0h0m4 0h0m0 0h0m0 0h0m6 0h0m4 0h0m1 0h0m1 0h0m1 0h0m0 0h0m1 0h0m1 0h0m1 0h0m1 0h0m0 0h0m2 0h0m0 0h0m2 0h0m0 0h0m0 0h0m0 0h0m3 0h0m3 0h0m0 0h0m3 0h0m0 0h0m0 0h0m0 0h0m1 0h0m1 0h0m-38 1h0m0 0h0m0 0h0m0 0h0m0 0h0m0 0h0m3 0h0m1 0h0m0 0h0m0 0h0m2 0h0m0 0h0m3 0h0m2 0h0m0 0h0m1 0h0m5 0h0m1 0h0m0 0h0m1 0h0m0 0h0m4 0h0m2 0h0m2 0h0m1 0h0m0 0h0m1 0h0m0 0h0m1 0h0m2 0h0m1 0h0m1 0h0m-35 1h0m0 0h0m0 0h0m1 0h0m1 0h0m1 0h0m2 0h0m2 0h0m1 0h0m1 0h0m1 0h0m1 0h0m2 0h0m2 0h0m2 0h0m2 0h0m0 0h0m0 0h0m0 0h0m1 0h0m5 0h0m2 0h0m0 0h0m1 0h0m2 0h0m0 0h0m1 0h0m0 0h0m1 0h0m1 0h0m1 0h0m3 0h0m0 0h0m0 0h0m0 0h0m-35 1h0m3 0h0m1 0h0m4 0h0m0 0h0m1 0h0m4 0h0m0 0h0m2 0h0m0 0h0m2 0h0m4 0h0m6 0h0m0 0h0m1 0h0m0 0h0m0 0h0m2 0h0m5 0h0m1 0h0m1 0h0m1 0h0m-36 1h0m3 0h0m1 0h0m5 0h0m0 0h0m1 0h0m2 0h0m1 0h0m0 0h0m3 0h0m2 0h0m0 0h0m0 0h0m1 0h0m1 0h0m7 0h0m1 0h0m2 0h0m0 0h0m1 0h0m0 0h0m1 0h0m3 0h0m-39 1h0m3 0h0m2 0h0m3 0h0m0 0h0m1 0h0m0 0h0m3 0h0m1 0h0m2 0h0m1 0h0m1 0h0m0 0h0m2 0h0m4 0h0m0 0h0m1 0h0m1 0h0m1 0h0m4 0h0m0 0h0m5 0h0m3 0h0m1 0h0m0 0h0m1 0h0m-39 1h0m1 0h0m0 0h0m1 0h0m11 0h0m1 0h0m0 0h0m1 0h0m1 0h0m0 0h0m0 0h0m0 0h0m1 0h0m0 0h0m5 0h0m2 0h0m0 0h0m2 0h0m1 0h0m0 0h0m1 0h0m0 0h0m5 0h0m1 0h0m-36 1h0m0 0h0m2 0h0m1 0h0m1 0h0m0 0h0m3 0h0m1 0h0m0 0h0m1 0h0m4 0h0m2 0h0m0 0h0m1 0h0m0 0h0m2 0h0m4 0h0m1 0h0m2 0h0m2 0h0m0 0h0m3 0h0m1 0h0m1 0h0m1 0h0m0 0h0m1 0h0m1 0h0m1 0h0m1 0h0m0 0h0m3 0h0m1 0h0m-42 1h0m1 0h0m3 0h0m3 0h0m0 0h0m0 0h0m1 0h0m0 0h0m3 0h0m4 0h0m2 0h0m1 0h0m0 0h0m1 0h0m0 0h0m2 0h0m0 0h0m1 0h0m1 0h0m2 0h0m1 0h0m0 0h0m1 0h0m2 0h0m0 0h0m0 0h0m2 0h0m0 0h0m3 0h0m1 0h0m1 0h0m1 0h0m2 0h0m0 0h0m0 0h0m1 0h0m-40 1h0m5 0h0m0 0h0m8 0h0m0 0h0m2 0h0m1 0h0m0 0h0m0 0h0m1 0h0m0 0h0m2 0h0m0 0h0m0 0h0m1 0h0m0 0h0m2 0h0m1 0h0m0 0h0m0 0h0m0 0h0m3 0h0m2 0h0m0 0h0m0 0h0m1 0h0m0 0h0m0 0h0m2 0h0m1 0h0m3 0h0m-34 1h0m2 0h0m1 0h0m3 0h0m1 0h0m1 0h0m1 0h0m2 0h0m1 0h0m3 0h0m2 0h0m1 0h0m3 0h0m1 0h0m0 0h0m1 0h0m4 0h0m1 0h0m0 0h0m0 0h0m1 0h0m1 0h0m3 0h0m1 0h0m1 0h0m1 0h0m1 0h0m-37 1h0m0 0h0m1 0h0m0 0h0m5 0h0m2 0h0m0 0h0m1 0h0m2 0h0m3 0h0m3 0h0m4 0h0m0 0h0m1 0h0m3 0h0m2 0h0m1 0h0m0 0h0m3 0h0m0 0h0m2 0h0m2 0h0m0 0h0m1 0h0m2 0h0m-38 1h0m6 0h0m1 0h0m5 0h0m1 0h0m3 0h0m5 0h0m1 0h0m1 0h0m2 0h0m2 0h0m5 0h0m1 0h0m4 0h0m1 0h0m-38 1h0m0 0h0m1 0h0m1 0h0m0 0h0m0 0h0m8 0h0m0 0h0m3 0h0m0 0h0m2 0h0m1 0h0m2 0h0m2 0h0m1 0h0m0 0h0m2 0h0m1 0h0m1 0h0m4 0h0m0 0h0m0 0h0m3 0h0m1 0h0m1 0h0m0 0h0m-36 1h0m4 0h0m2 0h0m3 0h0m1 0h0m1 0h0m4 0h0m0 0h0m2 0h0m0 0h0m1 0h0m6 0h0m1 0h0m3 0h0m2 0h0m2 0h0m3 0h0m1 0h0m1 0h0m2 0h0m-36 1h0m2 0h0m1 0h0m1 0h0m1 0h0m0 0h0m1 0h0m2 0h0m0 0h0m2 0h0m3 0h0m1 0h0m1 0h0m2 0h0m0 0h0m1 0h0m0 0h0m1 0h0m1 0h0m1 0h0m1 0h0m1 0h0m0 0h0m1 0h0m3 0h0m0 0h0m4 0h0m2 0h0m1 0h0m1 0h0m-33 1h0m1 0h0m4 0h0m2 0h0m0 0h0m3 0h0m0 0h0m3 0h0m0 0h0m2 0h0m4 0h0m1 0h0m2 0h0m0 0h0m0 0h0m2 0h0m0 0h0m1 0h0m0 0h0m0 0h0m3 0h0m0 0h0m1 0h0m1 0h0m2 0h0m-31 1h0m2 0h0m2 0h0m3 0h0m1 0h0m2 0h0m2 0h0m2 0h0m0 0h0m5 0h0m0 0h0m0 0h0m1 0h0m1 0h0m1 0h0m1 0h0m2 0h0m0 0h0m1 0h0m0 0h0m5 0h0m-25 1h0m1 0h0m3 0h0m0 0h0m0 0h0m0 0h0m2 0h0m1 0h0m2 0h0m1 0h0m1 0h0m4 0h0m2 0h0m0 0h0m1 0h0m0 0h0m1 0h0m-20 1h0m0 0h0m1 0h0m0 0h0m4 0h0m1 0h0m0 0h0m3 0h0m2 0h0m1 0h0m0 0h0m2 0h0m0 0h0m1 0h0m0 0h0m0 0h0m3 0h0m1 0h0m1 0h0m-15 1h0m2 0h0m1 0h0m1 0h0m1 0h0m0 0h0m1 0h0m3 0h0m0 0h0m2 0h0m1 0h0m1 0h0m2 0h0m0 0h0m2 0h0m1 0h0m0 0h0m1 0h0m-16 1h0m0 0h0m1 0h0m0 0h0m1 0h0m3 0h0m1 0h0m0 0h0m3 0h0m0 0h0m1 0h0m1 0h0m0 0h0m-5 1h0m4 0h0m0 0h0m1 0h0m0 0h0m2 0h0m-1 1h0m0 0h0m1 0h0m0 0h0" stroke="#000" stroke-width="2.00" stroke-linecap="square" fill="none" stroke-opacity="1.0"/>
<path d="M30.60 237.40V306.20H94.10" stroke="#000" stroke-width="1.1" fill="none"/>
<path d="M29.00 306.20H30.60M30.60 306.20V307.80M29.00 289.00H30.60M46.35 306.20V307.80M29.00 271.80H30.60M62.10 306.20V307.80M29.00 254.60H30.60M77.85 306.20V307.80M29.00 237.40H30.60M93.60 306.20V307.80" stroke="#000" stroke-width="0.6" fill="none"/>
<text x="23.00" y="308.40" font-size="6.2" text-anchor="middle" fill="#000" stroke="#000" stroke-width="0.15" textLength="8.0" lengthAdjust="spacingAndGlyphs">10<tspan font-size="2.79" dy="-2.23" stroke-width="0.05">0</tspan></text>
<text x="31.40" y="315.70" font-size="6.2" text-anchor="middle" fill="#000" stroke="#000" stroke-width="0.15" textLength="8.0" lengthAdjust="spacingAndGlyphs">10<tspan font-size="2.79" dy="-2.23" stroke-width="0.05">0</tspan></text>
<text x="23.00" y="291.20" font-size="6.2" text-anchor="middle" fill="#000" stroke="#000" stroke-width="0.15" textLength="8.0" lengthAdjust="spacingAndGlyphs">10<tspan font-size="2.79" dy="-2.23" stroke-width="0.05">1</tspan></text>
<text x="47.15" y="315.70" font-size="6.2" text-anchor="middle" fill="#000" stroke="#000" stroke-width="0.15" textLength="8.0" lengthAdjust="spacingAndGlyphs">10<tspan font-size="2.79" dy="-2.23" stroke-width="0.05">1</tspan></text>
<text x="23.00" y="274.00" font-size="6.2" text-anchor="middle" fill="#000" stroke="#000" stroke-width="0.15" textLength="8.0" lengthAdjust="spacingAndGlyphs">10<tspan font-size="2.79" dy="-2.23" stroke-width="0.05">2</tspan></text>
<text x="62.90" y="315.70" font-size="6.2" text-anchor="middle" fill="#000" stroke="#000" stroke-width="0.15" textLength="8.0" lengthAdjust="spacingAndGlyphs">10<tspan font-size="2.79" dy="-2.23" stroke-width="0.05">2</tspan></text>
<text x="23.00" y="256.80" font-size="6.2" text-anchor="middle" fill="#000" stroke="#000" stroke-width="0.15" textLength="8.0" lengthAdjust="spacingAndGlyphs">10<tspan font-size="2.79" dy="-2.23" stroke-width="0.05">3</tspan></text>
<text x="78.65" y="315.70" font-size="6.2" text-anchor="middle" fill="#000" stroke="#000" stroke-width="0.15" textLength="8.0" lengthAdjust="spacingAndGlyphs">10<tspan font-size="2.79" dy="-2.23" stroke-width="0.05">3</tspan></text>
<text x="23.00" y="239.60" font-size="6.2" text-anchor="middle" fill="#000" stroke="#000" stroke-width="0.15" textLength="8.0" lengthAdjust="spacingAndGlyphs">10<tspan font-size="2.79" dy="-2.23" stroke-width="0.05">4</tspan></text>
<text x="94.40" y="315.70" font-size="6.2" text-anchor="middle" fill="#000" stroke="#000" stroke-width="0.15" textLength="8.0" lengthAdjust="spacingAndGlyphs">10<tspan font-size="2.79" dy="-2.23" stroke-width="0.05">4</tspan></text>
<path transform="scale(0.5)" d="M313 477h0m33 0h0m0 1h0m-22 1h0m56 0h0m-81 2h0m26 0h0m41 8h0m-27 4h0m-18 2h0m-9 4h0m36 1h0m17 2h0m-69 5h0m94 2h0m-58 1h0m40 1h0m-40 3h0m-34 5h0m-10 1h0m81 0h0m0 1h0m14 0h0m-16 1h0m-67 1h0m99 0h0m-91 3h0m15 1h0m40 2h0m-60 2h0m31 1h0m22 3h0m-10 2h0m-19 7h0m-2 4h0m25 2h0m45 0h0m-49 5h0m-54 3h0m106 3h0m-64 2h0m30 1h0m-44 1h0m68 0h0m-91 2h0m36 0h0m57 10h0m1 0h0m6 1h0m-39 1h0m-61 10h0m-4 4h0m34 1h0m47 4h0m-36 2h0m22 1h0m-19 2h0m23 1h0m-1 1h0m20 5h0" stroke="#000" stroke-width="1.20" stroke-linecap="square" fill="none" stroke-opacity="0.45"/>
<path transform="scale(0.5)" d="M346 477h0m2 0h0m4 0h0m0 0h0m2 0h0m-12 1h0m5 0h0m2 0h0m3 0h0m0 0h0m-13 1h0m1 0h0m2 0h0m1 0h0m3 0h0m1 0h0m0 0h0m5 0h0m1 0h0m1 0h0m-15 1h0m4 0h0m1 0h0m0 0h0m1 0h0m0 0h0m3 0h0m6 0h0m-15 1h0m4 0h0m0 0h0m5 0h0m6 0h0m-15 1h0m1 0h0m1 0h0m6 0h0m2 0h0m1 0h0m0 0h0m1 0h0m1 0h0m3 0h0m-16 1h0m1 0h0m0 0h0m5 0h0m1 0h0m4 0h0m1 0h0m2 0h0m-18 1h0m0 0h0m2 0h0m6 0h0m0 0h0m0 0h0m6 0h0m5 0h0m0 0h0m-18 1h0m5 0h0m2 0h0m1 0h0m6 0h0m2 0h0m4 0h0m-17 1h0m7 0h0m4 0h0m-14 1h0m2 0h0m0 0h0m0 0h0m7 0h0m4 0h0m1 0h0m-15 1h0m4 0h0m5 0h0m7 0h0m1 0h0m1 0h0m3 0h0m-19 1h0m0 0h0m6 0h0m2 0h0m2 0h0m3 0h0m4 0h0m-17 1h0m2 0h0m1 0h0m1 0h0m1 0h0m0 0h0m3 0h0m4 0h0m2 0h0m1 0h0m0 0h0m0 0h0m-12 1h0m0 0h0m3 0h0m6 0h0m4 0h0m-14 1h0m3 0h0m6 0h0m2 0h0m2 0h0m2 0h0m-19 1h0m1 0h0m0 0h0m3 0h0m6 0h0m1 0h0m0 0h0m1 0h0m1 0h0m1 0h0m3 0h0m3 0h0m2 0h0m-15 1h0m2 0h0m1 0h0m3 0h0m0 0h0m2 0h0m4 0h0m1 0h0m0 0h0m-18 1h0m4 0h0m4 0h0m1 0h0m1 0h0m1 0h0m0 0h0m5 0h0m2 0h0m-8 1h0m4 0h0m1 0h0m1 0h0m3 0h0m1 0h0m-22 1h0m1 0h0m1 0h0m2 0h0m3 0h0m5 0h0m0 0h0m8 0h0m0 0h0m-13 1h0m2 0h0m1 0h0m3 0h0m5 0h0m0 0h0m2 0h0m1 0h0m-21 1h0m3 0h0m0 0h0m1 0h0m2 0h0m1 0h0m2 0h0m2 0h0m1 0h0m1 0h0m6 0h0m3 0h0m-30 1h0m12 0h0m1 0h0m4 0h0m3 0h0m1 0h0m2 0h0m2 0h0m1 0h0m0 0h0m3 0h0m1 0h0m-30 1h0m8 0h0m2 0h0m1 0h0m3 0h0m6 0h0m1 0h0m0 0h0m3 0h0m0 0h0m1 0h0m2 0h0m5 0h0m1 0h0m-32 1h0m5 0h0m3 0h0m0 0h0m1 0h0m1 0h0m0 0h0m2 0h0m1 0h0m0 0h0m4 0h0m1 0h0m0 0h0m1 0h0m2 0h0m0 0h0m3 0h0m1 0h0m2 0h0m0 0h0m1 0h0m-30 1h0m9 0h0m1 0h0m2 0h0m1 0h0m1 0h0m0 0h0m1 0h0m1 0h0m1 0h0m1 0h0m1 0h0m1 0h0m0 0h0m1 0h0m2 0h0m1 0h0m5 0h0m6 0h0m-34 1h0m10 0h0m0 0h0m2 0h0m0 0h0m4 0h0m1 0h0m1 0h0m1 0h0m0 0h0m1 0h0m3 0h0m2 0h0m5 0h0m-28 1h0m8 0h0m3 0h0m4 0h0m1 0h0m0 0h0m0 0h0m0 0h0m2 0h0m0 0h0m1 0h0m2 0h0m1 0h0m0 0h0m2 0h0m2 0h0m0 0h0m4 0h0m-32 1h0m2 0h0m4 0h0m3 0h0m1 0h0m0 0h0m0 0h0m4 0h0m1 0h0m3 0h0m2 0h0m3 0h0m4 0h0m2 0h0m-27 1h0m8 0h0m0 0h0m0 0h0m2 0h0m3 0h0m0 0h0m0 0h0m3 0h0m3 0h0m5 0h0m-27 1h0m5 0h0m8 0h0m4 0h0m2 0h0m3 0h0m1 0h0m1 0h0m1 0h0m1 0h0m0 0h0m1 0h0m1 0h0m-10 1h0m1 0h0m2 0h0m2 0h0m0 0h0m2 0h0m3 0h0m1 0h0m7 0h0m-37 1h0m1 0h0m3 0h0m3 0h0m4 0h0m6 0h0m0 0h0m1 0h0m0 0h0m2 0h0m0 0h0m2 0h0m1 0h0m4 0h0m3 0h0m2 0h0m3 0h0m-32 1h0m8 0h0m1 0h0m1 0h0m0 0h0m3 0h0m2 0h0m2 0h0m2 0h0m0 0h0m2 0h0m1 0h0m7 0h0m-34 1h0m4 0h0m3 0h0m8 0h0m0 0h0m2 0h0m1 0h0m3 0h0m1 0h0m2 0h0m4 0h0m2 0h0m-26 1h0m5 0h0m2 0h0m5 0h0m4 0h0m3 0h0m14 0h0m-34 1h0m5 0h0m2 0h0m9 0h0m21 0h0m-31 1h0m8 0h0m0 0h0m4 0h0m1 0h0m4 0h0m7 0h0m5 0h0m-35 1h0m2 0h0m13 0h0m4 0h0m8 0h0m7 0h0m1 0h0m-38 1h0m6 0h0m5 0h0m13 0h0m7 0h0m5 0h0m1 0h0m1 0h0m-38 1h0m8 0h0m2 0h0m7 0h0m1 0h0m2 0h0m6 0h0m6 0h0m3 0h0m5 0h0m-41 1h0m5 0h0m14 0h0m2 0h0m2 0h0m-4 1h0m2 0h0m1 0h0m3 1h0m4 0h0m2 0h0m0 0h0m4 0h0m3 0h0m3 0h0m-36 1h0m10 0h0m1 0h0m3 0h0m18 0h0m3 0h0m-35 1h0m1 0h0m10 0h0m3 0h0m8 0h0m9 0h0m-31 1h0m10 0h0m5 0h0m14 0h0m-35 1h0m8 0h0m11 0h0m8 0h0m2 0h0m1 0h0m0 0h0m-25 1h0m2 0h0m0 0h0m9 0h0m7 0h0m1 0h0m1 0h0m15 0h0m-20 1h0m4 0h0m8 0h0m5 0h0m-21 1h0m8 0h0m7 0h0m3 0h0m-31 1h0m2 0h0m1 0h0m1 0h0m1 0h0m3 0h0m10 0h0m0 0h0m2 0h0m4 0h0m2 0h0m5 0h0m5 0h0m-42 1h0m10 0h0m7 0h0m13 0h0m0 0h0m0 0h0m2 0h0m3 0h0m1 0h0m-35 1h0m3 0h0m4 0h0m6 0h0m4 0h0m1 0h0m2 0h0m2 0h0m3 0h0m6 0h0m6 0h0m7 0h0m1 0h0m1 0h0m-47 1h0m1 0h0m0 0h0m1 0h0m8 0h0m1 0h0m2 0h0m2 0h0m0 0h0m2 0h0m14 0h0m1 0h0m3 0h0m0 0h0m1 0h0m4 0h0m1 0h0m5 0h0m-27 1h0m8 0h0m10 0h0m7 0h0m-44 1h0m1 0h0m18 0h0m5 0h0m6 0h0m3 0h0m1 0h0m9 0h0m-42 1h0m8 0h0m7 0h0m1 0h0m7 0h0m2 0h0m10 0h0m1 0h0m3 0h0m0 0h0m2 0h0m3 0h0m0 0h0m2 0h0m-47 1h0m1 0h0m12 0h0m4 0h0m10 0h0m5 0h0m11 0h0m1 0h0m-22 1h0m11 0h0m3 0h0m12 0h0m-50 1h0m11 0h0m9 0h0m20 0h0m2 0h0m-34 1h0m1 0h0m3 0h0m9 0h0m2 0h0m8 0h0m3 0h0m4 0h0m5 0h0m-43 1h0m0 0h0m6 0h0m4 0h0m8 0h0m2 0h0m2 0h0m5 0h0m4 0h0m9 0h0m3 0h0m1 0h0m1 0h0m-46 1h0m2 0h0m9 0h0m1 0h0m4 0h0m12 0h0m2 0h0m15 0h0m4 0h0m-50 1h0m9 0h0m0 0h0m1 0h0m1 0h0m7 0h0m11 0h0m2 0h0m3 0h0m8 0h0m0 0h0m10 0h0m-52 1h0m3 0h0m2 0h0m4 0h0m1 0h0m11 0h0m1 0h0m0 0h0m5 0h0m2 0h0m1 0h0m7 0h0m1 0h0m6 0h0m-37 1h0m1 0h0m3 0h0m4 0h0m1 0h0m5 0h0m2 0h0m2 0h0m6 0h0m1 0h0m6 0h0m9 0h0m-45 1h0m2 0h0m3 0h0m2 0h0m4 0h0m1 0h0m30 0h0m8 0h0m2 0h0m-35 1h0m2 0h0m7 0h0m5 0h0m2 0h0m1 0h0m9 0h0m-27 1h0m7 0h0m0 0h0m1 0h0m17 0h0m6 0h0m0 0h0m3 0h0m0 0h0m2 0h0m-50 1h0m2 0h0m14 0h0m5 0h0m2 0h0m3 0h0m0 0h0m1 0h0m1 0h0m8 0h0m2 0h0m8 0h0m-47 1h0m9 0h0m2 0h0m16 0h0m5 0h0m3 0h0m4 0h0m1 0h0m-33 1h0m4 0h0m1 0h0m2 0h0m6 0h0m14 0h0m7 0h0m10 0h0m-49 1h0m2 0h0m9 0h0m2 0h0m6 0h0m14 0h0m2 0h0m13 0h0m2 0h0m-52 1h0m2 0h0m1 0h0m2 0h0m10 0h0m4 0h0m0 0h0m3 0h0m4 0h0m7 0h0m6 0h0m4 0h0m4 0h0m2 0h0m0 0h0m-54 1h0m7 0h0m4 0h0m6 0h0m2 0h0m3 0h0m0 0h0m5 0h0m1 0h0m3 0h0m5 0h0m2 0h0m1 0h0m10 0h0m6 0h0m-56 1h0m8 0h0m4 0h0m1 0h0m0 0h0m7 0h0m8 0h0m11 0h0m6 0h0m2 0h0m5 0h0m-50 1h0m3 0h0m23 0h0m5 0h0m6 0h0m3 0h0m0 0h0m7 0h0m4 0h0m5 0h0m2 0h0m-40 1h0m2 0h0m4 0h0m1 0h0m2 0h0m0 0h0m1 0h0m6 0h0m6 0h0m1 0h0m5 0h0m2 0h0m1 0h0m6 0h0m0 0h0m2 0h0m-56 1h0m4 0h0m5 0h0m21 0h0m12 0h0m2 0h0m1 0h0m5 0h0m-52 1h0m2 0h0m6 0h0m3 0h0m1 0h0m5 0h0m2 0h0m1 0h0m21 0h0m7 0h0m7 0h0m-59 1h0m6 0h0m14 0h0m22 0h0m9 0h0m-46 1h0m8 0h0m6 0h0m8 0h0m0 0h0m1 0h0m2 0h0m2 0h0m27 0h0m0 0h0m1 0h0m-55 1h0m20 0h0m5 0h0m11 0h0m5 0h0m3 0h0m5 0h0m5 0h0m4 0h0m0 0h0m1 0h0m-65 1h0m11 0h0m9 0h0m3 0h0m13 0h0m2 0h0m6 0h0m0 0h0m1 0h0m5 0h0m10 0h0m1 0h0m3 0h0m-61 1h0m9 0h0m2 0h0m6 0h0m8 0h0m18 0h0m3 0h0m5 0h0m4 0h0m5 0h0m-63 1h0m1 0h0m27 0h0m10 0h0m0 0h0m15 0h0m-53 1h0m2 0h0m4 0h0m13 0h0m18 0h0m3 0h0m14 0h0m5 0h0m4 0h0m-64 1h0m0 0h0m4 0h0m2 0h0m4 0h0m3 0h0m1 0h0m11 0h0m16 0h0m9 0h0m4 0h0m10 0h0m-56 1h0m6 0h0m16 0h0m3 0h0m4 0h0m3 0h0m7 0h0m1 0h0m8 0h0m3 0h0m3 0h0m-62 1h0m11 0h0m7 0h0m6 0h0m6 0h0m6 0h0m3 0h0m2 0h0m2 0h0m14 0h0m3 0h0m2 0h0m1 0h0m2 0h0m1 0h0m-66 1h0m12 0h0m15 0h0m14 0h0m3 0h0m8 0h0m8 0h0m-51 1h0m1 0h0m6 0h0m4 0h0m7 0h0m11 0h0m1 0h0m3 0h0m9 0h0m0 0h0m3 0h0m7 0h0m0 0h0m1 0h0m3 0h0m1 0h0m-51 1h0m5 0h0m1 0h0m8 0h0m3 0h0m5 0h0m1 0h0m1 0h0m9 0h0m7 0h0m-53 1h0m5 0h0m1 0h0m3 0h0m9 0h0m0 0h0m3 0h0m4 0h0m0 0h0m2 0h0m4 0h0m7 0h0m10 0h0m3 0h0m6 0h0m-50 1h0m3 0h0m10 0h0m1 0h0m2 0h0m3 0h0m0 0h0m1 0h0m0 0h0m1 0h0m4 0h0m3 0h0m2 0h0m1 0h0m5 0h0m3 0h0m2 0h0m1 0h0m10 0h0m1 0h0m-60 1h0m5 0h0m8 0h0m6 0h0m10 0h0m3 0h0m12 0h0m1 0h0m9 0h0m2 0h0m2 0h0m2 0h0m1 0h0m1 0h0m3 0h0m-65 1h0m4 0h0m2 0h0m3 0h0m2 0h0m8 0h0m1 0h0m3 0h0m3 0h0m8 0h0m20 0h0m3 0h0m1 0h0m0 0h0m6 0h0m3 0h0m-78 1h0m0 0h0m8 0h0m11 0h0m13 0h0m4 0h0m2 0h0m1 0h0m1 0h0m2 0h0m1 0h0m4 0h0m6 0h0m13 0h0m2 0h0m4 0h0m4 0h0m-75 1h0m12 0h0m11 0h0m7 0h0m7 0h0m3 0h0m7 0h0m2 0h0m6 0h0m17 0h0m6 0h0m-79 1h0m6 0h0m8 0h0m15 0h0m4 0h0m8 0h0m12 0h0m10 0h0m0 0h0m7 0h0m4 0h0m6 0h0m-73 1h0m2 0h0m6 0h0m5 0h0m0 0h0m0 0h0m20 0h0m3 0h0m6 0h0m6 0h0m5 0h0m10 0h0m7 0h0m-76 1h0m0 0h0m3 0h0m27 0h0m6 0h0m14 0h0m4 0h0m2 0h0m8 0h0m12 0h0m4 0h0m-75 1h0m9 0h0m3 0h0m0 0h0m14 0h0m3 0h0m3 0h0m2 0h0m9 0h0m16 0h0m15 0h0m-85 1h0m1 0h0m8 0h0m1 0h0m1 0h0m18 0h0m1 0h0m6 0h0m11 0h0m1 0h0m11 0h0m2 0h0m3 0h0m7 0h0m4 0h0m5 0h0m2 0h0m-79 1h0m7 0h0m6 0h0m0 0h0m11 0h0m2 0h0m6 0h0m16 0h0m1 0h0m4 0h0m3 0h0m3 0h0m4 0h0m6 0h0m9 0h0m2 0h0m4 0h0m-80 1h0m5 0h0m1 0h0m3 0h0m1 0h0m3 0h0m9 0h0m3 0h0m3 0h0m5 0h0m21 0h0m2 0h0m9 0h0m2 0h0m10 0h0m-84 1h0m4 0h0m2 0h0m5 0h0m15 0h0m6 0h0m1 0h0m6 0h0m12 0h0m11 0h0m6 0h0m15 0h0m4 0h0m-85 1h0m1 0h0m6 0h0m1 0h0m24 0h0m3 0h0m11 0h0m4 0h0m2 0h0m9 0h0m1 0h0m2 0h0m2 0h0m7 0h0m4 0h0m3 0h0m-84 1h0m5 0h0m3 0h0m0 0h0m0 0h0m7 0h0m3 0h0m1 0h0m7 0h0m3 0h0m9 0h0m5 0h0m0 0h0m1 0h0m6 0h0m2 0h0m12 0h0m3 0h0m2 0h0m1 0h0m4 0h0m16 0h0m-88 1h0m24 0h0m0 0h0m18 0h0m2 0h0m7 0h0m0 0h0m7 0h0m4 0h0m4 0h0m2 0h0m15 0h0m2 0h0m-81 1h0m3 0h0m1 0h0m7 0h0m3 0h0m18 0h0m3 0h0m3 0h0m0 0h0m12 0h0m8 0h0m5 0h0m2 0h0m1 0h0m0 0h0m6 0h0m-73 1h0m2 0h0m14 0h0m1 0h0m5 0h0m2 0h0m3 0h0m18 0h0m5 0h0m4 0h0m3 0h0m13 0h0m4 0h0m6 0h0m5 0h0m-85 1h0m7 0h0m1 0h0m4 0h0m12 0h0m1 0h0m1 0h0m1 0h0m4 0h0m1 0h0m2 0h0m3 0h0m2 0h0m6 0h0m15 0h0m-66 1h0m8 0h0m17 0h0m5 0h0m0 0h0m4 0h0m5 0h0m0 0h0m10 0h0m22 0h0m0 0h0m7 0h0m0 0h0m0 0h0m3 0h0m11 0h0m-80 1h0m8 0h0m4 0h0m7 0h0m2 0h0m2 0h0m2 0h0m6 0h0m12 0h0m4 0h0m3 0h0m10 0h0m3 0h0m3 0h0m12 0h0m4 0h0m-85 1h0m1 0h0m2 0h0m6 0h0m4 0h0m2 0h0m1 0h0m8 0h0m8 0h0m10 0h0m3 0h0m13 0h0m4 0h0m6 0h0m10 0h0m4 0h0m2 0h0m-88 1h0m4 0h0m6 0h0m3 0h0m1 0h0m2 0h0m1 0h0m11 0h0m9 0h0m0 0h0m25 0h0m8 0h0m5 0h0m0 0h0m2 0h0m4 0h0m0 0h0m-85 1h0m3 0h0m7 0h0m4 0h0m0 0h0m2 0h0m3 0h0m5 0h0m4 0h0m3 0h0m13 0h0m0 0h0m14 0h0m1 0h0m6 0h0m4 0h0m3 0h0m1 0h0m0 0h0m8 0h0m1 0h0m1 0h0m6 0h0m1 0h0m-89 1h0m19 0h0m5 0h0m4 0h0m14 0h0m1 0h0m2 0h0m8 0h0m1 0h0m5 0h0m6 0h0m1 0h0m2 0h0m4 0h0m13 0h0m5 0h0m0 0h0m-92 1h0m1 0h0m1 0h0m2 0h0m1 0h0m4 0h0m9 0h0m12 0h0m24 0h0m3 0h0m3 0h0m10 0h0m13 0h0m2 0h0m-82 1h0m1 0h0m1 0h0m2 0h0m8 0h0m15 0h0m14 0h0m6 0h0m6 0h0m11 0h0m1 0h0m0 0h0m3 0h0m1 0h0m13 0h0m5 0h0m0 0h0m-84 1h0m3 0h0m3 0h0m5 0h0m14 0h0m3 0h0m4 0h0m8 0h0m4 0h0m2 0h0m7 0h0m1 0h0m0 0h0m6 0h0m1 0h0m1 0h0m14 0h0m1 0h0m0 0h0m5 0h0m0 0h0m-85 1h0m1 0h0m4 0h0m2 0h0m11 0h0m16 0h0m17 0h0m6 0h0m4 0h0m4 0h0m0 0h0m10 0h0m6 0h0m8 0h0m0 0h0m-90 1h0m7 0h0m7 0h0m12 0h0m8 0h0m6 0h0m7 0h0m7 0h0m18 0h0m10 0h0m2 0h0m4 0h0m1 0h0m-74 1h0m9 0h0m3 0h0m1 0h0m5 0h0m6 0h0m1 0h0m9 0h0m1 0h0m2 0h0m3 0h0m8 0h0m2 0h0m8 0h0m5 0h0m5 0h0m2 0h0m3 0h0m4 0h0m-93 1h0m1 0h0m1 0h0m0 0h0m3 0h0m2 0h0m8 0h0m6 0h0m4 0h0m5 0h0m5 0h0m2 0h0m7 0h0m9 0h0m6 0h0m2 0h0m6 0h0m2 0h0m5 0h0m0 0h0m2 0h0m5 0h0m0 0h0m9 0h0m-87 1h0m1 0h0m4 0h0m9 0h0m5 0h0m28 0h0m1 0h0m7 0h0m16 0h0m11 0h0m1 0h0m2 0h0m0 0h0m3 0h0m-85 1h0m12 0h0m1 0h0m8 0h0m21 0h0m4 0h0m2 0h0m16 0h0m3 0h0m8 0h0m0 0h0m2 0h0m3 0h0m5 0h0m2 0h0m0 0h0m-83 1h0m5 0h0m1 0h0m7 0h0m1 0h0m10 0h0m3 0h0m0 0h0m5 0h0m14 0h0m2 0h0m5 0h0m10 0h0m1 0h0m0 0h0m4 0h0m3 0h0m1 0h0m7 0h0m-91 1h0m6 0h0m1 0h0m8 0h0m3 0h0m2 0h0m6 0h0m2 0h0m2 0h0m2 0h0m1 0h0m3 0h0m2 0h0m3 0h0m8 0h0m18 0h0m0 0h0m4 0h0m19 0h0m2 0h0m2 0h0m-93 1h0m1 0h0m25 0h0m2 0h0m9 0h0m6 0h0m0 0h0m0 0h0m5 0h0m2 0h0m9 0h0m5 0h0m3 0h0m2 0h0m5 0h0m0 0h0m11 0h0m-62 1h0m1 0h0m8 0h0m10 0h0m3 0h0m20 0h0m1 0h0m0 0h0m3 0h0m0 0h0m1 0h0m4 0h0m5 0h0m1 0h0m2 0h0m7 0h0m1 0h0m2 0h0m1 0h0m2 0h0m-90 1h0m0 0h0m4 0h0m0 0h0m10 0h0m1 0h0m12 0h0m2 0h0m1 0h0m2 0h0m2 0h0m1 0h0m6 0h0m5 0h0m2 0h0m13 0h0m4 0h0m2 0h0m6 0h0m3 0h0" stroke="#000" stroke-width="1.60" stroke-linecap="square" fill="none" stroke-opacity="0.85"/>
<path transform="scale(0.5)" d="M350 492h0m-1 2h0m1 0h0m-3 1h0m1 0h0m-4 1h0m1 0h0m1 0h0m1 0h0m-4 1h0m2 0h0m3 0h0m1 0h0m-9 1h0m0 0h0m2 0h0m2 0h0m7 0h0m-10 1h0m1 0h0m3 0h0m2 0h0m3 0h0m0 0h0m1 0h0m-11 1h0m2 0h0m1 0h0m1 0h0m4 0h0m1 0h0m3 0h0m-14 1h0m2 0h0m1 0h0m0 0h0m5 0h0m0 0h0m0 0h0m2 0h0m4 0h0m-16 1h0m2 0h0m1 0h0m2 0h0m1 0h0m2 0h0m1 0h0m0 0h0m1 0h0m1 0h0m2 0h0m3 0h0m0 0h0m0 0h0m-17 1h0m2 0h0m3 0h0m4 0h0m3 0h0m0 0h0m1 0h0m2 0h0m2 0h0m-17 1h0m1 0h0m9 0h0m0 0h0m1 0h0m0 0h0m1 0h0m2 0h0m1 0h0m1 0h0m0 0h0m0 0h0m1 0h0m0 0h0m0 0h0m-15 1h0m1 0h0m6 0h0m1 0h0m1 0h0m7 0h0m-17 1h0m1 0h0m3 0h0m1 0h0m2 0h0m1 0h0m3 0h0m6 0h0m-16 1h0m2 0h0m1 0h0m1 0h0m2 0h0m1 0h0m1 0h0m7 0h0m1 0h0m0 0h0m1 0h0m-18 1h0m1 0h0m1 0h0m1 0h0m5 0h0m0 0h0m1 0h0m0 0h0m1 0h0m1 0h0m0 0h0m1 0h0m0 0h0m1 0h0m1 0h0m2 0h0m0 0h0m1 0h0m-20 1h0m1 0h0m1 0h0m7 0h0m0 0h0m0 0h0m0 0h0m0 0h0m2 0h0m1 0h0m1 0h0m3 0h0m1 0h0m1 0h0m0 0h0m2 0h0m1 0h0m0 0h0m-21 1h0m4 0h0m1 0h0m1 0h0m0 0h0m2 0h0m2 0h0m2 0h0m1 0h0m2 0h0m2 0h0m2 0h0m0 0h0m1 0h0m0 0h0m1 0h0m-21 1h0m2 0h0m0 0h0m1 0h0m0 0h0m2 0h0m5 0h0m4 0h0m0 0h0m1 0h0m6 0h0m1 0h0m-21 1h0m0 0h0m2 0h0m1 0h0m5 0h0m1 0h0m1 0h0m2 0h0m2 0h0m1 0h0m0 0h0m1 0h0m0 0h0m0 0h0m3 0h0m-20 1h0m1 0h0m0 0h0m2 0h0m3 0h0m3 0h0m3 0h0m4 0h0m2 0h0m0 0h0m0 0h0m2 0h0m1 0h0m-22 1h0m0 0h0m0 0h0m1 0h0m0 0h0m2 0h0m1 0h0m6 0h0m0 0h0m1 0h0m0 0h0m1 0h0m4 0h0m3 0h0m1 0h0m2 0h0m1 0h0m-22 1h0m8 0h0m0 0h0m1 0h0m2 0h0m3 0h0m6 0h0m0 0h0m1 0h0m1 0h0m-23 1h0m1 0h0m1 0h0m0 0h0m2 0h0m1 0h0m2 0h0m1 0h0m2 0h0m3 0h0m1 0h0m4 0h0m0 0h0m0 0h0m1 0h0m2 0h0m0 0h0m-23 1h0m6 0h0m1 0h0m1 0h0m2 0h0m5 0h0m0 0h0m3 0h0m1 0h0m0 0h0m1 0h0m3 0h0m0 0h0m1 0h0m2 0h0m-22 1h0m2 0h0m0 0h0m2 0h0m0 0h0m0 0h0m1 0h0m0 0h0m4 0h0m0 0h0m0 0h0m2 0h0m0 0h0m2 0h0m0 0h0m0 0h0m0 0h0m3 0h0m3 0h0m-22 1h0m3 0h0m2 0h0m0 0h0m1 0h0m1 0h0m5 0h0m1 0h0m3 0h0m1 0h0m1 0h0m1 0h0m0 0h0m-20 1h0m3 0h0m0 0h0m1 0h0m0 0h0m6 0h0m4 0h0m0 0h0m1 0h0m3 0h0m0 0h0m0 0h0m0 0h0m1 0h0m2 0h0m2 0h0m2 0h0m1 0h0m-23 1h0m1 0h0m2 0h0m3 0h0m2 0h0m2 0h0m0 0h0m5 0h0m0 0h0m1 0h0m1 0h0m1 0h0m2 0h0m0 0h0m3 0h0m0 0h0m-27 1h0m2 0h0m4 0h0m3 0h0m1 0h0m7 0h0m2 0h0m1 0h0m0 0h0m5 0h0m-22 1h0m1 0h0m1 0h0m1 0h0m4 0h0m2 0h0m2 0h0m0 0h0m2 0h0m1 0h0m2 0h0m1 0h0m1 0h0m1 0h0m3 0h0m-26 1h0m0 0h0m1 0h0m0 0h0m0 0h0m1 0h0m2 0h0m1 0h0m5 0h0m1 0h0m2 0h0m1 0h0m0 0h0m1 0h0m1 0h0m0 0h0m1 0h0m3 0h0m1 0h0m1 0h0m1 0h0m1 0h0m0 0h0m0 0h0m1 0h0m-24 1h0m0 0h0m3 0h0m2 0h0m2 0h0m1 0h0m1 0h0m0 0h0m1 0h0m2 0h0m1 0h0m0 0h0m5 0h0m2 0h0m2 0h0m0 0h0m1 0h0m0 0h0m1 0h0m1 0h0m2 0h0m0 0h0m-26 1h0m0 0h0m2 0h0m2 0h0m2 0h0m2 0h0m0 0h0m3 0h0m4 0h0m1 0h0m0 0h0m2 0h0m2 0h0m1 0h0m0 0h0m2 0h0m-24 1h0m1 0h0m0 0h0m1 0h0m0 0h0m1 0h0m2 0h0m1 0h0m0 0h0m3 0h0m1 0h0m4 0h0m1 0h0m0 0h0m5 0h0m2 0h0m1 0h0m2 0h0m-27 1h0m1 0h0m1 0h0m1 0h0m3 0h0m0 0h0m1 0h0m4 0h0m3 0h0m1 0h0m1 0h0m1 0h0m2 0h0m1 0h0m0 0h0m4 0h0m2 0h0m0 0h0m1 0h0m-26 1h0m10 0h0m3 0h0m1 0h0m3 0h0m2 0h0m3 0h0m2 0h0m-23 1h0m0 0h0m6 0h0m2 0h0m2 0h0m1 0h0m3 0h0m1 0h0m0 0h0m3 0h0m3 0h0m0 0h0m0 0h0m1 0h0m5 0h0m0 0h0m-28 1h0m2 0h0m0 0h0m2 0h0m7 0h0m1 0h0m2 0h0m4 0h0m6 0h0m-23 1h0m1 0h0m2 0h0m0 0h0m5 0h0m1 0h0m1 0h0m4 0h0m0 0h0m1 0h0m1 0h0m2 0h0m1 0h0m2 0h0m1 0h0m2 0h0m1 0h0m0 0h0m-25 1h0m1 0h0m1 0h0m1 0h0m1 0h0m1 0h0m4 0h0m0 0h0m1 0h0m2 0h0m7 0h0m1 0h0m1 0h0m0 0h0m2 0h0m4 0h0m0 0h0m0 0h0m-29 1h0m1 0h0m2 0h0m0 0h0m0 0h0m1 0h0m1 0h0m2 0h0m0 0h0m0 0h0m2 0h0m2 0h0m1 0h0m3 0h0m2 0h0m1 0h0m4 0h0m1 0h0m3 0h0m0 0h0m0 0h0m1 0h0m-26 1h0m4 0h0m0 0h0m1 0h0m6 0h0m2 0h0m1 0h0m3 0h0m2 0h0m0 0h0m7 0h0m0 0h0m1 0h0m0 0h0m-29 1h0m1 0h0m2 0h0m2 0h0m1 0h0m1 0h0m2 0h0m1 0h0m1 0h0m1 0h0m2 0h0m2 0h0m5 0h0m7 0h0m-27 1h0m3 0h0m2 0h0m0 0h0m3 0h0m2 0h0m1 0h0m3 0h0m11 0h0m0 0h0m0 0h0m1 0h0m4 0h0m-29 1h0m0 0h0m2 0h0m1 0h0m3 0h0m2 0h0m1 0h0m2 0h0m2 0h0m4 0h0m0 0h0m2 0h0m8 0h0m-21 1h0m1 0h0m2 0h0m1 0h0m1 0h0m1 0h0m2 0h0m1 0h0m0 0h0m1 0h0m0 0h0m2 0h0m0 0h0m0 0h0m1 0h0m4 0h0m2 0h0m1 0h0m-28 1h0m0 0h0m1 0h0m1 0h0m0 0h0m2 0h0m3 0h0m0 0h0m1 0h0m2 0h0m2 0h0m0 0h0m1 0h0m1 0h0m6 0h0m5 0h0m3 0h0m-29 1h0m2 0h0m2 0h0m7 0h0m3 0h0m1 0h0m2 0h0m1 0h0m3 0h0m0 0h0m3 0h0m1 0h0m0 0h0m0 0h0m4 0h0m2 0h0m-31 1h0m2 0h0m0 0h0m1 0h0m1 0h0m0 0h0m3 0h0m3 0h0m2 0h0m0 0h0m0 0h0m3 0h0m4 0h0m0 0h0m1 0h0m2 0h0m1 0h0m0 0h0m3 0h0m1 0h0m1 0h0m3 0h0m-32 1h0m1 0h0m2 0h0m0 0h0m2 0h0m1 0h0m7 0h0m1 0h0m4 0h0m1 0h0m4 0h0m3 0h0m3 0h0m-26 1h0m3 0h0m1 0h0m2 0h0m3 0h0m5 0h0m2 0h0m0 0h0m1 0h0m1 0h0m3 0h0m2 0h0m2 0h0m1 0h0m-29 1h0m0 0h0m1 0h0m3 0h0m2 0h0m3 0h0m3 0h0m1 0h0m1 0h0m1 0h0m1 0h0m0 0h0m0 0h0m1 0h0m3 0h0m0 0h0m1 0h0m2 0h0m0 0h0m1 0h0m5 0h0m3 0h0m-31 1h0m0 0h0m2 0h0m0 0h0m2 0h0m3 0h0m1 0h0m1 0h0m4 0h0m1 0h0m1 0h0m2 0h0m2 0h0m2 0h0m2 0h0m1 0h0m0 0h0m1 0h0m2 0h0m3 0h0m-31 1h0m2 0h0m0 0h0m0 0h0m4 0h0m1 0h0m1 0h0m0 0h0m3 0h0m1 0h0m3 0h0m1 0h0m0 0h0m2 0h0m0 0h0m4 0h0m7 0h0m1 0h0m-25 1h0m1 0h0m1 0h0m2 0h0m1 0h0m2 0h0m0 0h0m1 0h0m1 0h0m7 0h0m0 0h0m0 0h0m2 0h0m6 0h0m1 0h0m-31 1h0m1 0h0m2 0h0m4 0h0m2 0h0m1 0h0m5 0h0m1 0h0m0 0h0m2 0h0m3 0h0m1 0h0m0 0h0m2 0h0m1 0h0m1 0h0m1 0h0m2 0h0m1 0h0m1 0h0m3 0h0m-34 1h0m5 0h0m0 0h0m0 0h0m4 0h0m0 0h0m5 0h0m1 0h0m0 0h0m0 0h0m2 0h0m1 0h0m6 0h0m2 0h0m1 0h0m1 0h0m0 0h0m1 0h0m1 0h0m0 0h0m1 0h0m0 0h0m2 0h0m-34 1h0m3 0h0m4 0h0m4 0h0m3 0h0m6 0h0m0 0h0m3 0h0m3 0h0m1 0h0m0 0h0m3 0h0m3 0h0m0 0h0m1 0h0m0 0h0m0 0h0m2 0h0m-36 1h0m4 0h0m0 0h0m1 0h0m3 0h0m0 0h0m3 0h0m0 0h0m1 0h0m0 0h0m2 0h0m0 0h0m0 0h0m1 0h0m0 0h0m0 0h0m4 0h0m2 0h0m1 0h0m1 0h0m2 0h0m1 0h0m4 0h0m1 0h0m0 0h0m1 0h0m0 0h0m2 0h0m0 0h0m0 0h0m-33 1h0m0 0h0m1 0h0m2 0h0m1 0h0m6 0h0m5 0h0m4 0h0m0 0h0m2 0h0m0 0h0m1 0h0m1 0h0m3 0h0m1 0h0m4 0h0m0 0h0m0 0h0m3 0h0m1 0h0m-35 1h0m0 0h0m5 0h0m1 0h0m4 0h0m3 0h0m0 0h0m0 0h0m4 0h0m0 0h0m1 0h0m1 0h0m1 0h0m1 0h0m4 0h0m0 0h0m1 0h0m1 0h0m2 0h0m2 0h0m4 0h0m-36 1h0m2 0h0m4 0h0m0 0h0m4 0h0m0 0h0m0 0h0m1 0h0m2 0h0m4 0h0m3 0h0m0 0h0m5 0h0m4 0h0m1 0h0m0 0h0m4 0h0m2 0h0m0 0h0m-36 1h0m0 0h0m0 0h0m1 0h0m0 0h0m0 0h0m0 0h0m2 0h0m3 0h0m0 0h0m1 0h0m3 0h0m0 0h0m4 0h0m2 0h0m0 0h0m1 0h0m4 0h0m0 0h0m0 0h0m7 0h0m1 0h0m1 0h0m0 0h0m3 0h0m0 0h0m1 0h0m-32 1h0m0 0h0m2 0h0m4 0h0m3 0h0m0 0h0m2 0h0m2 0h0m3 0h0m3 0h0m1 0h0m0 0h0m1 0h0m1 0h0m10 0h0m2 0h0m-38 1h0m4 0h0m1 0h0m0 0h0m1 0h0m3 0h0m1 0h0m3 0h0m1 0h0m1 0h0m0 0h0m1 0h0m0 0h0m0 0h0m1 0h0m3 0h0m3 0h0m3 0h0m1 0h0m2 0h0m2 0h0m1 0h0m3 0h0m1 0h0m2 0h0m-38 1h0m1 0h0m0 0h0m1 0h0m0 0h0m1 0h0m0 0h0m2 0h0m1 0h0m2 0h0m1 0h0m4 0h0m1 0h0m1 0h0m0 0h0m1 0h0m0 0h0m3 0h0m0 0h0m2 0h0m1 0h0m4 0h0m0 0h0m1 0h0m1 0h0m0 0h0m4 0h0m3 0h0m0 0h0m2 0h0m1 0h0m-34 1h0m1 0h0m0 0h0m3 0h0m0 0h0m2 0h0m4 0h0m0 0h0m1 0h0m0 0h0m4 0h0m3 0h0m4 0h0m2 0h0m0 0h0m1 0h0m3 0h0m1 0h0m0 0h0m1 0h0m0 0h0m4 0h0m-38 1h0m1 0h0m6 0h0m0 0h0m1 0h0m1 0h0m1 0h0m3 0h0m3 0h0m2 0h0m3 0h0m0 0h0m3 0h0m0 0h0m2 0h0m2 0h0m0 0h0m1 0h0m4 0h0m1 0h0m0 0h0m1 0h0m2 0h0m-37 1h0m2 0h0m1 0h0m3 0h0m1 0h0m3 0h0m2 0h0m5 0h0m5 0h0m0 0h0m4 0h0m4 0h0m4 0h0m2 0h0m2 0h0m1 0h0m0 0h0m0 0h0m-36 1h0m1 0h0m5 0h0m1 0h0m0 0h0m1 0h0m2 0h0m3 0h0m1 0h0m3 0h0m0 0h0m0 0h0m0 0h0m3 0h0m2 0h0m1 0h0m3 0h0m2 0h0m0 0h0m3 0h0m3 0h0m-36 1h0m8 0h0m2 0h0m0 0h0m5 0h0m1 0h0m1 0h0m0 0h0m6 0h0m0 0h0m1 0h0m1 0h0m5 0h0m5 0h0m2 0h0m-32 1h0m0 0h0m2 0h0m0 0h0m1 0h0m1 0h0m0 0h0m1 0h0m1 0h0m3 0h0m0 0h0m4 0h0m4 0h0m1 0h0m1 0h0m1 0h0m1 0h0m1 0h0m2 0h0m3 0h0m2 0h0m0 0h0m2 0h0m1 0h0m1 0h0m-41 1h0m2 0h0m1 0h0m3 0h0m0 0h0m2 0h0m0 0h0m1 0h0m6 0h0m4 0h0m0 0h0m3 0h0m1 0h0m2 0h0m1 0h0m1 0h0m0 0h0m5 0h0m5 0h0m2 0h0m0 0h0m1 0h0m-35 1h0m4 0h0m0 0h0m1 0h0m1 0h0m2 0h0m4 0h0m1 0h0m3 0h0m0 0h0m2 0h0m1 0h0m2 0h0m0 0h0m1 0h0m0 0h0m2 0h0m0 0h0m0 0h0m5 0h0m0 0h0m0 0h0m-32 1h0m1 0h0m2 0h0m0 0h0m2 0h0m1 0h0m1 0h0m0 0h0m1 0h0m1 0h0m1 0h0m1 0h0m4 0h0m1 0h0m1 0h0m3 0h0m1 0h0m5 0h0m2 0h0m0 0h0m1 0h0m1 0h0m6 0h0m1 0h0m2 0h0m-41 1h0m2 0h0m6 0h0m4 0h0m2 0h0m6 0h0m1 0h0m8 0h0m1 0h0m2 0h0m0 0h0m2 0h0m1 0h0m0 0h0m2 0h0m0 0h0m2 0h0m0 0h0m1 0h0m-38 1h0m3 0h0m5 0h0m1 0h0m1 0h0m0 0h0m4 0h0m6 0h0m3 0h0m2 0h0m2 0h0m0 0h0m0 0h0m1 0h0m0 0h0m0 0h0m1 0h0m0 0h0m1 0h0m1 0h0m0 0h0m0 0h0m1 0h0m0 0h0m1 0h0m0 0h0m-35 1h0m2 0h0m1 0h0m1 0h0m8 0h0m1 0h0m1 0h0m2 0h0m2 0h0m1 0h0m5 0h0m1 0h0m3 0h0m1 0h0m2 0h0m0 0h0m4 0h0m0 0h0m5 0h0m1 0h0m0 0h0m0 0h0m-37 1h0m0 0h0m1 0h0m1 0h0m1 0h0m1 0h0m3 0h0m1 0h0m3 0h0m0 0h0m2 0h0m2 0h0m3 0h0m2 0h0m0 0h0m3 0h0m0 0h0m2 0h0m1 0h0m5 0h0m1 0h0m0 0h0m2 0h0m-38 1h0m1 0h0m1 0h0m1 0h0m2 0h0m5 0h0m6 0h0m5 0h0m3 0h0m1 0h0m2 0h0m0 0h0m1 0h0m0 0h0m7 0h0m1 0h0m1 0h0m-33 1h0m0 0h0m2 0h0m3 0h0m1 0h0m0 0h0m1 0h0m1 0h0m0 0h0m2 0h0m3 0h0m2 0h0m1 0h0m1 0h0m1 0h0m6 0h0m0 0h0m7 0h0m1 0h0m1 0h0m0 0h0m0 0h0m1 0h0m2 0h0m1 0h0m-42 1h0m3 0h0m1 0h0m6 0h0m2 0h0m1 0h0m0 0h0m2 0h0m0 0h0m1 0h0m2 0h0m4 0h0m1 0h0m2 0h0m1 0h0m2 0h0m1 0h0m2 0h0m0 0h0m3 0h0m0 0h0m0 0h0m6 0h0m1 0h0m2 0h0m0 0h0m-41 1h0m3 0h0m4 0h0m1 0h0m4 0h0m2 0h0m3 0h0m0 0h0m2 0h0m1 0h0m0 0h0m0 0h0m4 0h0m1 0h0m0 0h0m2 0h0m5 0h0m1 0h0m3 0h0m1 0h0m3 0h0m-42 1h0m1 0h0m0 0h0m1 0h0m1 0h0m3 0h0m3 0h0m2 0h0m0 0h0m2 0h0m2 0h0m3 0h0m2 0h0m1 0h0m6 0h0m2 0h0m1 0h0m2 0h0m1 0h0m1 0h0m1 0h0m1 0h0m6 0h0m1 0h0m0 0h0m0 0h0m0 0h0m-46 1h0m2 0h0m1 0h0m4 0h0m2 0h0m2 0h0m5 0h0m3 0h0m3 0h0m1 0h0m0 0h0m3 0h0m1 0h0m3 0h0m1 0h0m2 0h0m4 0h0m0 0h0m3 0h0m4 0h0m-43 1h0m1 0h0m2 0h0m1 0h0m0 0h0m2 0h0m7 0h0m3 0h0m1 0h0m1 0h0m0 0h0m2 0h0m4 0h0m1 0h0m2 0h0m4 0h0m2 0h0m0 0h0m1 0h0m2 0h0m1 0h0m7 0h0m1 0h0m1 0h0m0 0h0m-44 1h0m2 0h0m2 0h0m0 0h0m1 0h0m2 0h0m1 0h0m1 0h0m0 0h0m4 0h0m3 0h0m0 0h0m2 0h0m0 0h0m1 0h0m5 0h0m2 0h0m1 0h0m4 0h0m1 0h0m0 0h0m2 0h0m1 0h0m2 0h0m2 0h0m0 0h0m4 0h0m-46 1h0m3 0h0m2 0h0m4 0h0m1 0h0m0 0h0m0 0h0m2 0h0m2 0h0m5 0h0m1 0h0m1 0h0m1 0h0m2 0h0m1 0h0m2 0h0m3 0h0m1 0h0m1 0h0m1 0h0m1 0h0m1 0h0m0 0h0m1 0h0m1 0h0m1 0h0m1 0h0m1 0h0m1 0h0m1 0h0m0 0h0m0 0h0m0 0h0m1 0h0m0 0h0m2 0h0m0 0h0m2 0h0m0 0h0m-45 1h0m1 0h0m6 0h0m0 0h0m2 0h0m1 0h0m1 0h0m1 0h0m2 0h0m2 0h0m3 0h0m1 0h0m0 0h0m1 0h0m0 0h0m1 0h0m3 0h0m1 0h0m2 0h0m3 0h0m1 0h0m7 0h0m0 0h0m5 0h0m0 0h0m2 0h0m-49 1h0m0 0h0m3 0h0m1 0h0m7 0h0m2 0h0m1 0h0m2 0h0m2 0h0m2 0h0m3 0h0m3 0h0m0 0h0m0 0h0m2 0h0m1 0h0m8 0h0m1 0h0m1 0h0m0 0h0m3 0h0m1 0h0m2 0h0m1 0h0m1 0h0m-45 1h0m0 0h0m12 0h0m0 0h0m0 0h0m2 0h0m0 0h0m2 0h0m0 0h0m0 0h0m1 0h0m1 0h0m4 0h0m1 0h0m11 0h0m9 0h0m4 0h0m1 0h0m-50 1h0m3 0h0m6 0h0m0 0h0m1 0h0m1 0h0m1 0h0m1 0h0m7 0h0m1 0h0m2 0h0m0 0h0m0 0h0m0 0h0m3 0h0m0 0h0m1 0h0m0 0h0m1 0h0m3 0h0m2 0h0m2 0h0m1 0h0m0 0h0m6 0h0m2 0h0m2 0h0m1 0h0m2 0h0m0 0h0m-50 1h0m2 0h0m5 0h0m3 0h0m1 0h0m0 0h0m2 0h0m1 0h0m2 0h0m0 0h0m6 0h0m2 0h0m0 0h0m1 0h0m0 0h0m1 0h0m2 0h0m2 0h0m0 0h0m0 0h0m2 0h0m1 0h0m0 0h0m4 0h0m2 0h0m2 0h0m1 0h0m0 0h0m0 0h0m1 0h0m1 0h0m2 0h0m1 0h0m0 0h0m2 0h0m4 0h0m-51 1h0m0 0h0m1 0h0m3 0h0m1 0h0m1 0h0m0 0h0m2 0h0m1 0h0m8 0h0m4 0h0m0 0h0m7 0h0m2 0h0m2 0h0m1 0h0m1 0h0m2 0h0m1 0h0m3 0h0m1 0h0m3 0h0m1 0h0m4 0h0m2 0h0m-54 1h0m2 0h0m0 0h0m2 0h0m0 0h0m0 0h0m2 0h0m1 0h0m0 0h0m6 0h0m0 0h0m2 0h0m0 0h0m4 0h0m1 0h0m1 0h0m1 0h0m1 0h0m0 0h0m4 0h0m1 0h0m2 0h0m0 0h0m0 0h0m3 0h0m5 0h0m3 0h0m4 0h0m1 0h0m1 0h0m2 0h0m2 0h0m2 0h0m1 0h0m-51 1h0m1 0h0m0 0h0m2 0h0m0 0h0m0 0h0m4 0h0m4 0h0m0 0h0m1 0h0m1 0h0m2 0h0m1 0h0m1 0h0m1 0h0m3 0h0m3 0h0m0 0h0m3 0h0m0 0h0m4 0h0m1 0h0m6 0h0m6 0h0m0 0h0m-45 1h0m1 0h0m2 0h0m2 0h0m2 0h0m2 0h0m0 0h0m1 0h0m3 0h0m0 0h0m3 0h0m0 0h0m1 0h0m1 0h0m1 0h0m3 0h0m3 0h0m1 0h0m2 0h0m0 0h0m3 0h0m0 0h0m0 0h0m2 0h0m3 0h0m3 0h0m2 0h0m1 0h0m1 0h0m1 0h0m6 0h0m2 0h0m1 0h0m-55 1h0m2 0h0m0 0h0m1 0h0m3 0h0m2 0h0m3 0h0m0 0h0m2 0h0m2 0h0m2 0h0m2 0h0m2 0h0m2 0h0m2 0h0m3 0h0m1 0h0m1 0h0m6 0h0m1 0h0m2 0h0m4 0h0m1 0h0m3 0h0m0 0h0m1 0h0m1 0h0m1 0h0m0 0h0m1 0h0m1 0h0m22 0h0m-70 1h0m1 0h0m0 0h0m1 0h0m2 0h0m0 0h0m1 0h0m6 0h0m2 0h0m0 0h0m3 0h0m1 0h0m3 0h0m0 0h0m2 0h0m1 0h0m3 0h0m1 0h0m3 0h0m6 0h0m0 0h0m1 0h0m1 0h0m0 0h0m2 0h0m1 0h0m2 0h0m1 0h0m2 0h0m3 0h0m0 0h0m3 0h0m1 0h0m8 0h0m-63 1h0m0 0h0m2 0h0m0 0h0m1 0h0m1 0h0m1 0h0m0 0h0m1 0h0m2 0h0m1 0h0m5 0h0m16 0h0m1 0h0m1 0h0m2 0h0m0 0h0m5 0h0m0 0h0m1 0h0m0 0h0m2 0h0m0 0h0m0 0h0m1 0h0m1 0h0m3 0h0m3 0h0m1 0h0m2 0h0m2 0h0m1 0h0m0 0h0m0 0h0m3 0h0m7 0h0m-66 1h0m1 0h0m4 0h0m0 0h0m0 0h0m3 0h0m4 0h0m3 0h0m1 0h0m1 0h0m0 0h0m1 0h0m1 0h0m1 0h0m2 0h0m2 0h0m2 0h0m1 0h0m1 0h0m6 0h0m1 0h0m5 0h0m1 0h0m0 0h0m1 0h0m1 0h0m5 0h0m1 0h0m1 0h0m1 0h0m3 0h0m1 0h0m1 0h0m4 0h0m0 0h0m1 0h0m1 0h0m4 0h0m-65 1h0m1 0h0m1 0h0m0 0h0m0 0h0m5 0h0m2 0h0m2 0h0m3 0h0m1 0h0m2 0h0m1 0h0m1 0h0m4 0h0m3 0h0m0 0h0m2 0h0m0 0h0m0 0h0m2 0h0m1 0h0m2 0h0m5 0h0m2 0h0m3 0h0m2 0h0m3 0h0m1 0h0m1 0h0m0 0h0m2 0h0m0 0h0m2 0h0m2 0h0m0 0h0m2 0h0m-57 1h0m2 0h0m4 0h0m1 0h0m1 0h0m4 0h0m3 0h0m3 0h0m0 0h0m1 0h0m1 0h0m1 0h0m2 0h0m1 0h0m0 0h0m2 0h0m6 0h0m0 0h0m1 0h0m2 0h0m1 0h0m2 0h0m0 0h0m1 0h0m2 0h0m0 0h0m2 0h0m0 0h0m1 0h0m2 0h0m1 0h0m1 0h0m0 0h0m0 0h0m1 0h0m0 0h0m1 0h0m2 0h0m0 0h0m1 0h0m1 0h0m0 0h0m1 0h0m1 0h0m0 0h0m3 0h0m2 0h0m7 0h0m-68 1h0m3 0h0m0 0h0m0 0h0m0 0h0m1 0h0m3 0h0m4 0h0m2 0h0m0 0h0m2 0h0m0 0h0m2 0h0m5 0h0m0 0h0m1 0h0m2 0h0m1 0h0m4 0h0m1 0h0m1 0h0m0 0h0m6 0h0m0 0h0m1 0h0m2 0h0m0 0h0m1 0h0m1 0h0m1 0h0m1 0h0m1 0h0m3 0h0m0 0h0m2 0h0m1 0h0m0 0h0m1 0h0m0 0h0m1 0h0m1 0h0m1 0h0m0 0h0m1 0h0m3 0h0m1 0h0m1 0h0m1 0h0m-60 1h0m3 0h0m1 0h0m3 0h0m1 0h0m1 0h0m2 0h0m3 0h0m10 0h0m4 0h0m1 0h0m1 0h0m1 0h0m0 0h0m3 0h0m2 0h0m0 0h0m0 0h0m1 0h0m0 0h0m0 0h0m2 0h0m6 0h0m1 0h0m1 0h0m1 0h0m0 0h0m1 0h0m0 0h0m1 0h0m0 0h0m1 0h0m0 0h0m0 0h0m2 0h0m2 0h0m0 0h0m1 0h0m1 0h0m0 0h0m2 0h0m1 0h0m2 0h0m9 0h0m5 0h0m3 0h0m-79 1h0m0 0h0m3 0h0m2 0h0m1 0h0m1 0h0m2 0h0m1 0h0m3 0h0m0 0h0m2 0h0m1 0h0m3 0h0m1 0h0m0 0h0m2 0h0m11 0h0m1 0h0m2 0h0m0 0h0m1 0h0m0 0h0m1 0h0m1 0h0m2 0h0m1 0h0m0 0h0m1 0h0m0 0h0m1 0h0m0 0h0m2 0h0m1 0h0m0 0h0m1 0h0m0 0h0m0 0h0m1 0h0m0 0h0m1 0h0m1 0h0m0 0h0m0 0h0m1 0h0m0 0h0m1 0h0m0 0h0m1 0h0m0 0h0m1 0h0m3 0h0m3 0h0m1 0h0m0 0h0m7 0h0m3 0h0m-72 1h0m2 0h0m0 0h0m4 0h0m1 0h0m0 0h0m0 0h0m2 0h0m1 0h0m0 0h0m2 0h0m0 0h0m0 0h0m1 0h0m0 0h0m3 0h0m0 0h0m1 0h0m2 0h0m1 0h0m2 0h0m1 0h0m1 0h0m2 0h0m1 0h0m3 0h0m2 0h0m1 0h0m0 0h0m3 0h0m1 0h0m0 0h0m2 0h0m1 0h0m1 0h0m0 0h0m1 0h0m1 0h0m1 0h0m0 0h0m1 0h0m0 0h0m2 0h0m0 0h0m1 0h0m0 0h0m0 0h0m1 0h0m1 0h0m1 0h0m1 0h0m1 0h0m0 0h0m1 0h0m1 0h0m1 0h0m2 0h0m1 0h0m1 0h0m0 0h0m2 0h0m2 0h0m1 0h0m3 0h0m-68 1h0m1 0h0m4 0h0m2 0h0m0 0h0m1 0h0m1 0h0m11 0h0m0 0h0m6 0h0m2 0h0m4 0h0m3 0h0m0 0h0m2 0h0m1 0h0m0 0h0m0 0h0m0 0h0m1 0h0m0 0h0m1 0h0m0 0h0m1 0h0m1 0h0m0 0h0m2 0h0m0 0h0m1 0h0m1 0h0m0 0h0m0 0h0m2 0h0m0 0h0m0 0h0m1 0h0m0 0h0m0 0h0m1 0h0m0 0h0m0 0h0m0 0h0m1 0h0m1 0h0m2 0h0m0 0h0m0 0h0m1 0h0m1 0h0m5 0h0m2 0h0m0 0h0m1 0h0m5 0h0m-65 1h0m0 0h0m2 0h0m0 0h0m3 0h0m3 0h0m0 0h0m5 0h0m1 0h0m1 0h0m0 0h0m2 0h0m0 0h0m1 0h0m2 0h0m0 0h0m2 0h0m4 0h0m1 0h0m0 0h0m1 0h0m0 0h0m1 0h0m3 0h0m1 0h0m1 0h0m0 0h0m1 0h0m1 0h0m0 0h0m0 0h0m2 0h0m0 0h0m1 0h0m0 0h0m1 0h0m0 0h0m0 0h0m2 0h0m0 0h0m1 0h0m0 0h0m0 0h0m1 0h0m0 0h0m1 0h0m0 0h0m0 0h0m2 0h0m0 0h0m0 0h0m0 0h0m1 0h0m1 0h0m0 0h0m1 0h0m0 0h0m0 0h0m0 0h0m1 0h0m1 0h0m1 0h0m0 0h0m0 0h0m2 0h0m1 0h0m0 0h0m0 0h0m1 0h0m0 0h0m1 0h0m0 0h0m0 0h0m3 0h0m2 0h0m1 0h0m0 0h0m1 0h0m5 0h0m-70 1h0m2 0h0m1 0h0m1 0h0m4 0h0m1 0h0m1 0h0m6 0h0m1 0h0m4 0h0m1 0h0m2 0h0m0 0h0m3 0h0m3 0h0m0 0h0m0 0h0m1 0h0m1 0h0m0 0h0m1 0h0m1 0h0m1 0h0m1 0h0m0 0h0m1 0h0m0 0h0m1 0h0m0 0h0m1 0h0m2 0h0m2 0h0m1 0h0m1 0h0m1 0h0m0 0h0m1 0h0m1 0h0m1 0h0m1 0h0m0 0h0m2 0h0m0 0h0m3 0h0m3 0h0m2 0h0m2 0h0m1 0h0m6 0h0m-64 1h0m0 0h0m4 0h0m4 0h0m2 0h0m0 0h0m2 0h0m0 0h0m0 0h0m2 0h0m0 0h0m5 0h0m1 0h0m2 0h0m2 0h0m2 0h0m1 0h0m0 0h0m3 0h0m0 0h0m3 0h0m3 0h0m1 0h0m0 0h0m1 0h0m1 0h0m1 0h0m0 0h0m0 0h0m1 0h0m0 0h0m2 0h0m0 0h0m0 0h0m1 0h0m0 0h0m1 0h0m0 0h0m0 0h0m1 0h0m1 0h0m0 0h0m1 0h0m1 0h0m0 0h0m2 0h0m1 0h0m3 0h0m7 0h0m1 0h0m10 0h0m-72 1h0m1 0h0m0 0h0m2 0h0m2 0h0m1 0h0m0 0h0m0 0h0m1 0h0m1 0h0m3 0h0m2 0h0m0 0h0m0 0h0m3 0h0m2 0h0m2 0h0m1 0h0m0 0h0m2 0h0m2 0h0m0 0h0m3 0h0m1 0h0m0 0h0m2 0h0m1 0h0m1 0h0m0 0h0m1 0h0m1 0h0m0 0h0m1 0h0m0 0h0m1 0h0m0 0h0m0 0h0m0 0h0m0 0h0m2 0h0m1 0h0m0 0h0m0 0h0m0 0h0m1 0h0m1 0h0m1 0h0m0 0h0m0 0h0m2 0h0m0 0h0m1 0h0m0 0h0m0 0h0m1 0h0m0 0h0m0 0h0m2 0h0m2 0h0m1 0h0m-47 1h0m1 0h0m2 0h0m1 0h0m0 0h0m2 0h0m4 0h0m1 0h0m0 0h0m1 0h0m2 0h0m5 0h0m0 0h0m1 0h0m0 0h0m0 0h0m3 0h0m0 0h0m0 0h0m2 0h0m2 0h0m0 0h0m1 0h0m1 0h0m0 0h0m1 0h0m0 0h0m2 0h0m0 0h0m2 0h0m1 0h0m0 0h0m0 0h0m2 0h0m1 0h0m1 0h0m4 0h0m5 0h0m-48 1h0m0 0h0m1 0h0m4 0h0m0 0h0m2 0h0m0 0h0m1 0h0m3 0h0m2 0h0m1 0h0m3 0h0m0 0h0m1 0h0m2 0h0m1 0h0m0 0h0m3 0h0m0 0h0m3 0h0m1 0h0m2 0h0m0 0h0m0 0h0m1 0h0m0 0h0m1 0h0m1 0h0m1 0h0m1 0h0m0 0h0m1 0h0m12 0h0m-45 1h0m3 0h0m2 0h0m1 0h0m6 0h0m1 0h0m0 0h0m2 0h0m6 0h0m7 0h0m22 0h0m-28 1h0m8 0h0m3 0h0m5 0h0m14 0h0m-20 1h0m10 0h0m10 0h0" stroke="#000" stroke-width="2.00" stroke-linecap="square" fill="none" stroke-opacity="1.0"/>
<path d="M143.50 237.40V306.20H207.00" stroke="#000" stroke-width="1.1" fill="none"/>
<path d="M141.90 306.20H143.50M143.50 306.20V307.80M141.90 289.00H143.50M159.25 306.20V307.80M141.90 271.80H143.50M175.00 306.20V307.80M141.90 254.60H143.50M190.75 306.20V307.80M141.90 237.40H143.50M206.50 306.20V307.80" stroke="#000" stroke-width="0.6" fill="none"/>
<text x="139.30" y="308.40" font-size="6.2" text-anchor="end" stroke="#000" stroke-width="0.1" textLength="3.3" lengthAdjust="spacingAndGlyphs">0</text>
<text x="144.30" y="315.70" font-size="6.2" text-anchor="middle" fill="#000" stroke="#000" stroke-width="0.15" textLength="8.0" lengthAdjust="spacingAndGlyphs">10<tspan font-size="2.79" dy="-2.23" stroke-width="0.05">0</tspan></text>
<text x="139.30" y="291.20" font-size="6.2" text-anchor="end" stroke="#000" stroke-width="0.1" textLength="9.9" lengthAdjust="spacingAndGlyphs">256</text>
<text x="160.05" y="315.70" font-size="6.2" text-anchor="middle" fill="#000" stroke="#000" stroke-width="0.15" textLength="8.0" lengthAdjust="spacingAndGlyphs">10<tspan font-size="2.79" dy="-2.23" stroke-width="0.05">1</tspan></text>
<text x="139.30" y="274.00" font-size="6.2" text-anchor="end" stroke="#000" stroke-width="0.1" textLength="9.9" lengthAdjust="spacingAndGlyphs">512</text>
<text x="175.80" y="315.70" font-size="6.2" text-anchor="middle" fill="#000" stroke="#000" stroke-width="0.15" textLength="8.0" lengthAdjust="spacingAndGlyphs">10<tspan font-size="2.79" dy="-2.23" stroke-width="0.05">2</tspan></text>
<text x="139.30" y="256.80" font-size="6.2" text-anchor="end" stroke="#000" stroke-width="0.1" textLength="9.9" lengthAdjust="spacingAndGlyphs">768</text>
<text x="191.55" y="315.70" font-size="6.2" text-anchor="middle" fill="#000" stroke="#000" stroke-width="0.15" textLength="8.0" lengthAdjust="spacingAndGlyphs">10<tspan font-size="2.79" dy="-2.23" stroke-width="0.05">3</tspan></text>
<text x="139.30" y="239.60" font-size="6.2" text-anchor="end" stroke="#000" stroke-width="0.1" textLength="13.2" lengthAdjust="spacingAndGlyphs">1024</text>
<text x="207.30" y="315.70" font-size="6.2" text-anchor="middle" fill="#000" stroke="#000" stroke-width="0.15" textLength="8.0" lengthAdjust="spacingAndGlyphs">10<tspan font-size="2.79" dy="-2.23" stroke-width="0.05">4</tspan></text>
<path transform="scale(0.5)" d="M535 561h0m16 0h0m-3 1h0m-18 4h0m21 2h0m-13 2h0m0 0h0m-8 4h0m2 1h0m4 0h0m-10 1h0m5 0h0m16 1h0m3 0h0m-21 4h0m7 0h0m1 1h0m6 0h0m-18 2h0m25 0h0m-1 1h0m-24 1h0m10 0h0m6 2h0m-3 1h0m10 0h0m-5 2h0m5 0h0m-21 2h0m10 1h0m13 0h0m1 0h0m-2 2h0m-17 1h0m19 0h0m-18 2h0m16 0h0m-19 1h0m0 0h0m7 1h0m-1 1h0m-8 1h0m9 1h0m13 1h0m-11 1h0m-11 2h0m15 0h0m-7 1h0m-4 1h0m4 1h0" stroke="#000" stroke-width="1.20" stroke-linecap="square" fill="none" stroke-opacity="0.45"/>
<path transform="scale(0.5)" d="M563 573h0m-1 1h0m0 0h0m-2 1h0m0 1h0m0 0h0m-2 1h0m1 0h0m2 0h0m1 0h0m1 0h0m-4 1h0m-4 1h0m0 0h0m1 0h0m1 0h0m3 0h0m2 0h0m-6 2h0m3 0h0m2 0h0m-6 1h0m1 0h0m2 0h0m-1 1h0m-4 1h0m1 0h0m0 0h0m3 0h0m1 0h0m-1 1h0m1 0h0m1 0h0m-7 1h0m5 0h0m-3 1h0m-2 1h0m2 0h0m-4 1h0m4 0h0m4 0h0m0 0h0m1 0h0m0 0h0m3 0h0m-5 2h0m2 0h0m2 0h0m-9 1h0m2 1h0m0 0h0m5 0h0m-10 1h0m4 0h0m2 0h0m6 0h0m0 0h0m-13 1h0m2 0h0m4 0h0m1 0h0m2 0h0m3 0h0m0 0h0m-4 1h0m1 0h0m-6 1h0m1 0h0m5 0h0m4 0h0m-13 1h0m9 0h0m3 0h0m-4 1h0m3 0h0m2 0h0m-12 1h0m2 0h0m4 0h0m1 0h0m-8 1h0m2 0h0m5 0h0m-7 1h0m3 0h0m8 0h0m1 0h0m0 0h0m-10 1h0m8 0h0m-10 1h0m6 0h0m0 0h0m4 0h0m-11 1h0m8 0h0m4 0h0m-7 1h0m-6 1h0m0 0h0m8 0h0m2 0h0m2 0h0m-12 1h0m1 0h0m2 0h0m9 0h0m-5 1h0m-8 1h0m3 0h0m0 1h0m2 0h0m1 0h0m0 0h0m1 0h0m1 0h0m6 0h0" stroke="#000" stroke-width="1.40" stroke-linecap="square" fill="none" stroke-opacity="0.65"/>
<path transform="scale(0.5)" d="M594 510h0m0 1h0m0 1h0m-1 1h0m3 0h0m-9 1h0m5 0h0m4 0h0m-8 1h0m3 0h0m0 0h0m5 0h0m0 0h0m-12 1h0m2 0h0m3 0h0m1 0h0m0 0h0m9 0h0m-17 1h0m1 0h0m1 0h0m5 0h0m4 0h0m1 0h0m0 0h0m0 0h0m4 0h0m-18 1h0m3 0h0m8 0h0m0 0h0m-13 1h0m4 0h0m1 0h0m0 0h0m7 0h0m1 0h0m1 0h0m5 0h0m-17 1h0m4 0h0m3 0h0m2 0h0m3 0h0m0 0h0m2 0h0m-18 1h0m3 0h0m0 0h0m5 0h0m4 0h0m3 0h0m1 0h0m-16 1h0m1 0h0m3 0h0m0 0h0m1 0h0m0 0h0m2 0h0m8 0h0m0 0h0m3 0h0m1 0h0m4 0h0m0 0h0m-23 1h0m7 0h0m5 0h0m0 0h0m4 0h0m5 0h0m2 0h0m-27 1h0m0 0h0m8 0h0m2 0h0m1 0h0m0 0h0m5 0h0m1 0h0m1 0h0m1 0h0m2 0h0m4 0h0m-22 1h0m1 0h0m0 0h0m1 0h0m2 0h0m4 0h0m2 0h0m5 0h0m-19 1h0m0 0h0m5 0h0m1 0h0m3 0h0m2 0h0m3 0h0m0 0h0m6 0h0m2 0h0m3 0h0m2 0h0m1 0h0m-28 1h0m1 0h0m7 0h0m1 0h0m2 0h0m1 0h0m2 0h0m10 0h0m2 0h0m0 0h0m-22 1h0m10 0h0m1 0h0m4 0h0m0 0h0m2 0h0m3 0h0m-20 1h0m3 0h0m2 0h0m10 0h0m7 0h0m-23 1h0m3 0h0m1 0h0m0 0h0m1 0h0m1 0h0m4 0h0m1 0h0m5 0h0m4 0h0m-14 1h0m6 0h0m2 0h0m1 0h0m2 0h0m1 0h0m2 0h0m1 0h0m1 0h0m1 0h0m1 0h0m1 0h0m-30 1h0m1 0h0m5 0h0m1 0h0m3 0h0m1 0h0m1 0h0m6 0h0m2 0h0m5 0h0m1 0h0m-24 1h0m2 0h0m1 0h0m8 0h0m0 0h0m5 0h0m0 0h0m1 0h0m1 0h0m4 0h0m2 0h0m3 0h0m-29 1h0m3 0h0m2 0h0m1 0h0m0 0h0m2 0h0m2 0h0m16 0h0m3 0h0m1 0h0m-19 1h0m0 0h0m1 0h0m0 0h0m0 0h0m1 0h0m3 0h0m3 0h0m3 0h0m5 0h0m2 0h0m-29 1h0m3 0h0m2 0h0m1 0h0m2 0h0m2 0h0m0 0h0m3 0h0m6 0h0m1 0h0m0 0h0m1 0h0m1 0h0m1 0h0m1 0h0m-24 1h0m4 0h0m4 0h0m2 0h0m12 0h0m0 0h0m0 0h0m8 0h0m-33 1h0m7 0h0m1 0h0m2 0h0m8 0h0m1 0h0m1 0h0m2 0h0m4 0h0m2 0h0m-25 1h0m1 0h0m2 0h0m5 0h0m1 0h0m1 0h0m2 0h0m5 0h0m1 0h0m1 0h0m0 0h0m1 0h0m-13 1h0m1 0h0m3 0h0m2 0h0m1 0h0m3 0h0m2 0h0m2 0h0m0 0h0m6 0h0m0 0h0m-29 1h0m11 0h0m1 0h0m1 0h0m0 0h0m5 0h0m3 0h0m3 0h0m4 0h0m3 0h0m1 0h0m-32 1h0m0 0h0m0 0h0m3 0h0m3 0h0m1 0h0m1 0h0m8 0h0m2 0h0m1 0h0m0 0h0m6 0h0m0 0h0m7 0h0m-29 1h0m8 0h0m7 0h0m3 0h0m1 0h0m6 0h0m2 0h0m2 0h0m-34 1h0m0 0h0m8 0h0m1 0h0m1 0h0m2 0h0m2 0h0m0 0h0m5 0h0m9 0h0m4 0h0m1 0h0m-24 1h0m0 0h0m1 0h0m4 0h0m3 0h0m0 0h0m0 0h0m4 0h0m0 0h0m0 0h0m9 0h0m2 0h0m1 0h0m-31 1h0m5 0h0m2 0h0m2 0h0m1 0h0m2 0h0m2 0h0m0 0h0m1 0h0m6 0h0m1 0h0m1 0h0m5 0h0m-26 1h0m2 0h0m4 0h0m6 0h0m1 0h0m4 0h0m4 0h0m5 0h0m4 0h0m-35 1h0m2 0h0m5 0h0m0 0h0m6 0h0m0 0h0m7 0h0m8 0h0m1 0h0m2 0h0m1 0h0m3 0h0m-33 1h0m4 0h0m0 0h0m2 0h0m7 0h0m14 0h0m4 0h0m2 0h0m0 0h0m-24 1h0m4 0h0m2 0h0m1 0h0m1 0h0m1 0h0m7 0h0m0 0h0m5 0h0m1 0h0m-34 1h0m2 0h0m8 0h0m9 0h0m7 0h0m2 0h0m4 0h0m1 0h0m-31 1h0m1 0h0m3 0h0m6 0h0m4 0h0m0 0h0m2 0h0m11 0h0m5 0h0m-32 1h0m7 0h0m3 0h0m1 0h0m1 0h0m2 0h0m3 0h0m0 0h0m7 0h0m0 0h0m1 0h0m5 0h0m-34 1h0m1 0h0m5 0h0m5 0h0m1 0h0m2 0h0m3 0h0m2 0h0m9 0h0m-23 1h0m2 0h0m2 0h0m8 0h0m4 0h0m1 0h0m0 0h0m2 0h0m0 0h0m0 0h0m1 0h0m6 0h0m0 0h0m1 0h0m-26 1h0m1 0h0m3 0h0m3 0h0m0 0h0m1 0h0m5 0h0m1 0h0m5 0h0m0 0h0m1 0h0m0 0h0m0 0h0m3 0h0m3 0h0m3 0h0m-35 1h0m6 0h0m4 0h0m5 0h0m2 0h0m2 0h0m0 0h0m1 0h0m2 0h0m1 0h0m4 0h0m1 0h0m1 0h0m6 0h0m1 0h0m-36 1h0m1 0h0m2 0h0m2 0h0m5 0h0m10 0h0m7 0h0m0 0h0m2 0h0m1 0h0m2 0h0m1 0h0m0 0h0m4 0h0m-36 1h0m8 0h0m2 0h0m1 0h0m4 0h0m0 0h0m1 0h0m4 0h0m0 0h0m5 0h0m2 0h0m2 0h0m2 0h0m1 0h0m3 0h0m0 0h0m-36 1h0m1 0h0m3 0h0m6 0h0m4 0h0m2 0h0m8 0h0m2 0h0m2 0h0m1 0h0m3 0h0m3 0h0m3 0h0m-39 1h0m4 0h0m4 0h0m1 0h0m2 0h0m1 0h0m0 0h0m10 0h0m1 0h0m0 0h0m1 0h0m2 0h0m4 0h0m2 0h0m-30 1h0m2 0h0m1 0h0m1 0h0m1 0h0m2 0h0m0 0h0m10 0h0m2 0h0m1 0h0m2 0h0m1 0h0m9 0h0m0 0h0m1 0h0m2 0h0m1 0h0m1 0h0m-38 1h0m4 0h0m1 0h0m3 0h0m1 0h0m0 0h0m4 0h0m5 0h0m5 0h0m1 0h0m6 0h0m0 0h0m3 0h0m3 0h0m-36 1h0m2 0h0m3 0h0m7 0h0m0 0h0m1 0h0m1 0h0m1 0h0m4 0h0m2 0h0m1 0h0m1 0h0m3 0h0m1 0h0m0 0h0m2 0h0m0 0h0m0 0h0m0 0h0m5 0h0m2 0h0m2 0h0m-38 1h0m2 0h0m12 0h0m0 0h0m10 0h0m0 0h0m1 0h0m2 0h0m9 0h0m-39 1h0m5 0h0m4 0h0m11 0h0m7 0h0m7 0h0m3 0h0m0 0h0m1 0h0m2 0h0m-38 1h0m5 0h0m1 0h0m2 0h0m3 0h0m0 0h0m3 0h0m1 0h0m1 0h0m4 0h0m1 0h0m2 0h0m1 0h0m5 0h0m0 0h0m4 0h0m0 0h0m0 0h0m4 0h0m-20 1h0m1 0h0m1 0h0m1 0h0m3 0h0m0 0h0m3 0h0m4 0h0m-32 1h0m0 0h0m2 0h0m2 0h0m2 0h0m5 0h0m0 0h0m1 0h0m5 0h0m6 0h0m5 0h0m1 0h0m4 0h0m1 0h0m4 0h0m0 0h0m2 0h0m1 0h0m-40 1h0m1 0h0m1 0h0m1 0h0m0 0h0m0 0h0m4 0h0m1 0h0m4 0h0m2 0h0m3 0h0m2 0h0m3 0h0m1 0h0m4 0h0m2 0h0m0 0h0m3 0h0m7 0h0m-40 1h0m8 0h0m3 0h0m2 0h0m2 0h0m3 0h0m4 0h0m7 0h0m3 0h0m5 0h0m1 0h0m-36 1h0m1 0h0m2 0h0m1 0h0m17 0h0m0 0h0m3 0h0m1 0h0m2 0h0m1 0h0m2 0h0m1 0h0m6 0h0m-39 1h0m2 0h0m0 0h0m0 0h0m1 0h0m1 0h0m3 0h0m3 0h0m2 0h0m0 0h0m4 0h0m2 0h0m1 0h0m1 0h0m3 0h0m0 0h0m5 0h0m1 0h0m7 0h0m1 0h0m-33 1h0m0 0h0m1 0h0m1 0h0m13 0h0m4 0h0m2 0h0m2 0h0m2 0h0m3 0h0m0 0h0m1 0h0m-35 1h0m6 0h0m0 0h0m0 0h0m5 0h0m1 0h0m3 0h0m5 0h0m4 0h0m0 0h0m2 0h0m1 0h0m2 0h0m0 0h0m2 0h0m2 0h0m0 0h0m6 0h0m0 0h0m-39 1h0m1 0h0m1 0h0m4 0h0m0 0h0m0 0h0m7 0h0m1 0h0m0 0h0m5 0h0m1 0h0m2 0h0m1 0h0m0 0h0m1 0h0m7 0h0m1 0h0m6 0h0m1 0h0m2 0h0m-40 1h0m1 0h0m3 0h0m3 0h0m7 0h0m2 0h0m1 0h0m2 0h0m1 0h0m2 0h0m2 0h0m6 0h0m1 0h0m4 0h0m3 0h0m-40 1h0m2 0h0m9 0h0m1 0h0m1 0h0m0 0h0m4 0h0m3 0h0m8 0h0m0 0h0m6 0h0m5 0h0m1 0h0m-33 1h0m3 0h0m0 0h0m6 0h0m10 0h0m3 0h0m0 0h0m1 0h0m3 0h0m1 0h0m0 0h0m4 0h0m3 0h0m-38 1h0m1 0h0m2 0h0m3 0h0m1 0h0m4 0h0m1 0h0m0 0h0m2 0h0m2 0h0m9 0h0m2 0h0m5 0h0m7 0h0m1 0h0m-43 1h0m5 0h0m0 0h0m2 0h0m2 0h0m3 0h0m1 0h0m10 0h0m1 0h0m2 0h0m2 0h0m1 0h0m1 0h0m1 0h0m0 0h0m2 0h0m1 0h0m0 0h0m2 0h0m3 0h0m1 0h0m-41 1h0m1 0h0m7 0h0m4 0h0m7 0h0m3 0h0m2 0h0m0 0h0m4 0h0m1 0h0m5 0h0m0 0h0m1 0h0m3 0h0m-39 1h0m5 0h0m1 0h0m6 0h0m23 0h0m1 0h0m1 0h0m0 0h0m4 0h0m2 0h0m1 0h0m-42 1h0m3 0h0m4 0h0m24 0h0m6 0h0m0 0h0m0 0h0m3 0h0m-37 1h0m2 0h0m1 0h0m1 0h0m3 0h0m2 0h0m4 0h0m0 0h0m1 0h0m3 0h0m1 0h0m0 0h0m1 0h0m4 0h0m0 0h0m4 0h0m1 0h0m1 0h0m2 0h0m5 0h0m2 0h0m1 0h0m-44 1h0m3 0h0m10 0h0m1 0h0m8 0h0m14 0h0m0 0h0m2 0h0m1 0h0m6 0h0m-42 1h0m5 0h0m0 0h0m5 0h0m2 0h0m1 0h0m1 0h0m2 0h0m4 0h0m6 0h0m5 0h0m2 0h0m2 0h0m6 0h0m0 0h0m1 0h0m-38 1h0m2 0h0m2 0h0m6 0h0m1 0h0m4 0h0m3 0h0m2 0h0m0 0h0m2 0h0m1 0h0m7 0h0m3 0h0m2 0h0m-44 1h0m4 0h0m0 0h0m0 0h0m4 0h0m0 0h0m0 0h0m2 0h0m1 0h0m0 0h0m3 0h0m3 0h0m2 0h0m0 0h0m2 0h0m1 0h0m1 0h0m1 0h0m7 0h0m1 0h0m0 0h0m2 0h0m3 0h0m2 0h0m1 0h0m-35 1h0m1 0h0m4 0h0m1 0h0m0 0h0m19 0h0m3 0h0m2 0h0m1 0h0m1 0h0m7 0h0m2 0h0m-46 1h0m0 0h0m1 0h0m4 0h0m1 0h0m1 0h0m2 0h0m1 0h0m3 0h0m0 0h0m2 0h0m4 0h0m5 0h0m0 0h0m15 0h0m8 0h0m-47 1h0m8 0h0m9 0h0m2 0h0m3 0h0m3 0h0m8 0h0m6 0h0m1 0h0m6 0h0m-46 1h0m4 0h0m1 0h0m2 0h0m1 0h0m0 0h0m15 0h0m2 0h0m6 0h0m1 0h0m10 0h0m4 0h0m1 0h0m-49 1h0m2 0h0m2 0h0m0 0h0m1 0h0m9 0h0m2 0h0m8 0h0m2 0h0m0 0h0m2 0h0m14 0h0m3 0h0m3 0h0m0 0h0m-45 1h0m2 0h0m2 0h0m0 0h0m1 0h0m8 0h0m1 0h0m1 0h0m3 0h0m1 0h0m1 0h0m4 0h0m6 0h0m2 0h0m0 0h0m7 0h0m3 0h0m4 0h0m-49 1h0m0 0h0m3 0h0m1 0h0m0 0h0m3 0h0m0 0h0m4 0h0m1 0h0m0 0h0m4 0h0m3 0h0m0 0h0m3 0h0m1 0h0m5 0h0m4 0h0m0 0h0m3 0h0m2 0h0m0 0h0m1 0h0m2 0h0m4 0h0m0 0h0m2 0h0m0 0h0m3 0h0m-45 1h0m1 0h0m1 0h0m4 0h0m2 0h0m1 0h0m0 0h0m2 0h0m2 0h0m2 0h0m2 0h0m1 0h0m1 0h0m4 0h0m9 0h0m4 0h0m2 0h0m4 0h0m1 0h0m-47 1h0m3 0h0m2 0h0m1 0h0m1 0h0m4 0h0m13 0h0m3 0h0m6 0h0m0 0h0m7 0h0m3 0h0m4 0h0m0 0h0m1 0h0m-48 1h0m3 0h0m8 0h0m2 0h0m6 0h0m2 0h0m4 0h0m1 0h0m0 0h0m0 0h0m2 0h0m4 0h0m0 0h0m6 0h0m1 0h0m3 0h0m6 0h0m0 0h0m1 0h0m-43 1h0m3 0h0m0 0h0m5 0h0m3 0h0m2 0h0m12 0h0m2 0h0m1 0h0m3 0h0m2 0h0m1 0h0m2 0h0m1 0h0m1 0h0m3 0h0m0 0h0m1 0h0m-45 1h0m5 0h0m7 0h0m5 0h0m4 0h0m16 0h0m2 0h0m5 0h0m1 0h0m-48 1h0m2 0h0m4 0h0m4 0h0m0 0h0m6 0h0m9 0h0m0 0h0m5 0h0m1 0h0m5 0h0m1 0h0m4 0h0m8 0h0m-48 1h0m2 0h0m3 0h0m0 0h0m1 0h0m0 0h0m1 0h0m2 0h0m3 0h0m0 0h0m15 0h0m2 0h0m7 0h0m0 0h0m6 0h0m1 0h0m-37 1h0m0 0h0m3 0h0m2 0h0m17 0h0m4 0h0m2 0h0m3 0h0m1 0h0m8 0h0m-48 1h0m0 0h0m7 0h0m1 0h0m0 0h0m3 0h0m3 0h0m2 0h0m1 0h0m2 0h0m1 0h0m4 0h0m4 0h0m1 0h0m0 0h0m4 0h0m0 0h0m8 0h0m2 0h0m2 0h0m2 0h0m1 0h0m1 0h0m-49 1h0m1 0h0m0 0h0m0 0h0m5 0h0m1 0h0m1 0h0m1 0h0m0 0h0m4 0h0m1 0h0m4 0h0m2 0h0m2 0h0m6 0h0m0 0h0m2 0h0m7 0h0m5 0h0m4 0h0m1 0h0m0 0h0m-40 1h0m2 0h0m4 0h0m2 0h0m1 0h0m1 0h0m1 0h0m4 0h0m3 0h0m3 0h0m2 0h0m4 0h0m0 0h0m0 0h0m2 0h0m5 0h0m1 0h0m2 0h0m0 0h0m0 0h0m-45 1h0m4 0h0m1 0h0m9 0h0m3 0h0m5 0h0m4 0h0m6 0h0m0 0h0m2 0h0m0 0h0m3 0h0m7 0h0m1 0h0m-42 1h0m3 0h0m5 0h0m0 0h0m3 0h0m5 0h0m3 0h0m4 0h0m6 0h0m1 0h0m4 0h0m4 0h0m3 0h0m-45 1h0m2 0h0m3 0h0m1 0h0m0 0h0m2 0h0m1 0h0m6 0h0m2 0h0m2 0h0m2 0h0m3 0h0m2 0h0m7 0h0m2 0h0m1 0h0m9 0h0m2 0h0m-44 1h0m4 0h0m3 0h0m2 0h0m5 0h0m0 0h0m4 0h0m3 0h0m4 0h0m2 0h0m0 0h0m8 0h0m5 0h0m4 0h0m0 0h0m4 0h0" stroke="#000" stroke-width="1.60" stroke-linecap="square" fill="none" stroke-opacity="0.85"/>
<path transform="scale(0.5)" d="M589 520h0m2 0h0m1 0h0m2 0h0m1 0h0m1 0h0m-7 1h0m0 0h0m1 0h0m2 0h0m0 0h0m2 0h0m0 0h0m2 0h0m-9 1h0m1 0h0m0 0h0m0 0h0m3 0h0m2 0h0m1 0h0m-8 1h0m1 0h0m2 0h0m0 0h0m1 0h0m2 0h0m1 0h0m1 0h0m1 0h0m1 0h0m-15 1h0m1 0h0m0 0h0m5 0h0m7 0h0m0 0h0m1 0h0m0 0h0m2 0h0m-16 1h0m3 0h0m4 0h0m1 0h0m0 0h0m2 0h0m0 0h0m4 0h0m-16 1h0m0 0h0m4 0h0m1 0h0m0 0h0m1 0h0m0 0h0m2 0h0m0 0h0m5 0h0m0 0h0m4 0h0m0 0h0m-18 1h0m1 0h0m1 0h0m1 0h0m0 0h0m7 0h0m1 0h0m3 0h0m1 0h0m-14 1h0m1 0h0m1 0h0m1 0h0m1 0h0m1 0h0m2 0h0m0 0h0m1 0h0m0 0h0m1 0h0m0 0h0m0 0h0m0 0h0m1 0h0m2 0h0m4 0h0m-18 1h0m1 0h0m1 0h0m1 0h0m1 0h0m0 0h0m0 0h0m2 0h0m0 0h0m2 0h0m0 0h0m0 0h0m3 0h0m0 0h0m4 0h0m2 0h0m1 0h0m0 0h0m2 0h0m-17 1h0m1 0h0m2 0h0m3 0h0m1 0h0m1 0h0m2 0h0m0 0h0m4 0h0m2 0h0m-19 1h0m1 0h0m1 0h0m2 0h0m0 0h0m1 0h0m2 0h0m0 0h0m1 0h0m2 0h0m4 0h0m5 0h0m-19 1h0m2 0h0m0 0h0m0 0h0m2 0h0m2 0h0m2 0h0m2 0h0m0 0h0m2 0h0m2 0h0m0 0h0m0 0h0m1 0h0m0 0h0m3 0h0m1 0h0m-20 1h0m0 0h0m2 0h0m0 0h0m1 0h0m1 0h0m1 0h0m3 0h0m0 0h0m6 0h0m0 0h0m0 0h0m2 0h0m1 0h0m1 0h0m0 0h0m1 0h0m2 0h0m-21 1h0m1 0h0m3 0h0m0 0h0m1 0h0m3 0h0m1 0h0m0 0h0m1 0h0m0 0h0m0 0h0m1 0h0m6 0h0m2 0h0m1 0h0m-21 1h0m4 0h0m1 0h0m0 0h0m1 0h0m0 0h0m2 0h0m1 0h0m0 0h0m4 0h0m1 0h0m2 0h0m3 0h0m1 0h0m-18 1h0m6 0h0m0 0h0m3 0h0m0 0h0m1 0h0m2 0h0m2 0h0m1 0h0m0 0h0m4 0h0m0 0h0m0 0h0m-20 1h0m2 0h0m0 0h0m2 0h0m1 0h0m4 0h0m0 0h0m1 0h0m1 0h0m2 0h0m2 0h0m0 0h0m1 0h0m3 0h0m1 0h0m-22 1h0m0 0h0m0 0h0m1 0h0m1 0h0m2 0h0m2 0h0m0 0h0m1 0h0m2 0h0m4 0h0m3 0h0m0 0h0m1 0h0m1 0h0m4 0h0m-22 1h0m3 0h0m4 0h0m0 0h0m6 0h0m2 0h0m0 0h0m2 0h0m1 0h0m2 0h0m2 0h0m0 0h0m-21 1h0m1 0h0m0 0h0m0 0h0m1 0h0m2 0h0m1 0h0m1 0h0m3 0h0m1 0h0m1 0h0m2 0h0m0 0h0m2 0h0m1 0h0m2 0h0m1 0h0m-21 1h0m1 0h0m1 0h0m0 0h0m1 0h0m2 0h0m1 0h0m2 0h0m1 0h0m2 0h0m5 0h0m0 0h0m1 0h0m0 0h0m1 0h0m2 0h0m2 0h0m0 0h0m1 0h0m-23 1h0m0 0h0m1 0h0m0 0h0m1 0h0m0 0h0m0 0h0m0 0h0m0 0h0m4 0h0m1 0h0m2 0h0m4 0h0m2 0h0m0 0h0m1 0h0m1 0h0m0 0h0m1 0h0m3 0h0m2 0h0m-22 1h0m0 0h0m2 0h0m1 0h0m1 0h0m0 0h0m0 0h0m1 0h0m2 0h0m2 0h0m1 0h0m0 0h0m1 0h0m1 0h0m0 0h0m0 0h0m1 0h0m7 0h0m2 0h0m0 0h0m0 0h0m-18 1h0m0 0h0m1 0h0m2 0h0m0 0h0m2 0h0m3 0h0m0 0h0m0 0h0m1 0h0m1 0h0m1 0h0m1 0h0m1 0h0m-19 1h0m0 0h0m1 0h0m1 0h0m1 0h0m2 0h0m2 0h0m1 0h0m3 0h0m0 0h0m1 0h0m2 0h0m1 0h0m0 0h0m0 0h0m1 0h0m2 0h0m1 0h0m4 0h0m0 0h0m1 0h0m-24 1h0m0 0h0m2 0h0m1 0h0m2 0h0m2 0h0m0 0h0m2 0h0m1 0h0m1 0h0m1 0h0m1 0h0m0 0h0m2 0h0m0 0h0m1 0h0m8 0h0m-20 1h0m2 0h0m1 0h0m2 0h0m1 0h0m3 0h0m0 0h0m0 0h0m2 0h0m0 0h0m1 0h0m1 0h0m1 0h0m0 0h0m1 0h0m0 0h0m0 0h0m1 0h0m1 0h0m-19 1h0m1 0h0m0 0h0m1 0h0m4 0h0m0 0h0m2 0h0m0 0h0m1 0h0m1 0h0m2 0h0m0 0h0m0 0h0m2 0h0m1 0h0m0 0h0m1 0h0m1 0h0m3 0h0m0 0h0m0 0h0m1 0h0m0 0h0m1 0h0m0 0h0m-25 1h0m1 0h0m2 0h0m3 0h0m2 0h0m2 0h0m1 0h0m0 0h0m4 0h0m4 0h0m0 0h0m0 0h0m2 0h0m0 0h0m1 0h0m0 0h0m3 0h0m-25 1h0m6 0h0m3 0h0m3 0h0m0 0h0m1 0h0m1 0h0m2 0h0m0 0h0m0 0h0m1 0h0m0 0h0m0 0h0m4 0h0m1 0h0m0 0h0m1 0h0m0 0h0m1 0h0m-24 1h0m4 0h0m3 0h0m3 0h0m0 0h0m1 0h0m2 0h0m1 0h0m4 0h0m0 0h0m1 0h0m1 0h0m0 0h0m2 0h0m2 0h0m-24 1h0m1 0h0m1 0h0m1 0h0m1 0h0m2 0h0m3 0h0m0 0h0m2 0h0m3 0h0m1 0h0m1 0h0m1 0h0m0 0h0m1 0h0m0 0h0m1 0h0m2 0h0m1 0h0m-23 1h0m0 0h0m1 0h0m0 0h0m1 0h0m1 0h0m0 0h0m1 0h0m3 0h0m0 0h0m1 0h0m2 0h0m3 0h0m0 0h0m3 0h0m1 0h0m1 0h0m1 0h0m1 0h0m1 0h0m1 0h0m1 0h0m1 0h0m0 0h0m-24 1h0m2 0h0m4 0h0m2 0h0m0 0h0m4 0h0m2 0h0m2 0h0m0 0h0m2 0h0m0 0h0m1 0h0m4 0h0m0 0h0m2 0h0m0 0h0m-25 1h0m0 0h0m2 0h0m0 0h0m0 0h0m1 0h0m1 0h0m2 0h0m2 0h0m1 0h0m1 0h0m1 0h0m2 0h0m1 0h0m0 0h0m2 0h0m1 0h0m1 0h0m3 0h0m0 0h0m1 0h0m1 0h0m-24 1h0m1 0h0m1 0h0m1 0h0m1 0h0m2 0h0m1 0h0m1 0h0m3 0h0m1 0h0m1 0h0m2 0h0m1 0h0m0 0h0m1 0h0m1 0h0m1 0h0m4 0h0m1 0h0m1 0h0m1 0h0m1 0h0m-27 1h0m2 0h0m3 0h0m0 0h0m0 0h0m0 0h0m2 0h0m1 0h0m1 0h0m2 0h0m1 0h0m1 0h0m1 0h0m4 0h0m1 0h0m2 0h0m0 0h0m0 0h0m4 0h0m0 0h0m0 0h0m1 0h0m-24 1h0m1 0h0m1 0h0m1 0h0m0 0h0m0 0h0m2 0h0m2 0h0m1 0h0m2 0h0m4 0h0m2 0h0m1 0h0m2 0h0m4 0h0m0 0h0m1 0h0m-21 1h0m1 0h0m0 0h0m0 0h0m1 0h0m1 0h0m1 0h0m2 0h0m2 0h0m3 0h0m3 0h0m1 0h0m0 0h0m1 0h0m2 0h0m1 0h0m0 0h0m0 0h0m-24 1h0m2 0h0m2 0h0m1 0h0m0 0h0m1 0h0m1 0h0m0 0h0m1 0h0m0 0h0m1 0h0m1 0h0m1 0h0m0 0h0m1 0h0m0 0h0m1 0h0m0 0h0m3 0h0m0 0h0m0 0h0m2 0h0m3 0h0m-20 1h0m1 0h0m0 0h0m1 0h0m1 0h0m0 0h0m2 0h0m3 0h0m0 0h0m0 0h0m1 0h0m0 0h0m1 0h0m3 0h0m1 0h0m1 0h0m0 0h0m0 0h0m2 0h0m0 0h0m0 0h0m1 0h0m6 0h0m-25 1h0m0 0h0m4 0h0m1 0h0m1 0h0m1 0h0m1 0h0m2 0h0m2 0h0m1 0h0m1 0h0m6 0h0m3 0h0m0 0h0m1 0h0m0 0h0m1 0h0m1 0h0m-25 1h0m1 0h0m1 0h0m1 0h0m1 0h0m4 0h0m2 0h0m1 0h0m1 0h0m1 0h0m0 0h0m0 0h0m4 0h0m1 0h0m0 0h0m1 0h0m2 0h0m1 0h0m0 0h0m3 0h0m-25 1h0m2 0h0m6 0h0m0 0h0m0 0h0m4 0h0m0 0h0m2 0h0m0 0h0m1 0h0m0 0h0m1 0h0m0 0h0m1 0h0m2 0h0m0 0h0m1 0h0m0 0h0m0 0h0m1 0h0m1 0h0m1 0h0m0 0h0m0 0h0m1 0h0m-26 1h0m0 0h0m1 0h0m1 0h0m1 0h0m4 0h0m3 0h0m2 0h0m0 0h0m1 0h0m2 0h0m1 0h0m1 0h0m0 0h0m1 0h0m0 0h0m0 0h0m0 0h0m1 0h0m0 0h0m5 0h0m3 0h0m-27 1h0m0 0h0m1 0h0m1 0h0m1 0h0m0 0h0m3 0h0m2 0h0m3 0h0m2 0h0m4 0h0m2 0h0m0 0h0m5 0h0m2 0h0m0 0h0m0 0h0m-20 1h0m0 0h0m3 0h0m1 0h0m3 0h0m1 0h0m0 0h0m0 0h0m3 0h0m1 0h0m1 0h0m1 0h0m1 0h0m-22 1h0m4 0h0m3 0h0m8 0h0m2 0h0m2 0h0m3 0h0m2 0h0m1 0h0m2 0h0m-26 1h0m1 0h0m0 0h0m0 0h0m3 0h0m2 0h0m3 0h0m1 0h0m1 0h0m1 0h0m1 0h0m2 0h0m1 0h0m1 0h0m1 0h0m0 0h0m4 0h0m1 0h0m1 0h0m0 0h0m0 0h0m3 0h0m-29 1h0m1 0h0m2 0h0m1 0h0m0 0h0m1 0h0m2 0h0m1 0h0m1 0h0m2 0h0m2 0h0m1 0h0m0 0h0m0 0h0m1 0h0m2 0h0m3 0h0m2 0h0m3 0h0m2 0h0m-23 1h0m1 0h0m0 0h0m0 0h0m0 0h0m0 0h0m1 0h0m0 0h0m2 0h0m0 0h0m2 0h0m3 0h0m1 0h0m1 0h0m1 0h0m1 0h0m3 0h0m4 0h0m1 0h0m1 0h0m2 0h0m-28 1h0m0 0h0m1 0h0m0 0h0m1 0h0m1 0h0m0 0h0m1 0h0m4 0h0m3 0h0m6 0h0m0 0h0m4 0h0m1 0h0m0 0h0m2 0h0m1 0h0m1 0h0m-26 1h0m1 0h0m1 0h0m3 0h0m0 0h0m4 0h0m1 0h0m2 0h0m1 0h0m0 0h0m5 0h0m1 0h0m1 0h0m1 0h0m0 0h0m1 0h0m0 0h0m2 0h0m5 0h0m-30 1h0m3 0h0m0 0h0m5 0h0m2 0h0m2 0h0m1 0h0m1 0h0m1 0h0m3 0h0m1 0h0m1 0h0m1 0h0m3 0h0m1 0h0m1 0h0m0 0h0m1 0h0m0 0h0m1 0h0m-27 1h0m0 0h0m1 0h0m4 0h0m1 0h0m1 0h0m0 0h0m2 0h0m1 0h0m1 0h0m4 0h0m1 0h0m2 0h0m2 0h0m1 0h0m4 0h0m0 0h0m1 0h0m2 0h0m-28 1h0m0 0h0m1 0h0m1 0h0m3 0h0m1 0h0m0 0h0m3 0h0m2 0h0m3 0h0m1 0h0m1 0h0m1 0h0m0 0h0m1 0h0m1 0h0m0 0h0m1 0h0m0 0h0m0 0h0m2 0h0m0 0h0m1 0h0m2 0h0m0 0h0m2 0h0m-28 1h0m2 0h0m0 0h0m4 0h0m1 0h0m2 0h0m0 0h0m1 0h0m4 0h0m1 0h0m1 0h0m2 0h0m0 0h0m1 0h0m1 0h0m0 0h0m1 0h0m1 0h0m1 0h0m2 0h0m0 0h0m3 0h0m0 0h0m-28 1h0m1 0h0m3 0h0m1 0h0m0 0h0m2 0h0m0 0h0m2 0h0m1 0h0m0 0h0m4 0h0m0 0h0m3 0h0m0 0h0m2 0h0m2 0h0m1 0h0m0 0h0m1 0h0m4 0h0m0 0h0m-28 1h0m0 0h0m6 0h0m1 0h0m0 0h0m1 0h0m1 0h0m2 0h0m2 0h0m1 0h0m6 0h0m0 0h0m0 0h0m1 0h0m3 0h0m2 0h0m1 0h0m0 0h0m1 0h0m-25 1h0m0 0h0m2 0h0m0 0h0m2 0h0m0 0h0m1 0h0m2 0h0m5 0h0m0 0h0m0 0h0m1 0h0m0 0h0m1 0h0m1 0h0m1 0h0m2 0h0m5 0h0m2 0h0m-27 1h0m3 0h0m0 0h0m0 0h0m2 0h0m1 0h0m1 0h0m9 0h0m1 0h0m0 0h0m2 0h0m1 0h0m0 0h0m2 0h0m1 0h0m0 0h0m1 0h0m-26 1h0m0 0h0m1 0h0m0 0h0m0 0h0m1 0h0m1 0h0m2 0h0m0 0h0m2 0h0m1 0h0m1 0h0m0 0h0m0 0h0m2 0h0m4 0h0m1 0h0m2 0h0m2 0h0m1 0h0m0 0h0m0 0h0m2 0h0m1 0h0m4 0h0m1 0h0m1 0h0m0 0h0m-29 1h0m1 0h0m0 0h0m1 0h0m3 0h0m4 0h0m1 0h0m3 0h0m0 0h0m1 0h0m0 0h0m4 0h0m1 0h0m1 0h0m0 0h0m1 0h0m2 0h0m4 0h0m2 0h0m-30 1h0m1 0h0m0 0h0m0 0h0m1 0h0m1 0h0m1 0h0m1 0h0m3 0h0m1 0h0m3 0h0m3 0h0m3 0h0m1 0h0m6 0h0m1 0h0m4 0h0m1 0h0m-27 1h0m1 0h0m0 0h0m1 0h0m1 0h0m1 0h0m0 0h0m2 0h0m1 0h0m0 0h0m1 0h0m2 0h0m1 0h0m0 0h0m1 0h0m0 0h0m2 0h0m0 0h0m1 0h0m1 0h0m1 0h0m1 0h0m2 0h0m5 0h0m0 0h0m-29 1h0m1 0h0m2 0h0m0 0h0m1 0h0m0 0h0m1 0h0m1 0h0m0 0h0m1 0h0m0 0h0m1 0h0m0 0h0m1 0h0m0 0h0m0 0h0m0 0h0m1 0h0m2 0h0m1 0h0m3 0h0m0 0h0m0 0h0m0 0h0m3 0h0m6 0h0m3 0h0m-26 1h0m2 0h0m3 0h0m0 0h0m1 0h0m1 0h0m4 0h0m1 0h0m6 0h0m2 0h0m5 0h0m-28 1h0m0 0h0m0 0h0m0 0h0m3 0h0m2 0h0m0 0h0m2 0h0m1 0h0m0 0h0m2 0h0m1 0h0m0 0h0m0 0h0m2 0h0m2 0h0m2 0h0m1 0h0m7 0h0m1 0h0m0 0h0m0 0h0m0 0h0m1 0h0m0 0h0m1 0h0m1 0h0m1 0h0m0 0h0m1 0h0m-31 1h0m2 0h0m2 0h0m1 0h0m2 0h0m6 0h0m1 0h0m1 0h0m1 0h0m0 0h0m0 0h0m0 0h0m1 0h0m1 0h0m6 0h0m1 0h0m4 0h0m1 0h0m0 0h0m1 0h0m-30 1h0m2 0h0m1 0h0m0 0h0m4 0h0m0 0h0m0 0h0m0 0h0m3 0h0m2 0h0m0 0h0m2 0h0m1 0h0m1 0h0m2 0h0m1 0h0m3 0h0m0 0h0m1 0h0m4 0h0m0 0h0m3 0h0m0 0h0m-22 1h0m3 0h0m2 0h0m0 0h0m1 0h0m0 0h0m5 0h0m0 0h0m0 0h0m1 0h0m3 0h0m3 0h0m2 0h0m-29 1h0m0 0h0m5 0h0m2 0h0m0 0h0m1 0h0m5 0h0m3 0h0m1 0h0m3 0h0m1 0h0m1 0h0m3 0h0m2 0h0m3 0h0m-28 1h0m0 0h0m0 0h0m3 0h0m0 0h0m1 0h0m1 0h0m0 0h0m0 0h0m4 0h0m1 0h0m2 0h0m0 0h0m0 0h0m0 0h0m1 0h0m1 0h0m2 0h0m1 0h0m1 0h0m0 0h0m0 0h0m5 0h0m1 0h0m1 0h0m2 0h0m1 0h0m0 0h0m0 0h0m-31 1h0m0 0h0m1 0h0m0 0h0m1 0h0m0 0h0m2 0h0m0 0h0m0 0h0m1 0h0m3 0h0m0 0h0m0 0h0m0 0h0m1 0h0m0 0h0m3 0h0m2 0h0m1 0h0m0 0h0m3 0h0m0 0h0m0 0h0m2 0h0m1 0h0m0 0h0m0 0h0m3 0h0m0 0h0m0 0h0m4 0h0m1 0h0m1 0h0m1 0h0m1 0h0m-32 1h0m3 0h0m2 0h0m2 0h0m3 0h0m4 0h0m2 0h0m2 0h0m0 0h0m1 0h0m0 0h0m1 0h0m2 0h0m0 0h0m4 0h0m1 0h0m2 0h0m0 0h0m1 0h0m-29 1h0m1 0h0m1 0h0m0 0h0m2 0h0m0 0h0m0 0h0m1 0h0m1 0h0m4 0h0m4 0h0m0 0h0m1 0h0m0 0h0m0 0h0m0 0h0m1 0h0m2 0h0m0 0h0m1 0h0m1 0h0m3 0h0m1 0h0m1 0h0m1 0h0m1 0h0m1 0h0m0 0h0m0 0h0m2 0h0m-29 1h0m5 0h0m1 0h0m3 0h0m0 0h0m1 0h0m0 0h0m0 0h0m1 0h0m1 0h0m1 0h0m0 0h0m1 0h0m2 0h0m0 0h0m0 0h0m2 0h0m1 0h0m2 0h0m1 0h0m3 0h0m0 0h0m1 0h0m0 0h0m0 0h0m1 0h0m1 0h0m-29 1h0m1 0h0m1 0h0m2 0h0m2 0h0m1 0h0m2 0h0m1 0h0m5 0h0m1 0h0m1 0h0m3 0h0m1 0h0m0 0h0m2 0h0m4 0h0m1 0h0m1 0h0m0 0h0m-29 1h0m0 0h0m0 0h0m1 0h0m1 0h0m4 0h0m1 0h0m1 0h0m0 0h0m2 0h0m1 0h0m5 0h0m2 0h0m8 0h0m2 0h0m0 0h0m2 0h0m-31 1h0m2 0h0m1 0h0m3 0h0m2 0h0m1 0h0m1 0h0m5 0h0m0 0h0m0 0h0m0 0h0m2 0h0m3 0h0m3 0h0m3 0h0m1 0h0m2 0h0m0 0h0m1 0h0m-29 1h0m3 0h0m0 0h0m5 0h0m1 0h0m1 0h0m3 0h0m1 0h0m0 0h0m2 0h0m0 0h0m1 0h0m1 0h0m0 0h0m0 0h0m1 0h0m1 0h0m1 0h0m4 0h0m2 0h0m1 0h0m0 0h0m1 0h0m-30 1h0m0 0h0m4 0h0m1 0h0m2 0h0m4 0h0m0 0h0m2 0h0m0 0h0m2 0h0m0 0h0m1 0h0m1 0h0m2 0h0m0 0h0m3 0h0m6 0h0m2 0h0m-29 1h0m1 0h0m2 0h0m1 0h0m2 0h0m0 0h0m2 0h0m2 0h0m1 0h0m1 0h0m0 0h0m3 0h0m0 0h0m2 0h0m4 0h0m1 0h0m2 0h0m0 0h0m2 0h0m1 0h0m-27 1h0m2 0h0m0 0h0m2 0h0m0 0h0m0 0h0m4 0h0m3 0h0m0 0h0m1 0h0m3 0h0m1 0h0m3 0h0m1 0h0m1 0h0m1 0h0m1 0h0m1 0h0m2 0h0m-26 1h0m0 0h0m1 0h0m1 0h0m0 0h0m0 0h0m1 0h0m1 0h0m1 0h0m2 0h0m2 0h0m1 0h0m2 0h0m1 0h0m1 0h0m2 0h0m2 0h0m2 0h0m1 0h0m1 0h0m1 0h0m1 0h0m0 0h0m0 0h0m1 0h0m-27 1h0m2 0h0m1 0h0m0 0h0m0 0h0m1 0h0m2 0h0m0 0h0m3 0h0m2 0h0m2 0h0m0 0h0m1 0h0m2 0h0m3 0h0m1 0h0m1 0h0m2 0h0m0 0h0m2 0h0m0 0h0m-21 1h0m1 0h0m0 0h0m1 0h0m1 0h0m3 0h0m1 0h0m0 0h0m1 0h0m0 0h0m0 0h0m2 0h0m0 0h0m3 0h0m1 0h0m1 0h0m1 0h0m4 0h0m1 0h0m1 0h0m0 0h0m-26 1h0m1 0h0m2 0h0m2 0h0m0 0h0m2 0h0m1 0h0m4 0h0m1 0h0m0 0h0m1 0h0m2 0h0m2 0h0m0 0h0m1 0h0m2 0h0m2 0h0m0 0h0m-20 1h0m1 0h0m2 0h0m2 0h0m1 0h0m2 0h0m1 0h0m2 0h0m0 0h0m0 0h0m3 0h0m0 0h0m0 0h0m2 0h0m1 0h0m3 0h0m0 0h0m1 0h0m0 0h0m0 0h0m0 0h0m2 0h0m-23 1h0m6 0h0m1 0h0m3 0h0m0 0h0m3 0h0m2 0h0m1 0h0m1 0h0m2 0h0m0 0h0m-15 1h0m0 0h0m0 0h0m4 0h0m2 0h0m2 0h0m7 0h0m1 0h0m1 0h0m0 0h0" stroke="#000" stroke-width="2.00" stroke-linecap="square" fill="none" stroke-opacity="1.0"/>
<path d="M260.70 237.40V306.20H324.20" stroke="#000" stroke-width="1.1" fill="none"/>
<path d="M259.10 306.20H260.70M260.70 306.20V307.80M259.10 289.00H260.70M276.45 306.20V307.80M259.10 271.80H260.70M292.20 306.20V307.80M259.10 254.60H260.70M307.95 306.20V307.80M259.10 237.40H260.70M323.70 306.20V307.80" stroke="#000" stroke-width="0.6" fill="none"/>
<text x="253.10" y="308.40" font-size="6.2" text-anchor="middle" fill="#000" stroke="#000" stroke-width="0.15" textLength="8.0" lengthAdjust="spacingAndGlyphs">10<tspan font-size="2.79" dy="-2.23" stroke-width="0.05">0</tspan></text>
<text x="261.50" y="315.70" font-size="6.2" text-anchor="middle" fill="#000" stroke="#000" stroke-width="0.15" textLength="8.0" lengthAdjust="spacingAndGlyphs">10<tspan font-size="2.79" dy="-2.23" stroke-width="0.05">0</tspan></text>
<text x="253.10" y="291.20" font-size="6.2" text-anchor="middle" fill="#000" stroke="#000" stroke-width="0.15" textLength="8.0" lengthAdjust="spacingAndGlyphs">10<tspan font-size="2.79" dy="-2.23" stroke-width="0.05">1</tspan></text>
<text x="277.25" y="315.70" font-size="6.2" text-anchor="middle" fill="#000" stroke="#000" stroke-width="0.15" textLength="8.0" lengthAdjust="spacingAndGlyphs">10<tspan font-size="2.79" dy="-2.23" stroke-width="0.05">1</tspan></text>
<text x="253.10" y="274.00" font-size="6.2" text-anchor="middle" fill="#000" stroke="#000" stroke-width="0.15" textLength="8.0" lengthAdjust="spacingAndGlyphs">10<tspan font-size="2.79" dy="-2.23" stroke-width="0.05">2</tspan></text>
<text x="293.00" y="315.70" font-size="6.2" text-anchor="middle" fill="#000" stroke="#000" stroke-width="0.15" textLength="8.0" lengthAdjust="spacingAndGlyphs">10<tspan font-size="2.79" dy="-2.23" stroke-width="0.05">2</tspan></text>
<text x="253.10" y="256.80" font-size="6.2" text-anchor="middle" fill="#000" stroke="#000" stroke-width="0.15" textLength="8.0" lengthAdjust="spacingAndGlyphs">10<tspan font-size="2.79" dy="-2.23" stroke-width="0.05">3</tspan></text>
<text x="308.75" y="315.70" font-size="6.2" text-anchor="middle" fill="#000" stroke="#000" stroke-width="0.15" textLength="8.0" lengthAdjust="spacingAndGlyphs">10<tspan font-size="2.79" dy="-2.23" stroke-width="0.05">3</tspan></text>
<text x="253.10" y="239.60" font-size="6.2" text-anchor="middle" fill="#000" stroke="#000" stroke-width="0.15" textLength="8.0" lengthAdjust="spacingAndGlyphs">10<tspan font-size="2.79" dy="-2.23" stroke-width="0.05">4</tspan></text>
<text x="324.50" y="315.70" font-size="6.2" text-anchor="middle" fill="#000" stroke="#000" stroke-width="0.15" textLength="8.0" lengthAdjust="spacingAndGlyphs">10<tspan font-size="2.79" dy="-2.23" stroke-width="0.05">4</tspan></text>
<path transform="scale(0.5)" d="M820 512h0m-23 2h0m16 4h0m-40 3h0m-2 3h0m5 1h0m18 5h0m-3 1h0m-34 1h0m20 1h0m38 0h0m-2 4h0m-17 1h0m10 0h0m13 0h0m-20 2h0m-12 4h0m-31 2h0m46 1h0m2 5h0m11 2h0m0 1h0m-13 1h0m3 0h0m-31 2h0m-20 5h0m53 0h0m4 9h0m-1 1h0m-24 4h0m20 0h0m22 0h0m-63 3h0m26 2h0m44 0h0m-62 3h0m11 0h0m31 1h0m-41 4h0m57 1h0m-45 1h0m15 3h0m-13 5h0m26 4h0m-57 1h0m78 2h0m-63 2h0m9 1h0m15 0h0" stroke="#000" stroke-width="1.20" stroke-linecap="square" fill="none" stroke-opacity="0.45"/>
<path transform="scale(0.5)" d="M817 519h0m0 0h0m0 1h0m-8 1h0m3 0h0m9 0h0m0 0h0m-16 1h0m3 0h0m10 0h0m-10 1h0m2 0h0m3 0h0m0 0h0m0 0h0m1 0h0m1 0h0m0 0h0m0 0h0m3 0h0m0 0h0m-15 1h0m8 0h0m2 0h0m1 0h0m3 0h0m0 0h0m5 0h0m-13 1h0m1 0h0m0 0h0m2 0h0m1 0h0m1 0h0m2 0h0m2 0h0m1 0h0m3 0h0m-21 1h0m2 0h0m0 0h0m0 0h0m1 0h0m0 0h0m1 0h0m3 0h0m0 0h0m2 0h0m9 0h0m1 0h0m-25 1h0m0 0h0m1 0h0m3 0h0m1 0h0m5 0h0m4 0h0m1 0h0m0 0h0m5 0h0m0 0h0m2 0h0m3 0h0m1 0h0m1 0h0m-25 1h0m9 0h0m1 0h0m3 0h0m4 0h0m1 0h0m1 0h0m1 0h0m1 0h0m4 0h0m2 0h0m1 0h0m-29 1h0m1 0h0m1 0h0m8 0h0m0 0h0m2 0h0m5 0h0m1 0h0m-21 1h0m4 0h0m0 0h0m4 0h0m1 0h0m0 0h0m2 0h0m4 0h0m1 0h0m3 0h0m1 0h0m4 0h0m0 0h0m4 0h0m-27 1h0m1 0h0m4 0h0m7 0h0m1 0h0m0 0h0m3 0h0m4 0h0m10 0h0m-25 1h0m3 0h0m4 0h0m1 0h0m0 0h0m1 0h0m0 0h0m10 0h0m1 0h0m2 0h0m-32 1h0m0 0h0m3 0h0m3 0h0m2 0h0m1 0h0m13 0h0m2 0h0m3 0h0m5 0h0m4 0h0m0 0h0m-35 1h0m2 0h0m2 0h0m0 0h0m0 0h0m0 0h0m3 0h0m6 0h0m2 0h0m2 0h0m2 0h0m2 0h0m6 0h0m1 0h0m3 0h0m1 0h0m1 0h0m-36 1h0m4 0h0m4 0h0m0 0h0m1 0h0m1 0h0m1 0h0m1 0h0m0 0h0m1 0h0m1 0h0m0 0h0m2 0h0m1 0h0m7 0h0m1 0h0m6 0h0m0 0h0m1 0h0m-31 1h0m1 0h0m0 0h0m12 0h0m4 0h0m5 0h0m6 0h0m2 0h0m-34 1h0m4 0h0m7 0h0m8 0h0m4 0h0m0 0h0m4 0h0m0 0h0m7 0h0m4 0h0m0 0h0m2 0h0m-41 1h0m1 0h0m0 0h0m3 0h0m11 0h0m3 0h0m1 0h0m8 0h0m4 0h0m5 0h0m2 0h0m-39 1h0m4 0h0m2 0h0m1 0h0m4 0h0m2 0h0m0 0h0m7 0h0m1 0h0m7 0h0m5 0h0m0 0h0m1 0h0m8 0h0m1 0h0m-43 1h0m8 0h0m1 0h0m1 0h0m3 0h0m2 0h0m2 0h0m2 0h0m6 0h0m2 0h0m1 0h0m3 0h0m2 0h0m-33 1h0m4 0h0m2 0h0m4 0h0m0 0h0m1 0h0m7 0h0m1 0h0m5 0h0m1 0h0m3 0h0m0 0h0m5 0h0m0 0h0m1 0h0m-36 1h0m4 0h0m14 0h0m1 0h0m2 0h0m3 0h0m2 0h0m6 0h0m1 0h0m0 0h0m3 0h0m1 0h0m7 0h0m-44 1h0m8 0h0m2 0h0m0 0h0m5 0h0m3 0h0m2 0h0m1 0h0m0 0h0m2 0h0m0 0h0m2 0h0m0 0h0m3 0h0m0 0h0m2 0h0m4 0h0m5 0h0m0 0h0m4 0h0m0 0h0m2 0h0m-43 1h0m0 0h0m6 0h0m1 0h0m2 0h0m14 0h0m1 0h0m1 0h0m6 0h0m1 0h0m1 0h0m4 0h0m1 0h0m3 0h0m1 0h0m-45 1h0m0 0h0m1 0h0m1 0h0m3 0h0m0 0h0m3 0h0m4 0h0m2 0h0m4 0h0m2 0h0m3 0h0m0 0h0m1 0h0m3 0h0m1 0h0m2 0h0m0 0h0m5 0h0m3 0h0m-39 1h0m3 0h0m3 0h0m1 0h0m1 0h0m2 0h0m1 0h0m2 0h0m9 0h0m6 0h0m1 0h0m1 0h0m5 0h0m1 0h0m0 0h0m3 0h0m0 0h0m2 0h0m1 0h0m3 0h0m0 0h0m-46 1h0m3 0h0m3 0h0m4 0h0m5 0h0m1 0h0m3 0h0m6 0h0m0 0h0m0 0h0m1 0h0m1 0h0m1 0h0m4 0h0m3 0h0m3 0h0m0 0h0m4 0h0m1 0h0m1 0h0m2 0h0m-46 1h0m5 0h0m2 0h0m1 0h0m2 0h0m0 0h0m5 0h0m2 0h0m1 0h0m3 0h0m4 0h0m8 0h0m4 0h0m2 0h0m7 0h0m1 0h0m1 0h0m-49 1h0m1 0h0m3 0h0m3 0h0m1 0h0m4 0h0m3 0h0m7 0h0m1 0h0m1 0h0m3 0h0m9 0h0m-36 1h0m3 0h0m2 0h0m6 0h0m0 0h0m9 0h0m2 0h0m2 0h0m3 0h0m2 0h0m0 0h0m3 0h0m4 0h0m10 0h0m-47 1h0m2 0h0m3 0h0m3 0h0m3 0h0m7 0h0m4 0h0m3 0h0m4 0h0m-24 1h0m2 0h0m6 0h0m0 0h0m3 0h0m5 0h0m1 0h0m3 0h0m4 0h0m3 0h0m3 0h0m1 0h0m5 0h0m2 0h0m3 0h0m0 0h0m3 0h0m0 0h0m0 0h0m-48 1h0m8 0h0m4 0h0m2 0h0m3 0h0m0 0h0m1 0h0m3 0h0m3 0h0m0 0h0m2 0h0m0 0h0m7 0h0m4 0h0m0 0h0m3 0h0m-41 1h0m8 0h0m6 0h0m2 0h0m2 0h0m3 0h0m5 0h0m3 0h0m1 0h0m1 0h0m2 0h0m5 0h0m-38 1h0m1 0h0m2 0h0m5 0h0m1 0h0m1 0h0m2 0h0m3 0h0m1 0h0m4 0h0m0 0h0m3 0h0m1 0h0m1 0h0m0 0h0m1 0h0m6 0h0m0 0h0m2 0h0m2 0h0m3 0h0m0 0h0m3 0h0m-43 1h0m1 0h0m4 0h0m1 0h0m5 0h0m5 0h0m0 0h0m4 0h0m3 0h0m7 0h0m6 0h0m1 0h0m4 0h0m2 0h0m3 0h0m0 0h0m1 0h0m-46 1h0m2 0h0m2 0h0m2 0h0m0 0h0m2 0h0m1 0h0m0 0h0m1 0h0m1 0h0m0 0h0m1 0h0m3 0h0m1 0h0m1 0h0m2 0h0m4 0h0m0 0h0m1 0h0m2 0h0m4 0h0m4 0h0m3 0h0m4 0h0m3 0h0m2 0h0m2 0h0m-52 1h0m0 0h0m2 0h0m1 0h0m2 0h0m3 0h0m0 0h0m2 0h0m2 0h0m1 0h0m1 0h0m8 0h0m1 0h0m3 0h0m1 0h0m3 0h0m1 0h0m1 0h0m3 0h0m10 0h0m4 0h0m3 0h0m-50 1h0m2 0h0m1 0h0m13 0h0m1 0h0m1 0h0m4 0h0m3 0h0m2 0h0m4 0h0m1 0h0m6 0h0m2 0h0m2 0h0m3 0h0m0 0h0m3 0h0m-49 1h0m9 0h0m4 0h0m3 0h0m1 0h0m0 0h0m4 0h0m5 0h0m3 0h0m1 0h0m2 0h0m2 0h0m2 0h0m10 0h0m4 0h0m0 0h0m0 0h0m0 0h0m1 0h0m1 0h0m-53 1h0m10 0h0m1 0h0m12 0h0m17 0h0m3 0h0m1 0h0m6 0h0m2 0h0m-53 1h0m1 0h0m2 0h0m5 0h0m3 0h0m5 0h0m5 0h0m11 0h0m3 0h0m2 0h0m16 0h0m-54 1h0m2 0h0m1 0h0m0 0h0m7 0h0m5 0h0m4 0h0m0 0h0m3 0h0m3 0h0m4 0h0m3 0h0m4 0h0m0 0h0m2 0h0m4 0h0m3 0h0m0 0h0m3 0h0m0 0h0m2 0h0m1 0h0m2 0h0m-53 1h0m3 0h0m0 0h0m4 0h0m2 0h0m0 0h0m4 0h0m0 0h0m2 0h0m13 0h0m1 0h0m4 0h0m2 0h0m7 0h0m1 0h0m1 0h0m4 0h0m-45 1h0m3 0h0m4 0h0m9 0h0m3 0h0m2 0h0m1 0h0m1 0h0m0 0h0m5 0h0m1 0h0m16 0h0m1 0h0m0 0h0m1 0h0m1 0h0m3 0h0m0 0h0m-55 1h0m4 0h0m4 0h0m1 0h0m1 0h0m4 0h0m9 0h0m3 0h0m3 0h0m4 0h0m3 0h0m3 0h0m2 0h0m13 0h0m1 0h0m0 0h0m-52 1h0m1 0h0m1 0h0m5 0h0m3 0h0m2 0h0m4 0h0m4 0h0m13 0h0m3 0h0m0 0h0m2 0h0m1 0h0m6 0h0m3 0h0m2 0h0m-50 1h0m1 0h0m1 0h0m6 0h0m4 0h0m0 0h0m1 0h0m2 0h0m1 0h0m3 0h0m2 0h0m0 0h0m2 0h0m2 0h0m3 0h0m0 0h0m1 0h0m2 0h0m0 0h0m3 0h0m0 0h0m3 0h0m6 0h0m5 0h0m1 0h0m-52 1h0m5 0h0m5 0h0m0 0h0m0 0h0m4 0h0m2 0h0m0 0h0m1 0h0m2 0h0m0 0h0m1 0h0m1 0h0m1 0h0m4 0h0m1 0h0m10 0h0m10 0h0m2 0h0m1 0h0m2 0h0m3 0h0m0 0h0m-54 1h0m2 0h0m1 0h0m0 0h0m7 0h0m0 0h0m1 0h0m7 0h0m5 0h0m5 0h0m15 0h0m5 0h0m1 0h0m-48 1h0m4 0h0m5 0h0m0 0h0m0 0h0m0 0h0m2 0h0m7 0h0m1 0h0m4 0h0m1 0h0m4 0h0m6 0h0m2 0h0m1 0h0m4 0h0m3 0h0m2 0h0m7 0h0m-56 1h0m1 0h0m1 0h0m3 0h0m8 0h0m1 0h0m3 0h0m9 0h0m6 0h0m3 0h0m0 0h0m1 0h0m8 0h0m1 0h0m0 0h0m-43 1h0m2 0h0m1 0h0m2 0h0m0 0h0m2 0h0m4 0h0m3 0h0m2 0h0m5 0h0m2 0h0m14 0h0m2 0h0m2 0h0m0 0h0m4 0h0m1 0h0m3 0h0m2 0h0m2 0h0m-54 1h0m0 0h0m2 0h0m2 0h0m1 0h0m1 0h0m3 0h0m0 0h0m0 0h0m1 0h0m0 0h0m3 0h0m5 0h0m9 0h0m2 0h0m3 0h0m0 0h0m5 0h0m0 0h0m3 0h0m0 0h0m6 0h0m2 0h0m3 0h0m3 0h0m-54 1h0m0 0h0m4 0h0m3 0h0m6 0h0m3 0h0m9 0h0m4 0h0m2 0h0m5 0h0m2 0h0m1 0h0m2 0h0m4 0h0m4 0h0m3 0h0m1 0h0m1 0h0m-54 1h0m1 0h0m8 0h0m10 0h0m1 0h0m3 0h0m4 0h0m1 0h0m1 0h0m2 0h0m2 0h0m1 0h0m1 0h0m4 0h0m2 0h0m1 0h0m1 0h0m0 0h0m6 0h0m2 0h0m-50 1h0m2 0h0m1 0h0m2 0h0m3 0h0m2 0h0m0 0h0m2 0h0m0 0h0m1 0h0m0 0h0m4 0h0m2 0h0m0 0h0m0 0h0m10 0h0m2 0h0m0 0h0m8 0h0m1 0h0m1 0h0m0 0h0m1 0h0m0 0h0m2 0h0m0 0h0m0 0h0m0 0h0m9 0h0m1 0h0m-54 1h0m4 0h0m0 0h0m1 0h0m2 0h0m9 0h0m2 0h0m0 0h0m3 0h0m1 0h0m3 0h0m7 0h0m0 0h0m2 0h0m1 0h0m1 0h0m9 0h0m-47 1h0m0 0h0m0 0h0m2 0h0m6 0h0m0 0h0m4 0h0m5 0h0m2 0h0m3 0h0m3 0h0m1 0h0m1 0h0m2 0h0m3 0h0m5 0h0m3 0h0m3 0h0m1 0h0m5 0h0m2 0h0m-51 1h0m0 0h0m2 0h0m1 0h0m3 0h0m5 0h0m0 0h0m2 0h0m1 0h0m12 0h0m9 0h0m0 0h0m8 0h0m9 0h0m3 0h0m-55 1h0m5 0h0m0 0h0m7 0h0m2 0h0m1 0h0m2 0h0m3 0h0m1 0h0m1 0h0m0 0h0m2 0h0m4 0h0m6 0h0m1 0h0m1 0h0m15 0h0m0 0h0m-51 1h0m3 0h0m4 0h0m1 0h0m3 0h0m2 0h0m3 0h0m3 0h0m3 0h0m1 0h0m5 0h0m1 0h0m5 0h0m1 0h0m0 0h0m6 0h0m9 0h0m2 0h0m1 0h0m-53 1h0m3 0h0m2 0h0m0 0h0m0 0h0m1 0h0m3 0h0m4 0h0m2 0h0m0 0h0m3 0h0m7 0h0m2 0h0m5 0h0m3 0h0m6 0h0m4 0h0m3 0h0m0 0h0m2 0h0m1 0h0m2 0h0m1 0h0m-53 1h0m0 0h0m2 0h0m3 0h0m1 0h0m4 0h0m1 0h0m1 0h0m0 0h0m1 0h0m3 0h0m1 0h0m0 0h0m1 0h0m3 0h0m0 0h0m1 0h0m6 0h0m0 0h0m1 0h0m0 0h0m4 0h0m1 0h0m2 0h0m3 0h0m6 0h0m1 0h0m6 0h0m-53 1h0m1 0h0m3 0h0m1 0h0m1 0h0m0 0h0m0 0h0m2 0h0m0 0h0m1 0h0m0 0h0m1 0h0m1 0h0m3 0h0m2 0h0m5 0h0m3 0h0m3 0h0m1 0h0m1 0h0m1 0h0m0 0h0m2 0h0m2 0h0m5 0h0m0 0h0m1 0h0m3 0h0m0 0h0m4 0h0m3 0h0m1 0h0m3 0h0m-53 1h0m4 0h0m3 0h0m0 0h0m2 0h0m6 0h0m0 0h0m3 0h0m2 0h0m1 0h0m0 0h0m1 0h0m1 0h0m1 0h0m9 0h0m1 0h0m2 0h0m0 0h0m0 0h0m1 0h0m0 0h0m1 0h0m1 0h0m1 0h0m2 0h0m1 0h0m0 0h0m3 0h0m2 0h0m-48 1h0m0 0h0m2 0h0m7 0h0m0 0h0m1 0h0m3 0h0m0 0h0m0 0h0m1 0h0m1 0h0m4 0h0m3 0h0m5 0h0m3 0h0m3 0h0m3 0h0m1 0h0m2 0h0m1 0h0m4 0h0m0 0h0m3 0h0m3 0h0m-49 1h0m4 0h0m1 0h0m4 0h0m1 0h0m2 0h0m0 0h0m1 0h0m0 0h0m1 0h0m6 0h0m1 0h0m0 0h0m0 0h0m0 0h0m3 0h0m7 0h0m1 0h0m0 0h0m1 0h0m1 0h0m1 0h0m7 0h0m1 0h0m8 0h0m0 0h0m-52 1h0m0 0h0m1 0h0m2 0h0m0 0h0m1 0h0m1 0h0m3 0h0m4 0h0m0 0h0m4 0h0m6 0h0m2 0h0m1 0h0m0 0h0m2 0h0m3 0h0m1 0h0m1 0h0m0 0h0m0 0h0m2 0h0m0 0h0m1 0h0m2 0h0m1 0h0m1 0h0m2 0h0m2 0h0m1 0h0m2 0h0m6 0h0m-53 1h0m1 0h0m1 0h0m1 0h0m1 0h0m0 0h0m1 0h0m3 0h0m0 0h0m3 0h0m7 0h0m0 0h0m0 0h0m2 0h0m0 0h0m0 0h0m2 0h0m4 0h0m0 0h0m4 0h0m2 0h0m3 0h0m0 0h0m4 0h0m1 0h0m4 0h0m3 0h0m6 0h0m-48 1h0m1 0h0m2 0h0m4 0h0m2 0h0m9 0h0m0 0h0m1 0h0m0 0h0m0 0h0m3 0h0m0 0h0m1 0h0m5 0h0m4 0h0m1 0h0m8 0h0m2 0h0m2 0h0m1 0h0m-48 1h0m11 0h0m0 0h0m1 0h0m4 0h0m0 0h0m1 0h0m0 0h0m0 0h0m3 0h0m3 0h0m1 0h0m3 0h0m0 0h0m8 0h0m1 0h0m1 0h0m-36 1h0m0 0h0m3 0h0m1 0h0m2 0h0m0 0h0m0 0h0m1 0h0m5 0h0m2 0h0m0 0h0m3 0h0m1 0h0m1 0h0m1 0h0m0 0h0m2 0h0m0 0h0m1 0h0m1 0h0m2 0h0m1 0h0m1 0h0m0 0h0m0 0h0m2 0h0m3 0h0m2 0h0m1 0h0m1 0h0m0 0h0m0 0h0m2 0h0m1 0h0m5 0h0m2 0h0m-50 1h0m5 0h0m0 0h0m1 0h0m1 0h0m1 0h0m1 0h0m1 0h0m1 0h0m1 0h0m1 0h0m1 0h0m1 0h0m4 0h0m2 0h0m0 0h0m2 0h0m1 0h0m1 0h0m3 0h0m1 0h0m0 0h0m0 0h0m1 0h0m4 0h0m0 0h0m1 0h0m1 0h0m3 0h0m0 0h0m1 0h0m2 0h0m0 0h0m1 0h0m4 0h0m2 0h0m1 0h0m-47 1h0m3 0h0m1 0h0m0 0h0m1 0h0m0 0h0m3 0h0m1 0h0m4 0h0m3 0h0m2 0h0m0 0h0m5 0h0m1 0h0m3 0h0m5 0h0m2 0h0m0 0h0m1 0h0m9 0h0m0 0h0m-43 1h0m2 0h0m2 0h0m1 0h0m3 0h0m0 0h0m2 0h0m2 0h0m1 0h0m5 0h0m2 0h0m3 0h0m1 0h0m8 0h0m4 0h0m1 0h0m2 0h0m1 0h0m1 0h0m2 0h0m4 0h0m-47 1h0m3 0h0m1 0h0m1 0h0m1 0h0m0 0h0m1 0h0m1 0h0m4 0h0m3 0h0m1 0h0m0 0h0m2 0h0m1 0h0m14 0h0m0 0h0m2 0h0m2 0h0m1 0h0m0 0h0m2 0h0m7 0h0m-50 1h0m4 0h0m0 0h0m1 0h0m4 0h0m2 0h0m0 0h0m5 0h0m1 0h0m0 0h0m0 0h0m2 0h0m3 0h0m1 0h0m0 0h0m7 0h0m0 0h0m1 0h0m2 0h0m1 0h0m2 0h0m1 0h0m0 0h0m0 0h0m1 0h0m1 0h0m2 0h0m1 0h0m7 0h0m0 0h0m-49 1h0m2 0h0m7 0h0m1 0h0m2 0h0m0 0h0m1 0h0m1 0h0m1 0h0m1 0h0m0 0h0m1 0h0m1 0h0m0 0h0m1 0h0m1 0h0m3 0h0m2 0h0m1 0h0m1 0h0m1 0h0m3 0h0m2 0h0m3 0h0m0 0h0m1 0h0m1 0h0m1 0h0m4 0h0m1 0h0m0 0h0m1 0h0m0 0h0m0 0h0m2 0h0m-47 1h0m0 0h0m1 0h0m0 0h0m4 0h0m1 0h0m1 0h0m2 0h0m0 0h0m0 0h0m5 0h0m1 0h0m1 0h0m1 0h0m6 0h0m1 0h0m0 0h0m1 0h0m0 0h0m0 0h0m1 0h0m0 0h0m0 0h0m1 0h0m5 0h0m0 0h0m4 0h0m0 0h0m0 0h0m2 0h0m1 0h0m1 0h0m1 0h0m1 0h0m1 0h0m1 0h0m1 0h0m1 0h0m3 0h0m-47 1h0m0 0h0m2 0h0m2 0h0m1 0h0m1 0h0m0 0h0m6 0h0m3 0h0m1 0h0m1 0h0m1 0h0m1 0h0m4 0h0m1 0h0m0 0h0m6 0h0m3 0h0m2 0h0m1 0h0m0 0h0m2 0h0m0 0h0m1 0h0m5 0h0m2 0h0m-47 1h0m1 0h0m2 0h0m1 0h0m1 0h0m1 0h0m0 0h0m0 0h0m2 0h0m0 0h0m5 0h0m4 0h0m1 0h0m1 0h0m0 0h0m0 0h0m2 0h0m0 0h0m4 0h0m3 0h0m1 0h0m0 0h0m2 0h0m0 0h0m2 0h0m2 0h0m2 0h0m0 0h0m1 0h0m2 0h0m3 0h0m-38 1h0m0 0h0m2 0h0m0 0h0m2 0h0m2 0h0m2 0h0m5 0h0m3 0h0m0 0h0m0 0h0m3 0h0m0 0h0m2 0h0m2 0h0m3 0h0m2 0h0m1 0h0m7 0h0m4 0h0m-45 1h0m0 0h0m7 0h0m1 0h0m0 0h0m4 0h0m3 0h0m0 0h0m1 0h0m2 0h0m2 0h0m2 0h0m0 0h0m0 0h0m2 0h0m7 0h0m3 0h0m1 0h0m2 0h0m3 0h0m1 0h0m0 0h0m1 0h0m1 0h0m1 0h0m1 0h0m-46 1h0m2 0h0m3 0h0m0 0h0m0 0h0m1 0h0m2 0h0m3 0h0m1 0h0m1 0h0m3 0h0m1 0h0m0 0h0m0 0h0m1 0h0m2 0h0m2 0h0m0 0h0m2 0h0m4 0h0m2 0h0m0 0h0m1 0h0m3 0h0m4 0h0m-36 1h0m0 0h0m0 0h0m1 0h0m0 0h0m4 0h0m14 0h0m0 0h0m2 0h0m2 0h0m5 0h0m2 0h0m0 0h0m3 0h0m7 0h0m-40 1h0m2 0h0m1 0h0m2 0h0m0 0h0m1 0h0m3 0h0m2 0h0m1 0h0m4 0h0m1 0h0m2 0h0m2 0h0m0 0h0m2 0h0m2 0h0m1 0h0m2 0h0m0 0h0m1 0h0m2 0h0m0 0h0m1 0h0m0 0h0m3 0h0m3 0h0m0 0h0m-39 1h0m0 0h0m0 0h0m5 0h0m0 0h0m0 0h0m4 0h0m3 0h0m0 0h0m1 0h0m2 0h0m0 0h0m1 0h0m1 0h0m0 0h0m1 0h0m6 0h0m2 0h0m1 0h0m2 0h0m4 0h0m7 0h0m1 0h0m0 0h0m0 0h0m-40 1h0m2 0h0m2 0h0m0 0h0m4 0h0m5 0h0m2 0h0m1 0h0m1 0h0m0 0h0m2 0h0m2 0h0m1 0h0m1 0h0m1 0h0m0 0h0m2 0h0m0 0h0m1 0h0m6 0h0m1 0h0m1 0h0m-35 1h0m3 0h0m1 0h0m1 0h0m2 0h0m1 0h0m1 0h0m0 0h0m4 0h0m2 0h0m1 0h0m0 0h0m3 0h0m2 0h0m1 0h0m4 0h0m1 0h0m1 0h0m2 0h0m1 0h0m1 0h0m0 0h0m1 0h0m0 0h0m0 0h0m2 0h0m1 0h0m4 0h0m0 0h0m-40 1h0m1 0h0m3 0h0m0 0h0m3 0h0m1 0h0m0 0h0m1 0h0m0 0h0m3 0h0m0 0h0m0 0h0m1 0h0m1 0h0m4 0h0m3 0h0m1 0h0m1 0h0m3 0h0m3 0h0m0 0h0m1 0h0m1 0h0m5 0h0m2 0h0m0 0h0m1 0h0" stroke="#000" stroke-width="1.60" stroke-linecap="square" fill="none" stroke-opacity="0.85"/>
<path transform="scale(0.5)" d="M813 528h0m4 0h0m0 0h0m1 0h0m-9 1h0m0 0h0m1 0h0m1 0h0m2 0h0m1 0h0m0 0h0m0 0h0m1 0h0m0 0h0m1 0h0m0 0h0m0 0h0m1 0h0m1 0h0m1 0h0m-11 1h0m0 0h0m0 0h0m1 0h0m1 0h0m0 0h0m1 0h0m1 0h0m0 0h0m0 0h0m1 0h0m0 0h0m0 0h0m1 0h0m1 0h0m1 0h0m0 0h0m1 0h0m0 0h0m1 0h0m1 0h0m0 0h0m-12 1h0m3 0h0m1 0h0m0 0h0m0 0h0m3 0h0m0 0h0m1 0h0m3 0h0m1 0h0m0 0h0m-15 1h0m1 0h0m0 0h0m2 0h0m1 0h0m1 0h0m1 0h0m1 0h0m0 0h0m0 0h0m1 0h0m1 0h0m2 0h0m3 0h0m0 0h0m1 0h0m2 0h0m0 0h0m-18 1h0m1 0h0m0 0h0m2 0h0m0 0h0m0 0h0m4 0h0m0 0h0m0 0h0m2 0h0m0 0h0m0 0h0m2 0h0m2 0h0m3 0h0m1 0h0m0 0h0m-19 1h0m1 0h0m2 0h0m0 0h0m1 0h0m2 0h0m0 0h0m2 0h0m0 0h0m2 0h0m1 0h0m1 0h0m1 0h0m2 0h0m0 0h0m1 0h0m0 0h0m3 0h0m0 0h0m1 0h0m-20 1h0m0 0h0m1 0h0m1 0h0m0 0h0m1 0h0m0 0h0m0 0h0m2 0h0m0 0h0m1 0h0m1 0h0m1 0h0m0 0h0m1 0h0m2 0h0m0 0h0m1 0h0m2 0h0m0 0h0m0 0h0m1 0h0m0 0h0m1 0h0m1 0h0m0 0h0m1 0h0m0 0h0m0 0h0m0 0h0m1 0h0m-20 1h0m2 0h0m0 0h0m0 0h0m1 0h0m0 0h0m0 0h0m1 0h0m5 0h0m0 0h0m2 0h0m2 0h0m0 0h0m1 0h0m1 0h0m1 0h0m1 0h0m1 0h0m0 0h0m2 0h0m0 0h0m2 0h0m-24 1h0m1 0h0m0 0h0m1 0h0m0 0h0m3 0h0m3 0h0m1 0h0m1 0h0m0 0h0m0 0h0m0 0h0m0 0h0m1 0h0m2 0h0m4 0h0m0 0h0m0 0h0m0 0h0m0 0h0m3 0h0m1 0h0m0 0h0m0 0h0m0 0h0m2 0h0m-25 1h0m4 0h0m1 0h0m2 0h0m1 0h0m0 0h0m2 0h0m0 0h0m1 0h0m1 0h0m0 0h0m3 0h0m0 0h0m1 0h0m0 0h0m2 0h0m0 0h0m1 0h0m1 0h0m1 0h0m1 0h0m0 0h0m1 0h0m0 0h0m1 0h0m1 0h0m0 0h0m-26 1h0m1 0h0m4 0h0m2 0h0m1 0h0m0 0h0m1 0h0m1 0h0m0 0h0m2 0h0m0 0h0m1 0h0m3 0h0m1 0h0m0 0h0m0 0h0m3 0h0m1 0h0m1 0h0m1 0h0m1 0h0m1 0h0m-22 1h0m1 0h0m1 0h0m0 0h0m3 0h0m0 0h0m2 0h0m0 0h0m1 0h0m1 0h0m0 0h0m2 0h0m0 0h0m0 0h0m1 0h0m0 0h0m2 0h0m0 0h0m4 0h0m0 0h0m3 0h0m2 0h0m0 0h0m-28 1h0m3 0h0m2 0h0m0 0h0m1 0h0m6 0h0m1 0h0m3 0h0m1 0h0m2 0h0m1 0h0m1 0h0m0 0h0m0 0h0m1 0h0m0 0h0m1 0h0m1 0h0m2 0h0m0 0h0m0 0h0m2 0h0m-28 1h0m1 0h0m1 0h0m0 0h0m1 0h0m5 0h0m2 0h0m0 0h0m1 0h0m0 0h0m1 0h0m0 0h0m2 0h0m1 0h0m5 0h0m1 0h0m1 0h0m0 0h0m2 0h0m0 0h0m1 0h0m1 0h0m1 0h0m0 0h0m1 0h0m0 0h0m-30 1h0m1 0h0m1 0h0m1 0h0m3 0h0m3 0h0m1 0h0m2 0h0m2 0h0m0 0h0m1 0h0m0 0h0m1 0h0m1 0h0m1 0h0m1 0h0m3 0h0m2 0h0m1 0h0m1 0h0m0 0h0m1 0h0m1 0h0m0 0h0m1 0h0m0 0h0m-28 1h0m1 0h0m0 0h0m2 0h0m1 0h0m1 0h0m1 0h0m3 0h0m0 0h0m0 0h0m2 0h0m1 0h0m0 0h0m0 0h0m2 0h0m2 0h0m1 0h0m1 0h0m1 0h0m3 0h0m2 0h0m0 0h0m2 0h0m0 0h0m1 0h0m0 0h0m1 0h0m0 0h0m0 0h0m1 0h0m0 0h0m0 0h0m0 0h0m-32 1h0m1 0h0m1 0h0m1 0h0m1 0h0m0 0h0m1 0h0m0 0h0m1 0h0m0 0h0m1 0h0m0 0h0m0 0h0m2 0h0m0 0h0m1 0h0m1 0h0m0 0h0m0 0h0m0 0h0m1 0h0m1 0h0m1 0h0m0 0h0m0 0h0m0 0h0m0 0h0m4 0h0m0 0h0m2 0h0m0 0h0m1 0h0m1 0h0m1 0h0m0 0h0m1 0h0m1 0h0m0 0h0m0 0h0m2 0h0m2 0h0m1 0h0m0 0h0m0 0h0m0 0h0m1 0h0m1 0h0m-31 1h0m0 0h0m2 0h0m0 0h0m0 0h0m0 0h0m1 0h0m3 0h0m0 0h0m1 0h0m1 0h0m0 0h0m0 0h0m0 0h0m5 0h0m2 0h0m1 0h0m4 0h0m0 0h0m0 0h0m1 0h0m0 0h0m1 0h0m1 0h0m1 0h0m1 0h0m1 0h0m3 0h0m1 0h0m0 0h0m0 0h0m1 0h0m-34 1h0m1 0h0m3 0h0m0 0h0m0 0h0m1 0h0m0 0h0m0 0h0m1 0h0m0 0h0m0 0h0m2 0h0m0 0h0m5 0h0m1 0h0m0 0h0m0 0h0m1 0h0m1 0h0m1 0h0m0 0h0m2 0h0m0 0h0m1 0h0m1 0h0m1 0h0m0 0h0m0 0h0m1 0h0m0 0h0m0 0h0m1 0h0m1 0h0m3 0h0m1 0h0m2 0h0m0 0h0m1 0h0m1 0h0m-34 1h0m0 0h0m1 0h0m1 0h0m1 0h0m1 0h0m0 0h0m0 0h0m1 0h0m1 0h0m0 0h0m1 0h0m1 0h0m0 0h0m0 0h0m3 0h0m0 0h0m1 0h0m1 0h0m2 0h0m2 0h0m3 0h0m2 0h0m2 0h0m4 0h0m0 0h0m0 0h0m1 0h0m2 0h0m0 0h0m3 0h0m0 0h0m-33 1h0m1 0h0m1 0h0m0 0h0m1 0h0m0 0h0m0 0h0m2 0h0m2 0h0m1 0h0m0 0h0m1 0h0m3 0h0m2 0h0m0 0h0m1 0h0m2 0h0m1 0h0m1 0h0m0 0h0m1 0h0m0 0h0m1 0h0m2 0h0m4 0h0m0 0h0m1 0h0m0 0h0m0 0h0m1 0h0m1 0h0m1 0h0m0 0h0m0 0h0m0 0h0m2 0h0m1 0h0m-36 1h0m2 0h0m0 0h0m3 0h0m1 0h0m1 0h0m1 0h0m2 0h0m0 0h0m4 0h0m0 0h0m1 0h0m0 0h0m2 0h0m0 0h0m1 0h0m3 0h0m1 0h0m1 0h0m1 0h0m0 0h0m3 0h0m0 0h0m1 0h0m0 0h0m2 0h0m0 0h0m0 0h0m2 0h0m0 0h0m0 0h0m3 0h0m0 0h0m1 0h0m-35 1h0m0 0h0m1 0h0m1 0h0m4 0h0m1 0h0m1 0h0m4 0h0m1 0h0m0 0h0m0 0h0m2 0h0m1 0h0m1 0h0m0 0h0m0 0h0m1 0h0m2 0h0m1 0h0m1 0h0m1 0h0m0 0h0m1 0h0m0 0h0m0 0h0m1 0h0m0 0h0m0 0h0m1 0h0m1 0h0m0 0h0m0 0h0m2 0h0m0 0h0m0 0h0m1 0h0m0 0h0m0 0h0m1 0h0m1 0h0m1 0h0m1 0h0m0 0h0m1 0h0m-35 1h0m2 0h0m0 0h0m0 0h0m1 0h0m1 0h0m0 0h0m3 0h0m1 0h0m0 0h0m0 0h0m1 0h0m1 0h0m1 0h0m0 0h0m2 0h0m0 0h0m0 0h0m2 0h0m1 0h0m1 0h0m1 0h0m2 0h0m1 0h0m0 0h0m0 0h0m5 0h0m0 0h0m1 0h0m0 0h0m1 0h0m1 0h0m1 0h0m0 0h0m0 0h0m1 0h0m1 0h0m1 0h0m0 0h0m-36 1h0m1 0h0m2 0h0m0 0h0m2 0h0m0 0h0m4 0h0m2 0h0m0 0h0m1 0h0m1 0h0m0 0h0m1 0h0m1 0h0m3 0h0m0 0h0m0 0h0m1 0h0m1 0h0m0 0h0m0 0h0m1 0h0m2 0h0m0 0h0m1 0h0m2 0h0m2 0h0m1 0h0m0 0h0m1 0h0m2 0h0m0 0h0m2 0h0m1 0h0m0 0h0m0 0h0m1 0h0m-36 1h0m1 0h0m0 0h0m1 0h0m0 0h0m1 0h0m3 0h0m0 0h0m0 0h0m2 0h0m6 0h0m0 0h0m2 0h0m0 0h0m0 0h0m4 0h0m1 0h0m0 0h0m1 0h0m1 0h0m0 0h0m1 0h0m2 0h0m3 0h0m1 0h0m2 0h0m0 0h0m1 0h0m1 0h0m0 0h0m0 0h0m1 0h0m1 0h0m0 0h0m1 0h0m1 0h0m0 0h0m0 0h0m-39 1h0m1 0h0m1 0h0m0 0h0m0 0h0m1 0h0m1 0h0m1 0h0m0 0h0m2 0h0m0 0h0m1 0h0m1 0h0m1 0h0m1 0h0m1 0h0m1 0h0m1 0h0m0 0h0m0 0h0m1 0h0m0 0h0m2 0h0m1 0h0m0 0h0m0 0h0m3 0h0m0 0h0m2 0h0m0 0h0m1 0h0m1 0h0m0 0h0m0 0h0m1 0h0m0 0h0m2 0h0m1 0h0m0 0h0m0 0h0m2 0h0m1 0h0m0 0h0m1 0h0m2 0h0m1 0h0m1 0h0m-36 1h0m0 0h0m1 0h0m0 0h0m2 0h0m0 0h0m3 0h0m1 0h0m0 0h0m0 0h0m1 0h0m1 0h0m0 0h0m2 0h0m1 0h0m0 0h0m0 0h0m1 0h0m0 0h0m1 0h0m0 0h0m2 0h0m0 0h0m0 0h0m0 0h0m1 0h0m1 0h0m1 0h0m0 0h0m1 0h0m0 0h0m2 0h0m0 0h0m3 0h0m3 0h0m3 0h0m2 0h0m0 0h0m3 0h0m0 0h0m0 0h0m1 0h0m1 0h0m0 0h0m-40 1h0m1 0h0m1 0h0m0 0h0m0 0h0m0 0h0m1 0h0m2 0h0m2 0h0m1 0h0m1 0h0m5 0h0m1 0h0m0 0h0m1 0h0m1 0h0m0 0h0m0 0h0m2 0h0m1 0h0m2 0h0m1 0h0m1 0h0m1 0h0m2 0h0m0 0h0m2 0h0m1 0h0m0 0h0m0 0h0m0 0h0m2 0h0m3 0h0m0 0h0m1 0h0m1 0h0m2 0h0m-40 1h0m2 0h0m3 0h0m0 0h0m1 0h0m2 0h0m1 0h0m1 0h0m1 0h0m1 0h0m1 0h0m3 0h0m0 0h0m2 0h0m0 0h0m1 0h0m1 0h0m1 0h0m0 0h0m0 0h0m1 0h0m1 0h0m0 0h0m2 0h0m1 0h0m3 0h0m2 0h0m0 0h0m1 0h0m4 0h0m1 0h0m0 0h0m1 0h0m0 0h0m0 0h0m2 0h0m1 0h0m-41 1h0m0 0h0m2 0h0m7 0h0m1 0h0m3 0h0m0 0h0m2 0h0m0 0h0m0 0h0m2 0h0m0 0h0m1 0h0m0 0h0m0 0h0m1 0h0m0 0h0m2 0h0m5 0h0m1 0h0m0 0h0m1 0h0m0 0h0m1 0h0m1 0h0m0 0h0m2 0h0m1 0h0m0 0h0m2 0h0m1 0h0m1 0h0m1 0h0m2 0h0m0 0h0m-42 1h0m2 0h0m1 0h0m4 0h0m0 0h0m3 0h0m1 0h0m1 0h0m0 0h0m4 0h0m1 0h0m3 0h0m2 0h0m3 0h0m0 0h0m1 0h0m2 0h0m0 0h0m2 0h0m0 0h0m1 0h0m0 0h0m1 0h0m0 0h0m0 0h0m1 0h0m1 0h0m1 0h0m0 0h0m1 0h0m0 0h0m1 0h0m1 0h0m0 0h0m1 0h0m0 0h0m3 0h0m-42 1h0m1 0h0m0 0h0m1 0h0m0 0h0m0 0h0m3 0h0m0 0h0m2 0h0m1 0h0m0 0h0m0 0h0m5 0h0m0 0h0m1 0h0m0 0h0m2 0h0m4 0h0m0 0h0m0 0h0m1 0h0m1 0h0m0 0h0m0 0h0m4 0h0m0 0h0m0 0h0m1 0h0m0 0h0m0 0h0m3 0h0m1 0h0m0 0h0m3 0h0m1 0h0m1 0h0m2 0h0m-39 1h0m1 0h0m1 0h0m0 0h0m1 0h0m1 0h0m2 0h0m1 0h0m0 0h0m0 0h0m1 0h0m0 0h0m2 0h0m0 0h0m1 0h0m5 0h0m0 0h0m0 0h0m0 0h0m2 0h0m0 0h0m1 0h0m0 0h0m2 0h0m2 0h0m2 0h0m1 0h0m3 0h0m0 0h0m1 0h0m2 0h0m2 0h0m2 0h0m0 0h0m1 0h0m0 0h0m2 0h0m0 0h0m1 0h0m0 0h0m1 0h0m0 0h0m2 0h0m0 0h0m-39 1h0m1 0h0m1 0h0m2 0h0m4 0h0m2 0h0m1 0h0m0 0h0m1 0h0m0 0h0m0 0h0m1 0h0m0 0h0m1 0h0m0 0h0m1 0h0m0 0h0m0 0h0m1 0h0m1 0h0m1 0h0m0 0h0m2 0h0m0 0h0m1 0h0m1 0h0m0 0h0m1 0h0m1 0h0m2 0h0m2 0h0m2 0h0m1 0h0m1 0h0m1 0h0m0 0h0m1 0h0m3 0h0m0 0h0m1 0h0m0 0h0m1 0h0m-43 1h0m0 0h0m1 0h0m2 0h0m0 0h0m2 0h0m1 0h0m0 0h0m1 0h0m1 0h0m0 0h0m2 0h0m0 0h0m0 0h0m1 0h0m0 0h0m1 0h0m0 0h0m1 0h0m0 0h0m2 0h0m1 0h0m1 0h0m2 0h0m0 0h0m2 0h0m0 0h0m1 0h0m0 0h0m4 0h0m1 0h0m0 0h0m1 0h0m1 0h0m2 0h0m0 0h0m0 0h0m1 0h0m0 0h0m2 0h0m0 0h0m0 0h0m0 0h0m1 0h0m0 0h0m1 0h0m1 0h0m0 0h0m1 0h0m1 0h0m2 0h0m-42 1h0m2 0h0m2 0h0m0 0h0m0 0h0m1 0h0m1 0h0m1 0h0m0 0h0m1 0h0m3 0h0m0 0h0m1 0h0m0 0h0m0 0h0m3 0h0m0 0h0m0 0h0m1 0h0m2 0h0m0 0h0m1 0h0m0 0h0m5 0h0m1 0h0m2 0h0m2 0h0m0 0h0m2 0h0m0 0h0m1 0h0m0 0h0m1 0h0m0 0h0m1 0h0m0 0h0m1 0h0m0 0h0m0 0h0m1 0h0m1 0h0m0 0h0m1 0h0m1 0h0m0 0h0m1 0h0m3 0h0m1 0h0m-43 1h0m0 0h0m0 0h0m1 0h0m1 0h0m0 0h0m1 0h0m1 0h0m0 0h0m0 0h0m3 0h0m1 0h0m0 0h0m0 0h0m0 0h0m2 0h0m1 0h0m2 0h0m2 0h0m0 0h0m1 0h0m2 0h0m3 0h0m0 0h0m1 0h0m1 0h0m1 0h0m1 0h0m1 0h0m0 0h0m1 0h0m1 0h0m2 0h0m1 0h0m0 0h0m1 0h0m3 0h0m2 0h0m1 0h0m0 0h0m1 0h0m1 0h0m2 0h0m-42 1h0m0 0h0m0 0h0m0 0h0m1 0h0m3 0h0m2 0h0m1 0h0m0 0h0m1 0h0m1 0h0m1 0h0m2 0h0m1 0h0m0 0h0m0 0h0m1 0h0m0 0h0m2 0h0m1 0h0m0 0h0m1 0h0m0 0h0m1 0h0m1 0h0m2 0h0m0 0h0m2 0h0m0 0h0m1 0h0m1 0h0m2 0h0m2 0h0m1 0h0m0 0h0m2 0h0m0 0h0m1 0h0m1 0h0m1 0h0m0 0h0m1 0h0m1 0h0m0 0h0m0 0h0m1 0h0m0 0h0m-40 1h0m1 0h0m1 0h0m1 0h0m1 0h0m1 0h0m1 0h0m1 0h0m2 0h0m0 0h0m1 0h0m1 0h0m1 0h0m0 0h0m2 0h0m0 0h0m0 0h0m1 0h0m1 0h0m0 0h0m4 0h0m0 0h0m0 0h0m1 0h0m2 0h0m0 0h0m1 0h0m2 0h0m2 0h0m0 0h0m1 0h0m0 0h0m1 0h0m0 0h0m1 0h0m1 0h0m2 0h0m1 0h0m2 0h0m1 0h0m0 0h0m1 0h0m0 0h0m0 0h0m0 0h0m2 0h0m0 0h0m0 0h0m1 0h0m-42 1h0m1 0h0m1 0h0m1 0h0m0 0h0m0 0h0m1 0h0m0 0h0m2 0h0m1 0h0m1 0h0m1 0h0m1 0h0m1 0h0m0 0h0m0 0h0m2 0h0m0 0h0m2 0h0m1 0h0m2 0h0m1 0h0m0 0h0m1 0h0m0 0h0m3 0h0m1 0h0m0 0h0m1 0h0m2 0h0m0 0h0m2 0h0m0 0h0m2 0h0m1 0h0m1 0h0m1 0h0m0 0h0m2 0h0m2 0h0m1 0h0m0 0h0m1 0h0m0 0h0m2 0h0m0 0h0m0 0h0m0 0h0m1 0h0m-44 1h0m1 0h0m1 0h0m0 0h0m0 0h0m0 0h0m1 0h0m2 0h0m3 0h0m0 0h0m1 0h0m3 0h0m1 0h0m1 0h0m0 0h0m1 0h0m2 0h0m1 0h0m0 0h0m1 0h0m1 0h0m0 0h0m0 0h0m1 0h0m1 0h0m1 0h0m0 0h0m1 0h0m0 0h0m0 0h0m1 0h0m0 0h0m1 0h0m1 0h0m1 0h0m1 0h0m0 0h0m0 0h0m1 0h0m2 0h0m0 0h0m1 0h0m1 0h0m2 0h0m1 0h0m0 0h0m1 0h0m0 0h0m2 0h0m1 0h0m1 0h0m0 0h0m1 0h0m0 0h0m-44 1h0m3 0h0m4 0h0m0 0h0m1 0h0m1 0h0m0 0h0m2 0h0m0 0h0m3 0h0m0 0h0m1 0h0m0 0h0m2 0h0m0 0h0m1 0h0m0 0h0m2 0h0m1 0h0m1 0h0m3 0h0m1 0h0m4 0h0m2 0h0m1 0h0m1 0h0m0 0h0m2 0h0m4 0h0m1 0h0m0 0h0m1 0h0m2 0h0m-44 1h0m1 0h0m2 0h0m1 0h0m2 0h0m1 0h0m0 0h0m2 0h0m1 0h0m1 0h0m1 0h0m1 0h0m0 0h0m0 0h0m2 0h0m0 0h0m1 0h0m0 0h0m1 0h0m0 0h0m4 0h0m1 0h0m0 0h0m1 0h0m0 0h0m1 0h0m0 0h0m1 0h0m2 0h0m0 0h0m0 0h0m1 0h0m1 0h0m1 0h0m1 0h0m0 0h0m1 0h0m0 0h0m1 0h0m0 0h0m1 0h0m0 0h0m2 0h0m2 0h0m0 0h0m1 0h0m1 0h0m0 0h0m1 0h0m1 0h0m0 0h0m1 0h0m-42 1h0m1 0h0m1 0h0m1 0h0m0 0h0m2 0h0m2 0h0m1 0h0m1 0h0m0 0h0m1 0h0m1 0h0m1 0h0m2 0h0m1 0h0m0 0h0m1 0h0m1 0h0m1 0h0m0 0h0m1 0h0m3 0h0m0 0h0m1 0h0m1 0h0m0 0h0m2 0h0m2 0h0m1 0h0m1 0h0m3 0h0m3 0h0m0 0h0m0 0h0m0 0h0m1 0h0m0 0h0m3 0h0m3 0h0m-44 1h0m0 0h0m4 0h0m3 0h0m0 0h0m3 0h0m0 0h0m3 0h0m1 0h0m1 0h0m1 0h0m0 0h0m1 0h0m1 0h0m0 0h0m2 0h0m5 0h0m1 0h0m1 0h0m1 0h0m2 0h0m0 0h0m0 0h0m1 0h0m1 0h0m0 0h0m1 0h0m0 0h0m1 0h0m1 0h0m1 0h0m1 0h0m0 0h0m1 0h0m0 0h0m1 0h0m1 0h0m0 0h0m1 0h0m0 0h0m1 0h0m0 0h0m0 0h0m0 0h0m1 0h0m0 0h0m-44 1h0m2 0h0m3 0h0m1 0h0m0 0h0m1 0h0m1 0h0m1 0h0m1 0h0m1 0h0m0 0h0m1 0h0m0 0h0m2 0h0m1 0h0m0 0h0m1 0h0m2 0h0m1 0h0m2 0h0m1 0h0m1 0h0m3 0h0m1 0h0m2 0h0m0 0h0m0 0h0m1 0h0m0 0h0m0 0h0m3 0h0m0 0h0m1 0h0m2 0h0m1 0h0m1 0h0m1 0h0m0 0h0m1 0h0m0 0h0m0 0h0m1 0h0m0 0h0m1 0h0m0 0h0m1 0h0m0 0h0m1 0h0m-44 1h0m2 0h0m0 0h0m0 0h0m1 0h0m0 0h0m2 0h0m1 0h0m0 0h0m4 0h0m0 0h0m3 0h0m1 0h0m0 0h0m1 0h0m1 0h0m1 0h0m1 0h0m0 0h0m0 0h0m2 0h0m0 0h0m2 0h0m2 0h0m3 0h0m0 0h0m1 0h0m0 0h0m2 0h0m1 0h0m0 0h0m1 0h0m1 0h0m0 0h0m1 0h0m0 0h0m1 0h0m1 0h0m1 0h0m1 0h0m2 0h0m1 0h0m1 0h0m2 0h0m-43 1h0m0 0h0m1 0h0m0 0h0m1 0h0m0 0h0m1 0h0m0 0h0m1 0h0m1 0h0m2 0h0m0 0h0m3 0h0m3 0h0m2 0h0m2 0h0m4 0h0m1 0h0m1 0h0m0 0h0m3 0h0m1 0h0m2 0h0m2 0h0m1 0h0m4 0h0m1 0h0m1 0h0m0 0h0m1 0h0m1 0h0m0 0h0m1 0h0m-42 1h0m0 0h0m2 0h0m1 0h0m2 0h0m1 0h0m1 0h0m2 0h0m0 0h0m0 0h0m1 0h0m1 0h0m1 0h0m0 0h0m1 0h0m0 0h0m1 0h0m0 0h0m2 0h0m0 0h0m1 0h0m0 0h0m2 0h0m1 0h0m1 0h0m1 0h0m0 0h0m1 0h0m1 0h0m2 0h0m0 0h0m0 0h0m3 0h0m1 0h0m2 0h0m7 0h0m0 0h0m1 0h0m0 0h0m0 0h0m1 0h0m1 0h0m0 0h0m-42 1h0m0 0h0m1 0h0m0 0h0m0 0h0m1 0h0m1 0h0m0 0h0m3 0h0m0 0h0m2 0h0m0 0h0m1 0h0m0 0h0m1 0h0m1 0h0m0 0h0m1 0h0m1 0h0m1 0h0m2 0h0m1 0h0m2 0h0m1 0h0m0 0h0m2 0h0m2 0h0m0 0h0m2 0h0m0 0h0m0 0h0m0 0h0m1 0h0m1 0h0m0 0h0m1 0h0m2 0h0m2 0h0m1 0h0m0 0h0m3 0h0m1 0h0m2 0h0m0 0h0m3 0h0m-43 1h0m0 0h0m0 0h0m2 0h0m2 0h0m2 0h0m1 0h0m3 0h0m0 0h0m1 0h0m0 0h0m0 0h0m2 0h0m3 0h0m1 0h0m0 0h0m1 0h0m1 0h0m0 0h0m2 0h0m0 0h0m1 0h0m3 0h0m0 0h0m1 0h0m0 0h0m1 0h0m1 0h0m1 0h0m1 0h0m1 0h0m2 0h0m0 0h0m1 0h0m0 0h0m2 0h0m5 0h0m1 0h0m1 0h0m-44 1h0m2 0h0m1 0h0m0 0h0m0 0h0m2 0h0m0 0h0m0 0h0m0 0h0m1 0h0m0 0h0m1 0h0m3 0h0m1 0h0m0 0h0m1 0h0m1 0h0m1 0h0m2 0h0m1 0h0m0 0h0m3 0h0m0 0h0m0 0h0m1 0h0m1 0h0m1 0h0m0 0h0m0 0h0m5 0h0m1 0h0m0 0h0m0 0h0m1 0h0m0 0h0m0 0h0m1 0h0m0 0h0m1 0h0m2 0h0m1 0h0m0 0h0m0 0h0m2 0h0m0 0h0m1 0h0m0 0h0m0 0h0m1 0h0m1 0h0m0 0h0m2 0h0m1 0h0m-42 1h0m0 0h0m1 0h0m0 0h0m1 0h0m2 0h0m0 0h0m0 0h0m1 0h0m1 0h0m1 0h0m1 0h0m0 0h0m0 0h0m2 0h0m0 0h0m1 0h0m1 0h0m1 0h0m0 0h0m0 0h0m1 0h0m0 0h0m0 0h0m0 0h0m0 0h0m1 0h0m0 0h0m2 0h0m1 0h0m0 0h0m2 0h0m2 0h0m0 0h0m1 0h0m0 0h0m0 0h0m1 0h0m2 0h0m0 0h0m1 0h0m0 0h0m1 0h0m1 0h0m2 0h0m2 0h0m0 0h0m1 0h0m1 0h0m1 0h0m2 0h0m1 0h0m1 0h0m0 0h0m-39 1h0m0 0h0m1 0h0m1 0h0m0 0h0m0 0h0m0 0h0m1 0h0m2 0h0m0 0h0m0 0h0m0 0h0m1 0h0m0 0h0m1 0h0m2 0h0m0 0h0m0 0h0m0 0h0m1 0h0m2 0h0m1 0h0m3 0h0m2 0h0m0 0h0m1 0h0m0 0h0m1 0h0m2 0h0m0 0h0m2 0h0m0 0h0m1 0h0m1 0h0m2 0h0m0 0h0m0 0h0m0 0h0m0 0h0m0 0h0m1 0h0m0 0h0m0 0h0m2 0h0m0 0h0m2 0h0m2 0h0m0 0h0m4 0h0m0 0h0m0 0h0m0 0h0m-47 1h0m7 0h0m1 0h0m1 0h0m1 0h0m2 0h0m1 0h0m0 0h0m1 0h0m0 0h0m2 0h0m1 0h0m1 0h0m0 0h0m0 0h0m1 0h0m1 0h0m2 0h0m1 0h0m2 0h0m2 0h0m0 0h0m1 0h0m0 0h0m1 0h0m0 0h0m1 0h0m2 0h0m0 0h0m1 0h0m1 0h0m0 0h0m2 0h0m2 0h0m0 0h0m0 0h0m0 0h0m2 0h0m2 0h0m0 0h0m1 0h0m3 0h0m0 0h0m1 0h0m-38 1h0m1 0h0m1 0h0m0 0h0m4 0h0m2 0h0m1 0h0m0 0h0m0 0h0m1 0h0m1 0h0m1 0h0m4 0h0m0 0h0m0 0h0m1 0h0m1 0h0m2 0h0m2 0h0m0 0h0m1 0h0m1 0h0m0 0h0m1 0h0m1 0h0m0 0h0m1 0h0m1 0h0m0 0h0m5 0h0m1 0h0m0 0h0m1 0h0m1 0h0m0 0h0m0 0h0m1 0h0m0 0h0m0 0h0m2 0h0m-53 1h0m13 0h0m1 0h0m2 0h0m0 0h0m1 0h0m1 0h0m1 0h0m1 0h0m1 0h0m0 0h0m1 0h0m0 0h0m1 0h0m1 0h0m1 0h0m0 0h0m1 0h0m1 0h0m0 0h0m0 0h0m2 0h0m2 0h0m0 0h0m1 0h0m6 0h0m0 0h0m2 0h0m0 0h0m1 0h0m1 0h0m1 0h0m0 0h0m0 0h0m0 0h0m1 0h0m1 0h0m0 0h0m1 0h0m2 0h0m0 0h0m2 0h0m0 0h0m1 0h0m0 0h0m1 0h0m0 0h0m-39 1h0m1 0h0m0 0h0m1 0h0m0 0h0m1 0h0m1 0h0m0 0h0m2 0h0m0 0h0m0 0h0m0 0h0m1 0h0m1 0h0m0 0h0m0 0h0m0 0h0m0 0h0m0 0h0m1 0h0m2 0h0m2 0h0m1 0h0m0 0h0m1 0h0m0 0h0m0 0h0m1 0h0m3 0h0m2 0h0m0 0h0m1 0h0m1 0h0m0 0h0m1 0h0m1 0h0m0 0h0m1 0h0m0 0h0m1 0h0m2 0h0m1 0h0m2 0h0m0 0h0m1 0h0m0 0h0m2 0h0m0 0h0m2 0h0m0 0h0m0 0h0m2 0h0m0 0h0m6 0h0m-57 1h0m3 0h0m5 0h0m5 0h0m2 0h0m0 0h0m0 0h0m1 0h0m5 0h0m2 0h0m0 0h0m0 0h0m0 0h0m0 0h0m0 0h0m0 0h0m2 0h0m1 0h0m1 0h0m1 0h0m0 0h0m1 0h0m0 0h0m0 0h0m0 0h0m1 0h0m0 0h0m0 0h0m1 0h0m0 0h0m1 0h0m0 0h0m0 0h0m1 0h0m0 0h0m0 0h0m1 0h0m1 0h0m0 0h0m1 0h0m2 0h0m1 0h0m0 0h0m0 0h0m0 0h0m1 0h0m2 0h0m4 0h0m1 0h0m0 0h0m1 0h0m3 0h0m-50 1h0m10 0h0m2 0h0m1 0h0m1 0h0m0 0h0m0 0h0m1 0h0m0 0h0m0 0h0m0 0h0m0 0h0m1 0h0m0 0h0m1 0h0m0 0h0m1 0h0m1 0h0m2 0h0m0 0h0m0 0h0m0 0h0m0 0h0m1 0h0m0 0h0m0 0h0m1 0h0m0 0h0m1 0h0m1 0h0m1 0h0m0 0h0m1 0h0m0 0h0m2 0h0m0 0h0m1 0h0m0 0h0m0 0h0m2 0h0m0 0h0m1 0h0m1 0h0m1 0h0m0 0h0m0 0h0m2 0h0m1 0h0m1 0h0m4 0h0m0 0h0m1 0h0m3 0h0m0 0h0m1 0h0m0 0h0m0 0h0m-43 1h0m0 0h0m8 0h0m0 0h0m0 0h0m1 0h0m1 0h0m1 0h0m0 0h0m1 0h0m0 0h0m1 0h0m1 0h0m0 0h0m0 0h0m0 0h0m0 0h0m0 0h0m3 0h0m0 0h0m0 0h0m1 0h0m1 0h0m1 0h0m0 0h0m0 0h0m2 0h0m0 0h0m1 0h0m1 0h0m1 0h0m0 0h0m0 0h0m1 0h0m0 0h0m1 0h0m0 0h0m1 0h0m2 0h0m2 0h0m0 0h0m3 0h0m1 0h0m1 0h0m1 0h0m2 0h0m-37 1h0m1 0h0m0 0h0m1 0h0m1 0h0m1 0h0m1 0h0m1 0h0m1 0h0m0 0h0m1 0h0m0 0h0m0 0h0m1 0h0m0 0h0m0 0h0m1 0h0m0 0h0m0 0h0m1 0h0m0 0h0m1 0h0m0 0h0m1 0h0m0 0h0m0 0h0m1 0h0m0 0h0m0 0h0m0 0h0m0 0h0m1 0h0m0 0h0m0 0h0m0 0h0m1 0h0m2 0h0m0 0h0m1 0h0m3 0h0m0 0h0m1 0h0m0 0h0m1 0h0m3 0h0m0 0h0m1 0h0m3 0h0m-29 1h0m1 0h0m0 0h0m1 0h0m0 0h0m1 0h0m6 0h0m3 0h0m1 0h0m1 0h0m0 0h0m1 0h0m2 0h0m0 0h0m2 0h0m2 0h0m5 0h0m5 0h0m4 0h0m-35 1h0m0 0h0m4 0h0m1 0h0m2 0h0m2 0h0m0 0h0m1 0h0m4 0h0m0 0h0m4 0h0m2 0h0m0 0h0m2 0h0m1 0h0m2 0h0m1 0h0m1 0h0m8 0h0m-38 1h0m5 0h0m0 0h0m3 0h0m0 0h0m2 0h0m0 0h0m0 0h0m1 0h0m0 0h0m1 0h0m3 0h0m0 0h0m0 0h0m0 0h0m1 0h0m0 0h0m1 0h0m1 0h0m1 0h0m0 0h0m2 0h0m1 0h0m0 0h0m1 0h0m3 0h0m1 0h0m5 0h0m5 0h0m-42 1h0m7 0h0m1 0h0m2 0h0m0 0h0m1 0h0m0 0h0m3 0h0m1 0h0m0 0h0m1 0h0m2 0h0m1 0h0m1 0h0m2 0h0m3 0h0m2 0h0m2 0h0m2 0h0m-24 1h0m6 0h0m0 0h0m1 0h0m0 0h0m3 0h0m2 0h0m0 0h0m6 0h0m1 0h0m0 0h0m1 0h0m1 0h0m2 0h0m2 0h0m1 0h0m0 0h0m0 0h0m1 0h0m-24 1h0m0 0h0m3 0h0m9 0h0m4 0h0m6 0h0m-33 1h0m9 0h0m9 0h0m1 0h0m3 0h0m5 0h0m1 0h0m6 0h0m4 0h0m0 0h0m-13 1h0m6 0h0m6 0h0m-25 1h0m7 0h0m4 0h0m9 0h0m2 0h0m-15 1h0m2 0h0m6 0h0m-11 1h0m3 0h0m1 0h0" stroke="#000" stroke-width="2.00" stroke-linecap="square" fill="none" stroke-opacity="1.0"/>
<path d="M373.00 237.40V306.20H436.50" stroke="#000" stroke-width="1.1" fill="none"/>
<path d="M371.40 306.20H373.00M373.00 306.20V307.80M371.40 289.00H373.00M388.75 306.20V307.80M371.40 271.80H373.00M404.50 306.20V307.80M371.40 254.60H373.00M420.25 306.20V307.80M371.40 237.40H373.00M436.00 306.20V307.80" stroke="#000" stroke-width="0.6" fill="none"/>
<text x="365.40" y="308.40" font-size="6.2" text-anchor="middle" fill="#000" stroke="#000" stroke-width="0.15" textLength="8.0" lengthAdjust="spacingAndGlyphs">10<tspan font-size="2.79" dy="-2.23" stroke-width="0.05">0</tspan></text>
<text x="373.80" y="315.70" font-size="6.2" text-anchor="middle" fill="#000" stroke="#000" stroke-width="0.15" textLength="8.0" lengthAdjust="spacingAndGlyphs">10<tspan font-size="2.79" dy="-2.23" stroke-width="0.05">0</tspan></text>
<text x="365.40" y="291.20" font-size="6.2" text-anchor="middle" fill="#000" stroke="#000" stroke-width="0.15" textLength="8.0" lengthAdjust="spacingAndGlyphs">10<tspan font-size="2.79" dy="-2.23" stroke-width="0.05">1</tspan></text>
<text x="389.55" y="315.70" font-size="6.2" text-anchor="middle" fill="#000" stroke="#000" stroke-width="0.15" textLength="8.0" lengthAdjust="spacingAndGlyphs">10<tspan font-size="2.79" dy="-2.23" stroke-width="0.05">1</tspan></text>
<text x="365.40" y="274.00" font-size="6.2" text-anchor="middle" fill="#000" stroke="#000" stroke-width="0.15" textLength="8.0" lengthAdjust="spacingAndGlyphs">10<tspan font-size="2.79" dy="-2.23" stroke-width="0.05">2</tspan></text>
<text x="405.30" y="315.70" font-size="6.2" text-anchor="middle" fill="#000" stroke="#000" stroke-width="0.15" textLength="8.0" lengthAdjust="spacingAndGlyphs">10<tspan font-size="2.79" dy="-2.23" stroke-width="0.05">2</tspan></text>
<text x="365.40" y="256.80" font-size="6.2" text-anchor="middle" fill="#000" stroke="#000" stroke-width="0.15" textLength="8.0" lengthAdjust="spacingAndGlyphs">10<tspan font-size="2.79" dy="-2.23" stroke-width="0.05">3</tspan></text>
<text x="421.05" y="315.70" font-size="6.2" text-anchor="middle" fill="#000" stroke="#000" stroke-width="0.15" textLength="8.0" lengthAdjust="spacingAndGlyphs">10<tspan font-size="2.79" dy="-2.23" stroke-width="0.05">3</tspan></text>
<text x="365.40" y="239.60" font-size="6.2" text-anchor="middle" fill="#000" stroke="#000" stroke-width="0.15" textLength="8.0" lengthAdjust="spacingAndGlyphs">10<tspan font-size="2.79" dy="-2.23" stroke-width="0.05">4</tspan></text>
<text x="436.80" y="315.70" font-size="6.2" text-anchor="middle" fill="#000" stroke="#000" stroke-width="0.15" textLength="8.0" lengthAdjust="spacingAndGlyphs">10<tspan font-size="2.79" dy="-2.23" stroke-width="0.05">4</tspan></text>
<text x="14.00" y="273.00" font-size="8.5" fill="#000" text-anchor="middle" font-weight="bold" textLength="16.4" lengthAdjust="spacingAndGlyphs" transform="rotate(-90 14.00 273.00)">CD207</text>
<text x="62.00" y="325.80" font-size="8.5" fill="#000" text-anchor="middle" font-weight="bold" textLength="13.8" lengthAdjust="spacingAndGlyphs">CD1a</text>
<text x="122.00" y="273.00" font-size="8.5" fill="#000" text-anchor="middle" font-weight="bold" textLength="16.4" lengthAdjust="spacingAndGlyphs" transform="rotate(-90 122.00 273.00)">SSC-A</text>
<text x="174.00" y="325.80" font-size="8.5" fill="#000" text-anchor="middle" font-weight="bold" textLength="8.2" lengthAdjust="spacingAndGlyphs">LIN</text>
<text x="243.00" y="272.00" font-size="8.5" fill="#000" text-anchor="middle" font-weight="bold" textLength="13.5" lengthAdjust="spacingAndGlyphs" transform="rotate(-90 243.00 272.00)">CD14</text>
<text x="292.00" y="325.80" font-size="8.5" fill="#000" text-anchor="middle" font-weight="bold" textLength="15.2" lengthAdjust="spacingAndGlyphs">CD11c</text>
<text x="355.60" y="271.00" font-size="8.5" fill="#000" text-anchor="middle" font-weight="bold" textLength="13.5" lengthAdjust="spacingAndGlyphs" transform="rotate(-90 355.60 271.00)">CD1c</text>
<text x="404.40" y="325.80" font-size="8.5" fill="#000" text-anchor="middle" font-weight="bold" textLength="16.2" lengthAdjust="spacingAndGlyphs">CD11c</text>
<path d="M30.60 287.4H49.3V305.8" stroke="#e4444c" stroke-width="0.8" fill="none"/>
<path d="M143.9 293.4L158.4 281.4H179.8L164.2 306.0M143.9 293.4V306.0" stroke="#e4444c" stroke-width="0.8" fill="none" stroke-linejoin="round"/>
<rect x="272.5" y="255.8" width="27.4" height="10.4" stroke="#e4444c" stroke-width="0.7" fill="none"/>
<rect x="271.3" y="266.3" width="28.4" height="39.2" stroke="#e4444c" stroke-width="0.7" fill="none"/>
<path d="M271.3 266.3H299.7" stroke="#e4444c" stroke-width="1.1"/>
<rect x="385.4" y="259.4" width="30.6" height="31.8" stroke="#e4444c" stroke-width="0.75" fill="none"/>
<rect x="385.4" y="293.5" width="30.0" height="12.1" stroke="#e4444c" stroke-width="0.75" fill="none"/>
<path d="M385.8 292.3H406" stroke="#5a1010" stroke-width="1.6" stroke-opacity="0.8"/>
<text x="290.80" y="249.30" font-size="5.8" fill="#000" text-anchor="middle" textLength="26.0" lengthAdjust="spacingAndGlyphs" stroke="#000" stroke-width="0.15">CD14<tspan font-size="3.6" dy="-2.2">+</tspan><tspan dy="2.2">DCs</tspan></text>
<text x="419.80" y="267.30" font-size="5.8" fill="#000" textLength="30.0" lengthAdjust="spacingAndGlyphs" stroke="#000" stroke-width="0.15">CD1c<tspan font-size="3.6" dy="-2.2">+</tspan><tspan dy="2.2">mDCs</tspan></text>
<text x="418.00" y="289.30" font-size="5.8" fill="#000" textLength="45.0" lengthAdjust="spacingAndGlyphs" stroke="#000" stroke-width="0.15">CD11c<tspan font-size="3.6" dy="-2.2">+</tspan><tspan dy="2.2">CD1c</tspan><tspan font-size="3.6" dy="-2.2">-</tspan><tspan dy="2.2"> cells</tspan></text>
<path d="M86.80 279.60L99.60 279.60" stroke="#000" stroke-width="1.15"/>
<path d="M104.10 279.60L97.10 282.70L99.10 279.60L97.10 276.50Z" fill="#000"/>
<path d="M209.50 279.00L222.30 279.00" stroke="#000" stroke-width="1.15"/>
<path d="M226.80 279.00L219.80 282.10L221.80 279.00L219.80 275.90Z" fill="#000"/>
<path d="M316.80 278.10L335.42 267.57" stroke="#000" stroke-width="1.15"/>
<path d="M338.90 265.60L334.67 271.32L334.98 267.82L331.81 266.28Z" fill="#000"/>
<path d="M316.80 278.10L335.42 288.63" stroke="#000" stroke-width="1.15"/>
<path d="M338.90 290.60L331.81 289.92L334.98 288.38L334.67 284.88Z" fill="#000"/>
<circle cx="316.9" cy="278.1" r="0.55" fill="#000"/>
<text transform="translate(7.0 353.3) scale(1.15 1)" x="0" y="0" font-size="10.8" font-weight="bold">C</text>
<path d="M32.2 356.2V513.5H195.2" stroke="#000" stroke-width="1.0" fill="none"/>
<path d="M28.8 378.8H32.2M28.8 422.6H32.2M28.8 466.5H32.2M28.8 510.6H32.2M67.5 513.5V516.9M111.6 513.5V516.9M155.6 513.5V516.9" stroke="#000" stroke-width="0.8" fill="none"/>
<text x="26.4" y="380.9" font-size="6.0" text-anchor="end" stroke="#000" stroke-width="0.15" textLength="2.9" lengthAdjust="spacingAndGlyphs">2</text>
<text x="26.4" y="424.7" font-size="6.0" text-anchor="end" stroke="#000" stroke-width="0.15" textLength="2.9" lengthAdjust="spacingAndGlyphs">1</text>
<text x="26.4" y="468.6" font-size="6.0" text-anchor="end" stroke="#000" stroke-width="0.15" textLength="2.9" lengthAdjust="spacingAndGlyphs">0</text>
<text x="26.4" y="512.7" font-size="6.0" text-anchor="end" stroke="#000" stroke-width="0.15" textLength="5.8" lengthAdjust="spacingAndGlyphs">-1</text>
<text x="67.0" y="525.5" font-size="6.0" text-anchor="middle" stroke="#000" stroke-width="0.15" textLength="5.8" lengthAdjust="spacingAndGlyphs">-1</text>
<text x="111.6" y="525.5" font-size="6.0" text-anchor="middle" stroke="#000" stroke-width="0.15" textLength="2.9" lengthAdjust="spacingAndGlyphs">0</text>
<text x="155.6" y="525.5" font-size="6.0" text-anchor="middle" stroke="#000" stroke-width="0.15" textLength="2.9" lengthAdjust="spacingAndGlyphs">1</text>
<text x="113.40" y="536.60" font-size="7.7" fill="#000" text-anchor="middle" font-weight="bold" textLength="117.4" lengthAdjust="spacingAndGlyphs">Standardized PC1 (36.8% explained variance)</text>
<text x="15.60" y="436.00" font-size="7.7" fill="#000" text-anchor="middle" font-weight="bold" textLength="118.6" lengthAdjust="spacingAndGlyphs" transform="rotate(-90 15.60 436.00)">Standardized PC2 (10.1% explained variance)</text>
<ellipse cx="113.00" cy="396.30" rx="79.40" ry="6.50" transform="rotate(24.24 113.00 396.30)" fill="none" stroke="#6e3a86" stroke-width="0.8"/>
<ellipse cx="107.45" cy="491.40" rx="69.36" ry="6.30" transform="rotate(-8.79 107.45 491.40)" fill="none" stroke="#74b84c" stroke-width="0.8"/>
<ellipse cx="111.90" cy="490.45" rx="72.17" ry="8.80" transform="rotate(-8.89 111.90 490.45)" fill="none" stroke="#6cb2e6" stroke-width="0.8"/>
<ellipse cx="116.75" cy="489.50" rx="63.03" ry="12.00" transform="rotate(-7.11 116.75 489.50)" fill="none" stroke="#c4305a" stroke-width="0.8"/>
<text x="72.3" y="375.5" font-size="3.6" fill="#7ab8ea" textLength="10.7" lengthAdjust="spacingAndGlyphs">LCH006</text>
<text x="85.4" y="376.5" font-size="3.6" fill="#6fb55a" textLength="11.9" lengthAdjust="spacingAndGlyphs">LCH008</text>
<text x="61.7" y="383.2" font-size="3.6" fill="#3d5d96" textLength="12.3" lengthAdjust="spacingAndGlyphs">LCH009</text>
<text x="65.6" y="387.1" font-size="3.6" fill="#d040a0" textLength="11.4" lengthAdjust="spacingAndGlyphs">LCH001</text>
<text x="67.5" y="391.9" font-size="3.6" fill="#c0304f" textLength="12.1" lengthAdjust="spacingAndGlyphs">LCH007</text>
<text x="84.8" y="389.0" font-size="3.6" fill="#a49ed4" textLength="11.0" lengthAdjust="spacingAndGlyphs">LCH010</text>
<text x="96.3" y="385.7" font-size="3.6" fill="#4d7d62" textLength="11.6" lengthAdjust="spacingAndGlyphs">LCH011</text>
<text x="160.0" y="424.3" font-size="3.6" fill="#b8c690" textLength="11.0" lengthAdjust="spacingAndGlyphs">LCH014</text>
<text x="180.5" y="421.8" font-size="3.6" fill="#7b4f96" textLength="11.8" lengthAdjust="spacingAndGlyphs">LCH012</text>
<text x="181.0" y="438.5" font-size="3.6" fill="#b98a55" textLength="12.0" lengthAdjust="spacingAndGlyphs">LCH013</text>
<text x="51.2" y="486.3" font-size="3.6" fill="#7b4f96" textLength="12.3" lengthAdjust="spacingAndGlyphs">LCH012</text>
<text x="68.5" y="487.1" font-size="3.6" fill="#6fb55a" textLength="11.1" lengthAdjust="spacingAndGlyphs">LCH008</text>
<text x="55.0" y="491.3" font-size="3.6" fill="#6fb55a" textLength="10.0" lengthAdjust="spacingAndGlyphs">LCH008</text>
<text x="49.6" y="494.8" font-size="3.6" fill="#c0304f" textLength="9.2" lengthAdjust="spacingAndGlyphs">LCH007</text>
<text x="41.0" y="498.6" font-size="3.6" fill="#c0304f" textLength="11.0" lengthAdjust="spacingAndGlyphs">LCH007</text>
<text x="79.6" y="491.7" font-size="3.6" fill="#3d5d96" textLength="9.2" lengthAdjust="spacingAndGlyphs">LCH009</text>
<text x="65.8" y="497.3" font-size="3.6" fill="#7ab8ea" textLength="10.7" lengthAdjust="spacingAndGlyphs">LCH006</text>
<text x="63.5" y="500.5" font-size="3.6" fill="#7b4f96" textLength="10.7" lengthAdjust="spacingAndGlyphs">LCH012</text>
<text x="81.2" y="495.8" font-size="3.6" fill="#e8bf3c" textLength="11.5" lengthAdjust="spacingAndGlyphs">LCH015</text>
<text x="85.8" y="499.1" font-size="3.6" fill="#e8bf3c" textLength="11.5" lengthAdjust="spacingAndGlyphs">LCH014</text>
<text x="81.2" y="502.1" font-size="3.6" fill="#555555" textLength="11.5" lengthAdjust="spacingAndGlyphs">LCH011</text>
<text x="50.4" y="504.5" font-size="3.6" fill="#c0304f" textLength="10.8" lengthAdjust="spacingAndGlyphs">LCH007</text>
<text x="72.7" y="506.0" font-size="3.6" fill="#d040a0" textLength="13.1" lengthAdjust="spacingAndGlyphs">LCH001</text>
<text x="75.8" y="508.6" font-size="3.6" fill="#d040a0" textLength="12.2" lengthAdjust="spacingAndGlyphs">LCH001</text>
<text x="96.5" y="493.2" font-size="3.6" fill="#e8bf3c" textLength="10.8" lengthAdjust="spacingAndGlyphs">LCH015</text>
<text x="117.4" y="478.6" font-size="3.6" fill="#555555" textLength="11.5" lengthAdjust="spacingAndGlyphs">LCH014</text>
<text x="115.0" y="491.9" font-size="3.6" fill="#6fb55a" textLength="11.5" lengthAdjust="spacingAndGlyphs">LCH008</text>
<text x="113.0" y="496.2" font-size="3.6" fill="#7ab8ea" textLength="11.1" lengthAdjust="spacingAndGlyphs">LCH009</text>
<text x="109.2" y="500.1" font-size="3.6" fill="#a49ed4" textLength="10.6" lengthAdjust="spacingAndGlyphs">LCH010</text>
<text x="90.0" y="498.1" font-size="3.6" fill="#e8bf3c" textLength="10.6" lengthAdjust="spacingAndGlyphs">LCH014</text>
<text x="131.8" y="504.9" font-size="3.6" fill="#a49ed4" textLength="11.4" lengthAdjust="spacingAndGlyphs">LCH010</text>
<text x="137.7" y="484.5" font-size="3.6" fill="#7ab8ea" textLength="11.3" lengthAdjust="spacingAndGlyphs">LCH006</text>
<text x="158.2" y="475.3" font-size="3.6" fill="#7ab8ea" textLength="12.5" lengthAdjust="spacingAndGlyphs">LCH006</text>
<text x="173.1" y="472.9" font-size="3.6" fill="#7ab8ea" textLength="12.0" lengthAdjust="spacingAndGlyphs">LCH006</text>
<text x="182.2" y="478.7" font-size="3.6" fill="#b98a55" textLength="12.5" lengthAdjust="spacingAndGlyphs">LCH013</text>
<text x="180.8" y="484.0" font-size="3.6" fill="#b98a55" textLength="11.5" lengthAdjust="spacingAndGlyphs">LCH015</text>
<text x="152.9" y="482.1" font-size="3.6" fill="#555555" textLength="11.5" lengthAdjust="spacingAndGlyphs">LCH011</text>
<text x="164.4" y="483.5" font-size="3.6" fill="#b8c690" textLength="11.6" lengthAdjust="spacingAndGlyphs">LCH017</text>
<text x="173.6" y="491.7" font-size="3.6" fill="#b8c690" textLength="10.5" lengthAdjust="spacingAndGlyphs">LCH014</text>
<text x="157.2" y="492.1" font-size="3.6" fill="#b8c690" textLength="10.6" lengthAdjust="spacingAndGlyphs">LCH014</text>
<circle cx="82.4" cy="376.7" r="0.95" fill="#4a1f66"/>
<circle cx="83.6" cy="376.7" r="0.95" fill="#4a1f66"/>
<circle cx="75.6" cy="381.9" r="0.95" fill="#4a1f66"/>
<circle cx="79.0" cy="386.0" r="0.95" fill="#4a1f66"/>
<circle cx="81.0" cy="388.3" r="0.95" fill="#4a1f66"/>
<circle cx="87.7" cy="384.8" r="0.95" fill="#4a1f66"/>
<circle cx="95.0" cy="384.4" r="0.95" fill="#4a1f66"/>
<circle cx="173.0" cy="423.0" r="0.95" fill="#4a1f66"/>
<circle cx="184.3" cy="423.5" r="0.95" fill="#4a1f66"/>
<circle cx="188.2" cy="433.8" r="0.95" fill="#4a1f66"/>
<circle cx="65.0" cy="486.2" r="0.95" fill="#c4305a"/>
<circle cx="67.8" cy="488.1" r="0.95" fill="#6cb2e6"/>
<circle cx="63.2" cy="494.2" r="0.95" fill="#6cb2e6"/>
<circle cx="55.5" cy="497.6" r="0.95" fill="#c4305a"/>
<circle cx="78.0" cy="493.5" r="0.95" fill="#6cb2e6"/>
<circle cx="79.6" cy="495.8" r="0.95" fill="#74b84c"/>
<circle cx="76.5" cy="498.8" r="0.95" fill="#74b84c"/>
<circle cx="80.4" cy="499.2" r="0.95" fill="#6cb2e6"/>
<circle cx="88.0" cy="497.6" r="0.95" fill="#74b84c"/>
<circle cx="64.2" cy="502.7" r="0.95" fill="#74b84c"/>
<circle cx="73.2" cy="503.9" r="0.95" fill="#4a1f66"/>
<circle cx="74.7" cy="506.8" r="0.95" fill="#6cb2e6"/>
<circle cx="102.7" cy="494.5" r="0.95" fill="#c4305a"/>
<circle cx="112.7" cy="491.5" r="0.95" fill="#c4305a"/>
<circle cx="110.2" cy="495.6" r="0.95" fill="#74b84c"/>
<circle cx="111.6" cy="495.4" r="0.95" fill="#6cb2e6"/>
<circle cx="128.5" cy="480.3" r="0.95" fill="#74b84c"/>
<circle cx="131.8" cy="500.7" r="0.95" fill="#c4305a"/>
<circle cx="92.7" cy="500.7" r="0.95" fill="#333"/>
<circle cx="159.6" cy="476.2" r="0.95" fill="#6cb2e6"/>
<circle cx="162.0" cy="477.9" r="0.95" fill="#6cb2e6"/>
<circle cx="174.5" cy="474.3" r="0.95" fill="#c4305a"/>
<circle cx="182.5" cy="479.6" r="0.95" fill="#74b84c"/>
<circle cx="180.8" cy="480.1" r="0.95" fill="#6cb2e6"/>
<circle cx="171.0" cy="484.6" r="0.95" fill="#74b84c"/>
<circle cx="161.3" cy="488.0" r="0.95" fill="#c4305a"/>
<circle cx="172.9" cy="487.2" r="0.95" fill="#6cb2e6"/>
<circle cx="148.4" cy="480.2" r="0.95" fill="#74b84c"/>
<text x="227.40" y="391.00" font-size="5.8" fill="#000" text-anchor="middle" textLength="17.2" lengthAdjust="spacingAndGlyphs" stroke="#000" stroke-width="0.12">Groups</text>
<path d="M204.1 397.90H210.9" stroke="#c4305a" stroke-width="1.0"/>
<circle cx="207.5" cy="397.90" r="1.8" fill="#c4305a"/>
<text x="214.00" y="400.00" font-size="6.0" fill="#000" textLength="11.8" lengthAdjust="spacingAndGlyphs" stroke="#000" stroke-width="0.12">CD1a</text>
<path d="M204.1 405.25H210.9" stroke="#74b84c" stroke-width="1.0"/>
<circle cx="207.5" cy="405.25" r="1.8" fill="#74b84c"/>
<text x="214.00" y="407.35" font-size="6.0" fill="#000" textLength="29.5" lengthAdjust="spacingAndGlyphs" stroke="#000" stroke-width="0.12">CD207 High</text>
<path d="M204.1 412.60H210.9" stroke="#6cb2e6" stroke-width="1.0"/>
<circle cx="207.5" cy="412.60" r="1.8" fill="#6cb2e6"/>
<text x="214.00" y="414.70" font-size="6.0" fill="#000" textLength="26.55" lengthAdjust="spacingAndGlyphs" stroke="#000" stroke-width="0.12">CD207 Low</text>
<path d="M204.1 419.95H210.9" stroke="#6e3a86" stroke-width="1.0"/>
<circle cx="207.5" cy="419.95" r="1.8" fill="#6e3a86"/>
<text x="214.00" y="422.05" font-size="6.0" fill="#000" textLength="9.0" lengthAdjust="spacingAndGlyphs" stroke="#000" stroke-width="0.12">CD3</text>
<text x="227.00" y="437.00" font-size="5.8" fill="#000" text-anchor="middle" textLength="19.6" lengthAdjust="spacingAndGlyphs" stroke="#000" stroke-width="0.12">Samples</text>
<text x="204.30" y="445.70" font-size="5.9" fill="#d040a0" textLength="19.3" lengthAdjust="spacingAndGlyphs" stroke="#d040a0" stroke-width="0.15">LCH001</text>
<text x="204.30" y="452.95" font-size="5.9" fill="#7ab8ea" textLength="19.3" lengthAdjust="spacingAndGlyphs" stroke="#7ab8ea" stroke-width="0.15">LCH006</text>
<text x="204.30" y="460.20" font-size="5.9" fill="#c0304f" textLength="19.3" lengthAdjust="spacingAndGlyphs" stroke="#c0304f" stroke-width="0.15">LCH007</text>
<text x="204.30" y="467.45" font-size="5.9" fill="#6fb55a" textLength="19.3" lengthAdjust="spacingAndGlyphs" stroke="#6fb55a" stroke-width="0.15">LCH008</text>
<text x="204.30" y="474.70" font-size="5.9" fill="#3d5d96" textLength="19.3" lengthAdjust="spacingAndGlyphs" stroke="#3d5d96" stroke-width="0.15">LCH009</text>
<text x="204.30" y="481.95" font-size="5.9" fill="#a49ed4" textLength="19.3" lengthAdjust="spacingAndGlyphs" stroke="#a49ed4" stroke-width="0.15">LCH010</text>
<text x="229.80" y="445.70" font-size="5.9" fill="#4d7d62" textLength="19.3" lengthAdjust="spacingAndGlyphs" stroke="#4d7d62" stroke-width="0.15">LCH011</text>
<text x="229.80" y="452.95" font-size="5.9" fill="#7b4f96" textLength="19.3" lengthAdjust="spacingAndGlyphs" stroke="#7b4f96" stroke-width="0.15">LCH012</text>
<text x="229.80" y="460.20" font-size="5.9" fill="#b98a55" textLength="19.3" lengthAdjust="spacingAndGlyphs" stroke="#b98a55" stroke-width="0.15">LCH013</text>
<text x="229.80" y="467.45" font-size="5.9" fill="#b8c690" textLength="19.3" lengthAdjust="spacingAndGlyphs" stroke="#b8c690" stroke-width="0.15">LCH014</text>
<text x="229.80" y="474.70" font-size="5.9" fill="#e8bf3c" textLength="19.3" lengthAdjust="spacingAndGlyphs" stroke="#e8bf3c" stroke-width="0.15">LCH015</text>
<path d="M294.2 368.7V474.5H448.8" stroke="#000" stroke-width="1.0" fill="none"/>
<path d="M290.9 474.50H294.2M290.9 464.15H294.2M290.9 453.80H294.2M290.9 443.45H294.2M290.9 433.10H294.2M290.9 422.75H294.2M290.9 412.40H294.2M290.9 402.05H294.2M290.9 391.70H294.2M290.9 381.35H294.2M290.9 371.00H294.2M308.6 474.5V477.6M329.6 474.5V477.6M350.6 474.5V477.6M371.7 474.5V477.6M392.7 474.5V477.6M413.8 474.5V477.6M434.9 474.5V477.6" stroke="#000" stroke-width="0.8" fill="none"/>
<text x="288.8" y="476.60" font-size="6.0" text-anchor="end" stroke="#000" stroke-width="0.15" textLength="3.10" lengthAdjust="spacingAndGlyphs">0</text>
<text x="288.8" y="466.25" font-size="6.0" text-anchor="end" stroke="#000" stroke-width="0.15" textLength="6.20" lengthAdjust="spacingAndGlyphs">10</text>
<text x="288.8" y="455.90" font-size="6.0" text-anchor="end" stroke="#000" stroke-width="0.15" textLength="6.20" lengthAdjust="spacingAndGlyphs">20</text>
<text x="288.8" y="445.55" font-size="6.0" text-anchor="end" stroke="#000" stroke-width="0.15" textLength="6.20" lengthAdjust="spacingAndGlyphs">30</text>
<text x="288.8" y="435.20" font-size="6.0" text-anchor="end" stroke="#000" stroke-width="0.15" textLength="6.20" lengthAdjust="spacingAndGlyphs">40</text>
<text x="288.8" y="424.85" font-size="6.0" text-anchor="end" stroke="#000" stroke-width="0.15" textLength="6.20" lengthAdjust="spacingAndGlyphs">50</text>
<text x="288.8" y="414.50" font-size="6.0" text-anchor="end" stroke="#000" stroke-width="0.15" textLength="6.20" lengthAdjust="spacingAndGlyphs">60</text>
<text x="288.8" y="404.15" font-size="6.0" text-anchor="end" stroke="#000" stroke-width="0.15" textLength="6.20" lengthAdjust="spacingAndGlyphs">70</text>
<text x="288.8" y="393.80" font-size="6.0" text-anchor="end" stroke="#000" stroke-width="0.15" textLength="6.20" lengthAdjust="spacingAndGlyphs">80</text>
<text x="288.8" y="383.45" font-size="6.0" text-anchor="end" stroke="#000" stroke-width="0.15" textLength="6.20" lengthAdjust="spacingAndGlyphs">90</text>
<text x="288.8" y="373.10" font-size="6.0" text-anchor="end" stroke="#000" stroke-width="0.15" textLength="9.30" lengthAdjust="spacingAndGlyphs">100</text>
<text x="272.40" y="420.70" font-size="6.3" fill="#000" text-anchor="middle" textLength="82.9" lengthAdjust="spacingAndGlyphs" transform="rotate(-90 272.40 420.70)" stroke="#000" stroke-width="0.15">% cells with <tspan font-style="italic">BRAF-V600E</tspan> allele</text>
<circle cx="308.5" cy="449.66" r="2.0" fill="none" stroke="#b81c44" stroke-width="1.05"/>
<circle cx="311.3" cy="453.80" r="2.0" fill="none" stroke="#b81c44" stroke-width="1.05"/>
<circle cx="305.2" cy="458.98" r="2.0" fill="none" stroke="#b81c44" stroke-width="1.05"/>
<circle cx="305.2" cy="467.25" r="2.0" fill="none" stroke="#b81c44" stroke-width="1.05"/>
<circle cx="314.4" cy="467.25" r="2.0" fill="none" stroke="#b81c44" stroke-width="1.05"/>
<circle cx="305.2" cy="474.50" r="2.0" fill="none" stroke="#b81c44" stroke-width="1.05"/>
<circle cx="311.3" cy="473.46" r="2.0" fill="none" stroke="#b81c44" stroke-width="1.05"/>
<circle cx="323.1" cy="376.18" r="2.0" fill="none" stroke="#b81c44" stroke-width="1.05"/>
<circle cx="332.5" cy="371.00" r="2.0" fill="none" stroke="#b81c44" stroke-width="1.05"/>
<circle cx="326.3" cy="382.38" r="2.0" fill="none" stroke="#b81c44" stroke-width="1.05"/>
<circle cx="332.5" cy="385.49" r="2.0" fill="none" stroke="#b81c44" stroke-width="1.05"/>
<circle cx="329.6" cy="392.74" r="2.0" fill="none" stroke="#b81c44" stroke-width="1.05"/>
<circle cx="329.6" cy="408.26" r="2.0" fill="none" stroke="#b81c44" stroke-width="1.05"/>
<circle cx="329.6" cy="437.24" r="2.0" fill="none" stroke="#b81c44" stroke-width="1.05"/>
<circle cx="345.9" cy="372.04" r="2.0" fill="none" stroke="#b81c44" stroke-width="1.05"/>
<circle cx="355.3" cy="371.00" r="2.0" fill="none" stroke="#b81c44" stroke-width="1.05"/>
<circle cx="348.0" cy="374.11" r="2.0" fill="none" stroke="#b81c44" stroke-width="1.05"/>
<circle cx="350.5" cy="374.62" r="2.0" fill="none" stroke="#b81c44" stroke-width="1.05"/>
<circle cx="353.0" cy="373.59" r="2.0" fill="none" stroke="#b81c44" stroke-width="1.05"/>
<circle cx="350.6" cy="417.57" r="2.0" fill="none" stroke="#b81c44" stroke-width="1.05"/>
<circle cx="368.4" cy="371.00" r="2.0" fill="none" stroke="#b81c44" stroke-width="1.05"/>
<circle cx="375.2" cy="371.00" r="2.0" fill="none" stroke="#b81c44" stroke-width="1.05"/>
<circle cx="371.8" cy="372.55" r="2.0" fill="none" stroke="#b81c44" stroke-width="1.05"/>
<circle cx="371.8" cy="377.21" r="2.0" fill="none" stroke="#b81c44" stroke-width="1.05"/>
<circle cx="371.8" cy="385.49" r="2.0" fill="none" stroke="#b81c44" stroke-width="1.05"/>
<circle cx="371.8" cy="392.22" r="2.0" fill="none" stroke="#b81c44" stroke-width="1.05"/>
<circle cx="388.5" cy="474.50" r="2.0" fill="none" stroke="#b81c44" stroke-width="1.35"/>
<circle cx="390.59999999999997" cy="474.50" r="2.0" fill="none" stroke="#b81c44" stroke-width="1.35"/>
<circle cx="392.7" cy="474.50" r="2.0" fill="none" stroke="#b81c44" stroke-width="1.35"/>
<circle cx="394.8" cy="474.50" r="2.0" fill="none" stroke="#b81c44" stroke-width="1.35"/>
<circle cx="396.9" cy="474.50" r="2.0" fill="none" stroke="#b81c44" stroke-width="1.35"/>
<circle cx="409.6" cy="474.50" r="2.0" fill="none" stroke="#b81c44" stroke-width="1.35"/>
<circle cx="411.7" cy="474.50" r="2.0" fill="none" stroke="#b81c44" stroke-width="1.35"/>
<circle cx="413.8" cy="474.50" r="2.0" fill="none" stroke="#b81c44" stroke-width="1.35"/>
<circle cx="415.90000000000003" cy="474.50" r="2.0" fill="none" stroke="#b81c44" stroke-width="1.35"/>
<circle cx="418.0" cy="474.50" r="2.0" fill="none" stroke="#b81c44" stroke-width="1.35"/>
<circle cx="430.7" cy="474.50" r="2.0" fill="none" stroke="#b81c44" stroke-width="1.35"/>
<circle cx="432.79999999999995" cy="474.50" r="2.0" fill="none" stroke="#b81c44" stroke-width="1.35"/>
<circle cx="434.9" cy="474.50" r="2.0" fill="none" stroke="#b81c44" stroke-width="1.35"/>
<circle cx="437.0" cy="474.50" r="2.0" fill="none" stroke="#b81c44" stroke-width="1.35"/>
<circle cx="439.09999999999997" cy="474.50" r="2.0" fill="none" stroke="#b81c44" stroke-width="1.35"/>
<path d="M301.3 462.91H315.2" stroke="#222" stroke-width="1.1"/>
<path d="M322.5 392.74H336.5" stroke="#222" stroke-width="1.1"/>
<path d="M343.7 378.76H357.8" stroke="#222" stroke-width="1.1"/>
<path d="M365.0 376.69H379.0" stroke="#222" stroke-width="1.1"/>
<text x="310.80" y="485.20" font-size="7.0" text-anchor="end" stroke="#000" stroke-width="0.15" textLength="32.0" lengthAdjust="spacingAndGlyphs" transform="rotate(-42 310.80 485.20)">CD1c<tspan font-size="3.8" dy="-2.2">+</tspan><tspan dy="2.2">mDCs</tspan></text>
<text x="331.80" y="485.20" font-size="7.0" text-anchor="end" stroke="#000" stroke-width="0.15" textLength="52.0" lengthAdjust="spacingAndGlyphs" transform="rotate(-42 331.80 485.20)">CD1a<tspan font-size="3.8" dy="-2.2">+</tspan><tspan dy="2.2"> CD207</tspan><tspan font-size="3.8" dy="-2.2">-</tspan><tspan dy="2.2"> cells</tspan></text>
<text x="352.80" y="485.20" font-size="7.0" text-anchor="end" stroke="#000" stroke-width="0.15" textLength="55.0" lengthAdjust="spacingAndGlyphs" transform="rotate(-42 352.80 485.20)">CD1a<tspan font-size="3.8" dy="-2.2">+</tspan><tspan dy="2.2">CD207</tspan><tspan font-size="3.8" dy="-2.2">low</tspan><tspan dy="2.2"> cells</tspan></text>
<text x="373.90" y="485.20" font-size="7.0" text-anchor="end" stroke="#000" stroke-width="0.15" textLength="56.5" lengthAdjust="spacingAndGlyphs" transform="rotate(-42 373.90 485.20)">CD1a<tspan font-size="3.8" dy="-2.2">+</tspan><tspan dy="2.2">CD207</tspan><tspan font-size="3.8" dy="-2.2">high</tspan><tspan dy="2.2"> cells</tspan></text>
<text x="394.90" y="485.20" font-size="7.0" text-anchor="end" stroke="#000" stroke-width="0.15" textLength="45.5" lengthAdjust="spacingAndGlyphs" transform="rotate(-42 394.90 485.20)">CD3<tspan font-size="3.8" dy="-2.2">+</tspan><tspan dy="2.2">lymphocytes</tspan></text>
<text x="416.00" y="485.20" font-size="7.0" text-anchor="end" stroke="#000" stroke-width="0.15" textLength="29.0" lengthAdjust="spacingAndGlyphs" transform="rotate(-42 416.00 485.20)">CD14<tspan font-size="3.8" dy="-2.2">+</tspan><tspan dy="2.2">DCs</tspan></text>
<text x="437.10" y="485.20" font-size="7.0" text-anchor="end" stroke="#000" stroke-width="0.15" textLength="48.0" lengthAdjust="spacingAndGlyphs" transform="rotate(-42 437.10 485.20)">CD11c<tspan font-size="3.8" dy="-2.2">+</tspan><tspan dy="2.2">CD1c</tspan><tspan font-size="3.8" dy="-2.2">-</tspan><tspan dy="2.2"> cells</tspan></text>
<text x="452.70" y="486.00" font-size="5.8" fill="#000" textLength="11.5" lengthAdjust="spacingAndGlyphs">N=8</text>
<text x="371.80" y="536.80" font-size="7.9" fill="#000" text-anchor="middle" font-weight="bold" textLength="67.5" lengthAdjust="spacingAndGlyphs">LCH lesion subpopulations</text>
<text transform="translate(264.4 353.5) scale(1.15 1)" x="0" y="0" font-size="10.8" font-weight="bold">D</text>
<rect x="0.5" y="0.5" width="519" height="545" fill="none" stroke="#000" stroke-width="1.2"/>
</svg></body></html>
